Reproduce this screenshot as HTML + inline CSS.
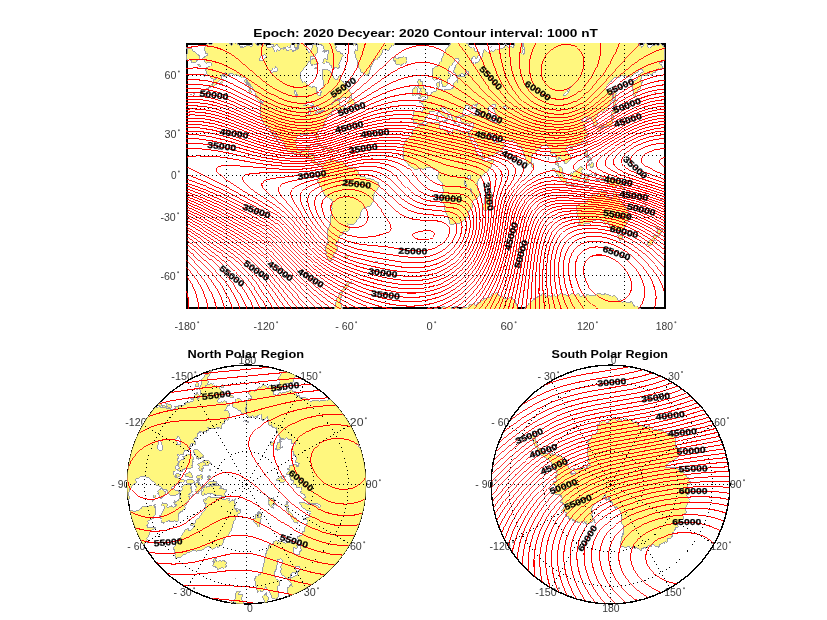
<!DOCTYPE html><html><head><meta charset="utf-8"><style>
html,body{margin:0;padding:0;background:#fff;width:827px;height:620px;overflow:hidden}
svg{display:block;will-change:transform}
path,line,circle,rect{shape-rendering:crispEdges}
text{font-family:"Liberation Sans",sans-serif}
.tk text{font-size:10px;fill:#3a3a3a}
.tk circle{fill:#6a6a6a;stroke:none;shape-rendering:auto}
.cl text{font-size:8.7px;font-weight:bold;fill:#000;stroke:#000;stroke-width:0.25px}
.ti{font-size:10.5px;font-weight:bold;fill:#000}
</style></head><body>
<svg width="827" height="620" viewBox="0 0 827 620">
<defs><clipPath id="mclip"><rect x="186" y="43" width="480" height="266"/></clipPath><clipPath id="nclip"><circle cx="246.5" cy="484.5" r="119"/></clipPath><clipPath id="sclip"><circle cx="610.5" cy="484.5" r="119"/></clipPath>
<clipPath id="nclip2"><circle cx="246.5" cy="484.5" r="119.5"/></clipPath><clipPath id="sclip2"><circle cx="610.5" cy="484.5" r="119.5"/></clipPath></defs>
<path d="M186,43h480v2h-480zM186,307h480v2h-480zM186,43h2v266h-2zM664,43h2v266h-2z" fill="#000"/>
<g clip-path="url(#mclip)">
<path d="M202.3,59l.5-1.3 1.4,.1 .2-.8 1-.3 .5-1 .6-.3 .6,.3 1-1.7-.9-.6-1.4,.7-1.1-4-.4,.2-.3-.5 .8-2.2 1.6-1.9 .6-1.9 .8-.5 1.5,1.5 .8-1 1,.7 .1,.8 1.9-4.2 .8,.4 .6-.9 .8,.9 .5-1.2 1.2-.5 .4-2.3 .6-.6 1,.6 .3-.5 1.5,3.1 .6-.7 .4,.4 .6-1.2 1.6,2 1.9-.5 .5,1.1 2.2,1.1 .6,1.5 .9-.3 .7,.6 .6,1.5 1.7-2.9 .8-.1 .4,.5 .3-.3 .5,.7 1.3-1 1.9,2.5 1.1-.4 1.4,3.6 1.4-2 .6,1.3 1.5-.2 .6-1 .7,.6 1.6-2.3 .6,1.2 1.4-.2 .3-.4 .5,1 1.6,.5 .6-.5 1-3.5 .3-.5 .8,.5 .2-.8 1-.8 .7,3.4 1.2,1.1 1.2-.2 1-1.3 .7,.1 .2,1.1 .7,.5 1-1.2 .3,.7 2-1.6 .8,.2 .3-.4 2.5,4.3 .3-.6 2,0 1.2-1.2 .7,.3 .9,2.7 1,1.1 .2-.3 1.1,2.6 2.2-3.2 1,1.6 .7,.1 .2-.9 1.1-.4 .3-.8 1.1,.3 .7-.6 1,.8 1-1.3 .7,.2 .6,1.5 1.3,1.2 2.7-2.4 1.5,.7 1.1,2.4 .8,.1 .5-1.3 .4,.4 .7-.4 .3,.5 .8-2.1 .8,.7 .7-.6 .3,.2 .3-.6 1.1-6.2 .6-1.5 .4,0 .3-4.2 2.8,3.5 .2,2.3 .7,1.2 .8,3.2 1.3,.3 1,2.9 1.7,2.9 .8-.3 .1-2.1 .5-.6 .3,.2 1.4-2.7 .3-3.2 .3-.1 .5,.9 .6-.2 .7-1.6 .8,.3 .9,1.3 1.2,4.3-.5,3.5-2.3,4.1-.8,.3-.7-.6-1,.7-.8-.3-.2-.8-.3,.2-1.6,5.9-1.2,.1-2,4.2-.8,.1-2.6,3.3-.7,1.6-.7-.2-.5,1-.2,1.8-.7,1.3 .3,2.4 .4,1.2 1.1,1.1 .9,2.5 1-1 1.2-.1 1.3,2.2 1.4,1.2 .8,.1 .5,1.2 1.4-.1 1.2,1.1 1-.6 1,.3 .7-1.1 .3,.3 .1,.5 1.6,1 .7,5.8 1.7,2.2 1-.4 1,.4 .6-4.5-.6-2.2 1.5-.9 1.2-1.8 .7-3.2-.1-1.2-1.3-2.4-.4-.1-.3-1.3 .8-1.7-.3-2.9 .4-2.2-.2-1.6-.7-.8 1,1.1 1.6-.7 .7,.8 .7-.9 1.2,1 2.8,.7 .7,.6 .4,1.4 1.6-.1 .6,5.3 1.5,.2 1.2,1.6 .2-.4 .9,.5 1.6-3.9 1.3-1.4 .3,.7 .1,3 .7,1.4 1.4,1.6 .7,.2 .7,2 1.3,1.1 .7,2.3 3.2,3 .3,1.9 1.6,1.1 .6,1.6-.7,1.2-1,.1-1.8,1.9-1.6,.7-.6-.1-.8-1.2-.6,.4-1.1-.4-2.1,1.4-.3,1.1-1.9,.4-1.8-1.3-1.2,1.4-.7-.2-1.4,.7-2.7,4.3 .8-1.6 2.1-1.6 3.1-1.4 1.7,0 1,.9-.8,2.6 .7,1.9 1.7,.6 .9-.7 .9,.5 .5,1.1 1.6-.2-.9,1.2-1.7,.4-.7,.8-.9-.1-.7,.7-1.7,.3-.7,.7-.5-1.5 1.6-1.5-.6,.6-2.6,.2-3.7,2.3-.6,.9-.2,1.1 1.1,1.5-4.2,.7-1.2,1.4-.5,2.5-1.4,1.1 0,1.1-1.1,1.4 .3,1.2 .8,.8-.2,.8-.8,.2-2.7,2.6-1.6,.3-2.3,2.8-.2,2.7 1.2,2.7 0,1.4 .6,.3-.2,2-.5,.6-.8-.3-.9-1.4-.2-1.2-.9-.7 .1-.8-1.6-2.7-1.6-.3-.7,.3-1.4-.9-1.1,.5-.5-.5-1.5-.2-.8,.5 .4,1.5-1.4,.2-3.7-1.1-1,.2-4.3,2.8 0,1.1-1.2,3.1 .7,2.2-.6,1.4 .5,.4 .2,1.8 1.9,3.1 2.1,.8 3.2-.9 .8,.4 .8-.7 .5-2.7 1.7-.6 1.3,.4 1.3-.5 .2,1.4-1.7,3.1-.1,3.2 3.7,.1 .9,.6 1.1,0 1,.8-.8,5.3 .3,.8 2.1,1.9 1.4,.3 1.3-1.2 1.4,0 2.8,1.4 1.6-1.8 .2-.9 2.6-.9 2.1-1.4 .8-.1-.6,1.5 .8,1.8-.8,.8-.4-.6 .6-1.6 1.5-.4 .9-1.4 2.9,2.6 1.4,.2 .5-.5 1.7,.8 1.2-.7 2.7-.2 .2,1.1 2,1.4 .5,1.2 1.5,.7 1.2,1.5 2.2,.6 3.2,0 1.3,1.2 1.8,.6 1.5,2-.2,2.6 1.5,2.1 1.3,.9 1.9-.7 2,.8 1.4,1.6 4,0 .6,.6 2.8,.5 3.1,2.5 1.6,.1 .6,3.7-.6,1.6-3.1,3.4-1.7,2.8 .4,1.2-1.1,2.6 .4,1.6-.4,2.1-1.4,1.3 .2,.6-1,1.3-.1,1-1.5,1.4-2.1-.5-2.3,1.6-1.8,.4-1.9,2.4-.6,2.3 .2,1.4-1.4,1.8-.3,1.4-2.3,2.1-.5,1.7-1.3,1.5-2.4,1.8-.9-.3-2,.4-1.7-1.5-.2,.9 1.6,1.5-.4,4.3-1.8,1-1,0-.7,.8-1.7-.5-.6,.4-.6,1.7 .3,.9-1,0-.7,.9-1-.6-1,.4 0,1.9 1.7,1.3-1.1,.2-.9,.9-.6,1.4 .2,1.6-1.9,.7-.5,.8-.4,1.3 1.9,1.6 .4,.9-1,.6-1.5,3.7-2,2.5 .1,1.1 1.1,1.5-.8,.3-1.3-.5-.5,.5-.9,1.2 .3,1.8-.8-.5-.8,.2-1.5-.9-1.2-1.7-1.3-2.8 .2-2.4-1.1-5.1 .1-1 .9-.2 .6-.8 1-3.9 .6-.8-.7-3.6 0-3.5 .5-.6-.3-2.1 1.6-4.2-.2-.7 .7-.5 .9-3.9-.5-2.8 .5-.6 .6-4.9 .7-1.2-.2-2.3 .4-1.1-.6-1.8 1-3-.4-2.7-.8-.7-.2-1.1-1.3-1-1.2-.1-.9-1-2.4-1.2-6.1-11.7-1.6-.9 .4-1-.5-1.3 .4-.8 .9-.4 .5-1.2-1.3-.5 0-1.2 1.2-1 0-1.8 3.6-3-.2-4.4-1.4-2.3-1.4-1-1.2,1 0,1.2-4.3-1.8-1.5-1.7-1.2-.7-.2-1.8-1-1-2.4-1.7-1.7,.3-1.9-.9-.6,.2-.3-.5-1.2-.2-.9-1.6-.8-.5-.9-.2-1.2,.7-1.4,0-1.1-.8-.7,.2-1.6-.8-1.7-.3-1-.9-3-1-2.4-2.1-.4-.9 .5-1.5-.6-.6 0-.9-1.4-1.2-.7-1.9-1.3-1.3-1.6-.5 0-1.2-1.4-1-2.2-3-.6-.2-.3-1.6-.9-1.2-1-.1-.7-.7 .1,1.4 1.6,2.9 1.4,1.3 1.4,4.4 2.2,2 .3,.9-.7,.5-1.8-2.5-1.1-.3-.3-.9 .3-.9-3-2.5 .5-1.2-1.6-1.1-1.2-1.9-1.7-4.4-2-1.5-2.1-.6 0-.8-2.3-2.8-.3-1.7-1.5-1.8-.2-1.6-.8-1 .4-2-.3-6.4 .6-1.8-1.1-4.7 1,.6 1-.2 .5,1.3 .7-1.3-.1-1.1-1.2-.8-.3-.8-1.1-.2-.9-1.2-.7-.1-2.2-2.6-.8-.3-.4-2.1-2.9-3.8-.3-2.3-.5-.9-.8,.1-.6-2-1.4-1-.7-1.7-1.1-.9-.2-1.2-1.2-2-1.9-.3-1,1.3-1.4-1.9-.8,.4-.4-.6-1.8-.6-.2-.6-1,.2-1.2-1-1.1,1.2-1.5-.8-.6-.9-.7,.4-1.9-1-1.3,.8-.6,1.3-.9-.2-.3,.8-1.4,1-.8-.7-1.1,1.2 0-3.9 2.1-1.2-.4,1.6-3.4,1.1-1,4.5-2.8,2.1-1.3,2.5-1.9,.6-1.4,1.7-1.3-.6-2.2,1.9-3.5,1.4 1.3-1.6 .7,.1 .9-.6 1.9-2.6 1.4-.5 1.8-4.7 2.2-.8-.8,.8-1-.4-.9,.8-.9-1.1-1,.5-1-.3-.9-1.5-.1-1.6-1.5,.7-1.3-1.1-2.3-5.9 .6,.2 .8-1 .3-1.8 1,.6 1.6-1.3 .8,.3 1.1-1.1 .5-1.8-1-.9-.7,.6-.4-.5-.8,.4-1-.9-1.6,1-1.2-1.5-.8,.2 0-1.9-.6-.7-.3,.3zM367.7,75.8l.3-1.3 1.1-1.1 1.9-6.9 1.7-1.9 1.3-4 .6-.1 .4-1.2 .9,1 .5,0 2-2.3 .8-.2 1.1-2.5 .8-.4 .1-1.4 1-1 .6-1.9 1.1-1.4 1.4,.9 .9-1.2 .5,1.2 1.9,.5 1.8-3.7 .3,.4 .3-.3 .5-1.2 .8-.1 .3,.4 .2-.5 .8,.2 1.5-3.8 .9,.3 .6-6.1-1-3.1 .4,.3 .6-.8 .8-1.8 .2-2.2 .7-.2 2.1-6.5 .5-6-.6,0 8.6,0-79.7,0 5.5,0 .1,.5 .3-.5 8.9,0 .8,2.6 .6-1 .7,.2 1.1-.7 .5,2.3 .8,.9 1.1,6.4 .3-.3 .7,2.1 .5,.2 1.2,3.8 .5,5.1 .3,.8 .3-.4 1.3,1.3 .4,1.1-.9,2.4 .5-.2 .7,.5 .8-.7 1.5,2.7 .3,4.1-1,1.7-1.1-1-.8,.4-.6,3.1 .9,1.7 .4,2.7 1.3,2.4 .3,3.3 1,2.1 .2,1.8 1.5,1.9 .8,2.7 .6,.3 1.1-.5 .4,1.3 1,.6 .9-.3 .5,1.5 .9-.2 .9,1.2zM343.4,55.7l-1.9,2.1-.7,3.2-.7,.7-.5-.2-.3,.8-.5,2.6 .9,2.6-.8-.4-1,1.6-.8-.2-.8-1.6-1.5,1.2-1-.3-.9,.8-.9-1.1-.2-1.7-.8-.2-1.5-2.1-2.9-2-.6,0-1.1,1.6-1.4,.7-.6-1-.7,0 .8-.9 1.1-2.8 .7-.6 1,.2 .7,.9 1.3-.3-.8-3.7 .7-1.4 .3,.2 .8-1.1-.6-3.1-1.2,.1-.4,1.3-.6,.5-.4-1.4-1.7-1.6-.6-2.9-1.5-.5-.4-1.9-.7,.7-.4-.5-.7,.4-1.2-.7-.5,.8-.9-1.7-.3,.2-.4-.9-.7-.2-1.1,1-1.2,0-.7-1.8-1.3-1.3-1.2,1-.8,1.5-.3-.8-.5,.3-.4-2.1-.4-.2-.4,.5-.6-1.3-.6-6 .8-3 1.6-1.2 1.6,.6 .6,1.2 1.3-2.2 1.1,1.8 .5-1.4 .4,.6 .3-.3 .6,.5 1.1-1.9 .3,.5 .3-.2 .9,1.6 1.2,3.8 .6,.2 .6-1.5 .6-.2 .9,1.1 .5,2.4 .6-1.9 .7,.1 .2,.5 .5-1.1 .9,.7 .4-.5 .9,1.3 .2,1.5 .3-.3 .6,.8 .9,2.6 .7,.2 .4,.7 .9-.8 .5,.2 .4,1.8 1.9,1.2 .3-.2 2,3.8 1.3,.8-.6,2.6 .7,.7 .5,1.7 .3-.3 2.1,.5 .3-.4 .7,.8 .3,1.6 1.4-.6zM325.3,15.9l-23.3,0zM319.3,23.8l-.4,0-.5-1.7-.8,0-.3-1.1-1,1.2-.9,2.5-.7-1.3-.7,.4-1.4-1.1-.3,.3-.6-1.3-.8-.3-.3,.3-.7-.7-1.2,2.8-1-2.3-.7,.8-.7-.9-.8,2.8-.4-.3-.4,.4-1.6-3-.4-4.3 .8-.7 1.1,2.3 1.4-2.7 10.6,0 1.2,3.6 1.1-1.3 .4,1zM291.7,44.6l-.7,.6-.3,1.7-.6,.7-.7,0-1.6-2.1-.5,1.4-2.1,.1-.8,1.4-.8-1.2-1.1,1-.6-.7-.8,1.5-.4-.1-1.6-1.4-2.2-3.5-2.5,2.7-.8-2.2-2.5-.2-.9-1.5-.7-.1-1.2-5.3 1.1,.2 1.8-4.7 .9,0 .6,1.3 .8,.3 1-2.3 .6,.1 .5,1 .8,0 .6-.8 .3,.3 .4-1.6 .8,1.3 .5-.9 .7,.1 .9,1.8 1.5-3.5 1.4,3 .6-.8 3,7.9 .3,.4 .7-.6 .6,1.6 2-.3zM259.1,35.7l.5,1.6 1,.7 .3-.3 .3,.8 1,.5 2.6-2.4 .5-2.2 .3-.5 .6,.1 .5-2.2 .9-1 .6,.5 .4-.2 .8-1.3 .1-1.7-.7-1-.3,.8-.8-.8-.4,.3-.5-2.2-.7,.4-.6-1.3-1-.8-.6,.9-.3-.2-1.5-2.9-.6,2-.6,.2-.7,1.3-.2,3.3-1.3,4.6zM285.2,20.7l-.5-.5-.5,.4-.7-1-1.3,2.4-.8,.3-2.1-2-.9,1.4-.3,1.6-.3,.3-.5-.8-.6,2.3-1.2,.8-.8-.4-.6-2.7-.8-.6-.5,.7-1.1-2.6-.6,.1-.4,1.4-.5,0-1-4.8 .3-.4 .2,.5 .6-1.2 3.8,0 1.3,1.7 .7-1.5 3.2-.2 .8,2.1 .7-.1 .6-2 2.3,0 1.1,4.7zM296,35.3l-.4,2.1-2.2,.9-1.2-3.1-.7-.8-.4,.5-1.2-.9-.4-1-.2-1.2 .6,.3 1.2-3.2 .3-.3 .4,.8 1.3-.3 .9-2.3 .7,.9 1.1-.1 .7,1.6zM305.3,33.1l-.4-.3-1.2,1.9-.9-.1-.8,1.1-.4-.2-.7,.8-1.2-2.4-.5-6.6 .6-1.5 .9-.1 .7-2 .5,.8 .5-.8 .7,2 .5-.1 1.5,1.9 .5,2zM296.7,19.2l-.6,2.5-.8,0-1.1,.9-.7-1.4-.8,0-.3-.4-1.2-3.8-.8,.2-.3,.9 .2-2.2 7.1,0zM310.6,15.9l-12.6,0zM318.6,63.1l-1.6,1.7-.3-.8-1-.5-2,1.8-1.3-.4-.4,.6-1.4-2.4-.6,.3 .8-1.7 .2-2.4 .7,.5 .6-.3 1-1.8 .6,1 .7-.2 1.3,.7 1.4,1.7 .5,1.7zM346.8,103.5l.8,.8 2.9-.8 .5,.9 2.5,.4 1,.6 .3-1.2 .7-.6-1.1-2.1-.1-1-2.1-.9-.7-2 0-2.4-.1,1-1.5,1.2-1.4,3.5zM261.7,102.1l-2.7-1.2-4-4 .7-.3 1.5,.4 .6-.5 2.5,2.4zM312.8,145.7l2.6-1.8 1.3,0 .6,.5 2.8-.4 2.9,2.1 2,.7 .2,.6 1.8,.6-1.9,.5-1.9-.4-.6,.4 .4-1-2.7-1.7-.7,.2-1.5-.9-1.1,.3-.6-.6-1.7,0zM326.7,150.5l1.4-1.8 1.6-.4 4.7,1.5 .3,.6-2.5,.3-1.5,.9-.8-.6-3.1-.1zM321.5,150.6l1.9,0 .9,.6-2.2,.4zM336.3,150.5l2.1,.1-.1,.6-1,.3-1-.3zM395.6,64.3l2,.3 1.3-.6 1.8,2.1 .7-1.2 1-.3 1-1.2 .5,.2 .5-.6 1.6,.1 1.3-2.5-.8-.5-.6-3.4-.8,.7-1.5-1.9-1.6,2.1-.4-.2-.6,.6-.4-.5-1.7-.1-.8,1.7-.3-.5-.8,.7-.9-1-.5-1.9-.4,1.1-1.2,.4-.4,1.1 .8,1.9 1.5,.5 .4-.5-.4,.2-1-1.3-1.3,1.4 1.1,.2 .9,1.4zM417.9,98.4l2.3,.3 1.6-.9 .6-1 .9-.3 .9,.7 1.4-1.4 .9-.1 .7,.6 .4-2.1 .2-1.3-1.9-.7-.5-2.3-1.5-1.3-1.7-4.4 0-.9 .9-1.6-1.5-.6-1.5,.4 .5-2.2 .8-.3-.7,.3-.6-.7-.6,.7-.6-.3-.6,.8-.4,1.2 .2,3.4-.8,2.1 1.3,.2 1,2.1 .6,0 1.1-.9-.6,2.5 .8,.9-1.1-.5-1,.7 .7,1.4-1.5,2.1 2,0 .5,.7-2.6,1.5zM417.5,94l.1-4.2 .5-1-1.4-1.6-1.4-.6-1.1,2.2-.5-.5-1.5,1.2 .8,3.6-1.3,1.5 .8,.9 1.6-.9 1.8,.6 1.1-1.2zM418.1,124.2l-1-1.3-.8,0-.8-.7-1.8,.4 .1-2.9-.9-.5-.2-1.1 .1-1.1 1.1-1.6-.7-3.3 1.7-1.2 2,.5 2-.2 .9,.7 2.1-1 .9,.5 .8-2 .3-2.8-1.3-2.6-3.1-1.1-.1-1.4 .5,.3 2.1-1.2 1.1,.2 .4,.7-.5-2.3 .9,.6 1.9-.2 .7-1 1-.4 .9-2.2 1.2-.7 .5,.4 1.8-3.5 1.5-.2 .6-.8 2.8-.3 .3-4.4-.8-2.3 .9-1.9 1.1,.3 .4-1.1 .7-.3-.3,1.4 .9,2.8-1.5,2.8 1.6,1.8 1.3-.9 2.2,1.2 3.1-1 .9,.5 1.9,0 1.6-1 .7,.3 .7-1.6 1.1-.3-.2-3.8 1.3-1.7 .5,.2 1.1-1 .5,.1 1,1.5-.2-3.6-.9-1.5 .7-.2 .6-1.7 1,1.1 .8-.4 3.3,.4 .7,.5 1.8-1.5-.7-1.1-1.1,.2-.5-1.2-.5,.2-.4-.6-1.6,.7-.4,.7-.4-.2-1,1.5-1,.3-.6-.3-.3,.5-1.2-.7-.7-2.2-1.4-1.2 .4-4.3 .8-.4 .6-2.8 3.1-2.9 .4-1.5-1.1-2-.4,.3-1.5-.8-.8,.5-1.2,3.4-1.3,1.2-.8,2.4-1.8,.7-1.5,2.4-.5,2 .1,2.2 .8,1.3 .7,0 .7,1.4-1.1,3.3-1-.2-.6,.8-.5,5-1.6,2.4-1.6,.2-.6-.7-1,.2-1.1-5.9-1-1-1-2.8-2.2,3.3-.8-.1-.3,.4-.6-.9-.7-.2-1.3,1.1-.3-.5-.5-3.6-.6-1.3 .4-6.4 .6-.6 .2,.4 1.2-.3 1.5-2.1 1.2,.9 .7-1.6 1.4-1.4 .5-1.8 1.2-1.4 .6-2 2-3.3 .5-2.6 1.4-1.6 2-4.2 2.9-2.6 .5-1.4 .9,0 .5-1.9 .9,.2 .5-1.1 .7,1.3 1.4,.6 .9-1.2 1.1,.2 1.2-2 .7,.9 1-1.1 .5,.7 .5-.6 1.7,1.8 .4,2 .4-.2 .4,.4 1.1-.8 1,1.5 .7-.2 .4,.5 .4-.4 .4,1.8 1,1.3 .3-.2 .4,1.3 .5,0 .8-1.1 .9,1.3 1.2-.5 1.3,4 .8,0 .6,.6 1.2-.2 .3-.7 1,.7 1,3.3-1,.9-.8-.3-.4,.4-.6,2.1-1.1,.4-1.9-2.9-.5,0-1.1,2.7-.8,0 0,4.2 1.9,.5 1,1.3 .8-.6 .6-1.6 1.3,.7 .2-.7 1.1,0 1.7-3.4 .8-.3 1.2-1.3 .3,.3 .6-6.5 .7-1.4 1.1,.4 .5,1.5 1.1-.9 1.6,1.8 1-.3 1.1,.3 1.3-2.2 1,1.7 .7,.3 1.1-1.3 .3,.5 .4-1.7 1.5-.9 2.2,1.3 2-1.5 .7,.5 .4-1.1 .9,.4 .7-.4 .3,.5 .6-2.2 1.4-1.6 .7,.2 1.2,2.2 .7,.3 1.8-.2 .3-.7 1-.4 .9,1.5 1.4-.2 .8-6.5-.4-1.7 .5-1.7 .3,0 1.1-3.2 .7-.8 .5,.1 .9-3 .2-.2 .5,.6 .6-1.3 1.1,2.5 .5-.3 .8,5.1-.8,4.6 .4,1.3 .3-.3 .3,.5 1,6.8-.6,2.3-.7,.5 0,.8 .9,.9 1.1,.1 1-4.5-.4-2.6-.4,0-.4-.8-.4-2.3 .3-2.7 2.6-8.1 .3,.3 .7-.6 1.3,1.6 .3,1.3 .4-.7 .7,.8 .6-1.7 .5-.3 .6,.7 .3-1.5 .6-.2 .1-3.8 .3-.7 .4,.2 .6-1.5 .4-.3 .3,.9 1.2-.2 1.6,1.9 .4,0 .5-1.8 .7,.2 .6,1.2 .3-.7 .4,.2 .6-1.5-.3-2.3-.5-1.1 .5-2.7 1.1-.9 .2,.8 .2-.5 .9,.2 .4,1.5 .5-.5 1.8-5.8 2.4,0 .3,1.3 .8-1.3 .4,.5 .2-.5 24.3,0 .4,.9 .9-.3 .4,.5 .5-.5-1,7-1.2,3-.3-.3-.5,.5-.5-.7-.8,0-.7-.7-1,1.9 .7,1.6 .8-1.1 .5,0 .9,.9 .2,2 .9,.3 1.4-2.4 1.1-.1 1.1-2.6 .8,1.5 .5-.1 .2,.7 .5,.2 .9,2.6 .2-.4 .8,1.2 1.1-.6 .2,.5 .5-1 .3,.8 .7-.3 .3,.6 1-1.3 .4,.7 .6-1.5 .3-.1 .4,.5 .3-.5 1,1.6 .2-.8 1,.4 .4,1.5 .3-.1 .2,.6 .6-.4 1.6-3.6 .6,2.5 .7-.7 .8,1.8 .2-.5 .7,.2 .8,4.3 1.9,4.1 .6,.1 .6-2.1 1.7-1.6 1.3,.1 1.3,3 .6-.8 .8,.2 .7-1.7 .5,.3 1-.7 .4,.7 .8-1.9 .7,1.8 .2-.5 .5,.5 .8-4 1.4,.4 .7-2.2 .4,.4 .9-1.1 .4,.6 .4-.6 1.2,2 .7-2 2.3,1.8 .4,1.2 1.6,0 .5,.9 .8-.1 .2,.6 .6-.4 .9,1.9 .7,.2 1.9,3.1 1-1.6 .2,.3 .3-.4 .5,.7 1-1.1 1,1.3 1-1 .5,1 .5-.2 .7,1.7 1.7-1.2 .3-.9 1.1,.7 1.6,3.2 .6,2.2 1.4,.4 .8,2.2 .7-.2 2-4.4 .6,.1 .2-.7 .9-.4 .5,.5 2.1,5.7 2.1-.2 .9-1.2 .3,.3 .8-3.2 .3,1.4 .5,.6 .6-.7 .5,.6 .4-1 .6,0 .5-.8 1.5,1.7 1.9-.9 .6-1.4 .2,.5 1.2-.2 1.2,2.1 1.1-.3 .8,1.8 0,12-2.3,3.4-.3,.2-2-1.4-.3,1.3 .3,1.2 1,.2 1.5,1.9 .2,1.9 .8,1-2.3-.9-.9,1.3-.7-.4-.3,.3-1.2-.2-1,1.6-.7,0-.7,1.4-1.1,.8-1.4-.1-1.5,2.8-.6-1.3-1.1,.1-1.4-1.2-.7,.3-.7,2.2-1.6,.4-1-.7-.2,.4-1.1-.9-1.6,1.2-1,4.4 1.2,.2 .4,.8-.9,4.4-1.1,1.1 .4,1.8-.5,.6-1.8-.1-.6,1.2 0,1.7-1.8,1.7-1.2,2.2-1.1,.4 .2-1.8-.5-.6-1.3-10.7 2.3-2.6 2.9-1.8 1.7-4.7 1-.1 1.5-1.5 .4,.1 1.3-1.1-.2-1.7-.6-.7-.6-.1-.6,.7-1.3-.8-1.1,1.2-.2,1.5-.6,.8-.3,.3-1-1.2-.6,1-3.3,2.5-1.9,2.3-1.5-.8-.8,.1-1.2,1.1-.7-.4-.8-1.8-2.1,.9-1.5-1.3-2.7,2.2-1.1-.1-.4,.8-1.7-1.1-.6,.4-1.1-.3-.8,1.5-1.8,1.3-.3,1-2,.7-1.2,2-1.3,.9-2,2.9-.2,.9 .6,.9 .6,.5 2.2,0 .6,.9 .8-.9 1.7,.1 1.7,2.1-.1,2-.9,2.1 0,4.3-.5,1.5-1.6,.9 0,1.4-1.2,2.5-3.5,3.8-1.8,.3-1.2,1.7-1.9-.7-2.5,2.6-.9,2.5-2.3,.9-.1,1 .7,.2 1.6,2.9 .4,2.3-.5,1.5-.7-.2-2.7,1.3-.3-1.1 .5-.5-.1-2.2-.7-1.6-1.2,0-.6-.7 .6-1.3-.1-.8-1.2-1-1.7,.6-1.1,1-1.3,.2 .7-.9-.3-.7 1.1-1-1.6-.7-3,2.7-.8,.6-.9,0 .3,.8 1,.3 .9,1.9 .7,0 1.5-1.2 2.3,.7 0,.8-1.9,.5-2.5,2.8 1.8,1.5 .2,1.8 1.6,1.8 0,1.2-.8,.3 .2,1 .8,.4-.5,2.4-.8,.2-3.2,5.3-1.1,.4-1.5,1.9-2.6,.5-.8,.6-.5-.5-1.7,1.2-2.3,.4-.5,1.6-.7,0-.4-1 .4-.6-.4,.3-1.4-.7-2-.2-1.8,3.9 1,1.5 .9,.7 0,.6 2.4,2.4 .6,3.2-.7,2.3-2.2,1.2-1.7,2-.9,.4-.5-.8 .3-.9-.4-.5-1.7-.5-1.7-2.6-1.9-.1 .2-1.1-1.1,0 0,2.1-1.2,3.6 .9,0 .8,2.4 3,2.1 .9,1.3 0,2.2 1.1,2.6-1.7-.2-2.1-1.8-2.9-7-.9-.5-.3,.8-.3-1.6 1.1-2.3-.1-.9-2.1-7.6-2.4,1.7-1.6-.4 .2-3.7-1.2-1.1 .3-.4-1.3-.8-1.7-3.6-1.2,0-.3,1.4-.7-.3-3.8,.8 .1,1.1-3,2-1.3,2-2.1,1.2 0,.5-.6,.5-1.9,.5 0,4-.8,2.4 .3,1.1-1.3,.6 .4,1-.7,0-1.6,1.6-1.2-1.2-.6-2.6-1.5-1.8 0-1.7-.8-1.6-1.3-1.3 .3-1.3-1.4-4.6 0-2.3-.8,.8-2-.1-1.5-1.1-.2-.6 .5-.6-1.8-1.7-1.1-.3-.7-1.8-.6-.4-.6,.5-1.3-.4-1.5,.5-4.4-.1-4.2-.9-.6-.9 0-1-.6-.2-2.4,.9-2.4-.8-1.1-1.4-.7,.1-1.4-3.1-2.1-.5-.4,.6-.8-.2 0,.8 1.1,2.7 .7,.3 .2,1 .8,.2 .6,2.5 .4,.3 .5-.9-.2-1 .7,.4 0,2.4 .5,.4 .7-.4 1.3,.4 3.5-3.2 .8,2.7 3.4,1.4 .7,1.4-1.7,2.7-1,.3-.1,1.8-1.4,.5-.4,.9-1.4,.5 0,.5-3.8,1.1-.3,1.1-3.4,1.3-1.2,.9-6.9,1.9-1.2-3.5 0-2.2-.4-1-1.2-1-.7-1.8-2.1-1.7-.5-3.6-1.9-1.6-2.8-5.2-1.1-.4 .5-1.9-1,2.3-2.1-3.1-.4-2 1.3,.1 1.7-.6 .4-2 1.5-2.9 .2-2-.5-.8 .6-.7-1-.5-1,.4-.3,.7-2.2,.8-2.2-1.6-2,1.2-1.3-1-1.5,0-1.7-2.5 .7-1.3-.9-1.7 2.7-1.2 1.1,.5 .3-1.4 1.2,.1 .7-.3 .6,.3 1.6-1 .8,.1 1.9-1 1.1,.3 1.6,1.7 .7-.4 .9,.6 1,.1 .7-.5 2,.3 1.6-.9 .4-.9-.2-1-1.9-.9-.5-1.4-1-.9-1.4-.3-1.9-1.3 1.6-1 .4-.9-.6-.8 1,.1 .8-1.5-3,1.2-.7-.3-1.3,.5-.5,.6 .1,1.2 2,.3-.3,.8-2.4,.5-.8,.8-.8-.4 .3-.8-.6-.6-.7,.1 1.4-1.2-2-.9-.5,.2 0-.8-1.3,.2-1.5,3-1.1,.2-.2,2.3-.8,.7-.4,1.3 .5,1.8 1.2,.5-3.4,2-.6-1.1-.8-.2-2.2,.3 .9,1.1-.7,.2-.8,0-.6-.9-.3,.3 1.1,1.9-.6,.4 1.4,1.3 0,.9-1.2-.4 .4,.9-.8,.2 .5,1.4-2-.6-2.3-5.4-.7-.5 0-2.9-3.9-2.9-.7,0-1-1.3 .2-.1-.6-.8 0-.7-.8-.2-.5,.7-.3-.5 .3-1-1.1-.2-1.1,.6 0,1.5 1,1.6 .6,.2 1.2,2.6 2,.4 .4,.5-.4,.3 3.5,2.3-.3,.7-.3-.6-1.6-.4-.6,1 1,.7-.2,.9-.6,.1-.6,1.4-.6,.1 .6-1.8-1-1.8-2.3-2-2.7-1.4-1.5-1.7-.4-1.8-1.7-.9-3.2,2.4-.5-.7-1.3,0-1.7,0-1,.7-.1,2.1-1.2,1.3-1.7,.3-1.4,2.1 .4,1.9-.8,.7-.2,1.2-1.6,.7-.3,.7-2.3,.6-.7-.6zM186.5,47.3l.7,1.4 .5-.4 .4,.5 .4-.6 .9,.3 .2-.5 1,0 .2-.4 .4,.7 .3-.3 1.6,3.6 .5,.3 1.9-.3 1,2.8 .7-.5 2,1.3 .8,2.2-2.3,2.9-1.2-.7-.7,2.9-.6,.5-1.8-.4-.3,.5-.9-.9-.3,.4-.8-2.3-1.3-.5-.6-.8-1.7,1-.5-.8-.5,.1-.1-3.2 .8-3.5 0-2.5zM417.7,124.5l-1.7,3.4-3.2,2.2-.4,4.3-1.9,2-2.9,1.4-1.2,1.5-.8,2.4-1.2,1.4 0,.8-1.3,1.4-.3,2 1.3,3.8-.9,3.7-1.1,1 1,.6 .2,2.5 4.7,4.7 .4,1.7 7.1,4.5 4.8-1.3 2,.7 1.3,0 3.1-1.5 4.5-.6 2.1,1.9 0,.8 3.5-.3 1.2,1.1 .5,.8 .2,2-1.5,4.4 4.7,5 .7,3.7 .4,.5-.4,.7 .2,.9 1,2.3-1.2,2.6-.7,.4-.1,2.6-.8,1.5 .7,1.8-.2,.9 .8,1.7 .9,.4 .9,1.2 .7,2.9-.3,1.9 .6,1 0,1.8 1.1,2.4 1.6,1.8 0,.7 1.9,3.4 .2,3.8 1.1,.9 1.2,.2 .8-.6 2.5-.6 2.1,.3 1.4-.8 .8,.3 3.1-1.8 3.9-4.9 1.5-1.2 .7-1.3-.2-2.8 .4,.2-.4-.8 2.9-1.4 .8-.9 .4-2.4-1.2-3.5 2.4-2.2 .1-.7 1.8-.7 .8,.2 .7-.5 .9-2.3 1.3-1.2-.5-.7 .3-1.5-.5-2.4-1.1-.5-.4-.9 .4-4.6-.9-.5 0-.8 1.1-2.1 .7-.5 .2-1.7 2.2-1.6 .5-1.7 1.6-.9 1.2-1.7 1.5-.3 .7-.5 2.5-3.3 1.6-1.4 .5-2.2 2-3 0-2.8-9.2,2-.8-1.2-1.1-.5 .5-1.4-2-1.1-.5-1.4-.4,.6-1.2-.6 .1-.6-1.8-2.6-.4-1.5-1.3-1.4 0-1.9-.7-2.5-1.9-1.5 .2-1.2-1.2-1.3-.4-1.4-1.8-2.7-1-3.4 0-2.3-2.2-.5-2.7,1.4-2.8-1.4-1.7,0-2.7-.9-.3-.6-2-.3-1.8,.9 0,1.9-1.3,1.1-2.2-1.3-1.6,.3-1.3-1.3 0-.9-.9-.6-2.7-.6-.6,.3-1.4-.6-.4-.8-.6,0-.3-.8 1.1-2.3-.4-1.2 .5-1.1-2-.3-.6,.6-2.7,.2-.9-.5-1.4,.6-.6-.3-1.6,.4-1.7-.6-6,3-3.2-.2-.8-.8zM491.2,192.2l1.4,3.7-2.7,7.4 .3,.8-1.1,1.9-1.1,3.7-2.2,1-1.9-.9-1.2-3.6 .4-1.7 .7-.2 .7-1.5 .1-1-.7-1.6 .6-2.9 2.5-.6 1.4-1.1 2.4-3.2 0-.8zM531.6,162.4l1.2,.7 .2,1.5 1.1,.9-.3,1.4-.7,.6-1,0-1-1.9 .7-2.1zM576.2,205.5l.9,6.2-.5,.3 .6,2.3 .9,1.4 .3,3 .9,1.7-.2,2-.9,.5 0,1 1.3,1.1 2.7,.3 2.6-1.9 .9,.3 .9-.5 3.1,.2 .8-1.4 1.9-.6 .5-.7 1.4,.2 1.8-1 1.5-.1 .8,.5 .6-.7 .8,0 3.9,1.7 1.3,3.1 .9,.6 .2-1.2 2.4-2.5-.4,3.4 .9-.5 .4,.8-.5,1.1 2,.9 .6,2.6 4.7,1.9 1.2-1.2 .6,0 .9,1.4 .9,.1 .9-.3 .5-1 1.2-.7 1.5,0 .5-.7 .4-2.8 1.2-1.5 .5-2.3 1.5-1.3 .7-1.7 0-2.8 .8-1.6-.7-1.9-.3-3-2.5-2.6-.2-.8-1.1-.9-.7,.1-.5-2.2-1.6-.8-2-1.8-.2-1.6-1.4-2.4 .1-1.7-.9-.9-.9,.4-.4-2.2-1.5-2.2 0-.8-.9,1.5-.4,5.6-1.7,2.5-1.8-.8-.9-1.1-2.5-1.2-1.2-1.1 .3-1.3 1.4-1.1-.3-.8 .7,.1-.4-.4-.5-.3-1.2,.4-4.8-1.2 .8,1.2-.8-.2-1.6,.6-1.1,1.5 .7,.9-1.2,.2 .3,.8-1.6-.1-1.7-1.5-2.2,.5-2,3.1-1.3,0-.9,1.1-.1,1.4-2,2.4-5.3,1.1-2.8,1.9zM617.6,234.8l2.9,1 1.9-.7-.3,1.1 .3,2.2-1.1,1.3-1.3,.6-.6-.3zM654.8,224.2l2.1,1.5 1.4,3.1 .6-.7 1,.6 .4,1.3 2.2-.4-.8,2.6-.8,.2-2.1,4-.7,.1-.1-.5-.7-.2 .8-1.4-.4-1-1.4-.7 .1-.7 .9-.5 .2-2.4zM654.9,234.4l1.4,.7 .5,1.1-.7,2.1-1.3,1.3 .5,.9-.5-.3-1.6,.9-1.2,3.2-1.7,1.3-.6-.3-.6,.3-1.5-1-.8,.2-.2-.5 1.8-3.2 3-1.6 1.7-2.1 .9-2.2zM613.9,118.8l-.7-3.8-.7,.6-.8-.2-.5,4.3-1.9,2.2-1.6,1-.7-.8 0,.9-.9,1.7-5.4,.5-1.3,1.1-.1,1.1 1.9,.1 .4-.5 2.5,0 .8-.5 .8,.6 .1,1.1 1.9-1.7 2.2-.2 .7-.8 1.2,.2 .7-1.2-.3-.8 .5-2.8zM597.3,128.6l2-1.2 .9,.5 .3,2.4-1.5,1.9-.6-.7 .2-1.4-.8-.4zM601.6,129l.5,.5 .4-.7 1.9-1-.2-.7-2.1,.3-.5,.5zM613.2,115l-1.8,0 .2-1.1-.5-1 .7-1.3 1.4-.2 .7-4.1 1.1,1.7 1.6,.9 .9,.5 .9-.8 .3,2-.9,.7-1,0-1.2,1.6-2.1-1.2-.7,1.6zM614,106.6l.8-.6 1.2,.4 0-1.4-.8-1.2 2.3-2.9-1.9-.9-.5-1.1 .2-2.8 .9-2.8-1.2-4.2-.7,.4 .3,1.6-1,.4 0,6.4 .6,1.1-.5,4.3zM587.2,141.1l.2,1.4-.9,2.5-.7,.6-.8-2.4 1.8-2.4zM569.7,149.2l2.4-1.4 .8,1-.5,1.1-1,.2-.5,.8-1.1-.4zM585.6,150.5l2.2,0 .3,1-.3,2.1-.7,.5-.4,1.7 .4,.5 2.2,.1 .7,.6 .3,1.8-.7-.2-.9-1.3-2.4,0-.7-1 .4-.4-1.2-.5-.1-2 .5,.6zM593.3,164.3l-.2,2.8-.6-1.3-.5,.6 .4,1.1-.4,.6-1.6-.8-.4-1 .4-.7-.8-.5-2,1.2-.2-.4 .5-1.1 1.6-.9 .4,.7 1-.4 1.1-1.8 1.1,.7zM587.5,161.6l.5-.6 3.5-.6 .6-1.2-1.6-.6-2.5,1.3-.6-.3 .3,.8-.2,.8 1.7,1.9zM582,170.1l-.8,1.1 1,1.2 .4,1.6 .9,.3-1.6,.1-.4,2.2-1.2,.9-.1,1.3-.7,.9 .2,1.1-1.5-.8-2.3-.4-1.6,.6-.5-.7-2-.1-.4-.9 .3-.9-1.2-.8-.3-1.2 .4-2.4 2.5-.2 .3-1.1 .6,.2 1.5-.7 2.2-2.4 1-.1 1.8-2.6 .5-.1 1,1.4 1.8,.7-1.1,.6zM552,168.2l1.4,.6 1.6-.2 .3,.8 2.6,1.8 1.2,1.5 2.1,.3 .7,1.3 1.4,1.1-.5,1 1.3,.6 .7,1.6 .9,.1 .7,.9-.4,3.7-1.5,0-.3-.8-2.5-1.4-3.1-3.5-.5-2-.8-.4-.4-1.6-4.1-4zM566,183.3l2.1,.1 1.7,1.2 1.3-.5 1.1,.6 .5-.5 1.5,0 1.6,1.7 1.7,0 .2,1.1-1.5-.4-1.9,.2-3.5-1-2.8,.2-1.1-.6-.3-.7-1.2,0 0-.8zM586,173.8l1.3,.5 3,0 1.3-.9-.1,1-1.8,.8-4.6,0-.3,1 1.2,1.2 .8-.6 2.4-.5 0,.7-1,.1-1.4,.9 1.2,1.2-.1,1 1.2,1.5-.3,1-.9-.2-.4-1-.7,.1-.6-.5 0-2.1-1,.4 .7,1.7-.5,1.7-.8,.3-.6-.4 .4-1.2-.2-1.3-.6,0-.3-1.6 1.1-1.6 .4-2.3zM599.4,177.4l1.9-1.4 1.1,0 1,.6 .6,2.6 1.4,.8 1.1-1.4 2-1 5.8,2.3 3.2,.8 1.4,.9 .4,1.2 1.3,0 .9,.8 .4,.7-1.3,.1 .3,1 1.2,.8 .2,.8 .6,.6 .8,0 0,.6 1,.2-.4,.3 .8,0 .6,.6-1,.5-.9-.7-1.9-.1-1.6-1.1-.9-1.6-1.8-.7-1.8,.8 .1,1.1-1.1,.4-2.1-.3-1.1-.9-1.4-.4-.3,.4-1.7,0 .5-1.1 1-.4-1.1-2.5-1.8-1.1-3-.5-.8-.9-.9,.7-.3-1-1-.7 2.4-.4-.2-.4-2,0-.5-.8zM591.4,187.4l3.1-.7-1.8,1.4-1.1-.1-2,1.4 .5-1.5zM584.7,186.7l1.9-.5 2.2,.4-2.2,.8zM580.7,186.8l2.7-.2 .2,.5-3,.4zM595.3,172.6l1.1,.8-.5,1 .4,.7-1,.3 .3,1.3-.9-.8zM595.6,179.2l2.5,0 1.1,1.5-1.2-.7-2,0zM622.4,182.9l1.3,0 1-.8 1,.7 1.6-.7-.6,1.1-1.8,.7-1.7-.3zM643.3,202.8l2.8,1.2 .6,1.6-.8,.1zM660.9,199l.9-.2 .7,.6-.3,.7-1.2-.2zM637.4,186.2l1.6,.5 .3,.8-1.2-.3zM493.9,37.4l1.1,.4 .9,2.5 .6-1.2 .4,.5 .7-.2 1.9-5 .4-4.4 1.4-2.9 .6-5.4 1.1-2.9 .7,.3 .8-.7 .2,.6 .9-.5 .8-2.6 1.4,0 .3,.6 .3-.4 .7,1.4 1-1.6 6.4,0-11.8,0-.2,.5-.8-.3-.5,1-.5-.9-.2,.6-.6,0-1,1.4-.8,3.7-1.2,1.4-.4-.4-.3,.4-.7,4.2-1.4,2.9-.7,3.9-.5,0zM440.1,15.9l21.3,0zM450.1,15.9l11.9,0zM487.9,15.9l23.2,0zM549,15.9l13.3,0zM606.1,23.8l.3,.4 .8-.9 .3-1.8 .9-.7 .6,2.4 2.1,2.2 .6,1.7 1.3,1.5 1.9-4 .4,0 .3,1.1 .4,.1 .7-1-1.2-.4-1.1-4.5-2-4-4,0-.3,.6-.4-.3zM618.7,20.2l.6,2.6 1,.7 .7-.5 .2,.7 .6-1.9 .8-.6 .3-1.8 .6,.7 .5-1.2 .3,1.8 .3-.3 .3,.5 1.1-.7-1.4-1.1-.5-2-.8-.1-.7-1.1-2.4,0zM662.5,37.4l.5-.5 1.2,1.7 .3-.3 0,.8-1,.8-.9-.8zM186.5,38.3l.4,.7 .5-.5 1,1.9 .2-.5 .5,.4 .7-1.6-1.3,2.3-1.3-1.7-.7-.2zM197.5,64.6l.5-.6 1.4,.9 .5-.3 1.5,1.5-1,.9-.7-.2-1.2-.7zM220.1,82l1.4-1.5 1.6,1.2 .3-.2-.5,0-1,1.7-1,.6-.7-.6zM204.4,91.3l1.4-1.3-.7,.6-2,.1 .6,.8zM436.7,119.2l1.5-.2 .4-1.1-.8-2.5-.8-.1-.6,.6 .5,2.4zM436.9,114.1l1.1,.9 .1-2.5-.4-.4zM442,121.2l.8-.5 .8,.6 2.6-.9-.7,2.6-2-1.7zM456.7,125.3l2.5-.5 1.2,.5-.5,.5zM468.4,125.8l.6-.6 1.7,0 .7-.5-.8,1.1-.7,0-.6,.7-.8-.2zM428.7,118.2l.9-.6 .5,.4-.5,.7zM344.2,256.2l.8,0 1.4-1.1 .8,0 .7,.8 .9-.1-1.6,2.1-.7,.2zM218.5,148.5l.6-.1 .9,.7-1.1,.8zM375,261l.8,.1 .5,1 1.4-.6 .3,1.3-1.8-.3zM516.9,249.9l1.1-.5 1.1,.9-.7,1.5-1.5-.4zM548.6,157.3l.4,1.5-.4,1.3-.3-2.1zM614,27.2l.6,1 .9-.6 .5,2.4-1.6-1.8-.3,1.2-.5,.3-.9-1.1 .6-1.3 .4,.4zM416.2,69l.7,.8-.5,.5-.5-.2zM353.1,45.4l.5,.6 .6-.1 1.6-2.4-.3-.5-1.7,.2-.7-.9zM489.9,46.9l.4,.6 .8-.1 .5-1.3-1,1.5zM503.2,42.7l1.2,2 1.3-1.2-.5,1.2-.7-.1-.2-1zM558.3,15.9l5.3,0zM316,69.3l-1.5-1.2 2.4-1.1 .4,1.4zM318.6,69.8l.8,.1 .5,1.1zM316.9,92.2l1.2-.4-.8,1.1zM322.6,51.6l.8-.4 1.3,1.4-.5-2.4-.9,.2zM319.3,29.5l.7-2.2 1.1-.9 1,3.1 1.8,1.8-.4,.6-.7-1.6-1.3-.3-1-2.5zM301.4,20.2l-.5-.3-.8,1.7-.5-.1-.7-2-.7,0-.2-.9 .8,0 .6-2.1 1.2,2.8 .6-1.8 .8,.1zM297.4,49.1l-.3-.7-.8-.2-.2-.9-.6,1-.8-.3-.5-1.1-.2-1.9 1.3-1.9 .7,0 .7,.8 .3-.3 1.4,2.9-.4,.1zM278.1,15.9l-2.6,0zM272.8,15.9l-2.1,0-1.1,4.7-1.4-1-.4,.6-1.6-3.7-.9-.6-2.5,0zM296.7,15.9l-9.3,0zM248.6,84.6l.6,.8 .6-.1 .6,1.9-.4,.8-.6,.2-1.3-1.4zM244.5,80l.9-.7 .8,.4 .6,1.8-.3,3.1-2.2-3.6zM246.5,79.7l.5,.8 .6,0 0,2.2-1.1-1.3zM247.6,82.9l1.6,.3 .2,1.2-1.6,0zM248.8,89.5l.9-.3 .9,.8 .6,2-.7,2-1.4-2.3zM206.4,88.6l2.3-.2-1.6,.9zM202.7,90.2l2.1-.2-.4,1.3zM201.1,91.5l.8-.6 .8,.2-.5,1.1zM193.1,93.5l2,.2-.9,.7zM190.2,94.6l1.3,0-.8,.6zM654.5,92.4l.9-.3 .9,.5-1.1,.9zM203.8,74.2l.2-.2 .8,.4 1-.4-.3,1.6-.7,.6-.8-.4zM222.1,79l.7,.5 .7,0-.8,.7zM229.3,74.5l1,.8-.3,.6-.3-.1zM186.5,335.1l53.1,0-23.9,0 10.7,0 .4-.9 .5,.5 .5-.9 .6,1.3 5.3,0 .6-1.7 .7,1.5 1,.2 .2-.9 .8,0 .7-.7 .2-1.3 .7-.7 .4,.2 1.6-3.1 .7,.2 1,1.7 1.5-4 1.5,1.4 .3-.8 .6,1.6 .7-.9 .7,.7 .2-1.1 .8-.7 .6,1.1 1-1.1 .7,.2 .9-2.5 .8,0 .3,.9 .4-.6 .3,.4 .6-2 .6,1.2 .4-.3 .3,.8 .4-.3 .3,.5 .3-.5 .7,.5 .4-.2 .6-1.4 1.3,1.4 .6-1.4 .4,.7 .4-.3 .6,.6 .9,2 .7-.1 .4,.5 1.3-1.9 1.4-.1 .5-2.1 .7-.8 .4,.5 1.1-.9 1,4.1 .4,.4 .4-.6 .8,.8 .3,2.8 1.5,2.6 .3-.8 .4,.5 .4-.4 1.3-2.5 1.5-1.3 .7,1.3 .3-.1 1.3-2.9 1.1-.7 1.1,4 .4,0 .3,.7 1.4-.1 .3,.8 .3-.5 .3,.5 .7-1.4 1.3,1.4 1.6-2.7 .6,.2 .8,2.1 1.9-6.6 .8-.3 .3-1.7 1.3-2.3 1.1,1.8 .3-.5 .5,.1 .6,2 .6,.4 .7-.3 1.1,.5 .5-.9 1,1.6 .3-.4 1.1,.1 .3,1.1 .7,.1 1.5-3.6 1.4-.1 1.2-2.9 1.7,1.6 .4-.4 1.2,2.1 .6,2.4 .8-.1 .9,1.2 1.7-3.5 .5,1.2 .6,.5 .2-.3 .5,1.1 .4-1.6 .3,.3 1-1.8 2.5,3.7 .7-1.2 .6-.1 1-2.2 1.1,.9 .4,1.7 1.6-3.4 1.4,.4 .8-2.5 .8-.8 .6,.3 .3-.3 1.1-3.4 1,.4 1-1.7 .8-.3 1.1-2.5 2.4-11.3 2.5-3.3 .5-2.2 1.2,.1 .6-2.7 1.5-1.4 .8-2.3 1.8-.6 1.6-3.2 .6-.3 1.9,1.1 1.4-.9 .5-1.3-2.2,1.6-1.6,3.8-1.1,1.1-.4-.4-.8,.3-1.1,2.7-2,1.9-2.6,8.7 0,1.7 1.1,1.3 .1,2.5 .9,1.4 .4,0 1.3,6.1 .3,4 .6,0 .2,.6 .2-.4 .7,1.1-.6,3.6-1.1,1.8-.5,4.1-.7,.1-.6,2.7-.8,.8-.6-1.6-.8,.4-.7-1.1-.5,.1-1.6,5-11.9,0 61.6,0 1.4-4.3 .4,.9 .2-.4 .5,.4 .7-1.2 .4,0 1.3,1.4 .8-1.7 .9,1.1 1-2.4 .9-.3 .3,.8 .7-3.6 .9-.3 .2-.7 .6,1.1 .7-.3 1-2.5 .9,2.3 .6-.6 .6,1 .4-.9 .4,.1 .8,1.4 .7-.5 .8,.3 1.2-2.7 .4,.8 1.3-7 1.3-2 .2-1.4 1.8,.5 1.2-2.5 .8-.6 .9,.5 .7,1.4 .5-1.4 1.4-1.2 .3,.8 1.1-.2 1.3,1.7 1.1-.4 .9,2 .7-1.4 .4,.5 .7-.6 .5-1.8 1.7-1.7 .7,.8 1.1-.1 1.4-3.4 .4,.5 .4-.4 .5,1.6 .4-.2 1.7,2.2 .4,0 .3-.7 .3,.7 1.1-.7 .5-1.8 .7,.5 .7-.6 .8,1 .8-.9 .3,2.2 1.6,1.7 1.1-1.3 .7-2.7 2.4-2 1.6,2.3 1-1 .7,.3 .6-.9 1.4,.2 .3-.3 1,.8 .4-.5 .5,1.2 2.3,.6 1.2-2.8 .8,1.9 1.6-.1 .5,1.9 .9-.5 .2-.9 1.3,2.6 .7-.3 .5-1.7 .4-.3 .3,.5 1.3-1.8 .4,.5 1.1-.5 .6,1.3 .6-1.1 1.1,0 2.8-3.8 1.5,1.4 2.6-1.8 .6,2 1.4,.5 1.8-3.4 .4,.5 .6-.5 .6,.3 1.9-1.9 .8,.4 .8-.8 .5-1.8 .9,.4 .2-.5 .5,.1 1.1,.8 .9-1.4 1.1,.2 .4-.8 .9,.3 .2,.7 1.4-2.4 .6-.1 .7-2.2 1.2-.4 1,1.2 .6-.5 .5,.5 .4-1.2 1.1-.7 1.4,1.9 .6,1.6 .5-.1 .6,.5 .5-.4 1,1.2 .6-.5 2.8,2.4 1.4-.3 .6-1.1 1.1,.6 1-.5 .6,.4 1.4-1.1 .3,.5 .4-.2 .9,1.6 1.1,.3 .4,1.8 1.5-.2 .3,3.5 .3,.7 .4,0 1.3,4.5 .3,4.1 1.1,4.3 .3,.4 .6-.9 .7,0 1.3,1.4 .4-3.5 .4-1.4 .6-.3 1-5 .9-1.8 1.1-.2 .1-.8 1.2-.8 .9-2 .3,.4 1.4-1.6 .4,.2 .3-.8 1.9-1.4 .7-1.4 .2,.6 .9,0 1.4-1.7 1-.4 .4-.9 1.4,0 .7-1 1,1 1.4-2.1 2.3,.5 .5,1.6 1.8,1 1.7-1.7 .6-.1 1.2,1.5 .9-1.2 1.2,.1 .4-1 .5-.1 1,.7 .6,1.5 1.1-.1 1-1.1 1.6,.2 1.6-2.6 1.1-.5 1.3,2.7 1.3-1.2 3.6,1.8 .6-1.1 .6-.2 .8,.7 2.1-2.5 .2,.6 .9-.1 1.1,2.1 .8,.1 .2,.5 1.2-.6 1.1-1.8 1.4,.1 1.3,2.5 1.9-.1 .9-1.2 2.8,1.7 1.4-2.4 .6-.1 1.7,1.6 2-.6 .5,.7 1.3-.9 .7,.4 .5-.3 .5,.6 .6-.5 .5,.5 1.5-2.3 .9-.4 .5,.7 1.2-.3 1.3,.5 .4,1 .6-.4 .5,.7 .5-.6 .8,.4 1.2-1.8 1.4,1.7 1.1-.7 1.9,2 1.3-.5 .7,.8 1-.4 1-1.3 .6,.1 1.4,2.2 1,.7 1,2.3 1.4,.7 .5-.9 .6,.3 .5-.7 1,2.9 1.1,.2 .7-1.5 .3,.3 .6-.2 1,.9 .8-.4 .9,1.3 1-1 1.7,1 .9-1.7 .9,.5 .2-.5 1,2.8 1.3,1.2 .4,1.3 .5-.7 .6,.6 .8-.2 .2-.6 .6,.2 1.1,1.5 .1,1.8 .8-.8 1.7,.1 1,2.8 .3-.4 .6,.3 .8-.5 .2,.3 .8-1 .2,.5 .8-.2 .5,.9 .9-1.5 2.7,2.7 .8,.3 .8-.6 .5,1.8-.5,4.9-1.1,1.2-.7,3.9-.5,0-.7,1.4-.4-.6-.7,1.6-.3-.6-.8,.7-.8,3.2-.7,.3-.7,1.5-.5,2.6-.4-.4-1.4,1.6 1.7,0-5.4,0 26.6,0z" fill="#fff77e"/>
<path d="M487.8,108.8l.2-.9 1.6-1.5 .7-.1 1.8-1.4 2-.5 1.8,.6 .2,1.2-1.1,1.2-1.4,.7 0,1.3 1.2,2.7 .7,.6-.2,1.6 1.8,2.1-1.2,2.3 1.2,3.5-2.4,1-1.7-1.2-1.1-.1-.7-.8-.5-.9 .3-3.1 1.3-.3-3.2-3.3zM503.2,106.6l2-.4 1.3,1.9-1.1,2.2-.9-1.1-1.2-.4zM303.2,105.2l2.8,.2 3.4-.9 .5,.8 1.4,.5 1.9-.2 0-1-.9-1.5-1.6-.8-2.7-.4-1.3,.8-2,2.4zM308.9,114.5l1.2-.2 .9-2.2-.2-2.7 1.8-2.5-.4-.3-1.6,.1-1.1,1.8-.7,3.6zM313.3,106.9l5.1,0 .9,1-.3,1.3-.7,.3-1.3,2.3-1,.2 .1-1.7-1.2-.4-.3-2zM314.9,114.3l2.4,.4 .7-.9 2.6-.9-.3-.6-3.7,.7zM319.5,111.6l3,.2 1.8-.6-.2-1.1-3.2,.6zM296.4,97.8l1.2-.9-.9-3.7-1.6-2.8-1.1,.9 .3,1.4 1.7,2.8zM258.9,60.9l1.9-.9 .8,.7 1-.1 2.1-3 1.3-.8 .8,.2-.7-.4-1.2-2.2-1.2,.1-1.1,1.4-.9-.1-.8,.6zM270.2,72.6l1,.1 1.9-1.2 1,.3 2.5-.6 1.5-2.5-2-1.7-3.1,1-1.1,1.8-1.1,.6zM563.3,95.2l1.7,.2 1.9-1.2 1.1-1.6 1-3.1 2.1-2.2 .2-1.5-1.3,.7-1.5,1.7-.9,2.5zM467.7,176l1.9-.9 1.2,.4-.8,3.3-2-.2zM464.3,180l.6,2.2 1.5,2.5 .3,2.1-.6,.2-1.4-3.5-.6-2zM470.6,188.2l1.1,2.6 .7,3.9-.8-.4-1-3.8zM465.3,75.3l.8-.6 1.8,0 .8-1 .4-1.9-1.3-.3-1.1-1.1-1.1,1.9z" fill="#fff"/>
<path d="M207.8,43.3l1.5,1.5 .8-1M214.5,40.6l.8,.9M216.4,40.4l.6-.6M217.4,37.5l.6-.6M234.3,43.1l.3-.3M251.6,46.7l.6-.5M256.2,44.5l1.2,1.1M265.3,43.9l.3-.4M270.4,47.2l1.2-1.2M273.2,49l1,1.1M282.1,49.1l.7-.6M286.1,49.7l1.3,1.2M288.8,50l1.3-1.5 .4,.3M290.9,48.5l.7,.7M296.2,48.8l.8,.7M310.6,49.9l.3,.2M314,57l-.7-.6M305.1,67.3l-2.3,2.5M300.7,78.9l1.1,1.1M310.3,86l1.2,1.1M338.6,75.9l1.3-1.4M341,79.6l1.4,1.6M345.8,86.8l3.2,3M349.8,95.7l-1.8,1.9M342.8,97l-1.6,1.4M338.3,99.7l-1.1-1.1M338.9,100.2l1,.9M342.8,108.5l-.7,.8M341.2,109.2l-.7,.7M338.8,110.2l-.7,.7M337.6,109.4l1.6-1.5-.6,.6M328.4,115.2l-1.2,1.4M324.5,123.9l.8,.8M324.3,125.7l-2.7,2.6M319.1,140.5l-.5,.6M309.5,133.6l-.5-.5M296.2,143.4l-.5,.6M308.6,146.8l.5-.5M314.5,161.6l2.1,1.9M331,162.2l-.8,.8M354,167.7l1.3,1.2M365.1,177.2l1.4,1.6M370.5,178.8l.6,.6M378.6,187.8l-3.1,3.4M373.1,201.5l-1.4,1.3M359.1,217.9l-2.3,2.1M349.7,225.1l-1.7-1.5M341.9,234.6l-.7,.9M339.8,238.7l-.9,.9M327.5,233.6l.5-.6M332.2,201.2l-.8-.7M318.6,178.8l-.5-.5M318.1,177.1l1.2-1M311.5,159.8l-1-1M292.1,152.7l-1-.9M285.8,146.3l-.6-.6M285.2,144.8l-1.4-1.2M283.1,141.7l-1.3-1.3M273.8,131.6l-.7-.7M274.8,135.2l1.4,1.3M277.6,140.9l2.2,2M258.8,98.1l-1.7-1.6M250.3,84.2l-1-1M236,74.3l-1.1,1.2M225.7,76.9l-.8-.7M224.2,74l-.8,.7M217.7,83.3l-.7,.8M207.2,88.6l-.5,.5M216.9,78.4l-.8,.8M208.8,76.3l-1.3-1.1M210.3,66.3l1.1-1.1M211.9,63.4l-1-.9-.7,.6M368,74.5l1.1-1.1M373.1,62.5l.5-.7M390.7,47.3l.3-.3M346.1,17.7l.7-.8M349.6,26.6l.3-.3M353.4,37.9l1.3,1.3M355.4,43l.8-.7M363.4,72.9l.6,.7M343.4,55.7l-1.9,2.1M340.8,61l-.7,.7M322.2,62.8l.8-.9M325.6,50.7l-1.7-1.6M315.6,41.9l-1.1,1M312.6,41.1l-1.3-1.3M312,28.1l.9,.9M314,29.1l.3-.3 .6,.5M326.3,35.7l.3-.3 .6,.8M329.2,39.7l.9-.8M331.4,40.8l1.5,1.3M335.9,49.1l.7,.7M337.1,51.5l.3-.3M339.5,51.7l.3-.4M312.6,22.7l-.3,.3M310.9,21.4l-.3,.3-.7-.7M307.7,21.5l-.7,.8M305.1,23.9l-.4,.4M282.5,48.2l-.6-.7M280.7,48.9l-1.6-1.4M275.7,45.6l-.4-.3M277,32.5l.3,.3M287.4,40.5l.7-.6M260.6,38l.3-.3M263.2,38.2l1.6-1.6M267.6,30.8l.6,.5M268.5,27.9l-.8-.8M285.2,20.7l-.5-.5M280.2,21.3l-.9-1M279.1,21l-.7,.7M280.1,18l.4-.4M291.1,34.9l-.8-.9M291.1,28.9l.3-.3M301.6,35.5l-.7,.8M318.6,63.1l-1.6,1.7M313.7,65.3l-.4-.4M346.8,103.5l.8,.8M348.5,100.9l-1.3,1.5M259,100.9l-4-4M257.2,97l.6-.5 2.5,2.4M312.8,145.7l1.2-1.2M316.7,143.9l.6,.5M317,145.4l-.6-.6M314.7,144.8l-.6,.6M404.4,63l.2,.3M405.9,56.7l-.8,.7M401.6,57.4l-.6,.6M420.2,98.7l.7-.7M424.2,97.2l1.4-1.4M420.7,79.3l-.6-.7-.6,.7M420.7,90.4l.8,.9M414.2,88.8l-.5-.5M411.7,94.6l.8,.9M416.3,122.9l-.8-.7M427.9,96.5l.5-.5M436.4,83.2l.8-.9M442.8,89.5l.8,.8M455.2,81.9l1.1-1M454.1,61.7l-1.3,1.2M450.7,65.5l-.5,.5M444.1,86.8l-.6-.7M441.4,80.4l-1-1M437.9,65.1l1.4-1.4M439.8,61.9l1.2-1.4M459.7,39.8l1-1.1M461.7,38.8l1.7,1.8M467.8,43.8l.4-.4M475.8,51.3l.6,.6M478.1,55.6l-.4,.4M472.1,62.3l.7,.8M481.1,58.4l1.2-1.3M486.6,50.5l1.6,1.8M490.8,50.8l.8-.7M496.6,48.7l.6,.7M518.2,30.5l.2-.2M521.8,53.4l.9,.9M526.4,33.7l.7-.6M538.2,27.8l.4,.4M549.7,15.9l.3,.3M575.3,16.5l.4,.5 .5-.5M573.7,26.2l-.5,.5M571.9,26l-.7-.7M575.6,28.5l.3,.3M593.7,31l.7-.7M600,38.2l1.7-1.6M610,37.1l.5,.5M611.6,33.4l.5,.6M617.9,31.2l1.8,1.7M622.2,35l.3-.3M627.5,39.5l.8-.8 .2,.3M641.3,85.9l-1.1,1.1M640.6,88.8l-.5,.6M637.7,92.2l-1.8,1.7M633.8,94.7l-.5-.6M641.8,72.8l1.3-1.1M641.7,69.2l-.6,.7M639.8,69.1l-1.1,1.2M628.5,76.8l-1.2,1.1M609,90.7l.8-.9M600.5,111.8l-2.5,2.6M593.2,125.7l.5-.5M591.7,121.4l-.6-.7M588.7,118.2l-1.1,1M586.7,117.8l1.1-1M586.3,123.2l-2.3,2.1M585.8,129.3l1.6,1.8M585,139.1l-1.3,1.3M567.7,152.5l2.4,2.4M562.2,173.6l-2.1-1.8M550.8,150.3l-1.2-1.1M530.3,162.8l.4,.4M530,163.2l-1.6,1.6-1.2-1.2M521.9,146.4l-.8,.8M517.4,145.4l.5-.6-1.8-1.7M513.7,140.6l-.6,.5M472.5,137l-.4-.4M461.4,121.4l-1-.9M461.1,119.2l-.8-.9M472.2,113.9l1.6,1.7M476.6,105.5l.8-.9M471.3,108.8l-.8,.8M470,108.4l-.6-.6M463.5,110.9l-.8,.7M461.6,116.2l-1,1M457,116.2l.9,1.1M456,119.2l1.4,1.3M445.9,109.8l-.6-.8M447,114.5l-.4,.3M448.7,115.9l1.4,1.2M429.5,114.1l-1.2,1.3M189,48.1l.4,.4M197.2,53.9l1.3,1.1M193.1,63.1l-.9-.9M414.1,128.9l-1.3,1.2M412.4,134.4l-1.9,2M404.4,143.9l-1.3,1.4M403.2,154.8l-1.1,1M406.1,161.9l1.9,1.7M436.8,169.5l1.2,1.1M437.2,177.8l4.7,5M442.6,186.5l.4,.5M471.7,209.4l.8-.9M471.7,202.6l2.4-2.2M478.4,196.4l1.3-1.2M476.5,151.3l-1.3-1.4M475.2,148l-.4-.5M472.8,142.8l-1.2-1.3M459,131.2l-.6-.4M447.1,132.3l-1.3-1.3M438.1,122.1l-.6,.6M419.4,125.3l-.8-.8M492,195.3l.6,.6M598.4,220.3l.6-.7M599.8,219.6l.7,.6M606.1,223.8l2.4-2.5M616.2,231.5l1.2-1.2M626.5,222.5l1.5-1.3M629.3,213.7l-.5-.5M628.5,210.2l-2.5-2.6M618.4,195.5l-.9-.9M606.5,196.3l-1.2-1.1M583.9,202.6l-.5,.5M658.3,228.8l.6-.7M656.1,238.3l-1.3,1.3M611.2,119.7l-1.7,1.5M600.7,125.2l-1.3,1.1M605.8,128.2l1.9-1.7M599,132.2l-.6-.7M601.6,129l.5,.5M602.1,127.4l-.5,.5M615.8,102.7l1.7-1.8M569.7,149.2l.9-.8M589.3,156.4l.7,.6M585.6,156.3l.4-.4M584.7,153.4l.5,.6M587.5,161.2l1.7,1.9M575.5,171.4l2.2-2.4M556.9,173.6l-4.1-4M572.2,184.7l.5-.5M565.4,183.9l.6-.6M584.8,176.2l1.2,1.2M586.8,178l1.2,1.2M620.6,182.8l.9,.8M622.3,187l.6,.6M625.1,188.7l.6,.6M591.6,188l-.9,1M590.9,187.9l.5-.5M503.7,19.1l.8-.7M606.4,24.2l.8-.9M609,23.2l2.1,2.2M611.7,27.1l1.3,1.5M624.3,20.7l.3-.3M662.5,37.4l.5-.5M663.5,39.9l-.9-.8M186.9,39l.5-.5M199.9,64.6l1.5,1.5-1,.9M220.1,82l1.4-1.5M204.4,91.3l1.4-1.3-.7,.6M437,115.3l-.6,.6M438.1,112.5l-.4-.4-.5,.6M460.4,125.3l-.5,.5M468.4,125.8l.6-.6M347.2,255.1l.7,.8M345.8,257.8l-1.6-1.6M616,30l-1.6-1.8M613.3,27.3l.4,.4M416.9,69.8l-.5,.5M504.4,44.7l1.3-1.2M505.2,44.7l-.4-.3M323.4,51.2l1.3,1.4M296.7,43.9l.3-.3M297.7,45.8l.7,.7M249.4,88.2l-1.3-1.4M246.5,84.6l-1-1.1M249.7,89.2l.9,.8M207.1,89.3l-.7-.7M226.8,334.2l.5,.5M237,334.2l.7-.7M237.9,332.2l.7-.7M240.9,328.4l.4,.4M243.8,326.5l1.5,1.4M246.9,327.8l.7,.7M247.8,327.4l.8-.7M249.2,327.8l1-1.1M253.3,324.7l.3,.4M255.5,324.8l.4-.3M258.2,323.4l1.3,1.4M260.9,323.8l.6,.6M266.7,322.7l.7-.8M273.6,330.8l.4,.5 .4-.4M275.7,328.4l1.5-1.3M280.6,324.7l.4,.4M282.8,329.1l.3,.4M285.4,328.7l1.3,1.4M306.9,317.8l1.7,1.6M314.7,322.3l.6,.5M324.7,321.3l.3,.3M329.2,317.3l.3-.3M348,286.6l-1.1,1.1-.4-.4M344.6,290.3l-2,1.9M390.6,330.5l1.3,1.4M400.8,325.4l.6-.6M409.5,313.9l.3-.2M422.2,313.1l.4,.5M423.8,311.2l1.7-1.7M429.1,307.3l.4-.4M436.9,308.9l.8-.9M438,310.2l1.6,1.7M449.1,306.8l.3-.3M469.9,303.5l1.5,1.4 .8-.8M479.4,302.5l1-1M482.1,301l.8-.8M491.3,296.1l.3-.4M494.5,294.3l.6-.5 .5,.5M499.6,295.8l.6,.5M501.7,297.1l.6-.5M529,303l.3,.4 1.4-1.6M532.1,301l1.2-1.2M562.8,295.3l1.3-1.2M573.2,294.5l.8,.9M577.3,293.6l.3,.2M587.6,294.1l1.7,1.6M594.3,295l.5,.6 .6-.5 .5,.5M609.7,296.1l.5-.5M622.8,302.5l.6-.6M624.4,301.1l1,.9M627.1,302.9l1-1M638.4,309.1l.8-.8M651.3,318.7l-1.1,1.2M646.9,325.6l-.8,.7M488,107.9l1.6-1.5M496.1,106.2l-1.1,1.2M491.9,121.9l-.7-.8M492.3,116.8l-3.2-3.3M318.4,106.9l.9,1M260.8,60l.8,.7M569,89.5l2.1-2.2M566.1,92.3l-2.8,2.9M467.8,71.5l-1.1-1.1" fill="none" stroke="#989aa4" stroke-width="0.77"/><path d="M204.8,47.6l1.6-1.9M220.8,40.1l.6-.7 .4,.4M222.4,38.6l1.6,2M230.1,43.5l.7,.6M233.5,43l.4-.4 .4,.5M235.1,43.5l1.3-1 1.9,2.5M253.2,42.7l.3-.5M261.2,45.8l1-1.2M262.5,45.3l2-1.6M274.2,50.1l.2-.3M282.8,48.5l1,.8M290.5,48.8l.4-.3M294,50.4l.4,.4M297,49.5l.7-.6M300.7,36.6l.7,.9 .3-.2M310.1,50.5l.5-.6M308.5,61.9l-.3,.3M306.2,83.6l1.4,1.2M316.9,93.3l1.7,2.2M322.5,86.7l.8-.6M322.6,69.5l-.7-.8 1,1.1M325.2,69.9l.7-.9 1.2,1M329.9,70.7l.7,.6M334.7,78.1l1.2,1.6M344.2,83.4l.9,1.1M337.2,98.6l-1.2,1.4M333.2,102.7l.9-1.1M341.5,106.2l.9-.7M345.4,106.9l-.9,1.2M326.7,119.1l-1.4,1.1M325.3,121.3l-1.1,1.4M320,128.6l-2.3,2.8M316.7,138.2l-.9-.7M298.3,135.7l-1.6,1.3M304.3,150.4l.8-.7M314,154.7l1,.8M318,163.8l1.3-1.2M323.5,164l1.6-1.8M332.8,159l2.9,2.6M337.1,161.8l.5-.5M347.4,165.6l1.2,1.5M357.1,169.5l1.5,2M373.9,179.9l3.1,2.5M371.9,203.4l-1,1.3M363.1,208.6l-1.9,2.4M360.8,214.7l-1.4,1.8M356.3,221.7l-1.3,1.5M346.2,231.3l-.7,.8M335.7,245.4l1.9,1.6M332.6,257.1l-.5,.5M326,246.2l.6-.8M327.6,241.5l.6-.8M328.7,198.3l-.9-1M319.3,174.3l3.6-3M319.9,163.6l-1.2,1M314.4,164l-1.5-1.7M275.7,132.9l-.9-1.2M279.4,144.3l-1.8-2.5M276.5,139.7l-3-2.5M265.4,125.7l-2.3-2.8M261.1,117.8l-.8-1M255.4,93.1l-.8-.7M248.2,81.5l-1.1-.9M243.8,77.1l-1,1.3M237.2,75.3l-1.2-1M226.3,76.1l-.6,.8M225,73.8l-.4,.4M215.1,84.7l-1.4,1.7M212.4,85.8l-2.2,1.9M206.7,89.1l1.3-1.6M208.7,87.6l.6-.7M209.6,87l1.9-2.6M215.1,78.8l-.9,.8-.9-1.1M205.8,69.5l.8-1M209,63l-1-.9M206.4,63.1l-1.2-1.5M203.8,59.2l-.3,.3M375,59.3l.9,1M376.4,60.3l2-2.3M382.8,50.6l1.1-1.4M387.6,50.1l.6,.7M390.4,46.9l.3,.4M393.4,46l.2-.2M396,33.4l.6-.8M347.7,19.3l.8,.9M353.1,38.3l.3-.4M354.7,42.5l.7,.5M357,50.8l-1.1-1M358.6,67.3l1.5,1.9M366,74.9l.3-.3 .9,1.2M336.3,66.9l-1.5,1.2M333.8,67.8l-.6,.9M332.9,68.6l-.9-1.1M324.1,59.1l.7-.6M325.8,58.7l.7,.9M327.7,54.2l.3,.2M317,42.8l-.3,.2M311.3,39.8l-.8,1M307.7,39.5l-.4,.5M308.5,28.5l.4,.5M316.3,27.9l.3-.2M320.5,31.6l.9,1.1M323.9,32.7l.9,.7 .4-.5M339.8,51.3l.7,.8M307,22.3l-.7-.9M302.7,17l.8-.7M291.7,44.6l-.7,.6M290.7,46.9l-.6,.7M289.4,47.6l-1.6-2.1M283.6,47.2l-1.1,1M276.9,44l-1.2,1.6M275.1,46.1l-.7,.6M273.2,44.6l-.3-.4M273.5,34.5l.7-.9M287.1,40.1l.3,.4M266.7,31.8l.9-1M267.7,27.1l-.4,.3M265.5,24.3l-1-.8M263.9,24.4l-.3-.2M278.1,23.3l-.3,.3M276.7,25.1l-1.2,.8M274.1,15.9l1.3,1.7M292.2,35.2l-.7-.8-.4,.5M294,26.8l.7,.9M295.3,21.7l-1.1,.9M292.7,21.2l-.3-.4M315.7,63.5l-.8,1M311,59.3l.7,.5M314.6,58.5l1,.9M261.7,102.1l-.9-.7M326.7,150.5l1.4-1.8M330.7,151.6l-.8-.6M328.3,151l-.4-.3M398.9,64l1.8,2.1M402.4,64.6l1-1.2M403.9,63.6l.5-.6M405.1,57.4l-1.5-1.9-1.6,2.1M397.8,58.6l-.8,.7-.9-1M395.9,61.4l.4-.5M393.6,61.2l.3-.2M423.3,96.5l.9,.7M426.5,95.7l.7,.6M420.2,88.8l1.1-.9M420.6,95l.5,.7M413.7,88.3l-1.5,1.2M423,110.2l.6-.8M433.4,92l.6-.8M438.5,88.2l1.6,1.8 .6-.8M453.4,83.4l1.3-1.7M463.8,77.1l.7-.8M455.6,64.7l2.2-1.6M458,58.3l-.4,.3M451.2,65.8l-.5-.3M434.8,79.1l-1.3,1.1M432.5,68.4l.6-.6M436,65.8l.7,.9M444.1,52.6l1.4-1.6M455.8,41.9l.9-1.2 .3,.3 .3-.3M457.5,41.2l.3-.3M459,38.9l.7,.9M461.2,39.4l.5-.6M464.2,42.4l.4,.4 1.1-.8M467.4,43.3l.4,.5M471.6,46.5l.9,1.3M477.9,51l1,.7M479.9,55l-1,.9M473.6,63l1,1.3M478.3,61.8l.3,.3M482.3,57.1l.3,.3M485.5,51.4l1.1-.9M493.3,52.1l1.1-1.3M498.8,50l2-1.5M503.5,47.9l.3,.5M510.8,46.6l.7-.6M516.1,34.2l.7-.8M522.5,52.1l-.7,.5M526.1,33.4l.3,.3M529.1,35.3l.7,.8M535.7,27.7l1.6,1.9M540.5,21.1l1.1-.9M543.3,22.2l.5-.5M549.1,15.9l.4,.5M572.2,27.7l.9,.9M573.3,30.6l.3,.3M573.9,30.5l.3,.4M584.1,31.3l.4-.4M584.8,31.5l1-1.3M596.9,36.1l.5,.5M613.4,31.8l.4,.4 .9-1.1M615.1,31.7l.4-.6M617.4,31.1l.3,.4 .2-.3M623.2,35.5l.6-.4M631.6,39.1l.2,.2M645.9,42l.5,.5M650.6,48l.9-1.2 .3,.3M653.4,45.9l.6-.7 .5,.6M656,44l1.5,1.7M661.2,43.5l.2,.2M662.6,68l.8,1M649.9,74.4l-1.4-1.2M644.3,75.8l-1.1-.9-1.6,1.2M635.3,95.7l-.6,.4M634.1,96.1l-.5,.4M638.9,74.3l.3-.3M642.9,70l-.6-.7M637.6,72.9l-1-1.2M634.2,73.9l-1.2,1.4M632.7,75.2l-1.9,2.3M623.7,76.6l-1.5-1.3M620.4,76.4l-.9,1.1M606.9,85.5l-1.7,2M605.6,89.3l.6,.5M610.1,104.2l-.7,.8M607.8,107.5l-2.4,3M591.6,118.6l-1.2-1M586.3,119.4l.7-.9M583.8,126l1.8,1.5M577.1,145.3l-.5-.5M570.5,159.9l-.5,.5M567.8,161.6l-1.7,2M565,162.3l-.4-.5M559.1,169.1l-.6-.6M556.3,158l-.5-.7M526.6,161l-1.5-1.8M495.7,138.2l-1.1-1.4M494,142.4l.5,.4M496.5,142.8l2.2-1.6 1.3-1.6M491.4,155.8l-1.2,.9M489.1,156.7l-.7,.6M481.7,151.9l-1.2-1M479.8,149.1l-2.1-1.7M477.2,143.8l-1.9-1.6M473,123.7l.6-.7M478.5,110.6l-1-.9M476.2,106.2l-.6-.8M472.4,105.4l-.5,.6M468.7,107.9l.7-.9M456.4,117.5l-.6-.9-.3,.3M456.7,121.5l-.5-.5M453.5,120.4l-.8-.6M451.3,114.1l-3.9-2.9M446.7,111.2l-1-1.3M446.6,114l.4,.5M445.9,117.4l-2.3-2M440.9,114l-1.5-1.7M434.1,112l-.5-.7M425.6,119.7l-.8,.7M420.4,123.6l-.7-.6M187.2,48.7l.5-.4 .4,.5M191.2,48.3l.3-.3M200,57.4l-2.3,2.9M196.9,60.2l-.4-.6M195.8,62.5l-.6,.5M192.2,62.2l-.3,.4M187,59.2l-.2,.4-.3-.3M407.6,137.8l-1.2,1.5M405.6,141.7l-1.2,1.4M403.3,158.9l1.8,1.4M432,167.5l1.3,1.5M437.8,176.2l-.6,.8M444.4,206.3l.4,.6M446.2,214l1.6,1.8M449.9,223.7l1.1,.9M452.2,224.8l.8-.6M462.9,221.6l3.9-4.9 1.5-1.2M476.8,199.2l.7-.5M486,172.8l.7-.5M489.2,169l1.6-1.4M474.5,145.5l-1.9-1.5M452.2,132.2l-1.3,1.1M423.9,124.7l-.5,.7M490.4,202.7l-.5,.6M487,196.7l1.4-1.1 2.4-3.2M532.3,162.5l.5,.6M533,164.6l1.1,.9M533.8,166.9l-.7,.6M532.1,166.9l-1-1.3M578.4,218.7l.5,.4M578.2,223.9l1.3,1.1M592.4,221.4l.5-.7M594.3,220.9l.5-.6M623.9,229.8l.5-.7M624.8,226.3l1.2-1.5M625.8,206.8l-1.1-.9M621.9,203l-1.4-1.6M609.9,198.6l-.9-1.1M605.6,193.9l1.4-1.1M607.4,192.1l-.4-.4M600.5,190.6l.6,.5M597.8,193.7l.7,.9M596,195.5l-1.7-1.5M588.8,197.6l-.9,1.1M587.8,200.1l-2,2.4M622.4,238.4l-1.1,1.3M657.5,234.9l.6-.5M656.9,227.6l-1.7-2.1M652,244.3l-1.7,1.3M651.4,239.5l1.7-2.1M613.2,115l-.7,.6M607.7,122.9l-.7-.8M604.9,126.5l.8,.6M609.9,126.3l.7-.8M600.5,130.3l-1.5,1.9M617.5,110.4l.9-.8M618.7,111.6l-.9,.7M615,113.9l-1.5-1.2M614.8,106l.6,.5M586.5,145l-.7,.6M571.4,148.4l.7-.6 .8,1M587.8,153.6l-.7,.5M592.5,165.8l-.5,.6M588.6,165.5l-1,.8M587.5,161.6l.5-.6M589.2,163.1l-1.7-1.5M581.2,171.2l1,1.2M581.5,176.6l-1.2,.9M580.2,178.8l-.7,.9M574.3,180.2l-.5-.7M582.6,169.6l-.6,.5M557.9,171.2l1.2,1.5M561.9,174.3l1.4,1.1M559.9,178.7l-1.3-1.1M586.8,181.6l-.6-.5M584.6,183.1l-.6-.4M584.8,174.7l1.2-.9M605.4,180l.8-.6M607.4,178.5l1.1-.9M624.7,189.8l-.9-.7M612.7,187.6l-1.1-.9M603.8,181.1l-.8-.9M594.5,186.7l-1.8,1.4M585.4,187.2l-.7-.5M595.3,172.6l1.1,.8M595.6,176.7l-.9-.8M623.7,182.9l1-.8M623.2,183.6l-.8-.7M661.8,198.8l.7,.6M499.9,30l.9-1.3M508.1,16.5l.3-.4M501.9,16.8l-1,1.4M607.5,21.5l.9-.7M622.9,19.4l.6,.7M624.9,20.9l.5-.7M626,20.2l-1.4-1.1M664.2,38.6l.3-.3M188.6,39.9l.5,.4M188.5,41l-1.3-1.7M197.5,64.6l.5-.6M221.5,80.5l1.6,1.2M220.9,83.8l-.7-.6M436.9,114.1l1.1,.9M445.5,123l-2-1.7M470.7,125.2l.7-.5M469.9,125.8l-.6,.7M430.1,118l-.5,.7M345,256.2l1.4-1.1M219.1,148.4l.9,.7-1.1,.8M376.2,262.5l-1.2-1.5M518,249.4l1.1,.9M549,158.8l-.5,.6M614.6,28.2l.6-.7M416.2,69l.7,.8M353.1,45.4l.5,.6M504.3,43.6l-1.1-.9M316,67.7l.9-.7M319,69.6l.4,.3M319.9,71l-1.3-1.2M320,27.3l1.1-.9M322.1,29.5l.9,1M301.4,20.2l-.5-.3M294,45l.8-.5M296,43.1l.7,.8M268.2,19.6l-.4,.6M244.5,80l.9-.7M245,81.6l-.7-.6M247.6,82.7l-1.1-1.3M249.4,84.4l-.3,.3M201.1,91.5l.8-.6M194.2,94.4l-1.1-.9M191.5,94.6l-.8,.6-.5-.6M656.3,92.6l-1.1,.9M203.8,74.2l.2-.2M205.5,75.6l-.7,.6M222.1,79l.7,.5M229.3,74.5l1,.8M246.2,328.7l.7-.9M256.5,324.5l.7,.5M267.8,322.4l1.1-.9M269.9,325.6l.4,.4M282.4,329.4l.4-.3M300.4,323.5l.3-.4M308.6,319.4l.4-.4M315.3,322.8l.2-.3M316.4,322l.3,.3M317.7,320.5l.7,.9M322.5,320.7l1.1,.9M325,321.6l.3-.3M327,320.3l.4-.3M336.9,298.2l2.5-3.3M341.7,290.1l1-1.3M351.8,281.2l-2.2,1.6M340,302.6l1.1,1.3M389,331.3l.5,.4M404.3,325.9l.4,.4M415.4,311.8l1.4-1.2M418.2,311.2l1.3,1.7M425.5,309.5l.7,.8M428.7,306.8l.4,.5M435.4,308.5l.7-.6 .8,1M439.6,311.9l1.1-1.3M449.4,306.5l1,.8M456.4,307.8l.3-.4M473,304l1-.9M485,298.4l1.1,.8M491,295.8l.3,.3M492.9,293.6l.6-.5 1,1.2M497.1,292.4l1.4,1.9M500.7,295.9l1,1.2M502.3,296.6l2.8,2.4M509.8,298.1l1.4-1.1M525.7,306.8l.3-.4M535.1,299l1.4-1.7M542.4,293.9l.6,.4 .5-.4M549.3,295.2l1.2,1.5 .9-1.2M556.2,296.6l1-1.1M568.9,294.6l.8,.7 2.1-2.5M601.7,294.8l.6-.4 .5,.7 .5-.6M605.3,293.1l1.4,1.7M611,295.6l.7,.8M612.7,296l1-1.3M620.2,300.1l.5-.7M623.5,301l.3,.3M629.8,302.9l.5-.5M643.6,310.6l.2,.3 .8-1M646.1,311.1l.8-.7M647,309.6l1.4,1.1M643.4,333.9l-.4-.4M490.3,106.3l1.8-1.4M494.8,112.1l.7,.6M495.3,114.3l1.8,2.1M496.7,117.7l-.8,1M505.4,110.3l-.9-1.1M306.7,102.7l-2,2.4M310.8,109.4l1.8-2.5-.4-.3M317.3,114.7l.7-.9M316.6,113l-1.7,1.3M295.1,90.4l-1.1,.9M263.7,54.5l-1.1,1.4M272.7,72.1l.4-.6M278.1,68.7l-2-1.7M570,86.5l-1.5,1.7M465.3,75.3l.8-.6M467.9,74.7l.8-1M469.1,71.8l-.7-.5" fill="none" stroke="#989aa4" stroke-width="0.82"/><path d="M207.1,55.7l1-1.7-.9-.6M204.3,50.3l-.3-.5M207,43.8l.8-.5M210.1,43.8l1,.7M213.9,41.5l.6-.9M234.6,42.8l.5,.7M240.8,48.2l1.4-2M245.6,46.9l1.6-2.3M248.9,45.4l.3,.2 .3-.4M253.5,42.2l.8,.5M254.5,41.9l1-.8M258.6,45.4l1-1.3M260.5,45.3l.7,.5M274.8,51.5l.7,.9 2.2-3.2M283.8,49.3l1-1.3M295.5,49.8l.7-1M297.7,48.9l.3,.2M315.5,43.5l.9,1.3M317.1,52.6l-1.7,2.4M313.3,56.4l-1,.7M311.3,56l-.3,.2M304.9,81.4l1.3,2.2M313.5,86.8l.7-1.1 .3,.3M321.2,91l-.5-.9M320.6,88.8l1.5-.9M327.6,69.9l1,.6M335.9,79.7l.2-.4M349.3,91.7l1.6,1.1M345.8,98.2l-.8-1.2M333.9,100.5l-2.7,4.3M335.2,101.5l2-1.3M336,108.7l-3.7,2.3-.6,.9M331.5,113l1.1,1.5M318.7,138.2l.6,.3M317.8,140.8l-.9-1.4M312,134l-1.4-.9M300,134.5l-.6,1M295.6,144.8l.5,.4M312,154.1l.9,.6M327.9,160.4l2.1-1.4M330.2,163l-.4-.6M331.9,160.4l.9-1.4M343.4,162.3l2,1.4M350,167.2l.8,.5M358.4,174.1l1.5,2.1M370.1,206l-.8,1.1M367.2,206.6l-2.3,1.6M355,223.2l-2.4,1.8M347.8,224.5l.7,1M339.2,237.2l1.7,1.3M336.6,243.3l-.5,.8M333.6,255.8l1.1,1.5M332.1,257.6l-.9,1.2M331.5,260.6l-.8-.5M329.9,260.3l-1.5-.9-1.2-1.7M330.2,218.8l.5-.6M322.7,166.9l-.5-.4M321.3,164.6l-1.4-1M310.5,158.8l-2.4-1.7M297.2,154.4l-1.1-.8M288.1,150.8l-.7-1M286.2,149.4l-.5-.7M280.2,138.7l-1.4-1M278.6,137l-.9-.6-1.1-1.7M280.1,143.8l-.7,.5M274,136l-1.6-1.1-1.2-1.9M269.5,128.6l-2-1.5M259.9,101.9l1,.6M263,101.2l-1.2-.8M260.4,99.4l-.9-1.2M254,91.1l-.9-.6M252.2,87l-.5-.9M246.9,79.4l-1.2-2M242.8,78.4l-1.4-1.9-.4,.5M221.1,79.5l-2.8,2.1M209.7,87.6l-1.4,1.1M215.4,79.2l-.3-.4M206.9,66.7l1,.6 .5-.7M210.2,63.1l-.4-.5M371.9,65.1l.8-.5M383.9,49.2l1.4,.9M388.6,50.6l1-1.5M392.8,45.6l.6,.4M395.6,33.1l.4,.3M338.9,67.1l-1,1.6M331,65.6l-1.5-2.1-2.9-2M326,61.5l-1.1,1.6M328,54.4l.8-1.1M328.2,50.2l-.4-.2M326.6,51.6l-.6,.5M320.7,44.5l-.4-.5M318.4,43.7l-.5,.8M308.1,39.7l-.4-.2M325.2,32.9l.9,1.3M335.2,45.7l1.3,.8M317,21.8l-.7,.4M305.5,24.2l-.4-.3M284.4,48.4l-.8-1.2M279.1,47.5l-2.2-3.5M271.1,44.3l-.9-1.5M269,37.8l.4-.2M276.4,33.3l.6-.8M280.6,33.5l.8-1.3M283.5,33l.6-.8M259.6,37.3l1,.7M262.2,39l.7-1M269.5,28.1l-.7-1M264.5,23.5l-.6,.9M284.7,20.2l-.5,.4-.7-1-1.2,1.5M281.4,22.3l-.8-1.1M277.8,23.6l-.5-.8M274.1,22.8l-.8-.6M269.2,17l.3-.4M280.5,17.6l.3,.3M305.3,33.1l-.4-.3M302.8,34.6l-.8,1.1M301.9,24.5l.5-.8M303.6,25.6l1.2,2M312.4,64.9l-.4,.6M353.5,104.8l1,.6M354.8,104.2l.7-.6M259.8,101.5l-.8-.6M320.1,144l2.9,2.1M323.2,148.1l-.6,.4M323,147.5l-2.7-1.7M322.1,151.6l-.6-1M401,58l-.4-.5M395.9,61.1l-1-1.3-.3,.5M394.7,61.4l.9,1.4M421.8,97.8l.6-1M425.4,89.9l-.6-.8M418.9,79l-.6,.8M420.4,90.8l-1,.7M420.1,92.9l-1.5,2.1M418.1,88.8l-.8-.5M416.7,87.2l-.9-.7M418.1,124.2l-1-1.3M412.8,117l1.1-1.6M413.2,112.1l1.7-1.2M418.9,111.2l.9,.7M419.4,101.5l.5,.3M423,99.2l.9,.6M425.8,99.6l.7-1M428.4,96l1.2-.7 .5,.4M430.5,94.5l.7-.5M437.6,82.1l.7,.5M449.5,89.8l1.6-1M458.2,75.4l.8,1.2M463.1,76.6l.7,.5M465.6,75.6l-.7-1.1M462.8,73.7l-.4-.6M460.8,73.8l-.4,.7M460,74.3l-1,1.5M455.2,73.4l-.5-.8M457.8,63.1l.9-1.3M456.1,57.8l-.4,.5M452,65.3l-.8,.5M448.4,78.4l-.6,.8M447.3,84.2l-1.6,2.4M439.4,76.6l-2.2,3.3M436.4,79.8l-.3,.4-.6-.9M434.5,67.9l1.5-2.1M446.4,49.2l.5-.8M448.8,45.9l1.3-1.7M460.7,38.7l.5,.7M465.7,42l1,1.5M468.6,45.2l1,1.3 .3-.2M470.8,47.6l.8-1.1M476,58.5l-1.9-2.9M494.4,50.8l.3,.5M496.2,49.2l.4-.5M497.9,49.3l.9,.7M500.8,48.5l.7,.5M505,45.9l.8-1.3M511.5,46l.9,1.5M518.4,30.3l.5,.6M520.6,32.1l.5-.3M521.5,42.8l.3-.3M528.7,36l.4-.7M530.9,34.1l.6,.7M533.8,27.3l.4-.3M548.3,17.2l.8-1.3M574,26.5l-.3-.3M573.2,26.7l-.5-.7M570.9,28.8l.8-1.1M573.6,30.9l.3-.4M574.2,30.9l1.4-2.4M580.7,30.7l.2-.4 .8,1.2M587.1,29.3l.4,.5 .3-.5M598.2,39.5l.6,.7M606.9,37.7l1-.7M614.7,31.1l.4,.6M628.5,39l.3-.4 .5,.7M630.8,39.3l.2-.3M631.3,39.5l.3-.4M634,41l1.7-1.2M636,38.9l.3,.5M664.5,59.3l-2.3,3.4M660.2,62l-.3-.5M661.1,68.1l-.9,1.3M659.5,69l-.3,.3M658,69.1l-1,1.6M645.5,76.1l-1-.7M635.3,80.5l.6-1M638.5,71.8l-.6,.8-.3,.3M636,72.7l-1.8,1.2M627.3,77.9l-.7-.4M622.2,75.3l-1.8,1.1M618,78.2l-1.7-1.1-.6,.4M613.8,78.7l-1.8,1.3M609.7,81.7l-1.2,2-1.3,.9M608.4,89.8l.6,.9M611.5,89.9l1,1.7M611.7,101.9l-1.6,.9M608.9,106.7l-1.1,.8M603.6,110.8l-1.2,1.7M583.2,118.8l-.8,.6M584.4,122.4l.6-.9M582,142.3l-1.5,1.9M577.9,144.7l-.8,.6M576.6,144.8l-1.7,1.2M571,147l.4-.6-.4,.3M569.9,146.4l-.3-.4M566.8,151.2l.9,.7M565.2,164l-.5-.8M562.9,161.3l-1.7-2.6M558.9,165.6l3,2.1 .9,1.3M560.1,171.8l-.9-1.5M556.7,160.3l-.5-.9M554.6,152.7l-2.4,1.7M549.6,149.2l.3-.4M541,147.4l-3,2-1.3,2M534.6,153.1l-.6,.5M501.7,140.2l-.6-.9M490.4,133.3l-.4,.6M492.6,141.2l.4,.3 .5-.9M493.3,139.6l.7,.4M494.5,142.8l.7-.4M500,139.6l.4,.3M504.9,145.1l-1.7,2.7M474.1,139.3l-1.6-2.3M470.9,137l-2.1-3.1M469.1,124.4l-2.2-1.6M464.9,124l-1.3-1M464,116.8l-.3-.2M466.8,115.5l1.6-1M474.5,115.2l.9,.6M476.4,115.9l.7-.5M476.1,109.4l-1.9-1.3M475.2,104.6l-.8,.6M456.6,118.8l-.6,.4M455.4,123.5l-1.1-.6M445.7,109.9l.2-.1M447.9,116.8l-.6,1 1,.7M442.6,115.2l-1.7-1.2M437.3,109.6l-3.2,2.4M430.6,111.3l-.4,.6M426.6,115.7l-1.4,2.1M419.7,123l-1.6,1.2M188.1,48.8l.4-.6M193.1,51.6l.5,.3M193.4,62.6l-.3,.5M189.8,59.8l-.6-.8M402.1,155.8l1,.6M405.1,160.3l1,1.6M408.4,165.3l7.1,4.5M438,170.6l.5,.8M442.6,193.5l-.7,.4M443.2,202.8l.9,1.2M445.1,211.6l1,1.6M478.1,181.2l.7-.5M479,179l2.2-1.6M483.3,174.8l1.2-1.7M486.7,172.3l1.6-2.1M491.3,165.4l2-3M484.1,161.6l-.8-1.2M480.2,156l-.4,.6M478.7,155.4l-1.8-2.6M471.2,140.1l-1.8-2.7M445.8,130.1l-.9-.6M577.2,214.3l.9,1.4M582.2,225.3l2.6-1.9M597.6,219.8l.8,.5M602,220.3l1.7,1M605,224.4l.9,.6M618,230.3l.9,1.4M616.2,192.8l-1.5-2.2M614.7,189.8l-.9,1.5M613.4,196.9l-1.7,2.5M598.9,192.2l-1.1,1.5M592.1,194.5l-2,3.1M580.5,203.6l-2.8,1.9M619.3,235.1l1.2,.7M654.8,224.2l2.1,1.5M658.9,228.1l1,.6M649.1,245.6l-1.5-1M601.2,127.5l.4-.5M604.1,127l.8-.5M613.9,107.3l1.1,1.7M616.8,112.3l-1.2,1.6M614,106.6l.8-.6M616,105l-.8-1.2M615,89.1l-.7,.4M585,143.2l1.8-2.4 .4,.3M571.4,150.1l-.5,.8M586.7,155.8l.4,.5M589.6,158.6l-.9-1.3M586.3,157.3l-.7-1M592.4,167.5l-.4,.6M590.4,165.6l-.8-.5-.4,.5M587.6,166.3l-.2-.4M592,162.4l1.1,.7M582,170.1l-.8,1.1M571.7,177.6l-1.2-.8M570.6,173.2l.6-.4M578.7,168.9l1.8-2.6M581,166.2l1,1.4M555.3,169.4l2.6,1.8M565.7,178.7l.7,.9M561.7,181.1l-1.8-2.4M568.1,183.4l1.7,1.2M571.5,186.2l-.7-.4M590.3,174.3l1.3-.9M586,177.4l.8-.6M588.2,177.1l-1.4,.9M587.9,180.2l1.2,1.5M583.3,178.6l1.1-1.6M599.4,177.4l1.9-1.4M617.5,180.7l1.4,.9M620.9,185.4l1.2,.8M624.7,188.4l-.4,.3M621.9,189l-1.6-1.1M610.2,186.3l-.3,.4M608.6,182.7l-1.8-1.1M601.8,179.9l-1-.7M601,178.4l-.5-.8M588.8,186.6l-.2,.4M598.1,179.2l.7,.4M624.7,182.1l1,.7M627.3,182.1l-.6,1.1M644.5,204.5l-1.2-1.7M638.1,187.2l-.6-.4M496.5,39.1l.4,.5M504.7,19l.9-.5M509.1,17.5l1-1.6M498.9,23.3l-.4-.4-.3,.4M606.1,23.8l.3,.4M616,25.8l.7-1M614.4,19.9l-1.4-2.2M608.1,16.5l-.4-.3M619.3,22.8l1,.7 .7-.5M621.8,21.8l.8-.6M623.3,17l-.7-1.1M663,36.9l1.2,1.7M198.5,66.1l-1-1.5M223.1,81.7l.3-.2M203.1,90.7l.6,.8M442,121.2l.8-.5 .8,.6M471.4,124.7l-.8,1.1M429.6,117.6l.5,.4M348.8,255.8l-1.6,2.1M378,262.8l-.6-.3M613.7,27.7l.3-.5M354.2,45.9l1.6-2.4-.3-.5M353.8,43.2l-.7-.9M489.9,46.9l.4,.6 .3-.3M491.6,46.1l-1,1.5M504.8,44.4l-.3,.2M316,69.3l-.4-.5M314.5,68.1l.9-.6M317.3,68.4l-1.3,.9M318.1,91.8l-.8,1.1M323.3,50.4l-.7,1.2M321.1,26.4l.4,.3M323.9,31.3l-.4,.6M321.3,28.7l-.8-1.2M268.7,20.3l-.5-.7M266.2,16.5l-.9-.6M248.6,84.6l.6,.8M250.5,94l-1.4-2.3M204.4,91.3l-1.7-1.1M202.2,92.2l-1.1-.7M195.1,93.7l-.9,.7M655.4,92.1l.9,.5M204,74l.8,.4M248.6,326.7l.6,1.1M252.9,325.3l.4-.6M254.8,324.3l.4-.3M256.2,325l.3-.5M257.2,325l.4-.2M260.5,324.1l.4-.3M263.1,326.3l.4,.5 1.3-1.9M267.4,321.9l.4,.5M270.3,326l.4-.6M272.9,331.4l.4,.2M280.2,325.3l.4-.6M284.1,330.1l.3-.5 .3,.5M291.6,323.1l.3-.4M295.1,320.6l.3-.5M296.5,322.2l.6,.4M311.6,323.4l.9,1.2M320.2,324.2l.7-1.2M326.3,319.8l.7,.5M349.9,283.4l1.4-.9M341.2,306.4l.9,1.4M345.1,318.1l.7,1.1M340.1,331.1l-.7-1.1M392.3,330.5l.4-.3M392.9,330.8l.7,.5M404,326.4l.3-.5M408,317.3l1.3-2M412.5,311.9l.8-.6 .9,.5M422.6,313.6l.7-.6M431.4,310l.7,.5M433.1,310.5l1.1-.7M434.7,308l.7,.5M444.1,306.7l.4-.3 .3,.5M447.1,307.5l.6-.9M453.6,308.6l.4-.3M456.7,307.4l.5,.2M461.3,308.7l.4-.3 .3,.5 1.3-1.8M467.1,307.3l2.8-3.8M477.8,302.2l.4,.5 .6-.5M480.4,301.5l.2,.2M486.1,299.2l.9-1.4M491.8,294.3l.5-.8M496,293.1l1.1-.7M500.2,296.3l.5-.4M511.2,297l.3,.5 .4-.2M519.8,318.3l.6-.9M523.2,313.9l.6-.3M526.9,305.8l1.2-.8M538.5,296.3l.2-.3M539.3,296l.7-1M540.3,294.9l.7,1.1 1.4-2.1M547,297l1.3-.9M553.5,294.5l1,.7M557.7,295.7l.6-.4 .5,.4 1.6-2.6M576.2,295.4l1.1-1.8M581.9,296.1l.9-1.2M591.3,295.1l.5,.7 1.3-.9M596,295l1.1-.7M598.3,292.9l.5,.7M606.7,294.8l1.1-.7 .7,1.1M614.3,294.8l1.4,2.2 1,.7M626.2,301.6l.9,1.3M632.8,304l.7,1M634.5,306.5l.5-.7M637.2,305.8l1.1,1.5M642.8,311.1l.8-.5M645.3,310.6l.3-.4M648.6,311.5l1.1,.8M650.5,312.6l.8-.6M648.3,325.2l-.4-.6M643,333.5l-1.1,1.6M494.7,123.2l-1.7-1.2M505.2,106.2l1.3,1.9M309.4,104.5l.5,.8M310.6,106.7l-1.1,1.8M314.6,107.9l-1.3-1M320.9,110.7l-1.4,.9M296.4,97.8l1.2-.9M294.3,92.7l1.7,2.8M262.6,60.6l.7-1.1M266.8,57l-.7-.4M261.7,55.8l-.8,.6M275.2,67l-1.7,1.1M566.9,94.2l1.1-1.6M567.6,90.7l-1.1,.8" fill="none" stroke="#989aa4" stroke-width="0.87"/><path d="M206.2,55.8l.3-.4 .6,.3M204.7,50.1l-.4,.2M218,36.9l1,.6 .3-.5 1.5,3.1M221.8,39.8l.6-1.2M233.1,42.7l.4,.3M242.2,46.2l.6,1.3M244.3,47.3l.6-1 .3,.6M247.2,44.6l.6,1.2M265.6,43.5l2.5,4.3 .3-.6M277.7,49.2l1,1.6M294.4,50.8l.7-.4 .3,.5M303.7,42.4l.7,1.2M305.7,46.7l.8,.4M307.5,50l1.7,2.9M310.9,50.1l1.4-2.7M312.9,44.1l.5,.9M310,60.9l-.6,1.2M301.4,71.2l-.5,1M300.7,74l-.7,1.3M303.2,82.4l.5-.9M308.4,84.9l.5,1.2M311.5,87.1l1-.6M314.6,86.5l1.6,1M323.9,81.7l-1.3-2.4M336.1,79.3l.9,.5 .9-1.4M339.9,74.5l.3,.7M351.5,94.4l-.7,1.2M345,97l-.6,.4M335.3,99.8l-1.4,.7M331.5,114.5l-.9,.5M315.9,136.7l-1.6-2.7M307.5,132.9l-.8,.5M303.5,134.3l-.5,.3-1-.6M296.3,147l1.9,3.1M310.1,147.7l-1.7,3.1M314.6,160l-.4,.8M320.7,162.6l2.8,1.4M339.3,162.1l1.2-.7M345.9,164.9l1.5,.7M361,176.6l.2,.5M375.5,191.2l-1.7,2.8M348.5,225.5l.9,.5M349,230.3l-1.8,1M341.2,235.5l-1-.6M338,247.9l-1,.6M335.5,252.2l-.7,1.2-.9,.4M334.7,257.3l-.8,.3M328,229.2l1.3-2.5M329.1,226l.7-.5M331.3,213.3l.7-1.2M331.8,205.4l.8-1.5M330.2,199l-.3-.6M327.8,197.3l-2.4-1.2-3.1-5.4M321.4,188.1l-2.1-3.7-1.6-.9M317.6,181.2l.4-.8M322.2,166.5l-.9-1.9M312.9,162.3l-1.2-.7M303.9,156.7l-.3-.5M302.4,156l-.9-1.6-.8-.5M299.8,153.7l-1.2,.7M295.4,153.8l-1.6-.8M289.2,151.5l-1.1-.7M273.2,132.3l1.6,2.9M276.4,137.9l1.1,1.8M262.8,121.2l-.9-1.5-.6-.3M240.6,76.9l-.4-.6M234.9,75.5l-1.5-.8-.6-.9-.7,.4-1.9-1-1.3,.8M224.9,76.2l-.6,1M223.8,73.5l2.1-1.2M224.6,74.2l-.4-.2M223.4,74.7l-.4-.2M213.9,80.6l.8-1.4M213.3,78.5l-1,.5M211.3,78.7l-.9-1.5M209.8,62.6l-.8,.4M208,62.1l-1.6,1M371,66.5l.9-1.4M380.3,55.3l.8-.4M381.2,53.5l.5-.9M388.2,50.8l.4-.2M334.8,16.4l.3-.5M356.2,42.3l1.5,2.7M358,49.1l-1,1.7M354.5,53.3l.9,1.7M355.8,57.7l1.3,2.4M357.4,63.4l1,2.1M360.3,70.9l.6,1 .6,.3 1.1-.5M339.7,67.5l-.8-.4M337.1,68.5l-.8-1.6M324.9,63.1l-1.4,.7-.6-1M327,55.6l.7-1.4M327.8,50l-.2,.5M320.3,44l-.7,.4-1.2-.7M317.9,44.5l-.9-1.7M310.1,40.8l-.8,1.5M309,41.5l-.5,.3M307.3,40l-.6-1.3M310.1,29.1l.6,1.2 1.3-2.2M313.6,28.5l.4,.6M314.9,29.3l1.1-1.9 .3,.5M316.6,27.7l.9,1.6M318.1,31.9l.6,1.2 .6,.2M328.8,39l.4,.7M332.9,42.1l.3-.2 2,3.8M336.5,46.5l-.5,1M315.4,24.7l-.7-1.3-.7,.4-.3-.6M304.7,24.3l-1.6-3M304.6,18.6l1.4-2.7M318.1,18.7l.8-.5M285.2,47l-.8,1.4M281.9,47.5l-.8,1.5M268.3,37.4l.7,.4M277.7,31.2l.8,1.3 .5-.9M284.7,34.5l1.6,2.7M261.2,38.5l1,.5M265.3,34.4l.3-.5M268.6,31.1l.8-1.3M266.8,25.2l-.7,.4M263.6,24.2l-1.5-2.9M260.9,23.5l-.7,1.3M275.5,25.9l-.8-.4M269.5,16.6l.2,.5 .6-1.2M275.4,17.6l.7-1.5M304.9,32.8l-1.2,1.9M302,35.7l-.4-.2M300.9,36.3l-1.2-2.4M301.4,23.7l.5,.8M304.8,27.6l.3-.1M294.2,22.6l-.7-1.4M316.7,64l-1-.5M314,64.6l-.3,.7M312,65.5l-1.4-2.4M312.3,59.5l1-1.8 .6,1M315.6,59.4l.3-.2 .8,1.4M317.8,62.6l.8,.5M350.5,103.5l.5,.9M355.5,103.6l-1.1-2.1M351.4,96.2l-.4,.6-1.1,.6M325.2,147.4l1.2,.6M319.6,146l-1.5-.9M332.2,150.7l-1.5,.9M323.4,150.6l.9,.6M397.6,64.6l1.3-.6M400.7,66.1l.7-1.2M407.3,60.6l-.8-.5M402,57.6l-.4-.2M398.9,57.4l-.8,1.7-.3-.5M396.3,60.9l-.4,.2M394.2,60.1l-.6,1.1M393.9,61l.8,.4M424.8,89.1l-.9-.5M423.4,86.5l-1.2-2.3M422.2,83.3l.9-1.6M420.6,79.3l.8-.3M418.6,86.7l1,2.1M419.4,91.5l.7,1.4M421.1,95.7l-2.6,1.5M417.6,89.8l.5-1M417.3,88.3l-.6-1.1M413,93.1l-.5,1.1-.8,.4M412.5,95.5l1.6-.9M413.8,119.7l-.9-.5M413.7,113l-.5-.9M421.9,110.9l.9,.5M423.9,106.6l-1.3-2.6M419.9,101.8l2.1-1.2M423.1,100.8l.4,.7M437.2,82.3l.4-.2M440,85.4l-1.5,2.8M446.7,89.3l.9,.5M454.7,81.7l.5,.2M457.6,78.9l-.9-1.5M459,76.6l.8-.4 .6,.3M460.4,74.5l-.4-.2M458,76.1l-.6-.3M457.1,76.3l-1.2-.7M454,72.6l-.2-.4M454.2,67.9l.8-.4M459.1,60.3l-1.1-2M457.6,58.6l-1.5-.8M450.2,66l-1.5,2.4M448.3,72.6l.8,1.3M433.1,67.8l.2,.4M441.6,58.5l2-3.3M447.8,46.9l.6-1M453.7,40l.7,1.3M457.3,40.7l.2,.5M457.8,40.9l1.2-2M463.8,42.6l.4-.2M474.6,64.3l.4-.6M476,62.1l1.3,.7M483.2,50.9l.7-1.4M491.6,50.1l1,1.7M502.8,48.3l.7-.4M506.5,44.8l1.2,2.2M510.5,46.4l.3,.2M521.8,42.5l.3,.5M527.1,33.1l.8,1.4M530.4,34.4l.5-.3M532.8,28.6l.4,.2M538.6,28.2l.3-.2 .6,1.2M540.5,24.9l-.5-1.1M574,15.9l.4,.9M571.2,25.3l-1,1.9M577.8,25.8l.8,1.5M581.7,31.5l1.1-.6M583,31.4l.5-1M584.5,30.9l.3,.6M587.8,29.3l1,1.6M590.4,32l.3-.1M590.9,32.5l.6-.4M601.7,36.6l.5,.3M604.3,39.7l.6-.8M606.4,37.4l.5,.3M607.9,37l.4,.7M611.3,33.6l.3-.2M615.5,31.1l1.2,2M621.7,34.1l.5,.9M625.4,37.2l1.9,3.1M629.9,39.1l.4-.9M631,39l.3,.5M631.8,39.3l.5-.8M637.1,39.6l1.6,3.2M648.5,48.2l.5-.3 .4,.3 .2-.4M655.5,44.8l.5-.8M661,43.9l.2-.4M661.4,43.7l1.2,2.1M661.9,62.9l-.3-.5M660.9,64.2l.8,1.5 .7,.4M660.2,69.4l-.7-.4M659.2,69.3l-.7-.4M654.5,72.9l-.6-.3M653.1,72.8l-1.5,2.8M644.5,75.4l-.2,.4M638.3,89.3l-.6,1.2M632,83.4l.6-1.1M633.6,82l.7-1.2M640.8,73.7l.6-1M641.1,69.9l-.3-.5M636.6,71.7l-.6,1M630.8,77.5l-1.5-.8M618.4,77.4l-.4,.8M614.6,77.2l-.8,1.5M605,88.4l.6,.9M612.5,91.6l.7,.4M595.4,119l1.6,2.9M596.2,125.5l-2.7,1.3M591.1,120.7l.6-1.3M586.2,116.1l-1.1,.6M584.9,117.4l-1.2,.7-.5,.7M586.8,133.6l.8,.4M586.3,136.6l-1.3,2.5M579.9,144.1l-1.2,.7M565.8,149.7l1,1.5M570,160.4l-2.2,1.2M564.6,161.8l-1.1-.6M558.4,159.6l-.8,1.5M562.8,171.2l1,1.7M558.7,167.5l-1.5-2.7-.9-.5M549.9,148.8l-1.3-.8M536.7,151.4l-2.1,1.2M525.1,157.5l-.8-1.6M523.7,155.7l-.7-1.1M519.1,147.1l-.3-.6M514.3,141l-.6-.4M504.2,143.7l.7,1.4M486,157.7l-1.3,.8M483.3,158.6l-.4-.8M482.1,155.1l.2-.2M471.8,129.4l1.5-2.9M473.2,125.2l.3-.7-.5-.8M473.6,123l-1-.5M466.9,122.8l-2,1.2M460.4,120.5l.7-1.3M465.5,115.5l.7-.3 .6,.3M469.2,114.6l1.9-1M473.8,115.6l.7-.4M479.1,115.7l1.6-.9M480.9,112.9l-1.9-.9M474.2,108.1l1.6-1M464.8,108.4l-.7,.4M456.1,118.5l.5,.3M452,117.5l-.7-.5M444.5,108.1l-.5,.7-.3-.5M442.9,107.1l-1.1,.6M441.8,109.2l1,1.6M446.6,114.8l2.1,1.1M447.5,119.5l-.6,1.4M446.9,119.2l-1-1.8M439,110.5l-1.7-.9M425.1,118.7l.5,1M424.6,121.6l-1.6,.7M186.5,47.3l.7,1.4M190.8,47.6l.4,.7M196.5,54.4l.7-.5M191.9,62.6l-.8-1.5M189.2,59l-1.7,1-.5-.8M186.4,56.1l.5-1M417.7,124.5l-1.7,3.4-1.9,1M410.5,136.4l-2.9,1.4M423.6,169.2l3.1-1.5M431.2,167.1l.8,.4M443,187l-.4,.7M441.8,196.5l-.8,1.5M444.8,206.9l-.3,.6M444.5,208.8l.6,1M447.8,216.5l1.9,3.4M457.6,223.9l1.4-.8M459.8,223.4l3.1-1.8M468.3,215.5l.7-1.3M469.2,211.6l-.4-.8 2.9-1.4M479.7,195.2l-.5-.7M479,190.6l-1.1-.5-.4-.9M477,183.3l1.1-2.1M481.7,175.7l1.6-.9M483.3,160.4l-1.1-.5M482.7,158.5l-2-1.1M466.2,131.2l-2.7,1.4M454,129.4l-1.8,.9M450.9,133.3l-2.2-1.3M440.2,128.6l-.4-.8M434.8,122.9l-.9-.5-1.4,.6-.6-.3M428.6,122.5l-3.2,1.9M490.2,204.1l-1.1,1.9M483.5,207.8l-.8-1.6M490.8,191.6l.4,.6M532.8,163.1l.4,.7M577.1,211.7l-.5,.3M579.1,222.4l-.9,.5M585.7,223.7l.9-.5M589.7,223.4l.8-1.4M608.1,224.7l.9-.5 .4,.8M621.2,230.5l1.2-.7M624,206l-.4-.7M619.7,199.6l-1.4-2.4M607,191.7l-.5-.3M577.7,205.5l-.6-.3M620,240.3l-.6-.3-.8-1.7M618.7,237.5l-1.1-1.9M660.9,232.4l-2.1,4M656.4,232l.9-.5M654.9,234.4l1.4,.7 .5,1.1M654.8,239.6l.5,.9-.5-.3-1.6,.9M650.3,245.6l-.6-.3-.6,.3M646.6,244.3l1.8-3.2 3-1.6M654.6,235.1l.3-.7M609.3,121.9l-1.6,1M607,123l-.9,1.7M610.6,125.5l.5,.3M611.8,125.7l.7-1.2M612.7,120.9l1.2-2.1M597.3,128.6l2-1.2M598.6,130.1l-.8-.4M602.1,129.5l.4-.7 1.9-1M611.1,112.9l.7-1.3M615,109l1.6,.9M612.8,114.3l.4,.7M613.6,97.9l.6,1.1M585.8,145.6l-.9-1.8M592,168.1l-1.6-.8M590,166.3l.4-.7M587.4,165.9l.5-1.1 1.6-.9 .4,.7M590.9,164.2l1.1-1.8M591.5,160.4l.6-1.2M590.5,158.6l-2.5,1.3M582,173.1l.6,.9M579.7,180.8l-1.5-.8M576.6,180l-.7-.4M583.8,168.3l-1.1,.6M561.2,173l.7,1.3M563.3,175.4l-.5,1M564.2,182.5l-2.5-1.4M558.1,175.6l-.8-.4M552.8,169.6l-.8-1.4M571.1,184.1l1.1,.6M574.2,184.2l.8,.5M575.3,185.6l.5,.3M568,186l-1.1-.6M591.5,174.4l-1.8,.8M602.4,176l1,.6M604,179.2l1.4,.8M612.7,179l1.6,.9M621.5,183.6l.4,.7M625.7,189.3l-1,.5M620.3,187.9l-.9-1.6M608.2,186.7l.5-1.1M603,180.2l-.4,.6M600.8,179.2l.6-.4M583.4,186.6l.2,.5M596.4,173.4l-.5,1 .4,.7M599.2,180.7l-1.2-.7M596,180l-.4-.8M645.9,205.7l-.5-.9M495.9,40.3l.6-1.2M507.8,15.9l.3,.6M508.4,16.1l.7,1.4M503.7,16.1l-.5,1-.5-.9M500.1,21.9l-.6,.3-.6,1.1M497.5,27.5l-1.4,2.9M608.4,15.9l-.3,.6M624.6,20.4l.3,.5M186.5,38.3l.4,.7M187.4,38.5l1,1.9M189.8,38.7l-1.3,2.3M198,64l1.4,.9 .5-.3M199.7,66.8l-1.2-.7M222.9,81.5l-1,1.7-1,.6M438.5,116.6l-.7-1.2M428.7,118.2l.9-.6M429.6,118.7l-.9-.5M375.8,261.1l.5,1M518.4,251.8l-.7-.5M614,27.2l.6,1M614.1,29.4l-.5,.3M613.4,29l-.7-.4M503.2,42.7l1.2,2M314.8,68.7l-.3-.6M318.6,69.8l.4-.2M319.4,69.9l.5,1.1M317.3,92.9l-.4-.7M320.5,27.5l-1.2,2M300.3,19.1l.3,.2M267.2,18.7l-.5-.3M246.5,79.7l.5,.8M208.7,88.4l-1.6,.9M655.2,93.5l-.7-1.1M222.7,80.2l-.6-1.2M230.3,75.3l-.3,.6M227.3,334.7l.5-.9 .6,1.3M238.6,331.5l.4,.2 1.6-3.1 .3-.2M241.3,328.8l1,1.7M254.2,323.1l.6,1.2M255.9,324.5l.3,.5M260.1,323.4l.4,.7M271.8,329l.4,.3M274.4,330.9l1.3-2.5M277.2,327.1l.7,1.3M292.7,321.1l1.3-2.3 1.1,1.8M298.9,322.8l.5-.9 1,1.6M309,319l1.2,2.1M312.5,324.6l1.7-3.5M316.7,322.3l1-1.8M318.8,322.7l.9,.5M328.6,317l.6,.3M331.6,314l1-1.7M344,286.4l.9-.6M345.8,285.8l1.6-3.2M348,282.3l1.9,1.1M344.9,318.5l.2-.4M345.2,322.8l-1.1,1.8M342,331.4l-.5,.9M388.4,330.8l.4,.9 .2-.4M389.5,331.7l.7-1.2M397.6,324.8l.6,1.1M401.4,324.8l.6,1M402.8,325l.8,1.4M406.3,323.5l.4,.8M414.2,311.8l.7,1.4M430,308.5l.4-.2 1,1.7M441.4,307.9l.7-.4M442.4,306.7l1.4-.8M445.8,308.3l.6-1.1M450.4,307.3l.4-.5M457.7,309.5l.9-.5M463.3,307.1l.4,.5M464.8,307.1l.6,1.3 .6-1.1M476,305.6l1.8-3.4M478.8,302.2l.6,.3M480.6,301.7l.7-1.1 .8,.4M484.3,298.8l.2-.5M488.1,298l.4-.8M489.6,298.2l1.4-2.4M506.5,298.7l.6-1.1 1.1,.6 1-.5 .6,.4M511.9,297.3l.9,1.6M519.5,317.9l.3,.4M524.8,308.6l.9-1.8M533.3,299.8l.7-1.4M537.9,296l.6,.3M545.2,296l1.8,1M548.3,296.1l.4-.8M564.1,294.1l3.6,1.8 .6-1.1M574.8,295.5l.2,.5 1.2-.6M578.7,293.7l1.3,2.5M582.8,294.9l2.8,1.7 1.4-2.4M593.1,294.9l.7,.4 .5-.3M603.3,294.5l.8,.4M617.7,300l1.4,.7 .5-.9M623.8,301.3l.6-.2M625.4,302l.8-.4M628.1,301.9l1.7,1M630.7,301.2l.3,.5M641.9,311.2l.3-.4 .6,.3M645.6,310.2l.5,.9M649,323.8l-.7,1.4M647.2,326.2l-.3-.6M496.2,122.3l-1.5,.9M491.2,121.1l-.5-.9M313.2,104.6l-.9-1.5-1.6-.8M308,101.9l-1.3,.8M316.6,107.1l.7-.4M318.3,109.5l-1.3,2.3M320.6,112.9l-.3-.6M296.7,93.2l-1.6-2.8M263.9,59.3l.8-1.7 1.3-.8M266.1,56.6l-1.2-2.2M276.6,71.2l1.5-2.5M273,68l-1.1,1.8-1.1,.6M565,95.4l1.9-1.2M571.3,85.8l-1.3,.7M467.7,176l1.9-.9M464.9,182.2l1.5,2.5M472.4,194.7l-.8-.4M466.6,74.9l.9-.5 .4,.3M466.7,70.4l-1.1,1.9" fill="none" stroke="#989aa4" stroke-width="0.92"/><path d="M202.3,59l.5-1.3M205.4,56.7l.5-1 .3,.1M207.2,53.4l-1.4,.7M204,49.8l.8-2.2M211.2,45.3l1.9-4.2 .8,.4M215.3,41.5l.5-1.2M225.9,40.1l.5,1.1 1,.3 .2,.6M228.6,42.3l.6,1.5M230.8,44.1l.6,1.5M231.8,45.5l1.3-2.8M239.4,44.6l1.4,3.6M247.8,45.8l1.1-.4M249.5,45.2l.5,1 1.6,.5M262.2,44.6l.3,.7M271.6,46l.7,.3 .9,2.7M279.6,50l1.1-.4 .3-.8M285.5,48.2l.6,1.5M287.4,50.9l.3-.6M291.6,49.2l1.1,2.4M293.5,51.7l.5-1.3M298,49.1l.3-.6M299.4,42.3l.6-1.5M301.7,37.3l.3,1.1 .3-.1 .6,1.5 .6,.3M306.5,47.1l1,2.9M312.6,44.2l.3-.1M313.4,45l.6-.2 .7-1.6 .8,.3M315.4,55l-.6,1.7-.8,.3M312.3,57.1l-.8-.3M308.2,62.2l-2,4.2M305.4,66.5l-.3,.8M302.8,69.8l-.7,1.6M300.3,77.7l.4,1.2M301.8,80l.9,2.5M318.6,95.5l1-.4 1,.4M322.1,87.9l.4-1.2M321.9,77.9l.8-1.7M322.9,69.8l1.6-.7M324.6,69.7l.6,.2M331,72.7l.8-.3M340.3,78.2l.7,1.4M343.1,81.4l.7,2M350.9,92.8l.6,1.6M348,97.6l-1.6,.7M344.4,97.4l-1.1-.4M331.2,104.8l.8-1.6 1.2-.5M339.1,103.7l.7,1.9 1.7,.6M342.4,105.5l.9,.5 .5,1.1M338.1,110.9l-.5-1.5M337.9,108.3l-1.4,.5M330.6,115l-.7-.3-1.5,.5M317.5,134.1l1.2,2.7M318.6,141.1l-.8-.3M312.7,133.7l-.7,.3M310.6,133.1l-1.1,.5M305.7,135.1l-2.2-.8M296.7,138.1l-1.2,3.1M298.2,150.1l2.1,.8M303.5,150l.8,.4M305.6,147l1.7-.6M314.2,160.8l.3,.8M325.3,161.3l2.6-.9M330.8,158.9l-.6,1.5 .8,1.8M329.8,162.4l.6-1.6M337.6,161.3l1.7,.8M342.2,161.6l1-.4M345.4,163.7l.5,1.2M355.3,168.9l1.8,.6M358.6,171.5l-.4,.8M359.9,176.2l1.1,.4M361.2,177.1l1.9-.7 2,.8M372.1,179.3l1.8,.6M379.2,186.2l-.6,1.6M374.2,195.2l-1.1,2.6M370.8,205.7l-.7,.3M343.8,231.6l-.6,.4-.6,1.7 .3,.9M340.2,234.9l-1,.4M338.9,239.6l-.6,1.4M338.5,242.6l-1.9,.7M337.6,247l.4,.9M337,248.5l-1.5,3.7M333.9,253.8l-.4,.9M333.9,257.6l-1.3-.5M330.7,260.1l-.8,.2M327.2,257.7l-1.3-2.8M326.1,252.5l-.7-2.2M331.8,209.8l.4-1.1M331.2,199.4l-1-.4M322.3,190.7l-.9-2.6M317.7,183.5l.4-1-.5-1.3M318,180.4l.9-.4 .5-1.2M318.7,165.8l-4.3-1.8M306.4,157.4l-1.9-.9M296.1,153.6l-.7,.2M287.4,149.8l-1.2-.4M285.7,148.7l-.4-.9 .5-1.5M283.8,143.6l-.7-1.9M276.6,134.7l-.6-.2M279.8,142.9l.3,.9M276.5,141.5l-.3-.9 .3-.9M273.5,137.2l.5-1.2M271.2,133l-1.7-4.4M261.9,102.3l.5,1.3 .7-1.3M261.8,100.4l-.3-.8M257.1,96.5l-.5-1M254.6,92.4l-.6-1.3M253.1,90.5l-.6-1.2M248.9,83.2l-.7-1.7M228.9,74l-.6,1.3M227.4,75.1l-.3,.8M224.3,77.2l-.5,.2M223,74.5l-.9,.5M218.3,81.6l-.6,1.7M213.7,86.4l-1.3-.6M211.5,84.4l1.4-.5M214.7,79.2l2.2-.8M212.3,79l-1-.3M210.3,75.6l-1.5,.7M207.5,75.2l-2.3-5.9 .6,.2M209.3,66.5l.2-.5 .8,.3M205.2,61.6l-.8,.2M204,59.9l-.2-.7M203.5,59.5l-1.2-.5M374.6,60.5l.4-1.2M378.4,58l.8-.2 1.1-2.5M385.7,50.1l.5-1.2 .5,1.2M389.6,49.1l.8-2.2M391,47l.5-1.2M392.3,45.7l.3,.4 .2-.5M393.6,45.8l1.5-3.8 .9,.3M396.6,32.6l.8-1.8M350.6,28.4l.5,.2M352.8,37.5l.3,.8M354.7,39.2l.4,1.1-.9,2.4 .5-.2M355.9,49.8l-.8,.4M362.6,71.7l.4,1.3M364,73.6l.9-.3 .5,1.5M340.1,61.7l-.5-.2-.3,.8M338.8,64.9l.9,2.6M333.2,68.7l-.3-.1M323,61.9l1.1-2.8M327.6,50.5l-.6-.2M323.3,46.2l-1.5-.5M321.4,43.8l-.3,.7M316.7,43l-.4-.9M313.3,42.9l-.7-1.8M309.3,42.3l-.3-.8M307.7,29.4l.4-.9M313.1,29.9l.5-1.4M319.3,33.3l.6-1.5 .6-.2M321.9,35.1l.6-1.9M323.2,33.3l.2,.5 .5-1.1M330.1,38.9l.5,.2M340.8,53.7l1.4-.6 1.2,2.6M317.3,21l-.3,.8M316.3,22.2l-.9,2.5M313.7,23.2l-1.1-.5M312.3,23l-.6-1.3-.8-.3M309.9,21l-1.2,2.8-1-2.3M303.5,16.3l1.1,2.3M317.8,19.5l.3-.8M318.9,18.2l.4,1M287.8,45.5l-.5,1.4M286.5,46.7l-.1,.6M274.4,46.7l-.8-2.2M272.9,44.2l-1.1,.4-.7-.3M269.4,37.6l1.8-4.7M272.1,32.9l.6,1.3 .8,.3M275.1,32.3l.5,1M279.7,31.7l.9,1.8M282.1,30l1.4,3M290.7,41.2l.7,1.5M262.9,38l.3,.2M268.2,31.3l.4-.2M268.8,27.1l-.3,.8M266.1,25.6l-.6-1.3M282.2,22l-.8,.3M272.8,22.9l-1.1-2.6M279.3,15.9l.8,2.1M284.8,20.6l.4,.1M295.6,37.4l-2.2,.9-1.2-3.1M289.3,31.8l.6,.3 1.2-3.2M291.4,28.6l.4,.8M293.1,29.1l.9-2.3M295.8,27.6l.7,1.6M299.2,27.3l.6-1.5M300.7,25.7l.7-2M302.4,23.7l.7,2M290.4,17.2l-.3,.9M317,64.8l-.3-.8M310.6,63.1l-.6,.3 .8-1.7M311.7,59.8l.6-.3M316.7,60.6l.6,.3M354.3,100.5l-2.1-.9M349.9,97.4l-1.4,3.5M347.2,102.4l-.4,1.1M255,96.9l.7-.3M260.3,98.9l1.4,3.2M314,144.5l1.4-.6M317.3,144.4l1.3-.4M323,146.1l2,.7 .2,.6M322.6,148.5l.4-1M334.4,149.8l.3,.6-.9,.3M406,63.1l.9-2.4M395.6,56.4l-.4,1.1-1.2,.4-.4,1.1 .8,1.9M394.6,60.3l-.4-.2M427.8,92.9l-1.9-.7M423.1,81.7l-1.5-.6M421.4,79l-.7,.3M419.5,79.3l-.6-.3M418.3,79.8l-.4,1.2M418.1,84.4l-.8,2.1M421.5,91.3l-1.1-.5M418.5,97.2l-.6,1.2M415.3,86.6l-1.1,2.2M415.9,95.2l.7-.3 .4-.9M419.8,111.9l2.1-1M422.6,104l-3.1-1.1M426.5,98.6l1-.4M431.2,94l.7-1.8M437.1,86.5l-.8-2.3M438.3,82.6l.4-1.1 .7-.3M451.1,88.8l.7,.3 .7-1.6M456.8,81l.4,.1 .6,1.4M458,75.5l.2-.1M465.3,76.2l.3-.6M463.8,74.7l-.5-1.2M462.4,73.1l-1.6,.7M457.4,75.8l-.3,.5M455.3,58.3l-1.2,3.4M452.8,62.9l-.8,2.4M449.8,73.9l.7,1.4M440.4,79.4l-1-2.8M433.5,80.2l-.3-.5M432.7,76.1l-.6-1.3 .4-.8M437.2,66.7l.7-1.6M446.9,48.4l.6-1.6 .3,.1M453.2,41.1l.5-1.1M454.4,41.3l1.4,.6M472.5,47.8l1.2-.5M477.6,51.7l.3-.7M478.9,55.9l-.8-.3M477.1,58.1l-1.1,.4M473.6,55.6l-1.1,2.7M471.7,62.5l.4-.2M478.6,62.1l1.7-3.4M483.9,49.5l1.1,.4 .5,1.5M489.2,52l1.1,.3 .5-1.5M492.6,51.8l.7,.3M495.1,49.6l1.1-.4M501.5,49l.4-1.1 .9,.4M504.4,46.2l.6-.3M507.7,47l.7,.3M510.2,47.1l.3-.7M515,37.4l1.1-3.2M518.9,30.9l.6-1.3 1.1,2.5M521.4,35.5l.5,1.4M521.1,41.5l.4,1.3M524,47.3l-.4-.8M525,35.7l1.1-2.3M527.9,34.5l.5,.2M529.8,36.1l.6-1.7M531.8,33.3l.6-.2M532.5,29.3l.3-.7M533.2,28.8l.6-1.5M534.2,27l.3,.9M539.5,29.2l.3-.7 .4,.2 .6-1.5M541.8,21l.2-.5 .9,.2M549.5,16.4l.2-.5M575.2,23.5l-1.2,3M570.2,27.2l.7,1.6M575.9,28.8l.8-.4 1.1-2.6M578.6,27.3l.5-.1M579.3,27.9l.5,.2 .9,2.6M582.8,30.9l.2,.5M583.5,30.4l.3,.8 .3,.1M585.8,30.2l.4,.7 .6-1.5 .3-.1M589,30.1l1,.4M590.7,31.9l.2,.6M591.5,32.1l1.6-3.6M594.4,30.3l.8,1.8 .2-.5M603,36.7l1.3,3M605.7,39.1l.7-1.7M608.3,37.7l.8-1.9 .7,1.8 .2-.5M616.7,33.1l.7-2M619.7,32.9l.4,1.2M623.8,35.1l.9,1.9M630.3,38.2l.5,1.1M632.3,38.5l.5,1M633.3,39.3l.7,1.7M640.7,45.4l.8,2.2 .7-.2 2-4.4M645,42.4l.9-.4M646.4,42.5l2.1,5.7M653.2,45.3l.2,.6M654.5,45.8l.4-1M657.5,45.7l1.9-.9 .6-1.4 .2,.5M663.7,45.5l.8,1.8M662.2,62.7l-.3,.2M663.4,69l-2.3-.9M658.5,68.9l-.5,.2M656.3,70.7l-.7,1.4-.9,.3-.2,.5M651.6,75.6l-.6-1.3M648.5,73.2l-.7,.3M641.8,80.7l.4,.8M635.9,93.9l-.6,1.8M632.9,89.3l-.7-1.6M635.9,79.5l1.3-.5 1.7-4.7M639.9,74.2l.2-.4M633,75.3l-.3-.1M626.6,77.5l-.8-1.8-2.1,.9M611.7,81l-2,.7M613.2,92l-.3,.9M613.1,94l-.9,2.1M612.5,97.4l-.4,1.2M612.2,100.4l-.5,1.5M602.4,112.5l-1.9-.7M598,114.4l-.9,2.5-2.3,.9M597,123.1l.4,1.1-.5,1.5M593.6,123l-.7-1.6M587,118.5l-.3-.7M587.8,116.8l-1.6-.7M585.1,116.7l-.2,.7M582.8,120.5l.9,1.9M585,121.5l.9-.3M587.4,132.3l-.8,.3M583.7,140.4l-.6,1.5M572.6,146.4l-.5,1.6M571.4,148l-.4-1M567.6,145.8l-1.8,3.9M570.7,158.1l-.4,1.2 .2,.6M566.1,163.6l-.9,.4M564.7,163.2l.3-.9M557.6,161.1l.2,.5-.6,1.6M558.1,163.2l.8,2.4M556.3,164.3l-.3,.8M555.7,163.5l1.1-2.3M555.8,156.4l-1.2-3.7M548.6,148l-1.7-3.6M545.4,145.8l-.7-.3M532.1,158.1l-.8,2.4M531.6,161.6l-1.3,.6M524.3,155.9l-.6-.2M518.8,146.5l-1.2-.5M515,142.8l-.7-1.8M511.8,140.7l-1.5,.5M506.5,140.8l-.6,.3M500.5,138.1l-2.4,.9M493.9,136.9l-1.4-3.1M489.2,134.5l1.1,2.7 .7,.3M500.8,142.3l3.4,1.4M500.7,150.4l-.4,.9M494.8,154.5l-2.9,1.3M483,157l-.9-1.9M482.1,152.9l-.4-1M480.5,150.9l-.7-1.8M475.3,142.2l-1.2-2.9M471.9,134.7l-1,2.3M469.7,132l1.7-.6M472.6,122.5l-1,.4-.3,.7-2.2,.8M462.1,123l-.7-1.6M460.2,117.5l2.7-1.2 1.1,.5M463.7,116.6l.6-1.2M480.7,114.8l.4-.9M479,112l-.5-1.4M475.8,107.1l.4-.9M474.4,105.2l-.7-.3-1.3,.5M474,107.5l-.3,.8M470.5,109.6l-.8-.4 .3-.8M470.1,106.7l-2-.9-.5,.2M466.3,105.4l-1.5,3M464.1,108.8l-.4-.2M462.8,114.7l1.2,.5-2.4,1M460.6,117.2l-.6-1.1M459.2,115.9l-1.4,.5M457.9,117.3l-.7,.2M455.5,116.9l.6,1.6M456.2,121l.4,.9M455.8,122.1l.5,1.4M442.8,110.8l.6,.2 1.2,2.6M450.1,117.1l-.3,.7-.3-.6M423,122.3l-.3,.7M189.4,48.5l.2-.5M190.6,48l.2-.4M191.5,48l1.6,3.6M195.5,51.6l1,2.8M199.2,55.2l.8,2.2M402.8,147.3l1.3,3.8M415.5,169.8l2.3-.9M420.3,168.5l2,.7M438.7,173.4l-1,2.2M442.8,188.6l1,2.3-1.2,2.6M441,198l.7,1.8M441.5,200.7l.8,1.7 .9,.4M459,223.1l.8,.3M468.8,211.4l.4,.2M472.9,206.1l-1.2-3.5M474.2,199.7l1.8-.7M477.5,198.7l.9-2.3M477.9,184.6l-.9-.5M488.3,170.2l.5-.3 .4-.9M482.2,159.9l.5-1.4M480.7,157.4l-.5-1.4M479.8,156.6l-1.2-.6M463.5,132.6l-2.8-1.4M456.3,130.3l-.3-.6M452.2,130.3l-.3,.6M442.2,128.9l-.6,.3-1.4-.6M439.2,127.8l-.3-.8 1.1-2.3-.4-1.2 .5-1.1M430.3,123.1l-1.7-.6M420,125.1l-.6,.2M491.2,192.2l.8,1.7M492.6,195.9l-1.2,2.6M489.9,203.3l.3,.8M488,209.7l-2.2,1-1.9-.9M483.8,204.3l.7-1.5M484.6,201.8l-.7-1.6M531.1,165.6l.7-2.1M584.8,223.4l.9,.3M603.7,221.3l1.3,3.1M608.7,222.1l-.7,1.6M609.4,225l-.5,1.1 2,.9M611.5,229.6l4.7,1.9M620.7,231.5l.5-1M628,221.2l.7-1.7M628.7,216.7l.8-1.6M623.5,203.8l-1.6-.8M620.5,201.4l-.6-.2-.4-1M617.5,194.6l-.9,.4M611.7,199.4l-1.8-.8M609,197.5l-2.5-1.2M606.5,191.4l-1.2,.4M600.5,191.6l-1.6,.6M593.4,193.9l-1.3,.6M590.1,197.6l-.6,.2-.7-.2M620.5,235.8l1.9-.7M621.3,239.7l-1.3,.6M656.9,225.7l1.4,3.1M661.7,232.2l-.8,.2M658.1,234.4l-.4-1-1.4-.7M657.5,229.1l-.6-1.5M656.8,236.2l-.7,2.1M653.2,241.1l-1.2,3.2M647.6,244.6l-.8,.2-.2-.5M653.1,237.4l.9-2.2M611.7,115.4l-.4,1M609.5,121.2l-.2,.7M599.3,127.4l.9,.5 .4,1M597.8,129.7l-.5-1.1M611.6,113.9l-.5-1M616.6,109.9l.9,.5M613.5,112.7l-.7,1.6M615.2,103.8l.6-1.1M617.5,100.9l-1.9-.9-.5-1.1M616.2,93.3l-.6-1.1M615.6,90.5l-.6-1.4M614.6,91.1l-1,.4M587.4,142.5l-.9,2.5M572.9,148.8l-.5,1.1M570.9,150.9l-1.1-.4M587.8,150.5l.3,1M586,155.9l-1.2-.5M593.1,167.1l-.6-1.3M592,166.4l.4,1.1M590.4,167.3l-.4-1M589.9,164.6l1-.4M592.1,159.2l-1.6-.6M588,159.9l-.6-.3 .3,.8M582.6,174l.9,.3M575.9,179.6l-1.6,.6M571.8,179.4l-.4-.9M571.2,172.8l.9,.4M574,172.1l1.5-.7M582,167.6l1.8,.7M552,168.2l1.4,.6M555,168.6l.3,.8M562.8,176.4l1.3,.6 .7,1.6M564.5,183.3l-.3-.8M569.8,184.6l1.3-.5M566.9,185.4l-.3-.7M586,173.8l1.3,.5M589.7,175.2l-.6-.2M587.4,175.4l-1.1-.4M587.9,182.5l-.4-1M586.2,179l-1,.4 .7,1.7M585.4,182.8l-.8,.3M584,182.7l.4-1.2M603.4,177.6l.6,1.6M606.2,179.4l.3-.8M608.5,177.6l3.4,1.5M618.9,181.6l.4,1.2M619.4,186.3l-1.8-.7-1.8,.8M615.9,187.5l-1.1,.4M608.7,185.6l1-.4-1.1-2.5M603.2,178.8l-.2-.4M590.7,189l-1.1,.4 .5-1.5M598.8,179.6l.4,1.1M625.7,182.8l1.6-.7M626.7,183.2l-1.8,.7M643.3,202.8l2.8,1.2 .6,1.6M645.4,204.8l-.9-.3M662.5,199.4l-.3,.7M637.4,186.2l1.6,.5 .3,.8M493.9,37.4l1.1,.4 .9,2.5M497.6,39.4l1.9-5M501.9,21.7l1.1-2.9 .7,.3M504.7,15.9l-.2,.5M502.7,16.2l-.2,.6M494.9,34.3l-1,3.1M611.1,25.4l.6,1.7M613,28.6l1.9-4M613,17.7l-.6-1.8M623.5,20.1l.5-1.2M620.2,15.9l-1.5,4.3M663.8,39.3l-.3,.6M188.4,40.4l.2-.5M189.1,40.3l.7-1.6M438.2,119l.4-1.1M443.6,121.3l2.6-.9M459.2,124.8l1.2,.5M458,125.8l-1.3-.5M346.5,258.1l-.7-.3M376.3,262.1l1.4-.6M516.9,249.9l1.1-.5M519.1,250.3l-.7,1.5M548.3,158l.3-.7M615.2,27.5l.3,.1M612.7,28.6l.6-1.3M416.4,70.3l-.5-.2M490.6,47.2l.5,.2 .5-1.3M490.6,47.6l-.3-.7M505.7,43.5l-.5,1.2M315.4,67.5l.6,.2M316.9,92.2l1.2-.4M322.6,51.6l.8-.4M319.3,29.5l.7-2.2M323.7,30.7l.2,.6M323.5,31.9l-.7-1.6M300.9,19.9l-.8,1.7M299.6,21.5l-.7-2M299.4,16.5l.9,2.6M297.4,49.1l-.3-.7M295.5,48.3l-.8-.3-.5-1.1M294.8,44.5l.5-1.4M297,43.6l.7,2.2M267.8,20.2l-.6-1.5M250.4,87.2l-.4,.8M245.4,79.3l.8,.4M248.8,89.5l.9-.3M251.2,92l-.7,2M206.4,88.6l.6,.2M202.7,91.1l-.5,1.1M654.5,92.4l.9-.3M204.8,74.4l1-.4M204.8,76.2l-.8-.4M223.1,79.5l-.4,.7M226.4,335.1l.4-.9M233.7,335.1l.6-1.7 .7,1.5M242.3,330.5l1.5-4M245.3,327.9l.3-.8 .6,1.6M250.9,326.9l.9-2.5M252.6,324.4l.3,.9M255.2,324l.3,.8M257.6,324.8l.6-1.4M259.5,324.8l.6-1.4M261.5,324.4l.9,2M270.7,325.4l.4,.8M273.3,331.6l.3-.8M277.9,328.4l.3-.1 1.3-2.9M282.1,328.7l.3,.7M283.1,329.5l.7-.2 .3,.8M284.7,330.1l.7-1.4M286.7,330.1l1.2-2.6M288.9,327.6l.8,2.1M297.1,322.6l.7-.3 1.1,.5M302.8,324.4l1.5-3.6M305.7,320.7l1.2-2.9M314.2,321.1l.5,1.2M315.5,322.5l.5,1.1M319.7,323.2l.5,1M321.5,322.9l1-2.2M324,323.3l.7-2M328.2,317.8l.4-.8M330.6,313.6l1,.4M332.6,312.3l.8-.3 1.1-2.5M335.8,303l.7-1.8M347.4,282.6l.6-.3M351.3,282.5l.5-1.3M349.6,282.8l-1.6,3.8M345.7,287.6l-1.1,2.7M344.7,317.9l.2,.6M341.5,332.3l-.6-1.6M340.3,330.6l-.2,.5M393.6,331.3l1-2.4M395.5,328.6l.3,.8M396.5,325.8l.9-.3 .2-.7M398.2,325.9l.7-.3 1-2.5 .9,2.3M402,325.8l.4-.9M404.7,326.3l.4-.1 1.2-2.7M409.8,313.7l1.5,.7 1.2-2.5M414.9,313.2l.5-1.4M416.8,310.6l.3,.8M419.5,312.9l.4,.2 .3-.8 .4,.2 .9,2 .7-1.4M427.3,310.2l1.4-3.4M432.5,310.5l.3-.7 .3,.7M443.8,305.9l.3,.8M444.8,306.9l.6,1.3M446.4,307.2l.7,.3M450.8,306.8l.5,1.2M454.8,305.8l.8,1.9M458.8,308.1l1.3,2.6M463.7,307.6l1.1-.5M474.6,305.1l1.4,.5M483.4,298.4l.9,.4M498.5,294.3l.6,1.6M516.1,304.3l.3,.7M521.1,317.4l.4,.1M521.7,318.4l.7,.4M528.1,305l.9-2M530.7,301.8l.4,.2 .3-.8M534,298.4l.2,.6M536.5,297.3l1-.4 .4-.9M543.5,293.9l1.2,.5 .5,1.6M552.6,295.6l.4-1M554.5,295.2l.6,1.5M560.4,293.1l1.1-.5 1.3,2.7M597.1,294.3l.3-1 .9-.4M600,293.3l1.3,.5 .4,1M604.1,294.9l.9-1.8M608.5,295.2l1,.3M611.7,296.4l1-.4M616.7,297.7l1,2.3M619.6,299.8l.6,.3M620.7,299.4l1,2.9M631.6,301.7l.2-.5 1,2.8M635.3,305.8l.3,.6M636.4,306.2l.2-.6 .6,.2M640.3,308.1l.6,.3 1,2.8M644.6,309.9l.2,.5 .5,.2M649.7,312.3l.8,.3M647.9,324.6l-.7,1.6M644.6,329.8l-.7,1.5M494.1,104.4l1.8,.6M495,107.4l-1.4,.7M493.6,109.4l1.2,2.7M495.9,118.7l1.2,3.5M506.5,108.1l-1.1,2.2M306,105.4l2-.8M309.9,105.3l1.4,.5M310.1,114.3l.9-2.2M315.3,106.6l1.3,.5M319,109.2l-.7,.3M318,113.8l2.6-.9M322.5,111.8l1.8-.6M258.9,60.9l1.9-.9M263.3,59.5l.6-.2M260.9,56.4l-2,4.5M271.2,72.7l1.5-.6M568,92.6l1-3.1M568.5,88.2l-.9,2.5M566.5,91.5l-.4,.8M469.6,175.1l1.2,.4M466.1,187l-1.4-3.5M470.6,188.2l1.1,2.6M471.8,193.2l.6,1.5M466.1,74.7l.5,.2" fill="none" stroke="#989aa4" stroke-width="0.97"/><path d="M202.8,57.7l1.4,.1 .2-.8 1-.3M205.8,54.1l-1.1-4M206.4,45.7l.6-1.9M211.1,44.5l.1,.8M215.8,40.3l.6,.1M217,39.8l.4-2.3M224,40.6l1.9-.5M227.6,42.1l1,.2M229.2,43.8l.9-.3M231.4,45.6l.4-.1M238.3,45l1.1-.4M242.8,47.5l1.5-.2M245.2,46.9l.4,0M252.2,46.2l1-3.5M254.3,42.7l.2-.8M255.5,41.1l.7,3.4M257.4,45.6l1.2-.2M259.6,44.1l.7,.1 .2,1.1M264.5,43.7l.8,.2M268.4,47.2l2,0M274.4,49.8l.4,1.7M278.7,50.8l.7,.1 .2-.9M281,48.8l1.1,.3M284.8,48l.7,.2M287.7,50.3l1.1-.3M292.7,51.6l.8,.1M295.4,50.9l.1-1.1M298.3,48.5l1.1-6.2M300,40.8l.4,0 .3-4.2M303.5,40.1l.2,2.3M304.4,43.6l.8,3.2 .5-.1M309.2,52.9l.8-.3 .1-2.1M312.3,47.4l.3-3.2M316.4,44.8l1.2,4.3-.5,3.5M311.5,56.8l-.2-.8M311,56.2l-1,4.7M309.4,62.1l-.9-.2M306.2,66.4l-.8,.1M302.1,71.4l-.7-.2M300.9,72.2l-.2,1.8M300,75.3l.3,2.4M302.7,82.5l.5-.1M303.7,81.5l1.2-.1M307.6,84.8l.8,.1M308.9,86.1l1.4-.1M312.5,86.5l1,.3M314.5,86l.1,.5M316.2,87.5l.7,5.8M320.6,95.5l.6-4.5M320.7,90.1l-.1-1.3M323.3,86.1l.7-3.2-.1-1.2M322.6,79.3l-.4-.1-.3-1.3M322.7,76.2l-.3-2.9 .4-2.2-.2-1.6M324.5,69.1l.1,.6M327.1,70l.5-.1M328.6,70.5l1.3,.2M330.6,71.3l.4,1.4M331.8,72.4l.8,.2 .6,5.3 1.5,.2M337.9,78.4l.7-2.5M340.2,75.2l.1,3M342.4,81.2l.7,.2M343.8,83.4l.4,0M345.1,84.5l.7,2.3M349,89.8l.3,1.9M350.8,95.6l-1,.1M346.4,98.3l-.6-.1M343.3,97l-.5,0M341.2,98.4l-.3,1.1-1.9,.4-.7-.2M336,100l-.7-.2M334.1,101.6l1.1-.1M337.2,100.2l1.7,0M339.9,101.1l-.8,2.6M343.8,107.1l1.6-.2M344.5,108.1l-1.7,.4M342.1,109.3l-.9-.1M340.5,109.9l-1.7,.3M338.6,108.5l-.7-.2M336.5,108.8l-.5-.1M331.7,111.9l-.2,1.1M332.6,114.5l-1.1,0M327.2,116.6l-.5,2.5M325.3,120.2l0,1.1M324.2,122.7l.3,1.2M325.3,124.7l-.2,.8-.8,.2M321.6,128.3l-1.6,.3M317.7,131.4l-.2,2.7M318.7,136.8l0,1.4M319.3,138.5l-.2,2M316.9,139.4l-.2-1.2M315.8,137.5l.1-.8M314.3,134l-1.6-.3M309,133.1l-1.5-.2M306.7,133.4l.4,1.5-1.4,.2M302,134l-1,.2-1,.3M299.4,135.5l-1.1,.2M296.7,137l0,1.1M295.5,141.2l.7,2.2M295.7,144l-.1,.8M296.1,145.2l.2,1.8M300.3,150.9l3.2-.9M305.1,149.7l.5-2.7M307.3,146.4l1.3,.4M309.1,146.3l.8,0 .2,1.4M308.4,150.8l-.1,3.2 3.7,.1M312.9,154.7l1.1,0M315,155.5l-.5,2.8 .1,1.7M316.6,163.5l1.4,.3M319.3,162.6l1.4,0M325.1,162.2l.2-.9M330,159l.8-.1M330.4,160.8l1.5-.4M335.7,161.6l1.4,.2M340.5,161.4l1.7,.2M343.2,161.2l.2,1.1M348.6,167.1l1.4,.1M350.8,167.7l3.2,0M358.2,172.3l.2,1.8M366.5,178.8l4,0M371.1,179.4l1-.1M377,182.4l1.6,.1 .6,3.7M373.8,194l.4,1.2M373.1,197.8l.4,1.6-.4,2.1M371.7,202.8l.2,.6M370.9,204.7l-.1,1M369.3,207.1l-2.1-.5M364.9,208.2l-1.8,.4M361.2,211l-.6,2.3 .2,1.4M359.4,216.5l-.3,1.4M356.8,220l-.5,1.7M352.6,225l-.9-.3-2,.4M348,223.6l-.2,.9M349.4,226l-.4,4.3M347.2,231.3l-1,0M345.5,232.1l-1.7-.5M342.9,234.6l-1,0M339.2,235.3l0,1.9M340.9,238.5l-1.1,.2M338.3,241l.2,1.6M336.1,244.1l-.4,1.3M333.5,254.7l.1,1.1M331.2,258.8l.3,1.8M325.9,254.9l.2-2.4M325.4,250.3l-.4-2.9 .1-1 .9-.2M326.6,245.4l1-3.9M328.2,240.7l-.7-3.6 0-3.5M328,233l-.3-2.1 .3-1.7M329.3,226.7l-.2-.7M329.8,225.5l.9-3.9-.5-2.8M330.7,218.2l.6-4.9M332,212.1l-.2-2.3M332.2,208.7l-.6-1.8 .2-1.5M332.6,203.9l-.6-1.8 .2-.9M331.4,200.5l-.2-1.1M329.9,198.4l-1.2-.1M319.4,178.8l-.8,0M318.1,178.3l0-1.2M319.3,176.1l0-1.8M322.9,171.3l-.3-1.6 .1-2.8M318.7,164.6l0,1.2M311.7,161.6l-.2-1.8M308.1,157.1l-1.7,.3M304.5,156.5l-.6,.2M303.6,156.2l-1.2-.2M300.7,153.9l-.9-.2M298.6,154.4l-1.4,0M293.8,153l-1.7-.3M291.1,151.8l-1.9-.3M285.2,145.7l0-.9M281.8,140.4l-1.6-.5 0-1.2M278.8,137.7l-.2-.7M276,134.5l-.3-1.6M274.8,131.7l-1-.1M273.1,130.9l.1,1.4M276.2,136.5l.2,1.4M277.5,139.7l.1,1.2M277.6,141.8l-1.1-.3M267.5,127.1l-2.1-.6 0-.8M263.1,122.9l-.3-1.7M261.3,119.4l-.2-1.6M260.3,116.8l.4-2-.3-6.4 .6-1.8-1.1-4.7M260.9,102.5l1-.2M263.1,102.3l-.1-1.1M261.5,99.6l-1.1-.2M259.5,98.2l-.7-.1M256.6,95.5l-.8-.3-.4-2.1M252.5,89.3l-.3-2.3M251.7,86.1l-.8,.1-.6-2M249.3,83.2l-.4,0M247.1,80.6l-.2-1.2M245.7,77.4l-1.9-.3M241,77l-.4-.1M240.2,76.3l-1.8-.6-.2-.6-1,.2M228.3,75.3l-.9-.2M227.1,75.9l-.8,.2M223.8,77.4l0-3.9M225.9,72.3l-.4,1.6-.5-.1M222.1,75l-1,4.5M217,84.1l-1.9,.6M210.2,87.7l-.5-.1M208.3,88.7l-1.1-.1M208,87.5l.7,.1M209.3,86.9l.3,.1M212.9,83.9l1-3.3M216.1,79.2l-.7,0M210.4,77.2l-.1-1.6M206.6,68.5l.3-1.8M208.4,66.6l.9-.1M211.4,65.2l.5-1.8M204.4,61.8l0-1.9-.4,0M367.7,75.8l.3-1.3M369.1,73.4l1.9-6.9M372.7,64.6l.4-2.1M373.6,61.8l.4-1.2 .6-.1M375.9,60.3l.5,0M381.1,54.9l.1-1.4M381.7,52.6l.5-.1 .6-1.9M385.3,50.1l.4,0M386.7,50.1l.9,0M391.5,45.8l.8-.1M396,42.3l.5-3.4 .1-2.7-1-3.1M397.4,30.8l.2-2.2 .7-.2 2.1-6.5 .6-3.3-.1-2.7-.6,0 8.6,0-79.7,0 5.5,0 .1,.5M335.1,15.9l8.9,0 .8,2.6 .4,0 .2-1 .7,.2M346.8,16.9l.4,.1 .5,2.3M348.5,20.2l1.1,6.4M349.9,26.3l.7,2.1M351.1,28.6l1.2,3.8 .5,5.1M357.7,45l.3,4.1M355.1,50.2l-.6,3.1M355.4,55l.4,2.7M357.1,60.1l.3,3.3M358.4,65.5l.2,1.8M360.1,69.2l.2,1.7M363,73l.4-.1M365.4,74.8l.6,.1M367.2,75.8l.5,0M341.5,57.8l-.7,3.2M339.3,62.3l-.5,2.6M337.9,68.7l-.8-.2M334.8,68.1l-1-.3M332,67.5l-.2-1.7-.8-.2M326.6,61.5l-.6,0M322.9,62.8l-.7,0M324.8,58.5l1,.2M326.5,59.6l1.3-.3-.8-3.7M328.8,53.3l-.6-3.1M327,50.3l-.4,1.3M326,52.1l-.4-1.4M323.9,49.1l-.6-2.9M321.8,45.7l-.4-1.9M321.1,44.5l-.4,0M316.3,42.1l-.7-.2M314.5,42.9l-1.2,0M310.5,40.8l-.4,0M308.5,41.8l-.4-2.1M306.7,38.7l-.6-6 .8-3 .8-.3M308.1,28.5l.4,0M308.9,29l1.2,.1M312.9,29l.2,.9M317.5,29.3l.6,2.6M321.4,32.7l.5,2.4M322.5,33.2l.7,.1M326.1,34.2l.2,1.5M327.2,36.2l.9,2.6 .7,.2M330.6,39.1l.4,1.8 .4-.1M336,47.5l-.1,1.6M336.6,49.8l.5,1.7M337.4,51.2l2.1,.5M340.5,52.1l.3,1.6M325.3,15.9l-23.3,0 23.3,0M319.3,23.8l-.4,0-.5-1.7-.8,0-.3-1.1M306.3,21.4l-.8,2.8M303.1,21.3l-.4-4.3M306,15.9l10.6,0 1.2,3.6M319.3,19.2l0,4.6M291,45.2l-.3,1.7M290.1,47.6l-.7,0M287.3,46.9l-.8-.2M286.4,47.3l-1.2-.3M281.1,49l-.4-.1M275.3,45.3l-.2,.8M273.6,44.5l-.4,.1M270.2,42.8l-.7-.1-1.2-5.3M271.2,32.9l.9,0M274.2,33.6l.3-1.4 .6,.1M275.6,33.3l.8,0M277.3,32.8l.4-1.6M279,31.6l.7,.1M281.4,32.2l.7-2.2M284.1,32.2l.6,2.3M286.3,37.2l.8,2.9M288.1,39.9l.6,1.6 2-.3M291.4,42.7l.3,1.9M259.1,35.7l.5,1.6M260.9,37.7l.3,.8M264.8,36.6l.5-2.2M265.6,33.9l.6,.1 .5-2.2M269.4,29.8l.1-1.7M267.3,27.4l-.5-2.2M262.1,21.3l-.6,2-.6,.2M260.2,24.8l-.2,3.3-1.3,4.6 .4,3M282.3,21.1l-.1,.9M280.6,21.2l-.4,.1M279.3,20.3l-.2,.7M278.4,21.7l-.3,1.6M277.3,22.8l-.6,2.3M274.7,25.5l-.6-2.7M273.3,22.2l-.2,.8-.3-.1M271.7,20.3l-.6,.1-.4,1.4-.5,0-1-4.8M270.3,15.9l3.8,0M276.1,16.1l3.2-.2M280.8,17.9l.6-2 2.3,0 1.1,4.7M296,35.3l-.4,2.1M290.3,34l-.4,0-.4-1-.2-1.2M291.8,29.4l1.3-.3M294.7,27.7l1.1-.1M296.5,29.2l-.5,6.1M303.7,34.7l-.9-.1M299.7,33.9l-.5-6.6M299.8,25.8l.9-.1M303.1,25.7l.5-.1M305.1,27.5l.5,2-.3,3.6M296.7,19.2l-.6,2.5-.8,0M293.5,21.2l-.8,0M292.4,20.8l-1.2-3.8-.8,.2M290.1,18.1l.2-2.2 7.1,0-.7,3.3M310.6,15.9l-12.6,0 12.6,0M314.9,64.5l-.9,.1M313.3,64.9l-.9,0M310.8,61.7l.2-2.4M313.9,58.7l.7-.2M317.3,60.9l.5,1.7M347.6,104.3l2.9-.8M351,104.4l2.5,.4M354.5,105.4l.3-1.2M354.4,101.5l-.1-1M352.2,99.6l-.7-2 0-2.4-.1,1M260.8,101.4l-1,.1M255.7,96.6l1.5,.4M315.4,143.9l1.3,0M318.6,144l1.5,0M326.4,148l.6,0-1.9,.5-1.9-.4M320.3,145.8l-.7,.2M318.1,145.1l-1.1,.3M316.4,144.8l-1.7,0M314.1,145.4l-1.3,.3M328.1,148.7l1.6-.4 4.7,1.5M333.8,150.7l-1.6,0M329.9,151l-1.6,0M327.9,150.7l-1.1,.2-.1-.4M321.5,150.6l1.9,0M324.3,151.2l-2.2,.4M336.3,150.5l1.1-.2 1,.3-.1,.6-1,.3-1-.3 0-.7M395.6,64.3l2,.3M401.4,64.9l1-.3M403.4,63.4l.5,.2M404.6,63.3l1.4-.2M406.9,60.7l.4-.1M406.5,60.1l-.6-3.4M400.6,57.5l-1.7-.1M396.1,58.3l-.5-1.9M394.4,60.9l1.5,.5M395.6,62.8l0,1.5M417.9,98.4l2.3,.3M420.9,98l.9-.2M422.4,96.8l.9-.3M425.6,95.8l.9-.1M427.2,96.3l.4-2.1 .2-1.3M425.9,92.2l-.5-2.3M423.9,88.6l-.5-2.1M422.2,84.2l0-.9M421.6,81.1l-1.5,.4 .5-2.2M417.9,81l.2,3.4M417.3,86.5l1.3,.2M419.6,88.8l.6,0M421.3,87.9l-.6,2.5M418.6,95l2,0M417.5,94l.1-4.2M415.8,86.5l-.5,.1M412.2,89.5l.8,3.6M414.1,94.6l1.8,.6M417,94l.5,0M417.1,122.9l-.8,0M415.5,122.2l-1.8,.4 .1-2.9M412.9,119.2l-.2-1.1 .1-1.1M413.9,115.4l-.2-2.4M414.9,110.9l2,.5 2-.2M422.8,111.4l.2-1.2M423.6,109.4l.3-2.8M419.5,102.9l-.1-1.4M422,100.6l1.1,.2M423.5,101.5l-.5-2.3M423.9,99.8l1.9-.2M427.5,98.2l.4-1.7M430.1,95.7l.4-1.2M431.9,92.2l1.5-.2M434,91.2l2.8-.3-.1-3.4 .4-1M436.3,84.2l.1-1M439.4,81.2l-.3,1.4 .9,2.8M440.7,89.2l.7-.1 1.4,.4M443.6,90.3l3.1-1M447.6,89.8l1.9,0M452.5,87.5l1.1-.3-.2-3.8M456.3,80.9l.5,.1M457.8,82.5l-.2-3.6M456.7,77.4l.7-.2 .6-1.7M460.4,76.5l2.7,.1M464.5,76.3l.8-.1M464.9,74.5l-1.1,.2M463.3,73.5l-.5,.2M459,75.8l-1,.3M455.9,75.6l-.7-2.2M454.7,72.6l-.7,0M453.8,72.2l.4-4.3M455,67.5l.6-2.8M458.7,61.8l.4-1.5M455.7,58.3l-.4,0M448.7,68.4l-.5,2 .1,2.2M449.1,73.9l.7,0M450.5,75.3l-1.1,3.3-1-.2M447.8,79.2l-.5,5M445.7,86.6l-1.6,.2M443.5,86.1l-1,.2-1.1-5.9M437.2,79.9l-.8-.1M435.5,79.3l-.7-.2M433.2,79.7l-.6-2.6 .1-1M432.5,74l-.4-2.8 .4-2.8M433.3,68.2l1.2-.3M436.7,66.7l.5,0M439.3,63.7l.5-1.8M441,60.5l.6-2M443.6,55.2l.5-2.6M445.5,51l.6-1.9 .3,.1M448.4,45.9l.4,0M450.1,44.2l.3,0 .5-1.4 .9,0 .5-1.9 .9,.2M463.4,40.6l.4,2M466.7,43.5l.7-.2M468.2,43.4l.4,1.8M469.9,46.3l.4,1.3 .5,0M473.7,47.3l1.3,4 .8,0M476.4,51.9l1.2-.2M478.9,51.7l1,3.3M477.7,56l-.6,2.1M474.1,55.6l-.5,0M472.5,58.3l-.8,0 0,4.2M472.8,63.1l.8-.1M475,63.7l.4,0 .6-1.6M477.3,62.8l.2-.7 .8-.3M480.3,58.7l.8-.3M482.6,57.4l.6-6.5M488.2,52.3l1-.3M494.7,51.3l.4-1.7M497.2,49.4l.7-.1M503.8,48.4l.6-2.2M505.8,44.6l.7,.2M508.4,47.3l1.8-.2M512.4,47.5l1.4-.2 .8-6.5-.4-1.7 .5-1.7 .3,0M516.8,33.4l.5,.1 .9-3M521.1,31.8l.3,3.7M521.9,36.9l-.8,4.6M522.1,43l1,6.8-.6,2.3M521.8,52.6l0,.8M522.7,54.3l1.1,.1 1-4.5-.4-2.6-.4,0M523.6,46.5l-.4-2.3 .3-2.7 1.5-5.8M528.4,34.7l.3,1.3M531.5,34.8l.3-1.5M532.4,33.1l.1-3.8M534.5,27.9l1.2-.2M537.3,29.6l.4,0 .5-1.8M540.8,27.2l-.3-2.3M540,23.8l.5-2.7M541.6,20.2l.2,.8M542.9,20.7l.4,1.5M543.8,21.7l1.8-5.8 2.4,0 .3,1.3M550,16.2l24-.3M574.4,16.8l.9-.3M576.2,16.5l-1,7M572.7,26l-.8,0M571.7,27.7l.5,0M573.1,28.6l.2,2M579.1,27.2l.2,.7M588.8,30.9l.2-.8M590,30.5l.4,1.5M593.1,28.5l.6,2.5M595.4,31.6l.7,.2 .8,4.3M597.4,36.6l.8,2.9M598.8,40.2l.6,.1 .6-2.1M602.2,36.9l.8-.2M604.9,38.9l.8,.2M610.5,37.6l.8-4M612.1,34l.6,0 .7-2.2M620.1,34.1l1.6,0M622.5,34.7l.5,.2 .2,.6M624.7,37l.7,.2M627.3,40.3l.2-.8M629.3,39.3l.6-.2M632.8,39.5l.5-.2M635.7,39.8l.3-.9M636.3,39.4l.8,.2M638.7,42.8l.6,2.2 1.4,.4M644.2,43l.6,.1 .2-.7M649.6,47.8l1,.2M651.8,47.1l.8-3.2 .3,1.4 .3,0M654.9,44.8l.6,0M660.2,43.9l.8,0M662.6,45.8l1.1-.3M664.5,47.3l.2,1.6-.5,4.6 .3,5.8M661.6,62.4l-1.4-.4M659.9,61.5l-.3,1.3 .3,1.2 1,.2M662.4,66.1l.2,1.9M657,70.7l-.7,0M653.9,72.6l-.8,.2M651,74.3l-1.1,.1M647.8,73.5l-.7,2.2-1.6,.4M641.6,76.1l-1,4.4 1.2,.2M642.2,81.5l-.9,4.4M640.2,87l.4,1.8M640.1,89.4l-1.8-.1M637.7,90.5l0,1.7M634.7,96.1l-.6,0M633.6,96.5l.2-1.8M633.3,94.1l-.4-4.8M632.2,87.7l-.2-4.3M632.6,82.3l1-.3M634.3,80.8l1-.3M639.2,74l.7,.2M640.1,73.8l.7-.1M641.4,72.7l.4,.1M643.1,71.7l-.2-1.7M642.3,69.3l-.6-.1M640.8,69.4l-1-.3M638.7,70.3l-.2,1.5M629.3,76.7l-.8,.1M619.5,77.5l-1.1-.1M615.7,77.5l-1.1-.3M612,80l-.3,1M607.2,84.6l-.3,.9M605.2,87.5l-.2,.9M606.2,89.8l2.2,0M609.8,89.8l1.7,.1M612.9,92.9l.2,1.1M612.2,96.1l.3,1.3M612.1,98.6l.1,1.8M610.1,102.8l0,1.4M609.4,105l-.5,1.7M605.4,110.5l-1.8,.3M594.8,117.8l-.1,1 .7,.2M597,121.9l0,1.2M596.9,125.7l-.7-.2M593.5,126.8l-.3-1.1M593.7,125.2l-.1-2.2M592.9,121.4l-1.2,0M591.7,119.4l-.1-.8M590.4,117.6l-1.7,.6M587.6,119.2l-1.3,.2M582.4,119.4l-.9,0 .3,.8 1,.3M583.7,122.4l.7,0M585.9,121.2l2.3,.7 0,.8-1.9,.5M584,125.3l-.2,.7M585.6,127.5l.2,1.8M587.4,131.1l0,1.2M586.6,132.6l.2,1M587.6,134l-.5,2.4-.8,.2M583.1,141.9l-1.1,.4M580.5,144.2l-.6-.1M578.7,144.8l-.8-.1M574.9,146l-2.3,.4M572.1,148l-.7,0M571,146.7l-1.1-.3M569.6,146l-2-.2M567.7,151.9l0,.6M570.1,154.9l.6,3.2M563.5,161.2l-.6,.1M561.2,158.7l-1.9-.1 .2-1.1-1.1,0 0,2.1M557.2,163.2l.9,0M562.8,169l0,2.2M563.8,172.9l.1,.9-1.7-.2M559.2,170.3l-.1-1.2M558.5,168.5l.2-1M556,165.1l-.3-1.6M556.8,161.2l-.1-.9M556.2,159.4l.1-1.4M555.8,157.3l0-.9M552.2,154.4l-1.6-.4 .4-1.8-.2-1.9M546.9,144.4l-1.2,0-.3,1.4M544.7,145.5l-3.8,.8 .1,1.1M534.6,152.6l0,.5M534,153.6l-1.9,.5-.2,1.1 .2,2.9M531.3,160.5l.3,1.1M530.3,162.2l0,.6M530.7,163.2l-.7,0M527.2,163.6l-.6-2.6M525.1,159.2l0-1.7M523,154.6l.3-1.3-1.4-4.6 .3-.9-.3-1.4M521.1,147.2l-2-.1M517.6,146l-.2-.6M516.1,143.1l-1.1-.3M513.1,141.1l-1.3-.4M510.3,141.2l-3.8-.4M505.9,141.1l-4.2-.9M501.1,139.3l0-1-.6-.2M498.1,139l-2.4-.8M494.6,136.8l-.7,.1M492.5,133.8l-2.1-.5M490,133.9l-.8-.2 0,.8M491,137.5l.2,1 .8,.2 .6,2.5M493.5,140.6l-.2-1M494,140l0,2.4M495.2,142.4l1.3,.4M500.4,139.9l.4,2.4M503.2,147.8l-1,.3-.1,1.8-1.4,.5M500.3,151.3l-1.4,.5 0,.5-3.8,1.1-.3,1.1M491.9,155.8l-.5,0M490.2,156.7l-1.1,0M488.4,157.3l-2.4,.4M484.7,158.5l-1.4,.1M482.9,157.8l.1-.8M482.3,154.9l-.2-2M477.7,147.4l-.5-3.6M472.1,136.6l-.7,0 .5-1.9M468.8,133.9l-.4-2 1.3,.1M471.4,131.4l.4-2M473.3,126.5l-.1-1.3M463.6,123l-1.5,0M460.3,118.3l-.1-.8M464.3,115.4l1.2,.1M468.4,114.5l.8,.1M471.1,113.6l1.1,.3M475.4,115.8l1,.1M477.1,115.4l2,.3M481.1,113.9l-.2-1M477.5,109.7l-1.4-.3M475.6,105.4l1,.1M477.4,104.6l0-.6-2.2,.6M471.9,106l.1,1.2 2,.3M473.7,108.3l-2.4,.5M469.4,107.8l-.7,.1M469.4,107l.7-.3M467.6,106l0-.8-1.3,.2M463.7,108.6l-.2,2.3M462.7,111.6l-.4,1.3 .5,1.8M460,116.1l-.8-.2M457.8,116.4l-.8-.2M457.2,117.5l-.8,0M457.4,120.5l0,.9-.7,.1M456.6,121.9l-.8,.2M456.3,123.5l-.9,0M454.3,122.9l-.8-2.5M452.7,119.8l-.7-2.3M451.3,117l0-2.9M447.4,111.2l-.7,0M445.3,109l0-.7-.8-.2M443.7,108.3l.3-1-1.1-.2M441.8,107.7l0,1.5M444.6,113.6l2,.4M449.5,117.2l-1.6-.4M448.3,118.5l-.2,.9-.6,.1M446.9,120.9l-.6,.1 .6-1.8M443.6,115.4l-1-.2M439.4,112.3l-.4-1.8M433.6,111.3l-1.3,0-1.7,0M430.2,111.9l-.6,.1-.1,2.1M428.3,115.4l-1.7,.3M425.2,117.8l-.1,.9M424.8,120.4l-.2,1.2M422.7,123l-2.3,.6M188.5,48.2l.5-.1M189.6,48l1,0M193.6,51.9l1.9-.3M198.5,55l.7,.2M197.7,60.3l-.8-.1M196.5,59.6l-.7,2.9M195.2,63l-1.8-.4M191.1,61.1l0-.8-1.3-.5M186.5,59.3l-.1-3.2M186.9,55.1l.3-2.5 0-2.5-.7-2.8M412.8,130.1l-.4,4.3M406.4,139.3l-.8,2.4M404.4,143.1l0,.8M403.1,145.3l-.3,2M404.1,151.1l-.9,3.7M403.1,156.4l.2,2.5M408,163.6l.4,1.7M417.8,168.9l2.5-.4M422.3,169.2l1.3,0M426.7,167.7l4.5-.6M433.3,169l0,.8 3.5-.3M438.5,171.4l.2,2M437.7,175.6l.1,.6M437.2,177l0,.8M441.9,182.8l.7,3.7M442.6,187.7l.2,.9M441.9,193.9l-.1,2.6M441.7,199.8l-.2,.9M444.1,204l.3,2.3M444.5,207.5l0,1.3M445.1,209.8l0,1.8M446.1,213.2l.1,.8M447.8,215.8l0,.7M449.7,219.9l.2,3.8M451,224.6l1.2,.2M453,224.2l2.5-.6 2.1,.3M469,214.2l-.2-2.8M472.5,208.5l.4-2.4M474.1,200.4l.1-.7M476,199l.8,.2M479.2,194.5l.3-1.5-.5-2.4M477.5,189.2l.4-4.6M477,184.1l0-.8M478.8,180.7l.2-1.7M481.2,177.4l.5-1.7M484.5,173.1l1.5-.3M490.8,167.6l.5-2.2M493.3,162.4l0-2.8-9.2,2M478.6,156l.1-.6M476.9,152.8l-.4-1.5M475.2,149.9l0-1.9M474.8,147.5l-.3-2M472.6,144l.2-1.2M471.6,141.5l-.4-1.4M469.4,137.4l-1-3.4 0-2.3-2.2-.5M460.7,131.2l-1.7,0M458.4,130.8l-2.1-.5M456,129.7l-2-.3M451.9,130.9l.3,1.3M448.7,132l-1.6,.3M445.8,131l0-.9M444.9,129.5l-2.7-.6M439.8,127.8l-.6,0M440.1,122.4l-2-.3M437.5,122.7l-2.7,.2M431.9,122.7l-1.6,.4M425.4,124.4l-1.5,.3M423.4,125.4l-.8,.1-2.6-.4M418.6,124.5l-.9,0M492,193.9l0,1.4M491.4,198.5l-1,4.2M489.1,206l-1.1,3.7M483.9,209.8l-.4-2M482.7,206.2l.4-1.7 .7-.2M484.5,202.8l.1-1M483.9,200.2l.6-2.9 2.5-.6M490.8,192.4l0-.8M531.6,162.4l.7,.1M533.2,163.8l-.2,.8M534.1,165.5l-.3,1.4M533.1,167.5l-1,0 0-.6M531.8,163.5l-.2-1.1M576.2,205.5l.9,6.2M576.6,212l.6,2.3M578.1,215.7l.3,3M578.9,219.1l.4,1.3-.2,2M578.2,222.9l0,1M579.5,225l.7-.2 2,.5M586.6,223.2l3.1,.2M590.5,222l1.9-.6M592.9,220.7l1.4,.2M594.8,220.3l1.3-.4 1.5-.1M599,219.6l.8,0M600.5,220.2l1.5,.1M605.9,225l.2-1.2M608.5,221.3l.2,.8M608,223.7l.1,1M610.9,227l.6,2.6M617.4,230.3l.6,0M618.9,231.7l.9,.1 .9-.3M622.4,229.8l1.5,0M624.4,229.1l.4-2.8M626,224.8l.5-2.3M628.7,219.5l0-2.8M629.5,215.1l-.2-1.4M628.8,213.2l-.3-3M626,207.6l-.2-.8M624.7,205.9l-.7,.1M623.6,205.3l-.1-1.5M619.5,200.2l.2-.6M618.3,197.2l.1-1.7M616.6,195l-.4-2.2M614.7,190.6l0-.8M613.8,191.3l0,1.7-.5,1.7 .1,2.2M605.3,195.2l.3-1.3M607,192.8l-.3-.8 .7,.1M605.3,191.8l-4.8-1.2M601.1,191.1l.2,.7-.8-.2M598.5,194.6l-1.2,.2 .3,.8-1.6-.1M594.3,194l-.9-.1M587.9,198.7l-.1,1.4M585.8,202.5l-1.9,.1M583.4,203.1l-2.9,.5M577.1,205.2l-.9,.3M617.6,234.8l1.7,.3M622.4,235.1l-.3,1.1 .3,2.2M618.6,238.3l.1-.8M617.6,235.6l0-.8M659.9,228.7l.4,1.3 2.2-.4-.8,2.6M658.8,236.4l-.7,.1-.1-.5-.7-.2 .2-.9M656.3,232.7l.1-.7M657.3,231.5l.2-2.4M655.2,225.5l-.4-1.3M654,235.2l.6-.1M613.9,118.8l-.8-3.1 .1-.7M612.5,115.6l-.8-.2M611.3,116.4l.3,1-.4,2.3M607,122.1l0,.9M606.1,124.7l-5.4,.5M599.4,126.3l-.1,1.1 1.9,.1M601.6,127l2.5,0M605.7,127.1l.1,1.1M607.7,126.5l.7,.2 1.5-.4M611.1,125.8l.7-.1M612.5,124.5l-.3-.8 .5-2.8M600.6,128.9l-.1,1.4M598.4,131.5l.2-1.4M604.4,127.8l-.2-.7-2.1,.3M601.6,127.9l0,1.1M613.2,115l-1.8,0 .2-1.1M611.8,111.6l1.4-.2 .7-4.1M618.4,109.6l.3,2M617.8,112.3l-1,0M615.6,113.9l-.6,0M615.4,106.5l.6-.1 0-1.4M615.1,98.9l.2-2.8 .9-2.8M615.6,92.2l0-1.7M614.3,89.5l.3,1.6M613.6,91.5l0,6.4M614.2,99l-.5,4.3 .3,3.3M587.2,141.1l.2,1.4M584.9,143.8l.1-.6M570.6,148.4l.8,0M572.4,149.9l-1,.2M569.8,150.5l-.1-1.3M585.6,150.5l2.2,0M588.1,151.5l-.3,2.1M587.1,154.1l-.4,1.7M587.1,156.3l2.2,.1M590,157l.3,1.8-.7-.2M588.7,157.3l-1.2-.3-1.2,.3M584.8,155.4l-.1-2M585.2,154l.4-3.5M593.3,164.3l-.2,2.8M589.2,165.6l-.6-.1M593.1,163.1l.2,1.2M588,161l3.5-.6M587.7,160.4l-.2,.8M582.2,172.4l-.2,.7M583.5,174.3l-1.6,.1-.4,2.2M580.3,177.5l-.1,1.3M579.5,179.7l.2,1.1M578.2,180l-1.6,0M573.8,179.5l-2-.1M571.4,178.5l.3-.9M570.5,176.8l-.3-1.2 .4-2.4M572.1,173.2l1-.2 .3-1.1 .6,.2M577.7,169l1-.1M580.5,166.3l.5-.1M582.7,168.9l-.1,.7M553.4,168.8l1.6-.2M559.1,172.7l2.1,.3M564.8,178.6l.9,.1M566.4,179.6l-.4,3.7-1.5,0M558.6,177.6l-.5-2M557.3,175.2l-.4-1.6M566,183.3l2.1,.1M572.7,184.2l1.5,0M575,184.7l.3,.9M575.8,185.9l1.7,0 .2,1.1-1.5-.4-1.9,.2-2.8-.6M570.8,185.8l-2.8,.2M566.6,184.7l-1.2,0 0-.8M587.3,174.3l3,0M591.6,173.4l-.1,1M589.1,175l-1.7,.4M586.3,175l-1.2,.2-.3,1M586.8,176.8l2.4-.5 0,.7-1,.1M588,179.2l-.1,1M589.1,181.7l-.3,1-.9-.2M587.5,181.5l-.7,.1M586.2,181.1l0-2.1M585.9,181.1l-.5,1.7M584.4,181.5l-.2-1.3-.6,0-.3-1.6M584.4,177l.4-2.3M601.3,176l1.1,0M603.4,176.6l0,1M606.5,178.6l.9-.1M611.9,179.1l.8-.1M614.3,179.9l3.2,.8M619.3,182.8l1.3,0M621.9,184.3l-1.3,.1 .3,1M622.1,186.2l.2,.8M622.9,187.6l.8,0 0,.6 1,.2M624.3,188.7l.8,0M623.8,189.1l-1.9-.1M615.8,186.4l.1,1.1M614.8,187.9l-2.1-.3M611.6,186.7l-1.4-.4M609.9,186.7l-1.7,0M606.8,181.6l-1.3,0-1.7-.5M602.6,180.8l-.5,.1-.3-1M601.4,178.8l1.8,0M603,178.4l-2,0M600.5,177.6l-1.1-.2M591.4,187.4l3.1-.7M592.7,188.1l-1.1-.1M590.1,187.9l.8,0M584.7,186.7l1.9-.5 2.2,.4M588.6,187l-2,.4-1.2-.2M580.7,186.8l2.7-.2M583.6,187.1l-1.5,.5-1.5-.1 .1-.7M596.3,175.1l-1,.3 .3,1.3M594.7,175.9l.6-3.3M595.6,179.2l2.5,0M598,180l-2,0M622.4,182.9l1.3,0M624.9,183.9l-1.7-.3M646.7,205.6l-.8,.1M660.9,199l.9-.2M662.2,200.1l-1.2-.2-.1-.9M639.3,187.5l-1.2-.3M637.5,186.8l-.1-.6M496.9,39.6l.7-.2M499.5,34.4l.4-4.4M500.8,28.7l.5-1.6 .5-1.9 .1-3.5M504.5,18.4l.2,.6M505.6,18.5l.8-2.6 1.4,0M510.1,15.9l6.4,0-11.8,0M504.5,16.4l-.8-.3M502.5,16.8l-.6,0M500.9,18.2l-.8,3.7M498.2,23.3l-.7,4.2M496.1,30.4l-.7,3.9-.5,0M440.1,15.9l21.3,0-21.3,0M450.1,15.9l11.9,0-11.9,0M487.9,15.9l23.2,0-23.2,0M549,15.9l13.3,0-13.3,0M607.2,23.3l.3-1.8M608.4,20.8l.6,2.4M614.9,24.6l.4,0 .3,1.1 .4,.1M616.7,24.8l-1.2-.4-1.1-4.5M612.4,15.9l-4,0M607.7,16.2l-1.6,7.6M618.7,20.2l.6,2.6M621,23l.2,.7 .6-1.9M622.6,21.2l.3-1.8M624,18.9l.3,1.8M625.4,20.2l.6,0M624.6,19.1l-.5-2-.8-.1M622.6,15.9l-2.4,0M664.5,38.3l0,.8-.7,.2M662.6,39.1l-.1-1.7M187.2,39.3l-.7-.2 0-.8M200.4,67l-.7-.2M223.4,81.5l-.5,0M220.2,83.2l-.1-1.2M205.1,90.6l-2,.1M203.7,91.5l.7-.2M436.7,119.2l1.5-.2M438.6,117.9l-.1-1.3M437.8,115.4l-.8-.1M436.4,115.9l.5,2.4-.2,.9M438,115l-.2-1.3 .3-1.2M437.2,112.7l-.3,1.4M446.2,120.4l-.7,2.6M443.5,121.3l-1.5-.1M456.7,125.3l2.5-.5M459.9,125.8l-1.9,0M469,125.2l1.7,0M470.6,125.8l-.7,0M469.3,126.5l-.8-.2-.1-.5M344.2,256.2l.8,0M346.4,255.1l.8,0M347.9,255.9l.9-.1M347.2,257.9l-.7,.2M218.5,148.5l.6-.1M218.9,149.9l-.4-1.4M375,261l.8,.1M377.7,261.5l.3,1.3M377.4,262.5l-1.2,0M517.7,251.3l-.8,.1 0-1.5M548.6,157.3l.4,1.5M548.5,159.4l.1,.7-.3-2.1M615.5,27.6l.5,2.4M614.4,28.2l-.3,1.2M613.6,29.7l-.2-.7M415.9,70.1l.3-1.1M353.6,46l.6-.1M355.5,43l-1.7,.2M353.1,42.3l0,3.1M490.3,46.9l-.4,0M504.5,44.6l-.2-1M558.3,15.9l5.3,0-5.3,0M315.6,68.8l-.8-.1M316.9,67l.4,1.4M324.7,52.6l-.5-2.4-.9,.2M321.5,26.7l.6,2.8M323,30.5l.7,.2M322.8,30.3l-1.3-.3-.2-1.3M300.1,21.6l-.5-.1M298.9,19.5l-.7,0-.2-.9 .8,0 .6-2.1M300.6,19.3l.6-1.8 .8,.1-.6,2.6M297.1,48.4l-.8-.2-.2-.9-.3,.8-.3,.2M294.2,46.9l-.2-1.9M295.3,43.1l.7,0M298.4,46.5l-.4,.1-.6,2.5M278.1,15.9l-2.6,0 2.6,0M272.8,15.9l-2.1,0-1.1,4.7-.9-.3M266.7,18.4l-.5-1.9M265.3,15.9l-2.5,0 10,0M296.7,15.9l-9.3,0 9.3,0M249.2,85.4l.6-.1 .6,1.9M250,88l-.6,.2M248.1,86.8l.5-2.2M246.2,79.7l.6,1.8-.3,3.1M245.5,83.5l-.5-1.9M244.3,81l.2-1M247,80.5l.6,0 0,2.2M246.5,81.4l0-1.7M247.6,82.9l1.6,.3 .2,1.2M249.1,84.7l-1.3-.3-.2-1.5M250.6,90l.6,2M249.1,91.7l-.3-2.2M207,88.8l1.7-.4M202.7,90.2l2.1-.2-.4,1.3M201.9,90.9l.8,.2M193.1,93.5l2,.2M190.2,94.6l1.3,0M205.8,74l-.3,1.6M204,75.8l-.2-1.6M222.8,79.5l.7,0-.4,0M230,75.9l-.3-.1-.4-1.3M186.5,335.1l53.1,0-23.9,0 10.7,0M228.4,335.1l5.3,0M235,334.9l1,.2 .2-.9 .8,0M237.7,333.5l.2-1.3M247.6,328.5l.2-1.1M250.2,326.7l.7,.2M251.8,324.4l.8,0M253.6,325.1l.6-2M262.4,326.4l.7-.1M264.8,324.9l1.4-.1 .5-2.1M268.9,321.5l1,4.1M271.1,326.2l.4,0 .3,2.8M272.2,329.3l.7,2.1M279.5,325.4l.7-.1M281,325.1l.7,3.6 .4,0M287.9,327.5l.4-.1 .6,.2M289.7,329.7l1.9-6.6M291.9,322.7l.5,.1 .3-1.7M295.4,320.1l.5,.1 .6,2M300.7,323.1l1.1,.1 .3,1.1 .7,.1M304.3,320.8l1.4-.1M310.2,321.1l.6,2.4 .8-.1M316,323.6l.4-1.6M318.4,321.4l.4,1.3M320.9,323l.6-.1M323.6,321.6l.4,1.7M325.3,321.3l.3-1.4 .7-.1M327.4,320l.4-2.2 .4,0M329.5,317l1.1-3.4M334.5,309.5l1.3-6.5M336.5,301.2l.4-3M339.4,294.9l.5-2.2 1.2,.1 .6-2.7M342.7,288.8l.5-.1 .8-2.3M344.9,285.8l.9,0M346.5,287.3l-.8,.3M342.6,292.2l-2.6,8.7 0,1.7M341.1,303.9l.1,2.5M342.1,307.8l.4,0 1.3,6.1-.1,1.7 .4,2.3 .6,0M345.8,319.2l-.6,3.6M344.1,324.6l-.5,4.1-.7,.1-.6,2.7-.3-.1M340.9,330.7l-.6-.1M339.4,330l-.5,.1-1.6,5-11.9,0 61.6,0 1.4-4.3M390.2,330.5l.4,0M391.9,331.9l.4-1.4M392.7,330.2l.2,.6M394.6,328.9l.9-.3M395.8,329.4l.7-3.6M402.4,324.9l.4,.1M403.6,326.4l.4,0M406.7,324.3l1.3-7M409.3,315.3l.2-1.4M417.1,311.4l1.1-.2M423.3,313l.5-1.8M426.2,310.3l1.1-.1M429.5,306.9l.5,1.6M432.1,310.5l.4,0M434.2,309.8l.5-1.8M437.7,308l.3,2.2M440.7,310.6l.7-2.7M442.1,307.5l.3-.8M445.4,308.2l.4,.1M447.7,306.6l1.4,.2M451.3,308l2.3,.6M454,308.3l.8-2.5M455.6,307.7l.8,.1M457.2,307.6l.5,1.9M458.6,309l.2-.9M460.1,310.7l.7-.3 .5-1.7M466,307.3l1.1,0M472.2,304.1l.8-.1M474,303.1l.6,2M482.9,300.2l.5-1.8M484.5,298.3l.5,.1M487,297.8l1.1,.2M488.5,297.2l.9,.3 .2,.7M491.6,295.7l.2-1.4M492.3,293.5l.6,.1M495.6,294.3l.4-1.2M499.1,295.9l.5-.1M505.1,299l1.4-.3M512.8,298.9l1.1,.3 .4,1.8 1.5-.2 .3,3.5M516.4,305l.4,0 1.3,4.5 .3,4.1 1.1,4.3M520.4,317.4l.7,0M521.5,317.5l.2,.9M522.4,318.8l.4-3.5 .4-1.4M523.8,313.6l1-5M526,306.4l.8,.2 .1-.8M531.4,301.2l.7-.2M534.2,299l.9,0M538.7,296l.6,0M540,295l.3-.1M548.7,295.3l.6-.1M551.4,295.5l1.2,.1M553,294.6l.5-.1M555.1,296.7l1.1-.1M557.2,295.5l.5,.2M568.3,294.8l.6-.2M571.8,292.8l.2,.6 .9-.1 .3,1.2M574,295.4l.8,.1M577.6,293.8l1.1-.1M580,296.2l1.9-.1M587,294.2l.6-.1M589.3,295.7l2-.6M595.9,295.6l.1-.6M598.8,293.6l1.2-.3M605,293.1l.3,0M609.5,295.5l.2,.6M610.2,295.6l.8,0M613.7,294.7l.6,.1M621.7,302.3l1.1,.2M623.4,301.9l.1-.9M630.3,302.4l.4-1.2M631,301.7l.6,0M633.5,305l.6,.2 .4,1.3M635,305.8l.3,0M635.6,306.4l.8-.2M638.3,307.3l.1,1.8M639.2,308.3l1.1-.2M646.9,310.4l.1-.8M648.4,310.7l.2,.8M651.3,312l.5,1.8-.5,4.9M650.2,319.9l-.7,3.9-.5,0M646.1,326.3l-.8,3.2-.7,.3M643.9,331.3l-.5,2.6M641.9,335.1l-.3,0 1.7,0-5.4,0 26.6,0-478,0M487.8,108.8l.2-.9M489.6,106.4l.7-.1M492.1,104.9l2-.5M495.9,105l.2,1.2M493.6,108.1l0,1.3M495.5,112.7l-.2,1.6M497.1,116.4l-.4,1.3M497.1,122.2l-.9,.1M493,122l-1.1-.1M490.7,120.2l.4-1.5-.1-1.6 1.3-.3M489.1,113.5l-1.3-4.7M503.2,106.6l2-.4M504.5,109.2l-1.2-.4-.1-2.2M303.2,105.2l2.8,.2M308,104.6l1.4-.1M311.3,105.8l1.9-.2 0-1M310.7,102.3l-2.7-.4M304.7,105.1l-1.5,.1M308.9,114.5l1.2-.2M311,112.1l-.2-2.7M312.2,106.6l-1.6,.1M309.5,108.5l-.7,3.6 .1,2.4M313.3,106.9l2-.3M317.3,106.7l1.1,.2M319.3,107.9l-.3,1.3M317,111.8l-1,.2 .1-1.7-1.2-.4-.3-2M314.9,114.3l2.4,.4M320.3,112.3l-3.7,.7M319.5,111.6l1.2-.2 1.8,.4M324.3,111.2l-.2-1.1-3.2,.6M297.6,96.9l-.9-3.7M294,91.3l.3,1.4M296,95.5l.4,2.3M261.6,60.7l1-.1M266,56.8l.8,.2M264.9,54.4l-1.2,.1M262.6,55.9l-.9-.1M270.2,72.6l1,.1M273.1,71.5l1,.3 2.5-.6M276.1,67l-.9,0M273.5,68.1l-.5-.1M270.8,70.4l-.6,2.2M563.3,95.2l1.7,.2M571.1,87.3l.2-1.5M470.8,175.5l-.8,3.3-2-.2-.3-2.6M464.3,180l.6,2.2M466.4,184.7l.3,2.1-.6,.2M464.7,183.5l-.6-2 .2-1.5M471.7,190.8l.1,2.4M471.6,194.3l-1-3.8 0-2.3M468.7,73.7l.4-1.9M468.4,71.3l-.6,.2M465.6,72.3l-.3,3" fill="none" stroke="#989aa4" stroke-width="1.02"/>
<path d="M339.9,223.4l-4.7-4.2M361.1,202.3l2.9,3.2M366,222.8l-2.6,2.4M333,226.8l-5.8-6.5M370,197l5.7,5.6M332.6,233.1l-5.2-4.7M380.2,195.6l15.4,14.9M327.9,234.9l-5.6-5.6M309.2,194.3l3.2-3.4M383.7,189.8l15.9,14.5M451.9,218.8l2.5,2.4M324.6,237.1l-6-6.1M301.7,191.6l3.6-3.3M387.3,184.8l15.6,14.6M456.7,214.9l3,3.2M453.5,247.4l-4.1,4M321.9,239.5l-6.6-6.8M291.9,189.5l3-2.7M391.9,180.8l15,14.8M460,210.8l3.4,3.5M457.9,248.3l-5.2,5.7M320.6,242.9l-7.3-7.4M278.9,186.8l1.2-1.3M397.5,177.5l9,10 4.4,4.2M457.5,254.5l-4.8,4.6M319.9,246.5l-7-6.7M294,217l-6.6-7.1M412,184.1l3.8,4.1M459.4,257.7l-5.9,5.6M319.6,250.3l-7.4-6.8-5.9-6.4M292.1,220.2l-8-7.9M247.1,185.5l-2.5-2.7M242.7,176.8l1.4-1.3M408.5,168.9l3.1,2.8M462.9,258.8l-5.5,5.8M311.8,247.4l-6.5-6.8M290.1,223.1l-8.7-8.1M219.5,174.8l-2.5-2.6M420.9,169.5l10.4,11.3M659.6,160.1l1.2-1.3M473,181.5l2.3,2.1M467.3,263.6l-5.3,6M312.9,252.4l-8-8-18.2-20-6.6-6M643,156l2.3-2M478.4,174.8l2.2,2M466.7,269.4l-6,6.1M313.3,256.7l-8.7-8.4-20.5-22M634.6,166.9l-2.2-2.1M483.9,170.6l3.9,3.6M467.3,273.5l-6.6,6.5M313.3,260.5l-10-9.3-20.6-21.9M469.3,276.2l-6.6,6.7M313.3,264.4l-10.8-9.9-21.7-22.8M498.4,167.5l1.9,2M471.3,278.9l-6.6,7M312.6,267.7l-11.2-10.4-22.1-22.9M608.5,168.9l-2.5-2.7M608.3,156.7l2.6-2.7M504.5,165.4l3.1,3.5M472,283.3l-6.7,6.8M312,271.1l-11.3-10.4-23-23.6M304.7,268.6l-8.7-8.4-15.2-16-7.3-6.9M599.2,169.5l-2-2M598.1,160.1l5.4-5.4M471.3,289.2l-6,5.9M310.6,278.1l-8.6-7.8-28.5-29M588.5,170.2l-1.9-2M587.7,162.2l6.1-5.5M519.8,162.8l2.2,2M471.3,294.5l-5.3,5.2M315.3,286.3l-15.3-13.7-27.2-27.9M575.9,170.8l-2.1-1.9M530.4,173.5l-10.6,10-4.9,5.3M475.3,295.6l-8.6,8.9M311.3,287.5l-13.3-12.4-25.8-26.8-6.7-5.9M521.1,187l-5.3,5.8M474,303l-8.9,8.5M309.3,290.6l-13.3-12.9-24-25.3-7.2-6.6M479.3,302.9l-7.6,8.6M317.3,302.9l-11.3-10.3-10.6-10.8-23.9-25.5-7.4-7M526.4,190.6l-4.6,4.4M320.3,311.5l-9.7-8.9-9.9-10-31.2-33.8-6.7-6.4M527.7,193.4l-4.4,4.3M313.4,311.5l-15.4-16-28.7-32.2-7.8-7.7M529.1,196.2l-4.3,4.3M270.3,269.3l-9.1-9.4-8.3-7.4M531,198.4l-4.1,4.2M268.9,273.1l-9.1-9.8-8.5-7.8M532.4,201.2l-3.9,4.3M267.4,277l-9.2-10.2-8.5-8M534.7,203.3l-4,4.3M256.6,270.5l-8.5-8.3M537,205.5l-4,4.3M253.7,273.1l-8.5-8.6M250.6,275.7l-8.5-8.9M459.4,78.7l20.1,17.8M247.2,278.4l-8.4-9.1-9.1-8.3M359,88.8l9.4-8.3 21.2-20.2M451.4,56.9l10,9.4M480.1,87.7l8.4,8.8 10.3,9.1M243.7,281.2l-8.3-9.4-9-8.5M349.1,90l8.1-8.3M454.5,39.5l4.9,5.4M494.6,94.4l7.2,7.3M231.8,274.4l-8.8-8.7M337.2,93.3l8.8-9.1M505,97.6l4.1,4.1M228,277l-7.3-7.7-10.2-9.4M329.2,92.3l3.6-3.5M509.4,94.4l4.4,4.8 4.6,4.2M222.8,278.4l-7.1-7.9-8.7-8.3M323,87.7l3.2-3.5M518.5,96.5l4.2,4.2M594.8,98.6l25.9-24.1M211.7,273.1l-7.2-7.4-8.5-8M556.3,227.2l-2.7,2.9M273.4,75.3l4.3,3.9M310.6,50.9l-3.7-3.6M524,94.4l4.3,4.2M589.3,97.6l11.4-11.1 24-26.7 18.9-20.3M201.7,269.3l-7-7.1-8.2-7.5M559.1,230.1l-2.4,2.6M531.3,93.3l3.7,3.5M582.8,96.4l8.2-7.6M198.5,273.1l-12-12.8M562.6,232.7l-2.6,2.6M536,87.7l3,3.4M579.5,91.2l3.8-3.5M664.5,267l-11.5-11.5M565.6,235.9l-2.7,2.8M573.1,85.3l3.5-3.6M579.5,49.9l-2.6-2.3M551.6,49.6l-3.3,3M544.9,82.9l2.8,3.1M655.4,264.5l-11.5-11.1M569.6,238.7l-2.7,2.6M651.4,268.1l-9.8-10.4M573,242.6l-2.8,2.8M642.7,266.8l-5.3-5.8-5.4-4.9M576.9,246.9l-3.2,3.4M630.8,263.3l-4.9-4.5M587.4,300.1l4.1,4.2M626.1,298.4l3.1-3.4M623.1,266.8l-5.1-4.6M589.1,257.7l-2.3,2.2M590.8,289.4l6,6" fill="none" stroke="#ff0000" stroke-width="0.77"/><path d="M357.8,199.8l3.3,2.5M412.8,234.4l1.4-1.2M432.8,231.8l1.1,.9M434.1,235.3l-1.3,1.7-1.3,1M323.2,199.8l2.1-2.6 2.6-2.2M375.7,202.6l6.2,7.9M390.8,230.1l-.7,.9M327.4,228.4l-4.2-4.8M316.1,197l2.5-3.1M373.7,190.3l6.5,5.3M395.6,210.5l4.7,3.5M445.4,223.4l2.2,1.8M446.6,238.9l-2.3,2.7-3.2,2.8M333.9,239.5l-6-4.6M322.3,229.3l-5.1-6.5M377.7,185l6,4.8M452.1,241.6l-3.4,4-3.9,3.5M331.2,242.4l-6.6-5.3M318.6,231l-5.7-7.4M381.7,180.4l5.6,4.4M449.4,251.4l-4.6,3.5M329.2,245.4l-7.3-5.9M315.3,232.7l-5.9-7.5M386.3,176.3l5.6,4.5M452.7,254l-4.6,3.8M328.9,249.3l-8.3-6.4M313.3,235.5l-5.8-7.1-13.5-17.6-11.7-13.8M391.6,172.6l5.9,4.9M410.9,191.7l4.6,3.6M462.7,206.5l2.2,1.8 1.8,2.1M462.3,248.3l-4.8,6.2M327.9,252.7l-8-6.2M312.9,239.8l-6.2-7.1-12.7-15.7M287.4,209.9l-22-19-2.2-2.7M262.2,182.8l1.2-1.3M398.2,169.5l6.1,5.3 7.7,9.3M415.8,188.2l4.2,3.4M465.3,202.1l2.4,1.9 1.8,2.2M464.7,250.9l-5.3,6.8M306.3,237.1l-14.2-16.9M284.1,212.3l-9.3-7.2M254.6,191.6l-7.5-6.1M411.6,171.7l10.7,13.1 3.9,3M467.3,196.7l2.7,2.1 2,2.3M457.4,264.6l-6.7,5.3M319.9,254.5l-8.1-7.1M305.3,240.6l-15.2-17.5M223.7,178.2l-4.2-3.4M216.3,168.2l1.7-1.3M416.8,166.2l4.1,3.3M469.3,189.7l2.7,2.2 2,2.3M466.7,259.2l-6,7-6.7,5.7M664.5,167l-3.8-2.8-1-1.4M462,269.6l-6,5.2M321.9,259.8l-9-7.4M646.5,166.9l-3.9-3.4M480.6,176.8l1.5,2M472,262.4l-5.3,7M460.7,275.5l-6.7,5.2M323.3,264.5l-10-7.8M284.1,226.3l-6.6-5.7M633.7,154l3.4-2.8M472.6,266.8l-5.3,6.7M460.7,280l-6.7,5.1M325.3,269.6l-12-9.1M282.7,229.3l-7.2-6.2M626.7,168.4l-2.7-2.2M622.6,157.4l3.2-4.1 5.2-4.2M492.8,170.2l1.6,2M474.7,269.3l-5.4,6.9M462.7,282.9l-6.7,5.3M280.8,231.7l-6.7-5.7M616.2,167.5l-2.1-2.7M614.6,158.1l3.8-4.8 6.1-4.9M476.6,271.9l-5.3,7M464.7,285.9l-7.3,5.9M279.3,234.4l-7-6M610.9,154l7.9-6.3M477.8,275.7l-5.8,7.6M465.3,290.1l-7.3,6M325.9,281.5l-13.9-10.4M277.7,237.1l-6.9-6M324.6,284.7l-10-7.4-9.9-8.7M273.5,237.3l-7.3-5.9M511.1,163.5l2.4,2M476.6,282.8l-5.3,6.4M465.3,295.1l-6.6,5.4M319.3,285.1l-8.7-7M273.5,241.3l-7.1-6M521.1,175.5l-11.2,14.7M476,289.2l-4.7,5.3M466,299.7l-5.3,4.4M325.3,294l-10-7.7M272.8,244.7l-6.8-5.8M574.3,164.2l4.3-3.4M529.8,162.2l2.5,2M533,170.2l-2.6,3.3M466.7,304.5l-9,7M327.9,300.7l-16.6-13.2M265.5,242.4l-7.3-5.7M527.7,181.5l-6.6,5.5M481.3,293.9l-7.3,9.1M321.9,301.4l-12.6-10.8M264.8,245.8l-7.3-5.8M526.4,186.7l-5.5,4.9-4.4,5.4M327.7,311.5l-10.4-8.6M264.1,249.3l-7.2-5.9M521.8,195l-3.7,4.8M483.9,303.2l-6.3,8.3M262.8,252.4l-7.2-6M261.5,255.6l-7.3-6.2M306.7,311.5l-36.4-42.2M300.2,311.5l-31.3-38.4M251.3,255.5l-12-9.1M277.8,290.1l-10.4-13.1M249.7,258.8l-11.9-9.5M274.9,293.3l-9.1-12.1-9.2-10.7M248.1,262.2l-10.5-8.8M262.8,284l-9.1-10.9M245.2,264.5l-10.6-9M538.7,208.3l-3.8,4.5M258.5,285.5l-7.9-9.8M242.1,266.8l-10.6-9.1-12.3-9.4M541,210.9l-4.1,4.9M450.1,71.6l9.3,7.1M479.5,96.5l9.8,8.1M255,288.5l-7.8-10.1M229.7,261l-12.2-9.6M543.3,213.5l-4.3,5.3M343.8,100.7l15.2-11.9M389.6,60.3l6-4.9M461.4,66.3l18.7,21.4M226.4,263.3l-10.7-8.8-14.6-11M545.7,216.2l-4.1,5M338.9,98.6l10.2-8.6M357.2,81.7l7.5-9.1M382.3,46.6l5.4-7.1M459.4,44.9l5.3,6.9M488.1,86.5l6.5,7.9M501.8,101.7l9.7,7.7M238.8,282.6l-7-8.2M223,265.7l-10.5-9.1-13.1-10.2M548.3,218.8l-4.6,5.8M327.9,100.4l9.3-7.1M497,87.7l8,9.9M509.1,101.7l5.4,4.4M592.8,109.4l27.2-21.2M234.7,285.5l-6.7-8.5M210.5,259.9l-11.6-9.6-12.4-9.3M553.2,219.6l-2.7,2.4-4.4,5.6M324.6,95.9l4.6-3.6M332.8,88.8l6.6-8.3M506,90l3.4,4.4M593.5,104.6l26.5-22.3M207,262.2l-10.1-8.8-10.4-8.2M555.6,222.6l-2.6,2.3-4.6,6.1M237,58.4l25.6,22.1M319,91.1l4-3.4M514.8,92.2l3.7,4.3M522.7,100.7l5,3.8M588.8,103.4l6-4.8M620.7,74.5l13.9-11.2M218.4,281.2l-6.7-8.1M196,257.7l-9.5-8M558.9,225l-2.6,2.2M269.8,71.2l3.6,4.1M310.1,84.2l2.8-2.5 2-2.5M313.3,54.4l-2.7-3.5M306.9,47.3l-4.2-3.2M520.5,90l3.5,4.4M528.3,98.6l3.9,3.1M208.5,277l-6.8-7.7M664.5,254.7l-12.7-10.3M562.3,227.6l-3.2,2.5M528.4,89.9l2.9,3.4M591,88.8l10-12.2M203.7,279.8l-5.2-6.7M664.5,260.3l-12.5-11M565.6,230.4l-3,2.3M539,91.1l3.3,2.8M583.3,87.7l6.7-8.5M195.7,278.4l-9.2-11.4M653,255.5l-11.2-9.1M568.8,233.5l-3.2,2.4M548.3,52.6l-2.7,3.4M664.5,275.6l-9.1-11.1M643.9,253.4l-10.6-8M566.9,241.3l-2.4,3.1M656.2,274.4l-4.8-6.3M641.6,257.7l-6.1-5.3M632,256.1l-6.3-4.7M582.2,306.6l4.1,4.9M634.8,311.5l4.5-3.9M635.9,269.3l-5.1-6M583.5,250.5l-3.3,2.9M583.4,295l4,5.1M591.5,304.3l4.6,3.8M626.9,271.8l-3.8-5" fill="none" stroke="#ff0000" stroke-width="0.82"/><path d="M335.2,219.2l-3.2-4.9M331.1,204.7l2.4-3.5 3.7-2.5M364,205.5l2.2,3.6M413.8,237.1l-1.2-1.8M340,231.8l-7-5M364.4,193.1l5.6,3.9M381.9,210.5l5.2,8.3M390.1,231l-1.8,1.2M338.4,237.1l-5.8-4M323.2,223.6l-4.1-6.3M318.6,193.9l4-2.9M312.4,190.9l4.3-2.7M399.6,204.3l5.3,3.8M444.8,249.1l-3.4,2.3M336.5,245.8l-5.3-3.4M312.9,223.6l-6-9.3M402.9,199.4l5.3,3.8M457,242.6l-3.5,4.8M335.2,249.3l-6-3.9M309.4,225.2l-8-11.7-6.6-10.2M406.9,195.6l4.8,3.5M461.7,242.6l-3.8,5.7M448.1,257.8l-5.3,3.4M335.2,253.3l-6.3-4M282.3,197l-2.5-3.4M280.1,185.5l2.1-1.4M452.7,259.1l-5.7,4.2M333.9,256.4l-6-3.7M453.5,263.3l-6.1,4.3M327.9,256.5l-8.3-6.2M274.8,205.1l-20.2-13.5M244.6,182.8l-1.8-2.6M404.9,166.3l3.6,2.6M468.2,251.4l-5.3,7.4M328.6,260.6l-8.7-6.1M281.4,215l-10.6-7.6M243.3,190.9l-19.6-12.7M412.5,163.5l4.3,2.7M431.3,180.8l2.8,2M472,250.9l-5.3,8.3M454,271.9l-7.3,4.7M475.3,183.6l1.9,2.6M472,256.9l-4.7,6.7M456,274.8l-6.6,4.5M331.9,266.3l-10-6.5M280.1,218.4l-6.6-4.9M641.7,158.1l1.3-2.1M334.5,271.5l-11.2-7M277.5,220.6l-7.3-5.3M637.6,168.9l-3-2M632.4,164.8l-1.3-2M631.2,157.4l2.5-3.4M477,259.9l-4.4,6.9M275.5,223.1l-7.3-5.2M624,166.2l-1.9-2.7M488.2,166.9l4.6,3.3M325.9,273.8l-12.6-9.4M274.1,226l-7.9-5.6M619.4,169.8l-3.2-2.3M493.3,164.2l5.1,3.3M457.4,291.8l-8,5M325.9,277.6l-13.3-9.9M272.3,228.4l-7.5-5.3M611.5,170.8l-3-1.9M606.3,159.4l2-2.7M618.8,147.7l9.2-5.8M481.7,269.3l-3.9,6.4M458,296.1l-7.3,4.6M270.8,231.1l-7.3-5.2M338.5,293.6l-13.9-8.9M266.2,231.4l-8.7-5.8M602.3,171.5l-3.1-2M603.5,154.7l11.3-8.4M513.5,165.5l1.6,2.4M481.5,275.7l-4.9,7.1M458.7,300.5l-6.6,4.3M329.9,292.7l-10.6-7.6M266.4,235.3l-7.5-5.4M586.4,164.2l1.3-2M593.8,156.7l17.5-11.9M522,164.8l1.3,2.1M480.6,282.9l-4.6,6.3M460.7,304.1l-6,4.1M334.5,300.3l-9.2-6.3M266,238.9l-7.1-5.4M573.4,165.5l.9-1.3M532.3,164.2l1.3,2M514.9,188.8l-4.4,6.5M482.8,285.5l-7.5,10.1M344.3,311.5l-16.4-10.8M258.2,236.7l-14.4-9.1M535.7,176.4l-8,5.1M515.8,192.8l-4,6.3M487.9,283.3l-6.6,10.6M335.6,311.5l-13.7-10.1M257.5,240l-13.8-9M532.4,182.8l-6,3.9M485.9,293.4l-6.6,9.5M256.9,243.4l-13.3-9M532.4,186.5l-6,4.1M489.9,293.6l-6,9.6M255.6,246.4l-13.4-9.3M533.4,189.5l-5.7,3.9M523.3,197.7l-3.6,4.9M488.6,303.3l-5.5,8.2M254.2,249.4l-13.4-9.6M534.4,192.4l-5.3,3.8M524.8,200.5l-3.4,5M252.9,252.5l-12.1-9-18.5-11.7M535.9,195l-4.9,3.4M526.9,202.6l-3.4,5M239.3,246.4l-17-11.1M537.7,197.3l-5.3,3.9M528.5,205.5l-3.2,5M293.9,311.5l-16.1-21.4M237.8,249.3l-15.5-10.4-19.4-12.1M539.7,199.7l-5,3.6M595.5,127.4l26.5-16.4M287.6,311.5l-12.7-18.2M237.6,253.4l-15.4-10.8-19.2-12.5M541.7,202.1l-4.7,3.4M595.5,124.6l25.8-16.6M281.3,311.5l-9.6-14.9-8.9-12.6M234.6,255.5l-13.9-10.1-19.1-12.7M543.7,204.7l-5,3.6M458.7,89.5l31.3,21.7M595.2,121.7l25.5-16.8M266.1,296.6l-7.6-11.1M219.2,248.3l-17.6-12.1-15.1-9.4M545.7,207.4l-4.7,3.5M337.2,109.4l17.2-10.8 32.6-22.8M489.3,104.6l9.3,6.6M594.8,118.8l25.9-17.6M262.3,300.1l-7.3-11.6M217.5,251.4l-16.1-11.6-14.9-9.8M548.3,209.8l-5,3.7M334.6,106.6l9.2-5.9M395.6,55.4l5.3-3.6M445.4,52.6l6,4.3M498.8,105.6l9.3,6.5M594.4,115.7l26.3-18.6M250.2,290.1l-6.5-8.9M201.1,243.5l-14.6-10M551,212.3l-5.3,3.9M329.8,104.6l9.1-6M364.7,72.6l6.2-8.6 11.4-17.4M464.7,51.8l17.3,26.1 6.1,8.6M593.1,113l26.9-19.8 13.3-8.3M245.1,291.7l-6.3-9.1M199.4,246.4l-12.9-9.3M664.5,237.1l-13.9-8.7M553.5,215l-5.2,3.8M346,84.2l6.4-8.9M490.1,76.6l6.9,11.1M514.5,106.1l4.7,3.3M586.2,113.6l6.6-4.2M620,88.2l12.6-8.4M239.7,293.3l-5-7.8M664.5,241l-13.9-9.2M556.3,217.7l-3.1,1.9M235,70.6l29,19.4M502.2,84.2l3.8,5.8M518.4,103.4l4.7,3.4M587.5,108.9l6-4.3M620,82.3l12.6-9M229.2,287l-6.4-8.6M664.5,245.2l-13.9-9.8M558.9,220.5l-3.3,2.1M229.7,53.4l7.3,5M262.6,80.5l6.6,4.8 5.4,3.5M315.5,93.3l3.5-2.2M326.2,84.2l2.5-3.7M511.7,87.7l3.1,4.5M583.5,107l5.3-3.6M634.6,63.3l7.3-4.9M223.5,288.5l-5.1-7.3M664.5,249.7l-13.3-9.9M553.6,230.1l-2.3,3.4M267.9,39.5l-2.8,2-2.3,3.1M266.8,67l3,4.2M277.7,79.2l3.4,2.5M517.6,85.3l2.9,4.7M581.5,103.3l7.8-5.7M213.7,284l-5.2-7M651.8,244.4l-12.4-8.2M556.7,232.7l-2.4,3.5M525.4,85.3l3,4.6M535,96.8l4.7,3.2M575.5,101.2l7.3-4.8M601,76.6l9.3-14.1M207.5,285.5l-3.8-5.7M652,249.3l-11.9-8.6M560,235.3l-2.6,3.6M538.6,39.5l-2.9,4.3M533.7,84.2l2.3,3.5M575.3,94.4l4.2-3.2M199.3,284l-3.6-5.6M641.8,246.4l-11.2-7.2M562.9,238.7l-2.1,2.9M569.8,87.7l3.3-2.4M576.6,81.7l2.7-3.8M581.5,52.6l-2-2.7M555.6,47.1l-4,2.5M547.7,86l3.3,2.4M191.8,284l-5.3-8.4M572.9,236.4l-3.3,2.3M659.6,279.8l-3.4-5.4M635.5,252.4l-5.6-4.1M576.2,240.3l-3.2,2.3M570.2,245.4l-2.6,3.9M647.3,273.1l-4.6-6.3M580.4,244.4l-3.5,2.5M578.2,300.8l4,5.8M639.3,307.6l2.6-3.7M639.3,274.4l-3.4-5.1M625.9,258.8l-5.9-4.3M580.2,253.4l-2.3,3.2M618,262.2l-5.3-3.5M586.8,259.9l-1.4,2.3M588.1,285.5l2.7,3.9M596.8,295.4l4,2.7" fill="none" stroke="#ff0000" stroke-width="0.87"/><path d="M345.2,226.2l-5.3-2.8M367.6,219.6l-1.6,3.2M417,238.9l-3.2-1.8M431.5,238l-2,.9M327.2,220.3l-2.3-3.8M387.1,218.8l3.3,6.4M367.7,186.7l6,3.6M400.3,214l4.6,2.6M447.6,225.2l1.5,2.4M448.2,236.2l-1.6,2.7M441.1,244.4l-6.3,3.7M338.5,242.3l-4.6-2.8M317.2,222.8l-4.3-7M371.3,181.5l6.4,3.5M404.9,208.1l4.7,2.5M448.7,217.2l3.2,1.6M454.4,221.2l1.7,3.2M454.7,237.1l-2.6,4.5M441.4,251.4l-4.6,2.3M342.5,248.8l-6-3M306.9,214.3l-4.3-8.1M305.3,188.3l5.3-2.8M375,176.8l6.7,3.6M408.2,203.2l5.4,2.8M453.4,213.1l3.3,1.8M459.9,237.1l-2.9,5.5M444.8,254.9l-4.9,2.8M341.2,252.4l-6-3.1M294.8,203.3l-3-5.6M291.2,190.9l.7-1.4M294.9,186.8l5.8-2.8M382.8,174.2l3.5,2.1M411.7,199.1l5.2,2.8M456.7,209l3.3,1.8M341.8,256.6l-6.6-3.3M387.7,170.3l3.9,2.3M415.5,195.3l5.4,2.9M459.3,204.7l3.4,1.8M466.7,210.4l2.3,4.6M466.1,241.6l-3.8,6.7M447,263.3l-6.2,3.4M340.6,259.9l-6.7-3.5M263.2,188.2l-1.1-2M263.4,181.5l2.3-1.3M393.6,166.9l4.6,2.6M420,191.6l4.8,2.6M462,200.4l3.3,1.7M469.5,206.2l1.7,2.9M468.9,243.5l-4.2,7.4M447.4,267.6l-6.6,3.5M341.8,264.2l-7.3-3.7-6.6-4M399.6,163.6l5.3,2.7M426.2,187.8l3.9,2.1M464,195l3.3,1.7M472,201.1l2.9,5.8M472.6,242.6l-4.4,8.8M450.7,269.9l-7.3,4.2M342.5,268.2l-7.3-3.6-6.6-4M270.8,207.4l-27.5-16.5M217,172.2l-1-2M434.1,182.8l2.8,1.3M466,188.1l3.3,1.6M474,194.2l2,3.4M420.1,160.8l7.8,4 12.2,7.6M469.5,179.5l3.5,2M476,249.4l-4,7.5M449.4,279.3l-6.6,3.5M344.5,272.8l-12.6-6.5M273.5,213.5l-11.3-6.9-32.5-18-43.2-21.6M652.8,170.2l-6.3-3.3M642.6,163.5l-.8-1.3M645.3,154l2.6-1.6M474.6,172.6l3.8,2.2M482.1,178.8l1.3,2.7M476.1,255.5l-4.1,6.9M454,280.7l-6.6,4M349.2,278.7l-14.7-7.2M270.2,215.3l-15.3-8.8-30.6-15.9M637.1,151.2l4.7-2.8M477.9,167.5l6,3.1M487.8,174.2l1.9,4M480.7,252.4l-3.7,7.5M454,285.1l-7.9,4.6M346.5,281.3l-8.6-4.2-12.6-7.5M268.2,217.9l-16-9.1-29.2-14.9M630.8,170.8l-4.1-2.4M631,149.1l6-3.6M494.4,172.2l1,2M482.6,254.9l-3.5,7.3-4.4,7.1M456,288.2l-7.9,4.8M349.2,286.5l-9.3-4.5-14-8.2M266.2,220.4l-15.3-8.8-28.5-14.4M623.7,172.2l-4.3-2.4M624.5,148.4l7.5-4.7M500.3,169.5l1.1,2M484.4,257.7l-3.8,7.6-4,6.6M349.8,290.9l-9.3-4.6-14.6-8.7M264.8,223.1l-15.9-9.1-27.2-13.8M616.9,173.5l-5.4-2.7M628,141.9l9-4.4M499.2,162.2l5.3,3.2M485.2,262.4l-3.5,6.9M351.8,296.1l-10-5-15.9-9.6M263.5,225.9l-15.3-9-27.2-13.9M352.5,300.9l-14-7.3M257.5,225.6l-16.1-9.1-23-11.7M596.6,162.8l1.5-2.7M614.8,146.3l11.9-7.2 9.4-4.6M506.5,160.8l4.6,2.7M513.6,177.5l-7.9,13.4M485.7,268.1l-4.2,7.6M452.1,304.8l-7.3,3.7M353.8,306.3l-12.6-6.7-11.3-6.9M258.9,229.9l-14.9-8.7-25-13.1M591.7,172.2l-3.2-2M611.3,144.8l14.7-8.7M515.8,160.4l4,2.4M523.6,170.8l-2.5,4.7M509.9,190.2l-2.7,4.8M487.9,270.1l-3.3,6.3-4,6.5M454.7,308.2l-5.9,3.3M354.1,311.5l-9.6-5.1-10-6.1M258.9,233.5l-14.6-8.9-25-13.3M579.4,172.8l-3.5-2M578.6,160.8l17.5-10.1 21.7-13.2 10.8-5.9M524.8,159.4l5,2.8M489.2,274l-6.4,11.5M243.8,227.6l-24.5-13.3-16.2-7.9M542.3,173.1l-6.6,3.3M584.2,153.1l12.6-6.3 27.9-16.2M243.7,231l-23.3-13.1-17.3-8.7M516.5,197l-3.3,5.6M491.9,282.6l-6,10.8M588.2,147.9l7.3-3.5 26.6-15.4 13.2-6.5M243.6,234.4l-22.8-13.2-17.6-9.2M518.1,199.8l-3.1,5.7M495.2,282.9l-5.3,10.7M595.5,141.4l27.2-15.6 12.6-6.2M242.2,237.1l-21.4-12.7-17.3-9.4M538.4,187.1l-5,2.4M519.7,202.6l-2.9,5.7M493.9,293.6l-5.3,9.7M589.5,141.5l6.6-3.3 26.6-15.4 12.6-6.2M240.8,239.8l-19.9-12.2-17.8-9.9-16.6-8.1M539,190.1l-4.6,2.3M493.2,303l-4.9,8.5M596.1,135.4l26.6-15.5 12.6-6.3M222.3,231.8l-19.2-11.1-16.6-8.4M540.4,192.7l-4.5,2.3M497.2,303.8l-3.9,7.7M596.1,132.7l26.6-15.8 12.6-6.4M222.3,235.3l-19.5-11.7-16.3-8.6M589.5,133.3l6.6-3.4 25.9-15.8 13.3-6.8M202.9,226.8l-16.4-9M530.7,207.6l-3.1,5.2M622,111l12.6-6.7M203,230.1l-16.5-9.5M664.5,220.6l-14.6-7.1M533,209.8l-3.3,5.5M341,114.8l32.7-16.9M447.4,92.9l12,6.1 30.8,17.6M583.5,130.5l12-5.9M621.3,108l12.7-6.8M201.6,232.7l-15.1-9.1M664.5,223.6l-13.9-7.1M534.9,212.8l-3.2,5.7M332.1,115.7l12.2-6.3 36.1-21 9.2-4.7M442.8,80.4l5.9,3 10,6.1M490,111.2l9.3,5.4M588.8,125.2l6.4-3.5M620.7,104.9l13.3-7.4M274.9,311.5l-8.8-14.9M664.5,226.8l-14.6-7.9M536.9,215.8l-3.2,6M232.3,93.6l30.5,14.8M329.2,113.4l8-4M387,75.8l8-5 5.9-3.1M444.1,68l6,3.6M498.6,111.2l9.9,5.8M588.8,122.2l6-3.4M620.7,101.2l13.3-7.6M268.5,311.5l-6.2-11.4M664.5,230l-13.9-7.8M539,218.8l-3.2,6.4M231,88.4l33.8,17.2M325.9,111.1l8.7-4.5M400.9,51.8l6.7-3.4M439.4,49.2l6,3.4M508.1,112.1l11.7,6.3M582.8,122.1l5.8-2.9 5.8-3.5M620.7,97.1l12.6-7.4M261.9,311.5l-5.7-11.4-6-10M664.5,233.5l-14-8.3M541.6,221.2l-3.2,6.4M231.6,83.5l33.8,18.2M511.5,109.4l10.9,6.3M586.8,116.8l6.3-3.8M250.8,301.9l-5.7-10.2M650.6,228.4l-12.7-6.4M233.6,78.2l31.3,18.3 8.1,4.2M318.6,105.1l9.3-4.7M352.4,75.3l5.3-9.8M484.4,65.5l5.7,11.1M519.2,109.4l5.9,3.4M580.3,116.6l5.9-3M632.6,79.8l8-4.2M244.2,301.9l-4.5-8.6M650.6,231.8l-12.3-6.6M227,66.3l8,4.3M264,90l7.5,4.4 6.5,3.2M320.1,98.6l4.5-2.7M339.4,80.5l4.7-9.3M496.5,72.6l5.7,11.6M523.1,106.8l5.3,3.3M581.5,112.3l6-3.4M632.6,73.3l7.3-4.3M234,295l-4.8-8M650.6,235.4l-12.2-7M222.4,49.6l7.3,3.8M274.6,88.8l7.5,3.9M328.7,80.5l2-3.9M508.3,81.7l3.4,6M527.7,104.5l4.9,3M576.9,110.4l6.6-3.4M641.9,58.4l8-4.5M227.9,296.6l-4.4-8.1M651.2,239.8l-12.6-7.8M562.3,223l-3.4,2M263,59.3l3.8,7.7M281.1,81.7l4.2,2.5M306.7,86l3.4-1.8M314.9,79.2l1.9-3.9M316,59.1l-2.7-4.7M302.7,44.1l-4.7-2.7M532.2,101.7l4.8,2.9M574.2,107.1l7.3-3.8M220.7,296.6l-3.3-6.5-3.7-6.1M639.4,236.2l-11.7-6.1M565.1,226l-2.8,1.6M539.7,100l4.6,2.4M610.3,62.5l6.1-11.6M210.9,291.7l-3.4-6.2M640.1,240.7l-11-6.3M568.9,228.6l-3.3,1.8M557.4,238.9l-1.9,3.7M535.7,43.8l-2.7,5.3M542.3,93.9l4,2.4M571.4,96.5l3.9-2.1M590,79.2l3.2-5.2 2.8-5.6M202.6,290.1l-3.3-6.1M572.2,231.7l-3.4,1.8M560.8,241.6l-2,3.8M579.3,77.9l2.1-3.9M576.9,47.6l-3.4-1.9M545.6,56l-2.6,4.9M542.8,79.2l2.1,3.7M633.3,245.4l-11.3-6.3M564.5,244.4l-2.1,3.9M662.5,285.5l-2.9-5.7M629.9,248.3l-5.9-3.6-5.3-2.6M570.2,299.9l2.8,5.7 3.6,5.9M650.6,278.4l-3.3-5.3M625.7,251.4l-5.7-3.4M573.7,250.3l-2.1,3.7M575,295l3.2,5.8M642,279.8l-2.7-5.4M620,254.5l-5.5-3.1M587.5,248.4l-4,2.1M580.6,290.1l2.8,4.9M596.1,308.1l5.5,3.4M622,300.7l4.1-2.3M629.2,295l1.6-3.3M629.7,277l-2.8-5.2M591.5,256.3l-2.4,1.4M586.2,281.7l1.9,3.8M600.8,298.1l3.3,1.7" fill="none" stroke="#ff0000" stroke-width="0.92"/><path d="M337.2,198.7l4-1.4M353.8,197.9l4,1.9M366.2,209.1l1.4,3.7M363.4,225.2l-3.6,1.7M414.2,233.2l4.7-1.6M430.8,231l2,.8M433.9,232.7l.4,.8M348.1,235.3l-8.1-3.5M324.9,216.5l-1.7-3.7M322.1,202.6l1.1-2.8M327.9,195l6.6-3.2M358.4,190.6l6,2.5M388.3,232.2l-3,1.3M347.2,241l-8.8-3.9M319.1,217.3l-2.8-6M314.7,201.2l1.4-4.2M322.6,191l4.6-2.2 6.7-2.2M361.1,184.5l6.6,2.2M404.9,216.6l4.7,1.7M442.1,222l3.3,1.4M449.4,232.7l-1.2,3.5M355.8,248.7l-12-3.9-5.3-2.5M312.9,215.8l-3.5-7.5M307.7,198.4l1.5-4.1M316.7,188.2l6.3-2.7M409.6,210.6l5.3,1.9M456.3,232.7l-1.6,4.4M436.8,253.7l-4.9,1.8M349,251.4l-6.5-2.6M302.6,206.2l-2.3-6.4M300.2,195l1.5-3.4M310.6,185.5l7.4-2.7M413.6,206l5.3,2M459.7,218.1l1.8,3.9M439.9,257.7l-5.2,2.2M355.1,257.6l-7.3-2.4-6.6-2.8M379,172.5l3.8,1.7M416.9,201.9l5.3,2M463.4,214.3l2.2,4.5M464.5,236.2l-2.8,6.4M442.8,261.2l-6,2.7M357.8,262.6l-8-2.7-8-3.3M279.8,193.6l-1.3-2.7M278.3,188.8l.6-2M282.2,184.1l7.6-2.6M383.7,168.6l4,1.7M420.9,198.2l4.6,1.7M468.8,234.4l-2.7,7.2M440.8,266.7l-6.7,2.6M356.5,266.1l-8-2.8-7.9-3.4M389,165.1l4.6,1.8M424.8,194.2l4.7,1.7M471.2,209.1l1.2,2.9M471.9,235.3l-3,8.2M440.8,271.1l-7.3,2.7M357.8,270.5l-16-6.3M244.1,175.5l2.1-.9M393.8,161.5l5.8,2.1M430.1,189.9l4.7,1.6M443.4,274.1l-7.9,3.2M359.8,275l-9.3-3.4-8-3.4M399.6,158.4l7.2,2.4 5.7,2.7M476,197.6l1.5,3.6M476.1,241.6l-4.1,9.3M446.7,276.6l-8.6,3.9M660.8,158.8l3.7-1.6M409.6,156.7l10.5,4.1M440.1,172.4l4.7,2.1M477.2,186.2l2.8,6.7M479,241.6l-3,7.8M442.8,282.8l-7.3,2.7M359.1,278.7l-14.6-5.9M664.5,174.8l-11.7-4.6M647.9,152.4l7.3-2.7M419.3,155.4l27.4,9.8M470,170.8l4.6,1.8M482.6,239.1l-2.7,8.3-3.8,8.1M447.4,284.7l-7.3,3.4M365.1,284.6l-15.9-5.9M224.3,190.6l-16.6-7.5-21.2-8.3M664.5,179.4l-18.3-6.6-8.6-3.9M641.8,148.4l5-2.1M483.9,243.9l-3.2,8.5M446.1,289.7l-8,3.3M365.8,288.9l-10-3.6-9.3-4M223,193.9l-17.2-7.5-19.3-7M664.5,183l-22.4-7.5-11.3-4.7M637,145.5l6.6-2.8M481.3,163.7l6.9,3.2M485.5,247.4l-2.9,7.5M448.1,293l-8.7,3.8M368.4,294l-10-3.6-9.2-3.9M222.4,197.2l-16.6-7.2-19.3-7M635.7,176.8l-12-4.6M613.7,160.1l.9-2M632,143.7l7.9-3.7 8-2.7M485.2,160.9l8.1,3.3M487.2,250.3l-2.8,7.4M449.4,296.8l-8.6,4M369.7,298.8l-9.9-3.6-10-4.3M221.7,200.2l-15.9-7-19.3-7M627.8,177.5l-10.9-4M605.4,161.5l.9-2.1M637,137.5l8.9-3.2M490.6,158.8l8.6,3.4M507.6,168.9l.9,1.9M507.6,178.2l-6,13.4M490.6,248.3l-2.4,7.2-3,6.9M450.7,300.7l-8.6,4.1-8.6,2.9M371.7,304l-9.9-3.6-10-4.3M221,203l-15.9-7-18.6-6.9M366.4,306.8l-13.9-5.9M218.4,204.8l-15.3-6.7-16.6-6.3M620,178.2l-11.7-4-6-2.7M597.2,167.5l-.9-2.7M636.1,134.5l9.8-3.6M227,133.8l28.5,9.8M501.2,158.6l5.3,2.2M515.6,172.8l-2,4.7M505.7,190.9l-3.7,8.9M490.6,256.6l-4.9,11.5M444.8,308.5l-8,3M365.7,311.5l-11.9-5.2M219,208.1l-15.9-7.2-16.6-6.5M596.4,174.2l-4.7-2M626,136.1l10-4.8 9.2-3.4M227.7,130.9l28.5,10.1M510.7,158.1l5.1,2.3M507.2,195l-2.1,4.8M492.6,258.8l-4.7,11.3M219.3,211.3l-16.2-7.7-16.6-6.6M664.5,197l-13.3-4.6M584.8,175l-5.4-2.2M573.8,168.9l-.7-2M628.6,131.6l9.3-4.2 8.7-3M227.7,127.8l29.8,10.9M333.2,142.3l25.2-8.4M518.2,156.7l6.6,2.7M533.8,168.2l-.8,2M510.5,195.3l-3.3,7.2M494.5,261.3l-5.3,12.7M203.1,206.4l-16.6-6.9M664.5,199.5l-15.9-5.6M547.7,171.3l-5.4,1.8M511.8,199.1l-2.7,6.4M497.5,261l-3.6,9.8-6,12.5M228.3,124.9l29.4,11.1M333.2,139.9l25.9-8.9M574.9,156.9l9.3-3.8M624.7,130.6l13.2-6.2 6.7-2.4M203.1,209.2l-16.6-7.2M664.5,202l-19.3-6.8M539,179.6l-6.6,3.2M513.2,202.6l-2.2,5.7M499.9,262.2l-3.3,9.6-4.7,10.8M229,122.2l29.9,11.5 13.6,4.5M333.2,137.5l25.9-9.2M581.5,150.7l6.7-2.8M635.3,122.5l7.3-2.8M203.2,212l-16.7-7.5M664.5,204.5l-20.6-7.5M539,183.4l-6.6,3.1M515,205.5l-1.9,5M499.6,271.8l-4.4,11.1M229.7,119.4l29.2,11.6 13.9,4.8M333.9,134.8l26.5-9.7M582.2,147.3l13.3-5.9M635.3,119.6l7.3-2.9M203.5,215l-17-7.9M664.5,207.1l-15.3-6M543.7,185.3l-5.3,1.8M516.8,208.3l-1.8,5.2M502.5,272.1l-4,11-4.6,10.5M229.7,116.4l29.8,12.1 14,4.9M334.3,132.2l26.8-10.2M582.8,144.2l6.7-2.7M635.3,116.6l7.3-2.9M664.5,209.6l-14.6-5.9M544.3,188.3l-5.3,1.8M521.4,205.5l-2.7,5.8M505.2,273.2l-3.4,10.1-3.9,10-4.7,9.7M230.3,113.6l29.6,12.2 14.2,5.2M324.6,132.9l9.9-3.4 27.9-11.1M458.7,122.3l31.8,10.6M583.5,141.2l12.6-5.8M635.3,113.6l7.3-2.9M664.5,212.3l-14.6-6.3-14.4-4.8M545,191.2l-4.6,1.5M523.5,207.6l-2.7,5.9M504.5,285.4l-3.3,9.1-4,9.3M215.7,105.7l14.6,4.9 30.5,12.8 14,5.1M325.3,130.1l9.9-3.5 29.2-12.2 10-3.4M441.4,111.8l18,6.1 32.4,11.9M583.5,138.5l12.6-5.8M635.3,110.5l7.3-2.9M664.5,215l-14.6-6.5-13.3-4.7M542.3,195.1l-4.6,2.2M525.3,210.5l-2.5,6M504.8,295l-6.6,16.5M215.7,102.5l14.6,4.9 31.2,13.4 14,5.2M326.6,127l9.9-3.8 29.9-13.2 10-3.7M444.1,106.8l15.3,5.8 31.9,13.2 22.5,7.5M583.5,135.9l6-2.6M635.3,107.3l7.3-2.9M664.5,217.8l-13.9-6.6-13.7-5M543.7,197.8l-4,1.9M527.6,212.8l-2.5,6M508.5,295.2l-5.6,16.3M216.4,99.3l14.6,5 30.5,13.5 14.7,5.6M327.9,123.7l10.9-4.5 31.6-14.9 10-4 9.2-3.1M432.8,96.2l12.6,4.2 13.3,5.7 32.6,15.6 10.1,4.1 11.3,4M576.9,135.4l6.6-2.2 12-5.8M634.6,104.3l7.3-3M649.9,213.5l-13.3-5.1M545.7,200.3l-4,1.8M529.7,215.3l-2.6,6.7M216.4,95.7l14.6,5.1 30.9,14 15.6,6.1M323.3,122.4l6.4-2.4 11.3-5.2M373.7,97.9l11.3-5 8.6-3.2M435.5,88.3l11.9,4.6M490.2,116.6l10.6,5.1 10.2,4.1 12.8,4.3M577.5,132.6l6-2.1M634,101.2l7.3-3.1M650.6,216.5l-13.3-5.4M547.7,202.8l-4,1.9M531.7,218.5l-2.6,7.3M216.4,91.9l14.6,5.2 32.2,15 14.3,5.7M325.3,118.6l6.8-2.9M389.6,83.7l8-3.5 8-2.6M437.4,78.3l5.4,2.1M499.3,116.6l10.6,5.1 12.5,4.8M576.9,130.1l5.9-2.1 6-2.8M634,97.5l7.9-3.4 7.3-2.4M649.9,218.9l-12.8-5.4M549.6,205.5l-3.9,1.9M533.7,221.8l-2.5,7.5M217,87.9l7.3,2.4 8,3.3M262.8,108.4l15.6,6.4M321.9,116.4l7.3-3M400.9,67.7l6.7-2.7M438.8,65.5l5.3,2.5M508.5,117l12.2,5.6M576.9,127.3l6.1-2.3 5.8-2.8M634,93.6l7.3-3.2 7.9-2.8M650.6,222.2l-12.7-5.8-13.2-4.5M552.3,208l-4,1.8M223,85.2l8,3.2M264.8,105.6l14.6,6.1M318,114l7.9-2.9M407.6,48.4l6-2M432.8,46.7l6.6,2.5M519.8,118.4l13,5M576.9,124.4l5.9-2.3M633.3,89.7l8-3.7 7.3-2.7M650.5,225.2l-13.2-6.3-13.2-4.6M555,210.5l-4,1.8M216.4,77.6l7.3,2.5 7.9,3.4M265.4,101.7l14.7,6.4M320.6,109.1l9.2-4.5M522.4,115.7l12,4.8M572.2,122.7l8-2.7 6.6-3.2M633.3,84.9l8-3.9 7.3-2.7M255.2,311.5l-4.4-9.6M637.9,222l-12.6-4.8M557.6,213.2l-4.1,1.8M543.7,224.6l-3.4,7.2M218.4,71.6l7.9,3 7.3,3.6M273,100.7l6.4,2.7 8.7,2.9M314,106.7l4.6-1.6M357.7,65.5l4.4-11.1M472.5,39.5l11.9,26M525.1,112.8l11.3,4.8M572.9,119.3l7.4-2.7M640.6,75.6l8-3.3M248.2,311.5l-4-9.6M638.3,225.2l-12.3-5M560.8,215.8l-4.5,1.9M546.1,227.6l-3.5,7.7M219.7,63.2l7.3,3.1M278,97.6l7.9,3.1M315.7,100.7l4.4-2.1M491.1,57.7l5.4,14.9M528.4,110.1l6,2.9 5.3,1.9M574.2,115.4l7.3-3.1M639.9,69l8.7-4.1 7.9-2.7M240.9,311.5l-2.8-7.8-4.1-8.7M638.4,228.4l-12.4-5.3M562.9,218.7l-4,1.8M548.4,231l-3.5,7.9M282.1,92.7l7.3,2.7M311.3,95.2l4.2-1.9M330.7,76.6l1.5-4M332.1,49.1l-3.6-9.6M503.6,69.8l2.4,6.8 2.3,5.1M532.6,107.5l5.8,2.7 5.4,1.9M569.6,112.9l7.3-2.5M649.9,53.9l8-3.5 6.6-2.3M230.9,303.7l-3-7.1M638.6,232l-11.9-5.6M566.9,221.2l-4.6,1.8M551.3,233.5l-3.6,8.1M262.8,44.6l-1,2.7M285.3,84.2l4.8,1.9M317.2,62.5l-1.2-3.4M298,41.4l-4.4-1.9M512.5,72.6l2.2,6.6 2.9,6.1M537,104.6l5.3,2.5M223.4,303.7l-2.7-7.1M627.7,230.1l-11.7-4.2M569.6,224.2l-4.5,1.8M554.3,236.2l-3.8,8.2M521.3,75.3l1.8,5.2 2.3,4.8M544.3,102.4l4.7,1.6M567.6,104.2l7.9-3M616.4,50.9l2.3-5.5M213.8,298.4l-2.9-6.7M629.1,234.4l-11.7-4.8M573.5,226.9l-4.6,1.7M555.5,242.6l-1.9,4.8M533,49.1l-1.9,5.3M531.4,79.2l2.3,5M546.3,96.3l4,1.6M567.6,98l3.8-1.5M596,68.4l2.3-5.9M206.3,300.1l-3.7-10M630.6,239.2l-11.2-5.3-6.2-2.1M576.9,230l-4.7,1.7M558.8,245.4l-1.6,3.9M566.2,89.4l3.6-1.7M581.4,74l1.8-5.6M583,56l-1.5-3.4M560.3,45.2l-4.7,1.9M551,88.4l3.8,1.6M195.9,293.3l-4.1-9.3M622,239.1l-6-2.5M576.9,234.6l-4,1.8M562.4,248.3l-1.5,4.1M564,300.1l4.7,11.4M664.5,290.9l-2-5.4M618.7,242.1l-5.8-2.3M580.2,238.4l-4,1.9M567.6,249.3l-1.9,4.1M567.6,293.3l2.6,6.6M653,311.5l1.6-4M653.2,284l-2.6-5.6M620,248l-6-2.9-6.6-2.2M584.8,242.6l-4.4,1.8M571.6,254l-1.8,4.8M572.3,288.5l2.7,6.5M641.9,303.9l1.7-3.8M643.9,285.5l-1.9-5.7M614.5,251.4l-5.8-2.4M577.9,256.6l-1.8,4.4M577.9,284l2.7,6.1M612.7,258.7l-5.3-2.4M585.4,262.2l-1.3,3.5M584.5,277l1.7,4.7M604.1,299.8l4,1.4" fill="none" stroke="#ff0000" stroke-width="0.97"/><path d="M351.1,227.7l-5.9-1.5M332,214.3l-1.4-5.2 .5-4.4M341.2,197.3l4-.6 4.6,.2 4,1M367.6,212.8l.5,3.7-.5,3.1M359.8,226.9l-4,.8-4.7,0M420.9,239.8l-3.9-.9M412.6,235.3l.2-.9M418.9,231.6l7.3-1 4.6,.4M434.3,233.5l-.2,1.8M429.5,238.9l-3.1,.9-5.5,0M357.1,237.1l-9-1.8M323.2,212.8l-1.1-3.7-.3-3.6 .3-2.9M334.5,191.8l8.7-2.1 7.9-.3 7.3,1.2M390.4,225.2l.8,3.2-.4,1.7M385.3,233.5l-10.3,2.7-9.2,1.1-8.7-.2M408.9,250.4l-21.2-3.5-21.9-2-8.7-1.2-9.9-2.7M316.3,211.3l-1.5-5.8-.1-4.3M333.9,186.6l7.7-1.8 7.6-.9 6.6-.1 5.3,.7M409.6,218.3l4.6,1.1 6.7,.7 16.5,.9 4.7,1M449.1,227.6l.5,2.5-.2,2.6M434.8,248.1l-7.5,2.2-8.4,.8-10-.7M402.9,256.6l-35.8-5.6-11.3-2.3M309.4,208.3l-1.6-5.7-.1-4.2M323,185.5l8.7-2.7 9.5-2.2 9.3-1.4 7.3-.4 6.6,.6 6.9,2.1M414.9,212.5l6,1.3 23.9,2.3 3.9,1.1M456.1,224.4l.7,4-.5,4.3M431.9,255.5l-5.1,1.3-10.6,.9-13.3-1.1M402.3,262.2l-27.4-4.5-19.1-4.2-6.8-2.1M300.3,199.8l-.3-2.8 .2-2M318,182.8l11.2-3.1 12.6-2.9 10.7-1.9 7.9-.6 7.3,.5 7.3,2M418.9,208l5.9,1.3 23.9,2.4 4.7,1.4M461.5,222l.6,4.8-.6,5-1.6,5.3M434.7,259.9l-5.9,1.7-6,1-5.9,.4-6.7-.1-7.9-.7M399.6,266.8l-24.6-4.3-19.9-4.9M291.8,197.7l-.9-2.7-.1-2.1 .4-2M300.7,184l8.6-2.8 14.7-3.7 19.8-4.6 10.7-1.9 8.6-.8 8,.3 7.9,2M422.2,203.9l6,1.3 23.9,2.4 4.6,1.4M465.6,218.8l.9,5.6-.4,5.7-1.6,6.1M436.8,263.9l-6.7,2.1-6.6,1.2-7.3,.6-8-.1-8.6-.9M403.6,271.8l-10-1.2-11.9-2.2-12.6-2.8-11.3-3M278.5,190.9l-.2-2.1M289.8,181.5l32.8-6.9 25.3-5.7 14.5-2.5 6-.2 5.3,.2 5.3,.9 4.7,1.3M425.5,199.9l6,1.3 23.2,2.2 4.6,1.3M469,215l1.3,6.2-.2,6.4-1.3,6.8M434.1,269.3l-6.6,1.7-7.3,1-8,.3-8.6-.5M398.9,275.7l-9.9-1.5-11.3-2.3-21.2-5.8M262.1,186.2l-.3-2.1 .4-1.3M265.7,180.2l6.4-1.8 27.9-3 13.3-2 47.1-10.1 8.7-.8 8.6,.2 6,.9 5.3,1.5M429.5,195.9l6,1.2 21.9,1.9 4.6,1.4M472.4,212l1.3,6.8-.1,8-1.7,8.5M433.5,273.8l-8,1.8-8,.8-8.6,.1-10-.8M398.3,279.8l-9.3-1.4-10.6-2.2-20.6-5.7M242.8,180.2l-.4-2 .3-1.4M246.2,174.6l7.4-1.3 9.9-.5 27.9-.2 17.3-1.4 17.2-3 26.6-6.4 8.6-1.8 10-1 9.9,.1 6.7,.9 6.1,1.5M434.8,191.5l4.6,.8 20.6,1.6 4,1.1M474.9,206.9l1.9,8.1 .1,9.4-1.4,9.1-2.9,9.1M435.5,277.3l-8.7,2.2-8.6,1-9.3,.2-10.6-.9M398.9,284.1l-8.6-1.3-9.9-2-20.6-5.8M216,170.2l.3-2M218,166.9l3-1 8.7-.7 49.1,3.8 12.6,.4 11.3-.4 10.6-1.2 10.6-1.8 29.9-7.4 9.3-1.9 11.3-1.1 10.6,.2 7.3,1 7.3,1.6M436.9,184.1l3.9,1.3 4,.6 17.2,1.1 4,1M477.5,201.2l2.1,9.3 .5,10.7-1.3,10.6-2.7,9.8M438.1,280.5l-8.6,2.5-9.3,1.5-10,.4-11.3-.8M659.7,162.8l-.4-1.3 .3-1.4M186.5,157.2l4.6-.9 6.7-.4 18.6,.7 11.9,1.5 23.9,4.3 14,2.1 16.6,1.6 13.9,.4 12-.7 12.6-1.8 11.9-2.7 23.3-6.1 11.9-2.2 8-.6 7.9,0 8,.6 7.3,1.2 10,2.5M444.8,174.5l5.9,1.6 14.6,2 4.2,1.4M480,192.9l2.3,11.1 .8,12.5-.5,8.7-1.4,8.3-2.2,8.1M435.5,285.5l-8,2-8,1.1-8.6,.4-9.3-.5-10-1.3-15.9-3.5-16.6-5M641.8,162.2l-.5-2.1 .4-2M655.2,149.7l9.3-1.3M186.5,148.4l11.3,.2 15.9,1.7 13,2.3 24.2,5.6 12.6,2.5 16.6,2.2 14.6,1 12.6-.5 13.3-1.7 12-2.7 25.2-6.9 13.3-2.3 8.6-.6 8.6,.1 8.7,.8 8.6,1.5 13.7,3.8M446.7,165.2l23.3,5.6M483.4,181.5l1,3.3 .9,8.8 .6,18.4-.3,10-1.2,9-1.8,8.1M440.1,288.1l-7.3,2.3-8,1.7-8.6,.9-9.3,0-9.3-.7-15.9-3-16.6-4.7M631.1,162.8l-.6-2.7 .7-2.7M646.8,146.3l5.8-1.7 5.9-1.1 6-.5M186.5,143l11.3,.3 13.9,1.8 14,2.8 26.5,7.1 12.6,2.8 16.6,2.6 14.6,1 12.7-.5 12.6-1.7 11.9-2.8 23.9-6.7 12.6-2.5 7.3-.7 8-.3 15.3,1 7.4,1.2 8.5,2 26.6,7.8 25.9,6.3 9.2,3M489.7,178.2l.6,5.3-2,36.9-.9,8-1.2,6.9-2.3,8.6M438.1,293l-9.3,2.6-9.3,1.4-9.9,.4-8-.5-8.6-1.1-8.7-1.6-9.3-2.4-9.2-2.9M622.1,163.5l-.5-2.7 1-3.4M643.6,142.7l7-2.2 6.6-1.3 7.3-.7M186.5,138.5l12,.4 13.2,1.9 14.6,3.3 25.9,7.6 13.3,3.2 15.9,2.8 14.6,1.3 12.7-.4 12.6-1.8 11.3-2.6 24.5-7.2 13.3-2.6 8-.8 8.6-.3 8,.2 7.9,.8 15.3,3 23.9,6.3 27.2,6.5 12,3.6M495.4,174.2l.7,4.6-.4,4-2.9,15.6-2.4,26.8-2.4,13.7-2.5,8.5M439.4,296.8l-8.6,2.6-9.3,1.7-9.3,.6-7.9-.2-8.7-.9-8.6-1.5-9.3-2.3-9.3-2.8M664.5,186.2l-28.8-9.4M614.1,164.8l-.7-2.6 .3-2.1M647.9,137.3l8-1.8 8.6-.9M186.5,134.6l12,.3 13.2,2 14.6,3.5 27.3,8.5 13.2,3.5 16,3 13.9,1.2 12.6-.3 12.6-1.9 11.3-2.8 23.9-7.1 14-2.9 7.9-.8 8.7-.4 8.6,.2 8,.7 15.9,3.1 48.5,11.7 16.5,4.8M501.4,171.5l.8,4-.7,4.7-3.9,12-1.8,7.6-3.4,28.6-2.8,14.2-2.4,7.7M440.8,300.8l-8.7,2.7-9.3,1.8-9.2,.8-8-.1-8.6-.8-8.7-1.4-9.3-2.2-9.3-2.8M664.5,189.1l-36.7-11.6M606,166.2l-.8-2.7 .2-2M645.9,134.3l9.3-2.3 9.3-1M186.5,131l12.6,.3 13.3,2.1 13.9,3.5 27.9,9.2 13.3,3.8 15.9,3.1 14,1.3 11.9-.3 12.6-1.9 11.3-2.8 24.6-7.5 14.6-3 8.6-1 8.6-.3 8.7,.2 7.9,.8 12.7,2.3 43.8,10.4 16.3,4.2 11.6,3.4M508.5,170.8l.2,2-1.1,5.4M501.6,191.6l-2.8,8.9-1.6,8.6-3.1,24.4-3.5,14.8M433.5,307.7l-9.3,2-9.3,1-8,0-8.6-.7-8.7-1.3-9.2-2.1-8.7-2.6M380.9,311.5l-14.5-4.7M664.5,191.8l-15.9-5.2-28.6-8.4M596.3,164.8l.3-2M645.9,130.9l9.3-2.2 9.3-1.1M186.5,127.6l12.6,.2 14,2.3 13.9,3.7M255.5,143.6l12.7,3.8 15.2,3.2 14,1.5 11.9-.3 12.6-1.9 11.2-2.9 24.7-7.8 14.6-3.1 8-1 8.6-.5 8,0 7.9,.6 8,1.2 8.6,1.7 40.5,9.6 21.6,5.6 17.6,5.3M515.1,167.9l.7,2.3-.2,2.6M502,199.8l-2.1,9.3-3.1,22.7-2.3,11.7-3.9,13.1M664.5,194.4l-19.9-6.5-37.6-10.4-10.6-3.3M586.6,168.2l-.6-2 .4-2M645.2,127.9l9.3-2.3 10-1.2M186.5,124.4l12.6,.1 14,2.3 14.6,4.1M256.2,141l13.3,4.1 15.3,3.4 13.2,1.3 12-.3 12.6-2 10.6-2.9 24.6-8 15.3-3.4 8.6-1.1 8.6-.5 8.6,.1 8,.6 8,1.2 9.9,2.1 37.2,8.9 33.2,8.6 15.5,5M523.3,166.9l.5,2-.2,1.9M505.1,199.8l-2.8,10.7-3.5,23.9-2.5,12-3.7,12.4M651.2,192.4l-13.3-4-44.3-10.9-8.8-2.5M573.1,166.9l.3-1.4M646.6,124.4l8.6-2 9.3-1.2M186.5,121.2l6.6-.1 6.7,.3 13.9,2.3 14,4.1M257.5,138.7l13.3,4.2 14.6,3.3 13.3,1.4 11.9-.4 12-2 10.6-2.9M358.4,133.9l16-3.7 8.6-1.1 8.6-.6 8.7,.1 7.9,.6 8.7,1.4 9.9,2.2 33.2,8 42.8,11.1 15.4,4.8M533.6,166.2l.2,2M507.2,202.5l-2.7,10.3-3.6,23.4-2.5,12.1-3.9,13M648.6,193.9l-16-4.6-20.5-4.9-31.3-6.2-24.5-7.1-4.7-.3-3.9,.5M509.1,205.5l-1.9,6.9-4.3,26.5-2.4,11.4-3,10.7M186.5,118.2l6.6-.2 6.8,.3 7.2,1 7.3,1.5 13.9,4.1M257.7,136l13.8,4.5 14.6,3.4 13.3,1.5 11.2-.4 12-2.1 10.6-3M359.1,131l15.9-3.7 9.3-1.3 8.7-.7 8.6,.1 8,.7 13.9,2.5 32.5,8 56.3,14.6 32,9.8 4.7,1 4,.3 5.3-.6 7.3-1.8 9.3-3M644.6,122l6.6-1.8 6.7-1.3 6.6-.7M645.2,195.2l-21.2-5.7-15.3-3.3-26.5-4.3-22.6-4.5-7.3-.5-6.6,.7-6.7,2M511,208.3l-1.8,6.7-4,24.8-2.4,11.6-2.9,10.8M186.5,115.1l6.6-.2 7.3,.4 6.7,.9 7.3,1.5 14.6,4.5M272.5,138.2l14.2,3.5 13.3,1.4 11.3-.5 12-2.2 9.9-2.9M359.1,128.3l8-2.2 8.6-1.9 8.6-1.4 8.7-.7 8.6-.1 8,.5 9.3,1.5 11.2,2.5 28.6,7.4 29.1,8 45.9,11.6 10.6,2 9.3,.7 6.7-.4 6.6-1 7.3-1.8 7.3-2.3M642.6,119.7l7.3-2.2 7.3-1.5 7.3-.9M643.9,197l-21.9-5.8-16.6-3.2-23.9-3.3-19.9-3.4-8-.5-7.3,.6-7.3,2M513.1,210.5l-1.7,6.8-4,24.3-2.2,10.9-2.5,9.7-3.1,9.6M186.5,112.1l6.6-.2 7.3,.4 7.3,1 7.3,1.6 14.7,4.5M272.8,135.8l14.6,3.6 12.6,1.4 11.3-.5 12-2.2 10.6-3.3M360.4,125.1l8.7-2.5 8.6-2 8.6-1.3 8.7-.8 7.9-.1 8,.5 9.3,1.5 11.3,2.6 26.5,7.1 31.2,9.1 37.9,9.3 15.2,3 12,.8 6.6-.3 7.3-1 7.3-1.6 6.7-2.1M642.6,116.7l7.3-2.2 7.3-1.5 7.3-.9M649.2,201.1l-14.6-4.6-17.2-4.1-16.6-2.8-37.9-5-8.6-.6-5.3,.3-5.3,1M515,213.5l-1.5,6.1-4,23.9-2.2,11-4.8,17.6M186.5,109.1l6.6-.2 7.3,.3 7.3,1 7.3,1.6 14.7,4.6M273.5,133.4l14.6,3.7 12.6,1.3 11.3-.5 11.9-2.4 10.4-3.3M361.1,122l8.6-2.7 9.3-2.2 8.7-1.6 8.6-.8 8-.2 7.9,.5 10,1.6 11.9,2.9 23.9,6.8 31.9,9.8 31.9,8.2 18.6,3.7 7.3,.8 7.3,.2 7.3-.3 6.6-.8 6.6-1.5 7.3-2.2M642.6,113.7l7.3-2.2 7.3-1.5 7.3-.9M649.9,203.7l-14.6-4.8-16.6-4-16.6-2.8-38.5-4.6-8.6-.5-5.4,.3-5.3,1M518.7,211.3l-3,10.7-6,33.5-4.5,17.7M186.5,106l7.3-.2 7.3,.4 7.3,1 7.3,1.7 14.6,4.7M274.1,131l14.6,3.7 6.7,1 6,.4 11.2-.7 12-2.5M362.4,118.4l9.3-3 8.7-2.2 8.6-1.7 8.6-1 8-.2 8,.4 11.2,1.9 13.3,3.4 20.6,6.3M490.5,132.9l26.6,7.3 21.3,4.5 8.6,1.1 8,.3 7.3-.3 7.3-.9 7.3-1.6 6.6-2.1M642.6,110.7l7.3-2.2 7.3-1.6 7.3-.9M635.5,201.2l-16.1-4-16-2.8-38.5-4.1-9.3-.5-5.3,.3-5.3,1.1M520.8,213.5l-2.6,9.3-5.6,31.7-4.8,20-3.3,10.9M186.5,102.9l7.3-.3 7.3,.5 7.3,1 7.3,1.6M274.8,128.5l14.6,3.8 6.6,1 6,.3 11.3-.7 12-2.8M374.4,111l8.6-2.4 8.6-1.8 8.7-1 7.9-.3 8,.5 11.3,2 13.9,3.8M491.8,129.8l23.3,6.9 12.6,3.2 10,1.9 9.3,1.2 8.6,.4 7.3-.3 7.3-1 6.7-1.5 6.6-2.1M642.6,107.6l7.3-2.2 7.3-1.6 7.3-.9M636.6,203.8l-15.3-4-15.9-2.9-37.8-3.9-10-.5-5.3,.3-5.3,.9-4.7,1.4M522.8,216.5l-2.5,9.5-5.5,30.6-4.3,19.4-5.7,19M186.5,99.6l7.3-.2 7.3,.4 7.3,1 7.3,1.7M275.5,126l7.6,2.2 7,1.6 6.6,.9 6.6,.4 11.3-1 12-3.1M376.4,106.3l9.3-2.8 8.6-2 8-1.1 7.9-.4 8,.5 11.9,2.1 14,4.2M513.8,133.3l12.6,3.4 10.6,2.2 10,1.4 9.3,.4 7.3-.3 6.6-.9 6.7-1.5 6.6-2.1M642.6,104.4l7.3-2.3 7.3-1.5 7.3-1M636.9,206.2l-14.9-4.1-15.3-2.9-15.9-1.7-23.2-2-8.7-.3-5.3,.2-5.3,.9-4.6,1.5M525.1,218.8l-2.7,10.5-5.5,30.6-3.9,18.5-4.5,16.8M186.5,96.3l7.3-.3 7.3,.4 7.3,1 8,1.9M276.2,123.4l7.9,2.3 6.6,1.5 6.7,.9 6.6,.3 6-.3 6-.9 11.9-3.5M389.6,97.2l8.7-2.1 7.9-1.2 8-.3 7.3,.4 11.3,2.2M512.7,129.8l12.4,3.7 11.3,2.6 9.9,1.4 10,.6 7.3-.3 6.6-.9 6.7-1.5M641.9,101.3l7.3-2.3 8-1.8 7.3-.9M636.6,208.4l-13.9-3.9-15.3-3-17.9-1.9-20.6-1.6-8.6-.2-5.3,.3-4.7,.8-4.6,1.4M527.1,222l-2.8,11.5-5.7,32.2-3.5,17.3-3.7,15.4-3.9,13.1M186.5,92.7l7.3-.3 7.3,.4 7.3,1.1 8,1.8M277.5,120.9l7.9,2.3 6.7,1.4 6.6,.9 6.6,.1 6-.5 6-1.1 6-1.6M393.6,89.7l8.7-2.4 7.3-1.3 7.3-.4 7.3,.3 5.9,1 5.4,1.4M523.8,130.1l11.9,3 10.6,1.7 10.7,.7 7.3-.4 6.6-.9 6.6-1.6M641.3,98.1l7.9-2.7 7.3-1.6 8-1.1M637.3,211.1l-14-4.2-15.2-3.1-18.6-2-27.2-1.4-6,.4-4.7,.8-3.9,1.2M529.1,225.8l-3.2,14-8.6,48.7-5.2,23M186.5,88.9l7.3-.3 7.3,.4 8,1.1 7.3,1.8M277.5,117.8l7.9,2.4 7.3,1.6 7.3,.8 6.7,0 5.9-.6 6-1.3 6.7-2.1M405.6,77.6l7.3-1.6 7.3-.6 6.6,.4 5.3,.9 5.3,1.6M522.4,126.5l12,3.5 11.9,2.1 10.7,.7 6.6-.2 6.6-.9 6.7-1.6M649.2,91.7l8-1.8 7.3-1M637.1,213.5l-13.8-4.3-14.6-3.1-18.6-2-25.2-1.1-6,.3-4.6,.8-4.7,1.4M531.2,229.3l-3.5,16.1-7.3,45.4-3.8,20.7M186.5,84.7l7.3-.3 8,.4 7.3,1.1 7.9,2M278.4,114.8l8.3,2.6 7.3,1.5 7.4,.7 6.6-.2 7-1.1 6.9-1.9M407.6,65l6.6-1.9 6.7-.8 6.6,.3 5.3,1 6,1.9M520.7,122.6l13,4.2 12,2.5 11.9,.8 6.7-.3 6.6-1 6-1.5M649.2,87.6l7.3-1.7 8-1.2M624.7,211.9l-14.6-3.3-18.6-2.2-23.3-.8-5.9,.3-5.3,.8-4.7,1.3M535.8,225.2l-2.7,8.3-2.2,10-2.2,13.1-7.6,54.9M186.5,80.1l7.3-.4 7.3,.4 7.3,1 8,1.9 6.6,2.2M279.4,111.7l8,2.4 8.2,1.6 7.1,.5 7.5-.5 7.8-1.7M413.6,46.4l6.6-1.1 6.6,.2 6,1.2M532.8,123.4l12.9,3 11.9,.9 6.7-.3 6.6-1 6-1.6M648.6,83.3l7.9-2 8-1.2M624.1,214.3l-13.4-3.2-17.9-2.2-21.2-.7-6.7,.3-5.3,.8-4.6,1.2M538.4,227.6l-3.1,9.5-2.6,12.2-2.2,15.2-4.8,47M186.5,74.8l7.3-.4 7.3,.2 8,1.2 7.3,1.8M280.1,108.1l8.6,2.6 8,1.4 7.3,.4 7.3-.8 9.3-2.6M534.4,120.5l11.7,2.9 8.9,.9 8.6-.2 8.6-1.4M648.6,78.3l7.9-2.2 8-1.3M625.3,217.2l-13.9-3.5-8.6-1.4-8.7-.9-19.2-.6-6.7,.3-5.9,.9-4.7,1.2M540.3,231.8l-2.9,9.8-2.5,12.9-2,16-1.4,18-1.1,23M186.5,68.5l8-.6 7.9,.3 8,1.2 8,2.2M288.1,106.3l7.3,1.5 7.3,.5 6.6-.6 4.7-1M362.1,54.4l4.4-14.9M536.4,117.6l5.9,1.7 6,1.2 8.7,.8 7.9-.4 8-1.6M648.6,72.3l7.9-2.3 8-1.5M626,220.2l-13.3-3.7-7.9-1.5-8.7-1-17.9-.6-6.6,.3-6,.8-4.8,1.3M542.6,235.3l-2.9,10.1-2.4,13.4-1.5,15.6-.7,17.3 0,19.8M186.5,60.3l8.6-.9 8.7,.2 7.3,1.1 8.6,2.5M285.9,100.7l7.5,1.9 6.6,.7 6.7-.3 4.6-.9 4.4-1.4M344.1,71.2l2.8-8.7 1.5-11.6-.1-11.4M486.3,39.5l4.8,18.2M539.7,114.9l6,1.6 5.9,1.1 8,.3 7.3-.7 7.3-1.8M656.5,62.2l8-1.9M626,223.1l-12.6-3.8-15.3-2.5-16.6-.7-7.3,.4-6,.8-5.3,1.4M544.9,238.9l-2.8,10.4-2,12.9-1,14.8-.1,16.3 .9,18.2M186.5,48.1l9.3-2 9.3-.4 8.6,1.1 8.7,2.8M289.4,95.4l6.6,1.4 6.7,.2 4-.5 4.6-1.3M332.2,72.6l1.1-4.2 .5-4.4 0-4.7-.5-4.9-1.2-5.3M498.5,39.5l1.8,16.5 3.3,13.8M543.8,112.1l5.8,1.4 6,.7 7.3-.1 6.7-1.2M233.3,311.5l-2.4-7.8M626.7,226.4l-12-3.9-14.6-2.8-15.3-.8-7.3,.3-5.9,.8-4.7,1.2M547.7,241.6l-2.7,10.1-1.8,12.8-.6,15.3 .6,15.2 1.8,16.5M261.8,47.3l-.5,3.6 .3,3.5 1.4,4.9M290.1,86.1l4.6,1.2 4,.3 4-.4 4-1.2M316.8,75.3l1-4.1 .2-4.4-.8-4.3M510.5,39.5l-.7,7.8-.1,7.1 1.4,12.6 1.4,5.6M542.3,107.1l5.4,1.7 5.3,1 5.9,.4 8-.9 7.3-2.2M225.4,311.5l-2-7.8M616,225.9l-6.6-1.7-7.3-1.3-7.3-.8-7.3-.3-6.7,.3-5.9,.8-5.3,1.3M550.5,244.4l-2.7,11.1-1.3,12.6 0,14.5 1.3,14 2.5,14.9M523.1,39.5l-1.8,5.9-1.3,7.2-.5,5.1 0,6.3 .6,5.8 1.2,5.5M549,104l4.6,1 5.3,.4 4.7-.4 4-.8M618.7,45.4l1.8-5.9M217,311.5l-1-5.9-2.2-7.2M617.4,229.6l-6.7-1.9-6.6-1.4-13.3-1.3-6.6,.2-6,.6-4.7,1.1M553.6,247.4l-2.4,10.3-1,12.8 .5,13.5 2,14.4 3.2,13.1M531.1,54.4l-1.2,4.9-.5,4.7 0,5.8 .9,5.5 1.1,3.9M550.3,97.9l4,1 4.6,.4 4.7-.3 4-1M598.3,62.5l1.4-4.8 .9-5.1 .2-5.3-.5-3.8-1-4M208.1,311.5l-.6-5.9-1.2-5.5M613.2,231.8l-6.5-1.6-12.6-1.7-5.9,0-6,.5-5.3,1M557.2,249.3l-1.4,5.2-.9,5.4-.7,11.9 1.1,13.7 2.5,12.9 4.2,13.1M554.8,90l3.5,.6 4-.2 3.9-1M583.2,68.4l.7-4.4-.1-4.7-.8-3.3M573.5,45.7l-3.9-1.1-4.7-.2-4.6,.8M543,60.9l-1.4,4.6-.5,4.3 .5,5.5 1.2,3.9M198.4,311.5l.1-4-.5-5.6-2.1-8.6M616,236.6l-5.9-1.9-6-1.4-6-.8-6-.3-5.3,.2-5.3,.8-4.6,1.4M560.9,252.4l-2,9.8-.4,5.9 .1,6.3 1.7,12.6 3.7,13.1M187.7,311.5l.6-4 .2-5.6-.6-5.3-1.4-5.7M612.9,239.8l-6.2-1.8-5.9-1.2-6-.5-5.3,.2-5.3,.8-4,1.1M565.7,253.4l-1.3,4.3-.9,5.6-.3,6 .3,5.1 .9,6.8 1.3,5.8 1.9,6.3M654.6,307.5l1.3-5.6 .2-5.3-1-6.5-1.9-6.1M607.4,242.9l-6-1.3-6.6-.5-5.3,.4-4.7,1.1M569.8,258.8l-.9,4.5-.3,6 .5,6.4 1.3,6.9 1.9,5.9M643.6,300.1l1.1-5.1 0-4.9-.8-4.6M608.7,249l-5.9-1.5-6-.6-4.7,.4-4.6,1.1M576.1,261l-.9,4.7-.1,6.1 1,6.6 1.8,5.6M611.9,301.9l5.5,0 4.6-1.2M630.8,291.7l.9-4.7-.3-4.4-1.7-5.6M607.4,256.3l-6-1.3-5.3,0-4.6,1.3M584.1,265.7l-.5,3.6 .1,3.8 .8,3.9M608.1,301.2l3.8,.7" fill="none" stroke="#ff0000" stroke-width="1.02"/>
<g stroke="#000" stroke-width="1" stroke-dasharray="1 3"><line x1="226.5" y1="45" x2="226.5" y2="307"/><line x1="266.5" y1="45" x2="266.5" y2="307"/><line x1="306.5" y1="45" x2="306.5" y2="307"/><line x1="345.5" y1="45" x2="345.5" y2="307"/><line x1="385.5" y1="45" x2="385.5" y2="307"/><line x1="425.5" y1="45" x2="425.5" y2="307"/><line x1="465.5" y1="45" x2="465.5" y2="307"/><line x1="505.5" y1="45" x2="505.5" y2="307"/><line x1="545.5" y1="45" x2="545.5" y2="307"/><line x1="584.5" y1="45" x2="584.5" y2="307"/><line x1="624.5" y1="45" x2="624.5" y2="307"/><line x1="188" y1="275.5" x2="664" y2="275.5"/><line x1="188" y1="242.5" x2="664" y2="242.5"/><line x1="188" y1="217.5" x2="664" y2="217.5"/><line x1="188" y1="195.5" x2="664" y2="195.5"/><line x1="188" y1="175.5" x2="664" y2="175.5"/><line x1="188" y1="155.5" x2="664" y2="155.5"/><line x1="188" y1="133.5" x2="664" y2="133.5"/><line x1="188" y1="108.5" x2="664" y2="108.5"/><line x1="188" y1="75.5" x2="664" y2="75.5"/></g>
</g>
<g class="tk"><text x="238.5" y="364.2" textLength="17.7" lengthAdjust="spacingAndGlyphs">180</text><text x="171.3" y="380" textLength="21.6" lengthAdjust="spacingAndGlyphs">-150</text><circle cx="195.3" cy="372.2" r="1"/><text x="300.3" y="380" textLength="17.5" lengthAdjust="spacingAndGlyphs">150</text><circle cx="320.2" cy="372.2" r="1"/><text x="125.3" y="426" textLength="21.3" lengthAdjust="spacingAndGlyphs">-120</text><circle cx="149" cy="418.2" r="1"/><text x="343" y="426" textLength="20.5" lengthAdjust="spacingAndGlyphs">120</text><circle cx="365.9" cy="418.2" r="1"/><text x="111.3" y="487.8" textLength="17.9" lengthAdjust="spacingAndGlyphs">- 90</text><circle cx="131.6" cy="480" r="1"/><text x="365.8" y="488" textLength="11.7" lengthAdjust="spacingAndGlyphs">90</text><circle cx="379.9" cy="480.2" r="1"/><text x="127.3" y="550" textLength="17.9" lengthAdjust="spacingAndGlyphs">- 60</text><circle cx="147.6" cy="542.2" r="1"/><text x="349.9" y="550" textLength="11.9" lengthAdjust="spacingAndGlyphs">60</text><circle cx="364.2" cy="542.2" r="1"/><text x="173.5" y="596" textLength="18.2" lengthAdjust="spacingAndGlyphs">- 30</text><circle cx="194.1" cy="588.2" r="1"/><text x="303.7" y="596" textLength="11.9" lengthAdjust="spacingAndGlyphs">30</text><circle cx="318" cy="588.2" r="1"/><text x="246.9" y="611.8" textLength="5.8" lengthAdjust="spacingAndGlyphs">0</text><text x="611.1" y="363.6" textLength="5.2" lengthAdjust="spacingAndGlyphs">0</text><text x="537.5" y="380" textLength="18.2" lengthAdjust="spacingAndGlyphs">- 30</text><circle cx="558.1" cy="372.2" r="1"/><text x="668.2" y="379.8" textLength="11.4" lengthAdjust="spacingAndGlyphs">30</text><circle cx="682" cy="372" r="1"/><text x="491.3" y="425.9" textLength="17.9" lengthAdjust="spacingAndGlyphs">- 60</text><circle cx="511.6" cy="418.1" r="1"/><text x="714.2" y="425.9" textLength="11.4" lengthAdjust="spacingAndGlyphs">60</text><circle cx="728" cy="418.1" r="1"/><text x="475.3" y="488" textLength="17.9" lengthAdjust="spacingAndGlyphs">- 90</text><circle cx="495.6" cy="480.2" r="1"/><text x="730" y="488" textLength="11.6" lengthAdjust="spacingAndGlyphs">90</text><circle cx="744" cy="480.2" r="1"/><text x="489.6" y="550" textLength="21.1" lengthAdjust="spacingAndGlyphs">-120</text><circle cx="513.1" cy="542.2" r="1"/><text x="710.6" y="550" textLength="17" lengthAdjust="spacingAndGlyphs">120</text><circle cx="730" cy="542.2" r="1"/><text x="535.3" y="596" textLength="21.3" lengthAdjust="spacingAndGlyphs">-150</text><circle cx="559" cy="588.2" r="1"/><text x="664.2" y="596" textLength="17.4" lengthAdjust="spacingAndGlyphs">150</text><circle cx="684" cy="588.2" r="1"/><text x="602.2" y="612" textLength="17.4" lengthAdjust="spacingAndGlyphs">180</text></g>
<circle cx="246.5" cy="484.5" r="119.4" fill="none" stroke="#000" stroke-width="1.4"/>
<g clip-path="url(#nclip2)">
<path d="M229.6,404.1l-.3,1.5-1.5,.2 0,.9-1,.5 .1,.8-.8,.9-.6-.2-.6,1.2 0,.7 1,.4 1.3-1.1 2,3.6 .7,.1-.3,2.2-1,2 .1,1.4-.7,1.1-1.6-.9-.5,1-.6-.1-.7-.8-.3,4-.8-.1-.2,.9-.9-.4 0,1-.8,.8 .2,2.5-1,0 0,.4-2.2-1.8-.2,.8-.4-.2 0,1.1-2-.9-1.2,1.2-.9-.6-2.1,.2-1.1-.8-.5,.6-.9-.1-1.1-.8 .2,2.9-1.1,.7-.8-.2-.3,1.3-2.7-.6-.6,.9-3.1-1.6 .3,2.1-1.2-.5-.9,1.1 .2,1-.8,.1 .4,2.5-1.1-.3-.7,1.4-.9-.2-1.4,.8 0,.7 1.8,2.7 .1,.4-.7,.3 .5,.6-.1,1.1-2.6-1.3-1.5,.2-.5,1 .3,1.7-1.9,0 .4,1.3-.7-.1-.1,.4 .4,.9-.4,2-4.5,0 .4,.6-.9,1.6 .5,1.4-.5,.5-2.6-.3-1.4,.4 .2,.4-2.8-.1 2.1,3.2-1.7,.3-.4,.6 .8,.5 0,1.1 .6,.5-.6,.9 .3,.8-1,.7 .9,1.2-.4,.6-1.4,.2-1.5,.9 1.7,3.1-.9,1.2-2.5,.7-.3,.6 1.2,.8-.4,.2 .3,.8-.5,.2 1.8,1.1-.7,.6 .5,.7-.3,.4 .5,.2 5.5,1.6 1.3,1 3.4,.4-2.9,2.2-6,1.3-.3,1.3-3.3,1.3-2.1,1.4 0,.4 .2,.4 2.1,0 .7,.4-.2,.3 2.6,1.1 2.9,.1-.7,.8 .3,.5 1.5,.4-.6,1.2-4.4,2.1-1.8,.3-2.8-.6-1.5-1-1.7-.4-.5-.8 .6-.8-.8-1 .2-.8 .8-.3-.3-.3-5-.8-1.4-.6 .2-1-.4-.3-3.8-1.5-1.1-.8-.1-1-.9-.3-1.9-2.1-3.1-1.7 .3-1-1.2-.7-2.4-.4-1.6-1-4.3,.2-2.3,1.8-3.6,1.1 0,.7 1.4,.8 0,1.8-3.2,1.9-1.8,2.1-.1,1.2-1.8,.9-.3,.8 .8,.6-.3,.8-.8,.5-.7,1.4 1,1.5-.4,1.5 1.8,.9-1.1,.8 0,.9-1,.9-.2,.9-2,.3-1.6,1-3.9,.4-1.8,.7-3.2,3.5 .9,1.6-.3,1.8 3.9,.2 3.8-.6 1.2-1.2 2-.5 2.8,2.4 1.1-.1 2,1.1 2.4,.1 3.4-.8 3-2.6-.1-.6 1.7-.8 2.5,.5 3.8-1.2 2.8-.1 1.9-.7 .8-1-.2,.7-.9,.8 .4,.2-.1,.4 .9,.4 .2,.7-.7,.3-.1,.8 1.3,.5-.8,1.8 .3,.6-.4,1.4 .3,1.6-.5,1.1-1.5,1.1 0,.5 .7,.3 .1,1-6.4,3.3-.2,.6 .8,.8-.1,.6-1.5,2.4 .7,.1-.2,1.4 2.3,.4 3.5-.6 2.5,.8-.7,.9-3.7,1.8-1.3,1.7-1.1,2.9 .2,1-2.1,2.4 .4,.4-1.8,3.4-1.5,1.3-1.6,6.8-2.2,2.1-.2,3.2-1.6,2.4-1.1-.3-1.3,.5-1.1-1.4-4.6-.9-2.5-1.9-.4-.9 1.1-2.4-1.1-.6 .1-1.2-.9-1.7-3.6-1.3-2,.4-.4-1.1-1.8-1.9-.2-1.2 .9-1.3 .2-1.3-3.3-1-.1-1.5-2.7-2.4-1.2-3.5 2.8,7.4 1.7,2.1 .2,1.3 1.2,1.6 0,2-.7-1.4 5.5,10.6-5.4-10.4-4.5-10.8-3.6-11-2.6-11.1-1.7-11.6-.8-11 .1-11.9 1.2-12.1-1.1,9.9-.3,10.4 .5,10.3 .9,8.7 1.8,9.9 2.3,9.5 3.1,9.4 3.5,8.7 4.1,8.5 5,8.8 5.1,7.7 6.2,8.1 6.5,7.4 6.9,6.8 7.1,6.1 7.8,5.8-9-6.8-8.2-7.3-7.8-8.1-7.3-8.9-7.5-11.2-6.9-12.6-5.5-12.9-4.2-13.5 3,9.9-3.2-10.9-2.2-10.8 1.5,7.9-2.6-15.7-.9-14.9 .4-10.6 1.3-11.9 2.2-11.4 3.1-10.7 6.1-15.7-4.9,12.2 2.4-6.3 4.2-9.4 5-9.1 5.5-8.7-3.3,5 1.6-1.8 1.6,.3 1.5-1.5 2.7,0 .9-.9 4-.8 2.1,.4 1.1-.9 1.8,.5 1.6,1.2 1.8-.3 2.3,.5 1.6-.5 3.8,1.3 1.4,1.3 1.6,.2 .7-.9 1.1,.1 1.8,1.2 2-.1 .5-.5 1.5,.3 1,.8 2.1-.3 1.4,1 3.1,.8 1.4-.9 .1-.5 .6-.1-.1-2.3 3.1,.7 0-.9 .5-.3 1,.3 1.9-.9 1.1,.4 1-1 2,0-.2-.9 .5-1.2 2.2-.4 1.3,.6 .4-.9 2.9-.4 .9-1.8-.3-1.8 1.2-.5-.2-1.1 .7-.7 .3-1.4 1.3,.4 .1-1.7 .5-.5 2.4,4.6-.3,.8-.4-.2-.9,2-.5-2 .6-.2 .2-.8 .6,0 .5-1.3 .6,0 .8-1.1-.5-3.4-1-2.8 1-2.3 .6-.1 .7-2-.2-2.7 .5-1.5 2.3-1.8 .2-1.6 .8-1.6 2.2,.2 .9-.8-.1-.9 1.5-1.6 0-.7 .8-.1 1.7-2.3 1,.2 1.3-1.4-1.3,3-1.1,.1-.5,1.3-.6,.1-1.6,4.6-1.1,.4-.6,1 .4,5-.4,2.3-1.7,1-.8,1.2 .7-1.5 .9-.4 .6,.4 .8-1.4 1.6,.9 .2-.7 .9-.4 .6,.3 1-.4 1.8,1.7 .8,2 1.6-1.5 2,1 4.9,6.5-.8-.1-.7,1.4 .3,2.3-1.4-.5-.3,1-.9,.4-.1,.7-1.1,0-.8,1.5 .2,2.3 1.4,.6 .6-1 .6,.5 .7-.7 1.3,.6 1.5-1.6 1.7,1.4 .8-.5 .5,2 .8,.7 .3-.4zM175.9,558.9l1.5-1.1 2-.1 7.5-4.8 2-.6 1,.1 1.9-1.6 2.1-.9 .6,.4 1.2-.8 0,1.5 .5,.3 3.2-.8 .8,.3 2.5-1.5 .9,.1 .9-1.1 1.3-.2 1.5-1.4 1.6-.5 .8,1.5 1.2-.7-.1,1.3 1.4,1.3 3.1-2.3 .1,.4 .4-.1 .8-.8 .8,.2 0,.5 .4-.4 .6,.5 2.6-2.5 .5,.5 2.4-4.6 .2-2.5 .8-.1 1.9-2.5 .4,.1 1.4-1.5 2.6-4.1 3-10 .7-.4 1.6-3.8 2-3 .1,1.2 1.1-.9-.1,.8 .9-2.6-.3-3.1-1.1,2.3 0-1.3-.5,.1 0-1-1.9,3.4 .5-4.5-1.5,2.1-.6-.4 .1-1.8-.9,.8 1.7-4.9-1.6,.5 .8-2.1-.9,.7 0-.6 1.3-3.1-3.3,2.1 .3-1-3.2,2.2 .7-2-1.8,.7 .6-.8-1,.1 1.2-1.9-2.3,.9 .4-.6-4.2,1.2-.4-.7 1.1-1.2-.6-.5-1.9,.6 .9-1-3,.9-.5-.2 .3-.5-5.1,.7 .3-.5-1.1,.1 0-.4-3.3,.4 .7-.5-.4-.9-2.2,1.1-.4,1.1-1.5,1.2 .3,.2-.7,.5 1,.1 .5-.4-.8-.4 .1-.3-1.4-.3-1.5,1.3 0,.7 .7,.2-1.2,.9 1.7,.4-.4,1 1.8-.2 .1,.5-.9,1.6 .2,.5 1,.2-2,2.2 .7,0 .8,.8-1.3,1.8-3.2,2.9-.6,1.7-1.8,2.3-3.1,2.7-.7,2.9-2.1,.6 .4,.2 0,.8 .9,.1-1.1,2.6-2.7,2.6-1.9,.3 .1-1.5-.7-.4-2.9,1.4-.8,1.8-2,2-1.2,2.7-2.7,2.5-1,2.5-1.6,1.6-.6,2.8-1.4,1.5-.5,1.5 .2,.8 1.4,.6-.9,1.6 .5,.3-.1,1.2 1.1,.5-.9,1.9 .4,.7 .5,0-.2,1.9zM177.1,521.7l-2.8-.8-3.5,.9-1.1-.4 0-.6-.9,.1-3,.7-2.3,2.3 0-1-2.3-.4-.1-.9 1.3-1.7-1.9-1.2-.2-1.2-1.2-.3 0-.4 .9-1.5 1.7-1-.1-.9 1.8-2.4 1.2-4.1-.9-.9-1.2-.2-1.2-1.3 1-.9-.2-.9 1.1,.7 3.3,.5 .8,.6 .1,1.1-.7,1 .7,1.2 3.5-1.9 1.6,.3-.1,.4 1.2,.5 2.3-1.1 .6-.8-.5-.1 0-.7-1.4,0-.5-.4 1.2-.7 1-2 2.5-1.1 .2-1.4 1.6-.8-.8-.5 .4-.4-.4-.5 .4-1.2-.8-.4 1.9-1.6 0-.8-.9-.7 0-1 2.4-1.9-2.2-1.6 .6-.3-.2-.4 1.7-.4 .3-.4-.5-.3 1.1-.6 4.8-.4 2.2,.5 .9,1.2-.4,1.2-.8,.5 1.6,.8-1.2,.9 1,.3-.5,1 1.6,.6-1.2,1.3-2.7,1.3-.2,.5 1.5,.7-.7,.8-1.7,.7 1.5,.2-.3,.8 1,.2-.4,.8 .4,.2-3.9,3.4-.4,1.1 .9,.5-.1,.5-1.3,.8-.2,2.1-2.4,2.9-.3,1.4-2.5,.3-.3,.9-1.4,1.1 .5,.1 .4,2.1 .4,.2-1.6,1.8 1.1,1.1zM203,495.8l-1.2-.4 .1-1-.5-.1 .9-.5-.7-.2 .3-.7-.6-.1 1-1-.5-.1 .3-.3 1.8-1.3-.6-.3 0-.9-1.9-.5 3.1-1.4-3-.9 1-.7-.6-.5 3.9,1.1 .7,.6-.5,.5 .7,.2 3.1-1.2-.9-.3 .8-.4 1.9-.2-.1-.5 2-.4-.3-.2 .5-.1-1.4-.7 2.7,.6-.6,.3 .9,.3-.7-.6 3-.9-1.5,.5 .7,.4-2,.4-.6,.6 6.5,.7-.6,.6 2.1,.5-2.3,2 4,.1-.6,.4 .2,.5 3.8,.1-1.4,1 1,.1-1.7,1.1-.9,1.5 .4,.3-.1,.9 .3,0-.3,.4 .5,0-.3,.3 .8-.2-1.1,1-1.7,.6-2.3,.3 1-.9-.5-.1 .7-.9-7.1,.5-.3-.7 1.3-.6-2.9-.3 .4-.5-.8-.4-.7,0-.3,.3 .5,.2-1.5,.8 .4-.3-.2-.7-.8-.3-1.5,.1-1.8,1.2-.4-.4-1.9,0 1-1.2-1,.6zM195.6,493.5l1.6-1.6-2.7-.9 .9-.6-.3-.5 .6-1-.2-.2 .8-.4 .4-1.3-1.9-.7 1.5-.7-.5-.4 .5-.5-1.8-.6-.1-.5 2.1-1 2.7-.2 .4,.6-1.4,.6 1.9,.9-.3,.3 .6,.2-.2,.7 1.7,.9-.7,.8 1.2,.4-1,.5-.1,.8-.6,.3 1.2,.6-3.7,2 .9,.6-.5,.4zM179.7,471.8l-.4-.7-2-1.3 .1-.6 2.3-1-1.2-.8 .4-1.9-1.1-1 1.4-.4-.6-1.2 .8-.4-1.1-1.2 .2-.3 1.8-.9 3.6-.8-1.3-3 2.1,.1 1.1-1.9 1.5-.1 .4-.5 4.4,1.2-.6,.7 2.7,3-.3,.5-1.2,.1-.4,.4 1.3,1.5-1.1,.4-.3,.6 .5,.6-.3,.1 1,.7-1.2,.3 .5,.6-.2,.5-1.5,.1 2.1,2-2.5,.3 .5,.6-6.7,.6-.5,.2 .4,.7-1.4,.1-.2,1.8zM197.1,449.5l-1.3-.4-.9,.3 .1,.4-.7-.2-.8,.5 .6,2.8 2.4,3.2 .4,1-.6,.5 .6,1 1,.6 .9-.1-.4-.4 .8-.2-.1-.4 1.5,.4 0-.5 1.8-.2 0-.8 2.1,.2-.9-1.1-.3-1.3-4.1-4.1zM198.7,471.1l1-.9-1.3-1.8 1.7-.9-1.6-1.4 .5-.4-1.3-1-.2-.9 .6-.5 1.8,.4 .5-.3-.3-.5 1.9,.1-.4-1.4 3,.9 1.1,1.6 .1,.8-3.2,.9 1.6,1.6-.6,.3 .8,.7-2.7,0-.5,.5 1.6,1.2-.4,.1 .6,.5-.7,.5zM186.8,476.6l-1.6-.5-.4-1.9 2.6-.5 .7-.5-.3-.3 .9-.9 .8,0 .9,0-.3,.4 2.2,1.3-.5,.4 .1,1 1.4,1-.6,.4-.1,.7-1.8,.5zM188,484l.3-.4-1.5-.9 .1-.7-.8-.7-.4-.9 .3-.2 2.2-.8 3.8,.1 1.5,.7 .1,.6 1.3,.6-.5,.3 .5,.3-1.4,.5-1.7,1.5zM198.2,478.6l-1.6-.6-.4-1.3 1-.4 0-.5 2.9-.4-.6-.9 3.1,1.5 0,.4-.9,0 .1,.6-.5,.2 1.5,.5 .2,.7-2.5,.9zM211.3,486.7l1-.7-1.7-.5-.4-.6-2.3-.4 .6-.4-.2-.5-1.3-.3 1.9-.5-.6-.6 5.8-1.1 2.7,.7-.6,.1 1.1,.6-.8,.3 .6,.1-2,.4 2.2,.9-2.3,.4 .3,.3-1.8,.5-.2,.6zM161,498.8l-2.3-1.5 .9-.5 .4-1.2-1.2-.8-.3-1-.8-.3 .4-.5-.1-1.1-.7-.4 2.6-1.8-.3-.6 1.9,.7 2.7,.2-.5,.7 .3,.6 2.1,.9-1,.8 .2,.7-.8,1.2 .3,.3-1.4,1-.2,.8-1.8,.8zM212.8,565.9l2,1.2 1.7-.2 1.1,3 1.2-1 1.3,0 1.4-1 .5,.4 .8-.5 .2,.4 1.5,.2 1.7-2.4 .4,0-.7-.7 .4-3.3-.1-.4-1.2,.2-.8-2.1-2.2,1.6-.4-.3-.8,.4-.2-.6-1.6-.7-1.5,1.4-.1-.6-1.1,.4-.5-1.4 .3-2.1-.8,1-1.3-.1-.9,.9-.1,2.3 1.4,1 .5-.3-.4,.1-.5-1.8-.5,.4-.3-.3-1.1,.8 1,.7 .4,1.8zM232.8,621.8l4.1,.8 1.2-1.2 1.7-.3 1.3-1.7 1.6-.5 1.4,1.3 1.2-1.6 2.9-1.1 1.3,1.2 .5-1.9 .3-4.1-3.1-1.1-.9-3.7-.9-1.4-1.4-.8-.8-3.3-1.7-3.6 0-1.3 1.5-2.3-2.1-1-1.5,.6-.8-.2 1-3 1.1-.4-.9,.3-.8-.9-.9,.8-.5,.1-.4-.6-.9,1.2-.7,1.5-.3,5.1-1.5,3.1 .6,.4 .7-.5 .6,.5 1.4,3.5 1,.1 1.7-1.3-1.1,4 1.2,1.5-1.7-1-.8,1-1,.1 .9,2.3-2.8,3.5 3.5,.2 .8,1.3-1,.7-1.1-.1-2.7,1.6zM232.9,613.9l.8-6.8 .9-1.5-1.1-1-.7-1.8-1.1-.6-.2-.6-.8,0-2.2,3.2-.6-.9-1,.2-.8,1.1-.9,.2 .3,6-1.2,1.6-1.5,.6 1.1,1.7 2.9-1.1 3.1,1.4 1.2-.4 .9-1.4zM232.6,625.9l-9.8-1.3 9.5,1.3 11.2,.6-8.4-.4 7.7,.4-.8-.4-.1-2.2 1.7,1.1 3.4-.3 1.3-2 1.8-.7 .6-3 .9-.9 2-1.4 1,.6 .4-2.1 1.3-1 .8-3 2.5-.6 .9-1.4 2.9-.3 1.6-.8 0-1.8-.9-3.5 .2-1.7-1.7-3.4 .1-1.4 1.4-1.8 1.1,.4 .4-1.6 1-.6-.1,2 .8,1.9 1,.9 .2,1.2-1.5,4.6 3.1,2.4 .6-1.4 1.1-.4 2.3,.2 1.6,.9 2.3-1 .5-1.2 .9,0 .8-.7 1.6,.4 2.9-.9 1.9-2.4 1.2,.1 .2-2.8 1.3-.4 .3-.6-.9-1-1.6-4.2 .7-1.3 .2-1.8 .7,0 1-2 .6-.2 .7,0 .7,1.1 .8,.3-2.2-4.5-2.1-1.4 .9-.7-.3-2.3 .3-.3 1.6,1 .7-1 .8,.1 3.4-1.7 1.2,.2 .3-1.5 .9-.6-.1-.9-1.5-.7-.3,.6-.9,.3-1.3-1-.5,.4-.8-.4-.6,1.2-.8,.5-.1,1.1-.5,0-.4,2.4-1.1,.9-1,0 0,.8-1.8-.3-.9-1.4-2.1-1.6-.8,.3-1.5-3-.5-2.5 .7-.8-.5-3.3 1.5-2.7 .4-1.8-.4-1.8-1.5-1.1-2.6,.1-.5,.7 .2,4-.9,1.8 .1,2.9-.3,.7-1.1,0-.4,.8-.7,3.3 .1,2.5 1,2.7 1.4,1.3 .8-.3 1.5,1.5 .3,2.5-.3,2.2-1.4,.2-.4,1.3 1.3,7.2-1.8,4.5-.6-.3-1.2,.8-1.2-.7-1.4,.6-3.5-8.3-1.1-1.1-.6,0-.3-1.1-1.7-2.3-2.3,5-1.1,0-.4,.6-1-1.1-1-.1-1.7,1.7-1.7-4.3 .1-1.2-1-1.8 .4-1-.8-3.6 .2-3.5 .6-.8 .4,.5 1.3-.6 1.5-2.7 .9,.9 .7-.1 .4-1.9 1.3-1.9 .3-2.2 1-1.7 .2-2.3 1.2-3.9-.1-2.6 .9-1.8 .8-4.4 1.8-3 0-1.4 .7-.2-.1-1.7 .8-.1 0-1.1 1,.8 1.2,.1 .4-1.3 .9-.2 .2-1.9 .9,.4 .3-1.2 .6,.4 .2-.7 1,.1 2.1,1.9 .6-.1 .5-1.2 1.4,.7 1.1-.7 1.2,1.1 1.4,.5 .1-.3 1,.8 .4-.3 0-1.2 1.4,.5 .6-1 3.3,2.3 .5-.5 1,.1 .7-.9-.2-.7 2.4,.4 1.8,1.4-.3,1.4-.8,.3 0,.5 .6,.9 .1,2-.5,.3-3.4-1.2-.5,.3 .8,3-.7,.5 2.6,3.7 .2-.4 1.2,.3 .7-.6 1.8,.4-.1-.8 .5-.2-.7-1.8 1.7-.4-.4-.8 .5-.7 .5,0-1-4.1 .5-.8 0-1.9 .3,0-2.3-2.6-1.7-2.6-.4-1.5 1-.3 1.3,.6 .2-1.3 2.3,0 .5-1 1-.5-.9-2.4 1.9,.4 .7-.4-.3-1.6 .5,0-1-1.3 .1-1.6 2.2-1.1-.1-2.3 .8-.3-.6-.9 .7-.5 .1-.7 .5-.1-1.5-1.5-.6-1.8 .5-.5 2.2,0 .6-.4 .5-1.5-.4-.6 .1-1 1.5-.2 .4-1.2-7.6-4.1-1.9-2-.2-1-1.9-1.5 .5-.4-.8-.7 2.1-.2-.1-.4 4.6,.8 2.8,1.6 1.1,0 .4-.5 5.6,.8 1.7,.7 1.1,1 .1,.5 .8,.2 1.4-1 0-.6-3-1.9-3.4-.6-.1,.4-.8,.2-2.1-.3-3.3-1.4-4.3-2.9-.4-1.1 2.4-.8-.4-.4 .7-.5-1.2-.6-.1-.5 .6-.3-1.1-.5-.1-.4-2.8-.6-1.3-1.2-.2-.3 .7-.1-.1-.9 1.6-1-1.3-.8 1.1-.8-.4-.5-1-.5-2.4,.4-2.1-.7 .2-1.3 .9-.2-4.4-1.6 .3-.3-.3-1 1.2-.4-1.1-.4 .6-.3-.4-1.3-1.5-.4-.3-.6-1.4-.2 1.6-1.6-1.5-.3-.7-.9 1.3-1.2-.6-.2 .1-.4-3.9-.4 .9-1 .1-.7 1.5-.8 1.5-1.6-.4-.7-2-.1 .2-.7 2.3-1.8-.6-1 6.4-1.3 .6,.5-.4,1.7 1.4,.2 .9-.9-.9-.2 0-.8 1.7-1.3-.3-.6-1.9-.2-.3-.6-2.1,0 .9-2 1.2-1.1 .4-1.2-.8-.5 .3-.4-.8,0 .4-.4-.5-.4 .3-.4-1.3-.2 .4-.5-1.2,.2 0-.6-.5,0 .6-1.2-.5,.1-.2-.7 .8-1.4-3.3,.4 1.2-1.5-.7-.1 .7-1.3-.4,.2-.2-.6 2.2-2.6 1.4-2.6-.1-1.2-1.6,.8-1.9-.1-.6-.9 .9-2.5-.8,.2-.3-.6-1.4,.6-.1-.4-1-.2 .1-.7-1.5,.8 .6-1.5-.4,.3-.1-.6-2.5,2-.7-1-1.4,1-.1-.4-1,.3 0-.6-.5,.2 .2-1.8-1.3,.9-.7-2.1 .2-1-1-.6-.4-1.6-.6,.1-.4-5.1-1.3,.8-.5-.2-.1-.7-1.2,.5-.2-1.3-1.1,.4 0-.9-.5-.1 0-1.5-1.7,.4-.5,.6-.7-.9-.1-5-1.1-.8-.2-2.2-1.3,.8-2.1,2.6-.5-.2-1.2,.6-1-5.9-1.9-.2-1.1,.9-.3-.3-1.1,2.8-.5-1.9-.5,.5-.5-.6-1.5,1.5-1.1-1.7-1.9,.6-.5,1.3-.4-.5-.7,.4-1.2-2.1-1,.2-.7-1.6 0-12.1 2.6-3.7 .4-.2 2.2,1.6 .3-1.4-.1-1.4-1.3-.3-.8-1.8-.8-.4-.2-2.4-1-1.2 2.8,1.1 1.2-1.5 .9,.6 .3-.4 .9,.6 .6-.2 1.5-1.9 .8,.2 1.1-1.7 1.2-.3 .3-.6 .7,.5 1.2-.2 2.4-3.2 .5,1.8 1.5,.1 1.5,2 1-.2 1.5-2.6 2.2-.1 1.1,1.2 .4-.4 1.1,1.6 2.5-.9 3.2-5.4-.9-.9-.7,0-.4-.5 .2-.8 3.3-5.8 1.2-1.1 .9,0 .3-3 1.1-.6 2.6,1.1 1.7-1.5 .9-2.6 3.7-1.6 2.3-2.5 3.3-.2-.5,1.6-1.1,1.2 .4,1.3-2.6,7.5-.1,2.8-2,4.3-.3,1.8-1.6,1.2-1.4-.2-1.7,1.2-1.5-.1-1.3,.8-1.9,.2-2.5,2.4-1.9,2.8-.5,.2-.8-.6-.4,.5-1-.2-1,1-.6-.3-2,.9-.2,2.8 1.1,.7 .9-.5 .2,.7 1,.6 1.9-.9 .7-1.7 1.1-.7 .6-.2 .7,1.9 1.1-1 2.7-.5 2.3-1.1 .3,.3 3.7-1.8 0,.6 1.3,.8 0,.5 1.1,.3 2.1-.5 .5,1-.2,2.6 3.1,.4 .2,1.6 .6,1 1.3-.3 1.6,.3 1.8-.6 1.2,.9 1.1-.5 1,2.6 1,0 .9,.6 .1,.7 2.2-1 2.2-.1 .8,.3 1.3-.8 2.8,1 3.3-.9 2.4,.3 1.3-.7 1,.2 2.9-.6 1.3-.8 .2-3-2.6-2.4 .2-1.7-1.8,.2-2-1.8 .4-3.3-.5-1.3 1.4-.9 .8-1.5 1.9-.6 1.7-1.3 1.1-2.1 2-1.2 1.8-2.7 .7-.1 8.4,7.5 7.8,8.2 10.8,13.9 8.5,14.3-6.2-10.7 5.8,9.9 5,10.4 3.3,8.5 2.9,9.1-2-6.4 3.4,11.6 3,17.1 .9,17.6-1.2,16.4-3.2,17.2-4.7,15-6.1,13.8-7.8,13.5-8.8,12.2-4.7,5.5 9.3-11.6 7.9-12-5.4,8.6-6.7,8.9-6.1,7.2-7.9,7.9-10.2,8.6-10.6,7.4 4.5-3-8.5,5.4-9.4,5.1 8.9-4.7 7.9-5 7.3-5.3 8.3-6.8-13.4,10.6-10.6,6.7-11.1,5.8-14.8,5.9-14.7,4 14.8-4.1-9,2.7-12.2,2.6-12.5,1.6-12.6,.5zM246.5,414.1l-.7-1.3-.4,.3-.4-.5-.4,.6-.8-.2-1.3,.9-.4-.7-.5,.1-1.6-3.1-.5-.2-1.8,.4-1.3-2.6-.7,.6-2.2-1-1.2-2.1 1.9-3.5 .9,0 .6,.6 .3-3.2 .7-.7 1.9,.2 .3-.6 1.2,.9 .3-.4 1,1.6 0,.9 1.5,.4 .7,.9 1.8-1.1 .5,.8 .6-.1 .1,3.4-.8,3.5 0,2.5zM334,372.5l-5.2-3.8 1.5,1.1 .6,1.8-.5,2.3-3.3,3.8-4.1,3-.3,2-1.8,2.3-.5,2.4 1.3,.1 1.3-2.3 1.6,.4 3.9-5.6 1.6-1 1.4-2 .4-2.2 1.8-2.3 .8,.5zM294.9,523l.9-.5 2,.7-.4-1 .5,0 .2-.7-2.4-3.5-2.7-2.1-1.1-2.1-4.1-3.6 .6-1.8-1.7-1.5 .1-.5 2.2-.4-2.2-2.3 .4,0 0-1 1.7-.2-1.8-2 .4,.6-.4,.2 .2,.3-.9-.2-.3,1 1.3,1.8-1.2-.2-.8,.7-.9,0 2,2.3-.6,.1 1,1.2-.3,.4 .3,.5-.6,0 0,.6 .4,1.1 1.7,1.7 .1,1.6 2.1,2 1.1,2.1 2,2.3-.2,.3zM253.8,522.1l.5,.5 .2-.4 1.1,1.3 .4-.6 .4,.6 .2-.3 .3,.3 1.7,3.3 .5,0 .1-2.1 .6-.9-.3-1.5 .8,.8 .3-.4-.5-2.1 .4-.5 .4,.2 0-1 .4-.2-.5-1.8 .1-1.3 .3-.1-.2-1.7 .6,.2-3-3.4 .7,2.5-1-.4 .2,3.1-2.6-2.5-.1,4.5-1.2-.2-.5,.8-.5-.8zM257.6,517.6l.4-.4 .6,.9 .3-1.5 1.7,1.7 .1-.7 .7-.3 .4-1.4-.3-2.5-.9-.9-.6,.4 .3,.9-1.2-1.2 .1,1.3-.7-.8-.7-.2 .3,1.8-.3-.1-.1,.7-.5-.7-.2,.4zM270.6,506.9l2.9,1.5-.3-.7 .5,0-1.9-3.2 2.1,.9 0-.5 .6,0 2,.8-2.4-2.8-.2-1 .6-.1-.5-.4 .8,0-1.8-1.7 1.4-.2-.5-.6 .5-.4-1.5-1.4 1,1-.4,.6 .7,.4-2.4-.8-.3,.4-2.1-.8-1.5,0 .5,1.3 1.2,1.1-.9-.1-.5,.4 .3,.4-.4-.1 .7,1.1-.7,.7 1.5,2-.9-.4-.2,.4zM283,482.6l2.9-2-1.4-.6 .2-.4-.5-.1 .1-.3-3.5-.7 1.3-1.6-1.6-.3-4.9,3.2 1.2,.2-.6,.9 3.5,0 .3,.6-.3,.7zM282.4,447.3l.1-.3-.8,0-1,.7-.8,0 .8-1.4 .3-4.8-2.8,1.4-.1-1.1-.8,.3 .5,.7-1.2,2.8-.9,4.4 1.6-.6-.2,1.1 1.2-.4zM274.5,443.8l.6-1.6-.3-.8-.6,0 .2-.5-2.5,1.9-.1-.6-.6,.5 .1-1.4-.9,0 .4,3.6 .4-.1 .5,1.1zM248.1,422.6l-.4,.4-1-1.3-.2,.2 0-.6 .8-.7 .7,.7zM246.5,421.9l-.4-.6-.4,.4-.8-1.5-.2,.4-.4-.3-.5,1.4 1-2.1 1.7,1.7zM233.7,397l-.4,.7-1.8-.7-.5,.4-2-1.4 .9-1.2 .9,0 1.6,.6zM199,384l-.9,2.9-2.8-.6-.3,.5 .7-.4 .1-2.8 .9-1.4 1.4,.3zM217.2,362.3l-1.6,2.7 .7-1.3 3.2-.8-1.2-1.1zM279.8,441.9l.1-.8-.7-.1 .7-1.6 .1,1.8 1.2-.5 0,1-.9,.4-.1-.3zM235.1,577.5l.7,1.1-.6,.5-.6-.3zM190.6,524.4l-.2,.7 .4,.3 2.5-.1 .2-.5-1.1-1.1 .4-.9zM299,530.9l.7,.1 .3-.6-.5-1.1 .4,1.6zM303,519.2l2.1-.1-.3-1.5 .7,1-.4,.4-.9-.3zM285.2,477.7l-1.3-.1-.4-.9-1.3-.4 1.8-.9-.4,.5 .5,.4 1.9,.2-1.3,.8zM153.3,496.8l.5-.5-.1-1 .7-.5 .9,1-.1,.8 1,.9-1.7,.7zM153.1,500.1l.3,.5-.3,.5-1.1,.9zM120.7,502.6l1,1.9-1.3-.3-.7-.7zM173.7,500.6l.6,.8-1.1,1.5 2.2-1.1-.4-.7zM191.6,494.2l1.7,.2 .7,.7-2,1.1-1.1,1.6-.4-.2 1-.8 .1-.9 1.6-1.1zM197.2,481.5l.3-.3-1-.9 1.3-.4 .1-.4 1.8,.9-1.9,.7 1.2,.4-.1,.5zM174.8,476.3l1-.9 .8,0-.8-.8 .4-.6 1.1-.3 1.7,.1 1.5,1.4-.7,1.4-2.7,1-1.3-1.1zM209.2,470.2l.4-.3-.5-.5 .7-.4 .9,.3 .6,1zM205.4,465.4l-.8-.9 .9-.4-3-2.4 .9-.5-.1-.5 4.7,.2-.1-.7 .4,0 2.8,3.4-1.7-.1-.1,.5-1.3,.4 .9,1.1-.3,.2zM206.9,479.6l1-.1-.4-.2 1.3-.8-2.3-1.4 3.4-.3-1.4-1.4 .5-.2 2.3,1.4-1.1,.3 1,.7-.6,.1-.6,.6-2.2,0 1.3,.9-.3,.5 .7,.3zM162.6,405.7l-1.4-.2-.6,.8-2.7-1.3-.6-1.3 .5-.8 3,0 1,2.2zM171.7,406.2l-.2,1.5-.5,.5-2.4-.6-3.8-4.2 1.4-.1 3.4,1.7 1.4-.1zM169.9,408.5l-1.2-.3-.6,.6-2.3-2.2 .7-.3 1.7,.5zM165.5,406.3l-1.9,1.5-1.6-1 .1-.7 1.6-1zM156.9,400.6l-.7,1.6-1.9,.2-3-1.6-1.3-1.4-.5-1.6 4.4,.7zM215.1,367.4l-1-.2-2.3,1.5 2-2.1zM220.3,363.5l-3.3,1.1 .2-2.3zM222.5,360.8l-1.1,1.3-1.4-.1 .5-2zM235.2,355.6l-3.4,0 1.5-1.3zM263.1,358.1l-1.5,.3-1.3-1 2-1.3zM223.9,386.7l-.2,.4-1.1-.4-1.1,.9-.2-2.1 .7-1 1.1,.2zM198.3,389.2l-1.2-.3-.9,.6 .5-.4 0-1.1zM192.8,399.2l-.3,.3-1.5-.4 0-.8 .4-.3z" fill="#fff77e"/>
<path d="M177.9,435.6l-.4,2.3-1.1,.3-.6,1 .5,1.9 1.1,1.7 .1,1.6-.7,.7 .8-.5 2.5,.1 .6-1-.5-1.8 .5-.7 0-1.1zM158.9,439.9l-.6,.4 0,.7 .2,.8-.4,1.3 .5,.8-.9,1.1-.1,1.8-.5,.6 .4,1.6 1.9,2.1 2.8-1.6 .4-1-.4-2.4 .4-.5-1.5-2.2 0-1.5zM375,452.9l-.5-2.9-1.5-1.9-1.3-.7-1.8-.2-1.3-.7-5.4-.1-3.8-1.9-2.9,.4 1.6,1 .1,.6 3.2,1.3 4.2,.3 1.2,.5 .6,.9 1.6,.1zM297.4,572.7l.5-1.3 .6-.1 .7-1.1 .7,0 .2-1.6-.9-2.4-1-.1-.6,.6-1.9-.4 .1,2.8z" fill="#fff"/>
<path d="M229.2,413.5l.3-.3 .4,.4M225.3,420.3l-.7-.8M222.4,424.9l-.8,.8M216,427.6l-1.2,1.2M175.7,468.9l.8,.8M174.4,474.5l.8,.8M161.2,487.3l-.4-.3M154.9,483.4l-1.9-2.1M129.8,490.4l-.4,.4M118.8,502.9l-3.2,3.5M123.9,509.4l1.2-1.2M143.4,506.4l.4,.4M147.6,522l.8,.8M142.4,550.5l-2.2,2.1M120.6,545.4l-1.8-1.9M116.3,537.2l-2.7-2.4M136.9,574.9l6.5,7.4 6.9,6.8M156.2,594.2l-8.2-7.3-7.8-8.1M126.4,408.6l1.6-1.8M129.6,407.1l1.5-1.5M133.8,405.6l.9-.9M154.8,406.1l1.4,1.3M179.6,406l.4-.5M182.6,405.5l1-1M193.3,397.7l.5-.5M194.3,396.1l.7-.7M196.7,392.7l.5-.5M197.8,393.6l1,1.1M201.4,380.7l.5-.5M208.2,372.7l1.5-1.6M213.2,368.2l1.3-1.4M212.5,383.6l1.8,1.7M215.1,387.3l1.6-1.5M220.9,390l2.1,2M220.6,402.4l.7-.7M222.6,402.3l1.5-1.6M181.8,556.4l1.2-1.2M210.8,548.3l1.4,1.3M213.7,548.8l1.6-1.5M215.8,547.6l.8-.8M218.4,547.6l2.6-2.5M224.9,538.4l1.1-1M227.2,536l1.4-1.5M222.6,499l1.1-1.2-.6-.5M221.2,497.9l.9-1M212.7,497.3l.3-.3M206.5,500.2l.5-.4M206.4,505.9l-2,2.2M205.1,508.1l.8,.8M204.6,510.7l-3.2,2.9M193.3,527.5l-2.7,2.6M184.4,531.7l-2,2M182,534.6l.2,.2M181.2,536.4l-2.7,2.5M177.5,541.4l-1.6,1.6M175.3,545.8l-1.4,1.5M174.9,551l-.8,.8M175.4,558.3l.5,.6M165.8,521.6l-2.3,2.3M161.6,513.4l1.1-1.1M162.8,511.5l.6-.5M162.5,505.8l-1.2-1.3 1-.9M179.8,497.5l.4-.4M181.8,490.1l1-1.1-.9-1M192.8,491.6l-1.2,1.3M190,499.1l-.8,.9M186.2,503.1l-.5,.5M184.8,507.3l.2,.2M203,495.8l-.5-.5M201.8,491.7l.3-.3M206.5,486.6l-.5,.5M211.6,485.2l-.3-.3M214.8,484.3l-.6,.6M220.7,485.6l-.6,.6M225.6,495.2l-1.1,1M220.5,497.1l1-.9M211.6,493.2l-.3,.3M206.4,494.5l-.4-.4M196.3,485.6l-.5-.4M201.9,486.6l-.7,.8M178.9,465.5l-1.1-1M179.4,462.5l-1.1-1.2M191.5,455.8l2.7,3M192.7,459.4l-.4,.4M191,465.2l2.1,2M194.1,452.9l1.3,1.3M195.3,454.9l1.2,1.2M199.7,470.2l-1.3-1.3M200.1,467.5l-1.6-1.4M202.1,462.6l-.7-.6M204.4,462.7l1.3,1.4M203.6,467.7l.8,.7M202.4,470.2l.6,.5M188.1,473.2l-.3-.3 .9-.9M186.2,481l-.5-.6 .3-.2M208.9,482.8l-.6-.6M213.7,485.7l-.4,.3M217.6,569.9l1.2-1M226.6,566l-.7-.7M225.2,562.1l-.2-.3M222,561.3l-.4-.3M219,560.1l-1.5,1.4M216.1,557.8l-.8,1-.3-.3M214,558.7l-.9,.9M213.5,561.3l-.3-.3M236.9,622.6l1.2-1.2M239,590.6l-.9,.8M239.9,610l-.8-.8M250.7,619l.9-.9M267.3,596.6l1,.9M288.8,577.5l.3-.3M293.9,572l-.5,.4M275.6,578.4l1.4,1.3M277.8,579.4l1.5,1.5M277.5,598.4l-.5,.4M269.1,590.9l-1.1-1.1M259.6,590.8l-1.7,1.7M258.9,573.5l.9,.9M282.1,541.2l1.2,1.1M297,555l.7-.6M301.3,543.3l-2.3-2.6M307.8,521.3l-1.5-1.5M305.7,518l.5-.5M309.5,515.6l-.4-.6M300,503.6l-.8-.7M305.8,497.4l-.4-.4M301.4,493.6l-1.3-1.2M289.8,479.2l1.6-1.6M290,474.6l-.3-.3M286.1,474.2l.9-1M296,464.5l.6,.5M297.6,466.9l.9-.9M295.5,461.3l-.3-.2M295.6,460.3l1.2-1.1M277.3,431.2l-.5-.4M266.9,417l-.7,.7M259.5,414.6l-1.1,.9M256.5,416.1l-.5,.5M264.5,385.9l.4-.5M271.9,384.8l1.1,1.2 .4-.4M280.2,380.9l-.9-.9M287.8,369.3l1.7-1.5M294.1,363.6l2.3-2.5M299.2,362.5l-1.1,1.2M294.4,378.9l-.6,.7M284.1,384.5l-2.5,2.4M277,389.6l-1,1M274,391.2l-.2-.3M287.5,391.3l.3,.3M327.7,391.8l-2-1.8M337,375l8.4,7.5 7.8,8.2M351.1,580.7l-7.9,7.9M245.4,413.1l-.4-.5M244.2,413.4l-.4-.4M235.1,401.8l.6,.6M241.4,401.1l.4,.4M288.4,508.4l-1.7-1.5M289,506l-2.2-2.3M288.9,502.5l-1.8-2M286.2,504l-.8,.7M286.9,508.3l-.3,.4M286.7,510.9l1.7,1.7M288.5,514.2l2.1,2M291.7,518.3l2,2.3M253.8,522.1l.5,.5M256.6,523.2l.3,.3M259.5,522.3l.8,.8M260.1,520.6l.4-.5M258.5,516.2l-2.6-2.5M258.9,516.6l1.7,1.7M261.5,513.4l-.9-.9M276.5,505.7l-2-1.9M274.8,503.6l-.7-.7M274.5,501.8l-.5-.4M274.8,501.4l-1.8-1.7M273.9,498.9l.5-.4-1.5-1.4 1,1M271.8,498.3l.2,.2M268.4,499.2l1.2,1.1M268.8,502l-.7,.7M268.5,504.7l2.1,2.2M285.3,481.1l.6-.5M280.3,476.9l.2-.3M248.1,422.6l-.4,.4M247.3,420.6l.7,.7M246.1,421.3l-.4,.4M232.1,397.5l-.6-.5M217.2,362.3l-1,1.1M219.5,362.9l-1.2-1.1M193.5,524.8l-1.1-1.1M153.3,496.8l.5-.5M154.4,494.8l.9,1M155.2,496.6l1,.9M120.4,504.2l-.7-.7M176.6,475.4l-.8-.8M205.4,465.4l-.8-.9M208,464.4l.9,1.1M209.9,476.8l-1.4-1.4M168.7,408.2l-.6,.6-2.3-2.2M168.2,406.8l1.7,1.7M214.1,367.2l-.7,.7M212.5,368l-.7,.7 2-2.1M192.8,399.2l-.3,.3M176.6,440.9l-.3,.2M177.5,444.4l-.7,.7M157.6,446.8l-.5,.6M161.1,441.9l-2.2-2M298.2,566.1l-.6,.6" fill="none" stroke="#989aa4" stroke-width="0.77"/><path d="M226.9,408l-.8,.9M225.9,411l1.3-1.1M220.8,428.6l-2.2-1.8M210.7,427.6l-.5,.6M208.2,427.3l-.3,.3M198.9,432.3l-.9,1.1M197.6,434.2l-.2,.3M196.7,436.7l-.8,1M184.2,454.2l-.5,.5M177.9,460.8l.6,.5M177.2,463.7l.9,1.2M174.8,466.6l.6,.5M175.2,475.3l-.7,.6M175,476.6l-.3,.4M173.8,488.9l-.2,.3M166.9,492.9l.6-.8-.8-1M162.4,488.9l-.4-.4M140.7,476.7l-2.3,1.8M134.8,479.6l.3,.4M133,484.8l-1.8,2.1M129,489.8l.8,.6M129.3,498.7l-1,.9M127.1,507.7l2.8,2.4M155,504.6l-.9,.8M155.1,506.8l.4,.3M151.2,530.6l-1.3,1.7M149,536.2l-2.1,2.4 .4,.4M145.5,542.4l-1.5,1.3M115.2,538.7l1.7,2.1M117.1,542.1l1.2,1.6M130.7,566.8l6.2,8.1M150.3,589.1l7.1,6.1M165.2,601l-9-6.8M140.2,578.8l-7.3-8.9M140.8,404.3l1.1-.9M143.7,403.9l1.6,1.2M165.4,407.7l1,.8M168.5,408.2l1.4,1M200,395.1l.8-1.1M201.9,379.2l2.3-1.8M207.4,374.4l.9-.8M223.6,393.3l-.5-.4M218.6,399.1l-.8,.9M220,401.9l.6,.5M227.9,404.3l.3-.4M185.3,554.3l1.6-1.4M189.9,552.4l1.9-1.6M203.6,549.4l.9-1.1M205.8,548.1l1.5-1.4M217.4,547.5l.4-.4M221,545.1l.5,.5M238.6,514.4l1.1-.9M235.2,507.5l-.9,.8M235.3,503.4l-.5,.7M235.2,501.8l-.9,.7M228.3,500.8l.6-.8M227.9,500.1l1.3-1.6M209.7,497.4l.7-.5M207.4,498.2l-1.5,1.2M206.2,499.6l-.7,.5M204.9,498.8l-1.5,1.3M201.7,513.7l-1,1.2M200.8,515.3l-1.8,2.3-3.1,2.7M161.1,521.6l1.3-1.7M164.6,506.9l-.9-.9M166.5,503.9l.8,.6M174.6,504.4l-.5-.4M180.2,497.1l-.4-.5M179.4,495l1.9-1.6M181.3,492.6l-.9-.7M191.9,488.8l-1.2,.9M190.2,495.4l-.7,.8M189.4,497.6l-.4,.3M185,507.5l-2.4,2.9M179.5,513l-1.4,1.1M179,517.3l-1.2,1 1.1,1.1-1.8,2.3M201.8,495.4l.2-.3M201.3,492.8l1-1M203,489.1l.3-.2M201.5,486.1l1-.7-.6-.5M205.8,486l.7,.6M215.3,484.5l-.7-.6M224.9,494.7l-.3,.4M225.1,495.1l-.3,.3M221.9,495.4l-.2-.2M220.4,495.6l-.4-.5M212.7,494.1l.4-.5M210.3,494.5l.4-.3M204.1,494.1l1-1.2M195.6,493.5l1-.8M195.7,488.9l-.2-.2M195.8,485.2l.5-.5M199.2,482.4l.4,.6M200.1,484.5l-.3,.3M177.8,470.5l-.5-.7M187.3,454.4l.4-.5M192.3,459.8l1.3,1.5M192.2,464l.5,.6M190.6,467.5l.5,.6M198.8,459.1l-.4-.4M204.5,457.2l-.9-1.1M203.3,454.8l-2.3-1.9-1.8-2.2M199,465.7l-1.3-1M197.5,463.8l.6-.5M201.7,468.4l-.5,.5M188,484l.3-.4M186.9,482l-.8-.7M207.9,484.5l.6-.4M157.7,493.5l.4-.5M164.8,495.2l-1.4,1M213,561.9l1.4,1M213.2,561l-1.1,.8M212.5,561.7l.6,.8M242.7,618.9l1.4,1.3M248.2,617.5l1.3,1.2M239.8,591.5l-.8-.9M237.2,590.9l-.9,1.2M235.3,598.7l-.5,.5M235.1,601.7l.6,.5M238.1,605.8l1.7-1.3M238.7,608.5l1.2,1.5M238.2,609l-.8,1M237.3,612.4l-2.8,3.5M234.6,605.6l-1.1-1M255,615.2l1.3-1M262.7,596.3l1.4-1.8M267,603.3l3.1,2.4M279.4,602.8l.8-.7M284.7,601.6l1.9-2.4M289.6,595.5l-.9-1M292.5,586.4l-.6-.8M288.2,580.5l.9-.7M295.2,573l-1.3-1M285.4,577.2l-2.1-1.6M280.5,570.4l.7-.8M282.2,560l-1.5-1.1M280.3,558.6l-.7,.6M279.3,585.6l-.4,.3M278.4,585.5l-.5,.3M269.7,544.1l1,.8M277.3,541.2l1.2,1.3M281,541.9l.5-.4M284.8,542.5l1,.8M291.5,543.6l.5-.5M293,543.2l.7-.9M293.7,550.9l-.7,.5M298.8,539.9l-1.5-1.8M305.1,530.1l-1-1.3M308.4,517.5l.6-.4M309.1,515l.3-.2M304.6,509.4l-1.1-.9M303.6,508.2l-2-1.7M301.4,505.5l-1.9-1.5 .5-.4M317.4,505.7l1.1,1M292.7,484.1l.3-.3M289.9,477.3l-.7-.9 1.3-1.2M289.5,467.3l.7-.5-.4-.5M294.7,462.3l.8-1M295.9,457.1l.4-.4-.5-.4M290.9,452l1.2-1.5M291.5,448.7l2.2-2.6M294.2,444.6l.9-1.1M291.5,443l-.6-.9M286.9,437.5l-2.5,2M270.1,425.2l-.5,.6-.7-.9M266.2,417.7l-2.1,2.6M260.5,414.6l-.2,.3M258.4,415.5l-.3-.3M257,416.6l-.5-.5M250.5,417.7l-.4-.5M248.8,392l-1-1.2 .4,.5M250.6,391.9l1.2-1.5M252.7,391l.3-.4M262.9,384.5l.8-.7M264.2,385.6l.3,.3M265.7,385.7l1.5,2M277,386.3l.7-.6M279.5,381.5l.7-.6M278.6,380l-.4-.5M279.2,376.8l.9-.8M281.7,372.9l1.2-1.1M278.4,389.3l-.4,.5M276.4,395.5l1-.8M281.4,393.9l1.1-1M304.9,397.5l1.2,.9M331.9,395.7l-.9-.7M353.2,390.7l5.9,7.2M356.8,574.1l-4.7,5.5 9.3-11.6M357.2,573.5l-6.1,7.2M343.2,588.6l-10.2,8.6M333.1,597.1l8.3-6.8-6.5,5.4M245.8,412.8l-.4,.3M241.9,413.6l-.3-.3M236.4,407.8l-.7,.6M234.2,401.8l.3,.3M238.9,398.1l1.2,.9M242.9,401.5l.7,.9M245.9,402.1l.3-.4 .3,.3M330.4,373.9l-3.3,3.8M322.7,382.7l-1.8,2.3M331.9,374.8l1.8-2.3M334.5,373l-.5-.5M295.7,518l-2.7-2.1M291.9,513.8l-3-2.3-1.1-1.3M287.1,501.3l.2,.3M286.5,501.9l-.4,.5M285.2,505.9l1.3,1.1M285.9,507.1l1,1.2M293.7,520.6l-.2,.3M254.5,522.2l1.1,1.3M260.3,523.1l.3-.4M261.6,514.4l-3-3.4M257.6,517.6l.4-.4M259.2,513.9l-.7-.8M257.7,515.3l-.5-.7M274.4,499.5l-.5-.6M273.5,498.7l.7,.4M268.2,500.6l.3,.4M279.9,477l.2,.3M271.5,441.6l-.2-.3M271.7,445.9l2.8-2.1M246.7,421.7l-.2,.2M246.5,421.3l.8-.7M244.8,419.6l1.1,1.5M231.5,397l-.5,.4M232.4,395.4l1.3,1.6M198.9,385.1l-.9,1.1M195.8,383.6l.8-.7M235.8,578.6l-.6,.5M190.4,525.1l.4,.3M304.8,517.6l.7,1M284.7,477.3l.5,.4M153.1,500.1l.3,.5M153.1,501.1l-1.1,.9M119.7,503.5l1-.9M193.3,494.4l.7,.7M190.5,497.6l1-.8M197.2,481.5l.3-.3M209.6,469.9l-.5-.5M205.5,464.1l-3-2.4M208.3,460.2l2.8,3.4M210.6,477.7l-.6,.6M161.8,405.1l.8,.6M171.5,407.7l-.5,.5M168.6,407.6l-3-3.8M165.5,406.3l-.7,.9M151.3,400.8l-1.3-1.4M222.5,360.8l-1.1,1.3M231.8,355.6l1.5-1.3M261.6,358.4l-1.3-1M222.6,386.7l-1.1,.9M196.2,389.5l.5-.4M191.4,398l1.4,1.2M180.2,441.9l.5-.7M158.6,443.9l-.9,1.1M157.5,449l1.5,1.2M374.5,450l-1.5-1.9" fill="none" stroke="#989aa4" stroke-width="0.82"/><path d="M228.7,419.2l-.7,1.1M214.8,428.8l-.9-.6M211.8,428.4l-1.1-.8M209.3,428.1l-1.1-.8M203.5,431.4l-.6,.9M193.7,439.4l1.8,2.7M194.9,442.8l.5,.6M184.2,450.6l.4,.6M177.1,455.1l2.1,3.2M178.5,461.3l-.6,.9M178.2,463l-1,.7M178.1,464.9l-.4,.6M176.3,465.7l-1.5,.9M176.5,469.7l-.4,.2M176.3,470.3l-.7,.6M172.8,472.2l1.2,.8M174.5,475.9l.5,.7M185.4,480.2l-2.9,2.2M172.9,486.3l-2.1,1.4M170.8,488.1l.2,.4M173.1,488.5l.7,.4M179.2,490.7l-.8,.5M170.6,495.1l-1.5-1M167.7,490l-.3-.3M157,485.5l-1.1-.8M146.6,477.5l-1.6-1M135.1,480l-.3,.3M129.5,491.2l-.8,.5M128,493.1l1,1.5M130.4,497l-1.1,.8M139,509.8l2.8-2M154.4,504.9l.7-.5M154.1,505.4l.4,.2M155.2,510.5l.3,.6M154.9,515.2l-1.5,1.1M155.6,527.9l-.7,.9M140,555.8l-1.6,2.4M136,558.4l-1.1-1.4M130.3,556.1l-.6-.8M118.6,542.3l.9-1.3M125.6,559.1l5.1,7.7M157.4,595.2l7.8,5.8M132.9,569.9l-7.5-11.2M124.2,412.3l5.5-8.7-3.3,5M157.8,407.6l.7-.9M159.6,406.8l1.8,1.2M180.6,405.8l.9-.7M210.5,370.3l1.7-2.3M206,385.6l-.8,1.2M206.8,384.9l.6,.4M216.7,385.8l1.4,.9M218.7,386.8l2.2,3.2M223.1,392.9l-.3,.3M222.4,396.9l-.8-.5M225.3,401.3l.5,.8 .8-.5M227.5,403.6l.4,.7M175.9,558.9l1.5-1.1M192.7,550.7l1.2-.8 .6,.4 1.2-.8M195.7,551l.5,.3M217.8,547.1l.6,.5M224.1,538.5l.2,.3M228.6,534.5l2.6-4.1M236.5,516.2l.3-.4M237.2,507.6l-1.5,2.1-.6-.4M235.6,498.8l-3.3,2.1M232.6,499.9l-3.2,2.2M204.1,501l-1.2,.9M203.8,501.8l-.2,.3M205.9,508.9l-1.3,1.8M195.7,522.4l-.5,.8M174.1,551.8l.5,.3M167.4,505.6l-.7,1M175.9,506l.6-.8M180.6,498l-.8-.5M182.7,486.3l.3-.4-.5-.3M190.6,485.1l.9,1.2M188,501.3l-1.9,1.2M186.5,504.6l-1.3,.8M202,495.1l-.4-.2 .3-.5M202.1,491.4l1.8-1.3M211.3,484.9l.2-.2M213.5,484.3l-.3-.2M222.2,486.7l-2.2,1.6M223.9,488.8l-.6,.4M227.3,489.8l-1.4,1M226.9,490.9l-1.7,1.1M224.3,493.5l.4,.3M221,496.1l.9-.7M194.5,491l.9-.6-.3-.5 .6-1M198.2,492l.9,.6M179.7,468.2l-1.2-.8 .4-.6-.5-.3M178.3,461.3l.2-.3M192.1,455.1l-.6,.7M192.2,462.3l.5,.6M192.4,463l1,.7M196.3,457.6l.6,1M201.4,462l.2-.4M203.1,466.8l1.1,.6M201.2,468.9l1.6,1.2M203,470.7l-.7,.5M190.4,472l-.3,.4 2.2,1.3 .1,.3M191.9,475.1l1.4,1M190.8,477.7l-.7-.5M188.3,483.6l-1.5-.9M194.4,481.7l.5,.3M193.6,482.8l-1.8,1.2M200.1,475.4l-.6-.9M215,484.6l.3,.3M213.5,485.4l.2,.3M160,495.6l-1.2-.8-.5-.7 .2-.3M157.3,491.5l2.6-1.8M164.2,490l-.5,.7M166.1,492.2l-1,.8M165.3,493.7l-.8,1.2 .3,.3M220.1,568.9l1.4-1 .5,.4 .8-.5M224.5,568.4l1.7-2.4M224.2,559.7l-2.2,1.6M220.2,560.9l-1.2-.8M215,558.5l-.4,.3M214,560.9l-.5,.4M239.8,621.1l1.3-1.7M244.1,620.2l1.2-1.6M246.3,607.9l-.9-1.4M241.5,597.5l1.5-2.3M237.6,591.5l-.4-.6M234.4,602.2l.7-.5M236.4,604.6l.7,1.1M238,616.1l.8,1.3-1,.7M230.7,601.6l-2.2,3.2-.6-.9M226.9,604.1l-.8,1.1M225.5,611.4l-1.2,1.6M222.8,613.6l1.1,1.7M226.8,614.2l2,1.2M231.1,615.2l.9-1.4M241.9,623.9l1.7,1.1M247,624.7l1.3-2M251.6,618.1l2-1.4M265.6,593.3l1-.6M291.4,583.7l-1.1-1.8-2.1-1.4M290.7,578.2l.7-1M289.7,577.3l-.6,.8M288.6,577.8l-.5,.3M286.6,578.4l-.3,.2M278.9,585.9l-.5-.4M276.4,598.5l-1.2,.8M267.1,588.7l-1.7-2.3M264.8,588.3l-.5,.3M255.1,577.1l.6-.8 .4,.5 .9-.8M260.9,572.4l1.3-1.9M285.8,543.3l.4-.3M287.6,542.3l.6-1 3.3,2.3M295.9,542l1.8,1.4M296.6,545.6l.6,.9M297.3,548.5l-.5,.3M293.4,547.6l-.5,.3M293,551.4l2.6,3.7 .2-.4M300.5,550.8l.5-.7M300.9,546.8l-.4-.8M305.1,527.1l.3-.6M307.1,523.5l-.6-.9 .7-.5M319.4,507.4l1.4-1M320.8,505.8l-3-1.9M308.1,502.2l-4.3-2.9M300.5,491.1l1.6-1-1.3-.8M289.2,470.7l.9-.6M297.6,465l1.7-1.3M296.7,458.6l.5-.6-.8-.5 .3-.4M294.8,455.7l.4-.5M295.3,442.8l-.3-.5M284.4,439.5l-.7-1-1.4,1M280.9,437.2l-1.3,.9M276.7,427.8l-1.3,.8M268.8,419.9l-1.1-.8M263.6,420.1l-.3,.5M262.4,420.7l-.3-.5M254.5,416.8l-.5,.7-1.1-1.7M246.5,402l2.6-3.7M249.8,394.8l-.8-.4M251.8,390.4l.9,.6M253,390.6l.9,.6M256.8,389.3l1.1-1.7M259.4,386.7l.7,.5M273.4,385.6l1.1,1.6M293.5,381.4l-1.6,1.2M290.5,382.4l-.4,.6M287.3,383.5l-1.3,.8M281.6,386.9l-1.9,2.8M279.2,389.9l-.8-.6M276,390.6l-.6-.3-1.4,.9M273.8,390.9l-.4,.3M273.2,394l1.1,.7M275.4,394.9l1,.6M279,392.9l1.1-.7M280.7,392l.6,1M291.5,390.4l1.3,.8M299.6,397.1l.6,1M315.4,401l1.3-.8M325.6,385.4l1.4-.9M329.7,382.4l1.7-1.3M332.5,379l2-1.2 1.8-2.7M359.1,397.9l4.9,6.7M365.6,561.9l-8.8,12.2M361.4,568l7.9-12-5.4,8.6-6.7,8.9M333,597.2l-10.6,7.4 4.5-3-8.5,5.4M317.9,607.4l7.9-5 7.3-5.3M334.9,595.7l-6.9,5.2-10.6,6.7M242.5,413.9l-.4-.7-.2,.4M235.7,408.4l-1.4-.9M240.1,399l.3-.4M243.6,402.4l1.8-1.1 .5,.8M334,372.5l-5.2-3.8 1.5,1.1M327.1,377.7l-4.1,3M324.6,385.6l3.9-5.6 1.6-1 1.4-2M294.9,523l.9-.5M298.1,521.5l-2.4-3.5M287.1,500.5l.4,.6M286.1,502.4l1.3,1.8M286.6,508.7l.3,.5M293.5,520.9l1.4,2.1M256,522.9l.4,.6M260.5,520.1l.4,.2M255.1,518.4l-.5-.4-.5,.8M259.9,513.7l-.8-1.1M271.7,507.2l1.8,1.2M274.1,502.9l.3-.3-.5-.7M268.7,500.2l-.5,.4M268.1,500.9l.7,1.1M268.1,502.7l1.5,2M280.8,478.5l.9-.7M276.8,480l-.5,.3M281.7,447l-1,.7M277.3,442.1l.5,.7M277.1,450.5l1.1-.7M278.3,450.1l4.1-2.8M274.4,440.9l-2.5,1.9M271.8,442.2l-.6,.5M270.5,443.7l.4,.2M247.7,423l-1-1.3M244.7,420.6l-.4-.3M231,397.4l-2-1.4 .9-1.2M192.8,522.8l-2.2,1.6M283.9,477.6l-.5-.3M282.2,476.3l1.4-1.1M284,475.4l-.4,.5 .5,.4M286,476.5l-1.3,.8M153.7,495.3l.7-.5M153.8,497.1l-.5-.3M173.7,500.6l.6,.8-1.1,1.5M192,496.2l-1.1,1.6M191.6,495.9l1.6-1.1M180.4,475.8l-.7,.5 .1,.3M177.9,477l-.8,.6M209.2,470.2l.4-.3M210.7,469.3l.6,1M208.8,478.5l-2.3-1.4M209,475.2l2.3,1.4M207.8,478.3l1.3,.9M166.3,406.6l.2-.3M164,407.3l-.4,.5M162.1,406.1l1.6-1 1.8,1.2M153.9,398.5l3,2.1M233.3,354.3l1.9,1.3M260.3,357.4l2-1.3M221.3,385.5l.7-1M197.1,388.9l-.9,.6M196.7,388l1.6,1.2M176.3,441.1l1.1,1.7M158.9,439.9l-.6,.4M160.8,450.6l1.4-1.1M162.2,446.1l.4-.5-1.5-2.2M361.1,445.6l-1.7-1.1M356.5,444.9l1.6,1M366.8,448.6l.6,.9M369,449.6l2.2,1.4M372.8,451.4l2.2,1.5" fill="none" stroke="#989aa4" stroke-width="0.87"/><path d="M227.8,406.7l-1,.5M227.2,409.9l2,3.6M228,420.3l-1.6-.9M202.9,432.3l-3.1-1.6M195.1,437.9l-1.4,.8M195.3,444.5l-2.6-1.3M191.2,443.4l-.5,1M184.6,451.2l-.9,1.6M179.7,454.8l.2,.4M177.5,458.6l-.4,.6 .8,.5M176.1,469.9l.2,.4M174,473l-.4,.2M174.7,477l.5,.2M180.7,478.8l1.3,.6M180.5,482.5l-1.1,.6M179.1,490.4l.1,.3M178.4,491.2l.3,.5M180.2,492.1l-.6,1.2M167.4,493.7l-.5-.8M160.8,487l-2.7-1.4M153,481.3l-3.1-1.7M150.2,478.6l-1.2-.7M136.4,478.9l-1.6,.7M134.8,480.3l1.4,.8M136.2,482.9l-3.2,1.9M131.1,488.1l-1.8,.9M128.7,491.7l-.7,1.4M128.6,496.1l1.8,.9M126.1,500.8l-1.6,1M115.6,506.4l.9,1.6M131,510l2,1.1M155.3,506.4l-.2,.4M155.5,507.1l-.7,.3M151.6,519.1l-3.8,2.3M148.3,523.4l-1.5,2.4M154.9,528.8l-3.7,1.8M147.3,539l-1.8,3.4M129.7,555.3l-1.9-1.1M128.5,550.9l-1.1-.6M127.5,549.1l-.9-1.7M117.6,544.3l5.5,10.6-5.4-10.4M120.6,550.3l5,8.8M125.4,558.7l-6.9-12.6M119.2,421.4l5-9.1M173,410l1.4-.9M178.1,406l.5-.3M189.4,402.6l.4-.9M192.7,401.3l.9-1.8M204.4,375.8l.8-1.6M208.3,376.3l-.6,1M207.7,384.6l-1.7,1M207.4,385.3l.8-1.4 1.6,.9M210,384.1l.9-.4 .6,.3M218,402.3l1.4,.6 .6-1M224.1,400.7l1.2,.6M179.4,557.7l2.4-1.3M200.2,550.8l2.5-1.5M204.5,548.3l.8-.4M208.9,546.2l.8,1.5 1.2-.7M212.2,549.6l1.5-.8M221.5,545.6l2.4-4.6M224.3,538.8l.6-.4M226,537.4l.8-1.5M236.9,516.1l1.6-2.9M240.2,508.6l-1.1,2.3M238.6,508.7l-1.9,3.4M235.9,503.1l-.6,.3M234.7,503.7l-.3,.2M229.4,502.1l.8-1.6M229.8,500.6l.3-.5M229.2,498.5l-.1-.3M226.8,499.1l.4-.6M219.1,497.8l-.5-.2 .3-.5M213.8,497.8l.3-.5M210,496l-2.2,1.1M205.9,499.4l.3,.2M207,499.8l-.8-.4M206.1,503.6l-.9,1.6M195.9,520.3l-.3,.5M193.1,523.8l.4,.2M188.8,528.9l-.7-.4M182.4,533.7l-.4,.9M182.2,534.8l-1,1.6M174.5,553.3l1.1,.5M174.7,555.7l.4,.7M162.4,519.9l-1.9-1.2M159.1,516.8l.9-1.5 1.7-1M162.1,502.7l1.1,.7M166.7,506.6l.7,1.2 3.5-1.9M174.1,504l1.2-.7 1-2M180.2,495.4l-.8-.4M180.4,490.9l1.4-.8M180.6,487.4l.6-.3-.2-.4M182.5,485.6l1.1-.6M191.1,487.5l-.8,.5 1.6,.8M191.7,490l-.5,1M191.6,492.9l-2.7,1.3M190,495l.2,.4M190,498.1l-.4,.8 .4,.2M185.7,503.6l.9,.5M201.4,494.3l.9-.5M215,483.9l-.6,.3M216.1,483.5l.7,.4M224.8,493.2l-.5,.3M214.6,495.7l-.3-.7 1.3-.6M211.8,493.7l-1.5,.8M208.2,493.3l-.3,.5M205.1,492.9l-1,.6-1.1,2.3M195.5,488.7l.8-.4M194.4,483.6l2.1-1M200.2,485.7l1.7,.9M202.4,487.8l-1,.5M201.3,489.1l-.6,.3 1.2,.6-3.7,2M199.1,492.6l-.5,.4M179.7,471.8l-.4-.7M178.4,466.5l.5-1M178.6,462.9l.8-.4M178.5,461l1.8-.9M184.7,456.4l1.1-1.9M193.6,461.3l-.2,.3M192.7,462.9l-.3,.1M183.9,468.9l.4,.7M194.3,449.6l-.8,.5M196.9,458.6l1,.6M199.2,450.7l-2.1-1.2M198.7,471.1l.4-.3M198.4,468.4l1.7-.9M198.5,466.1l-.1-.3M199.9,463.7l.5-.3-.3-.5M204.6,462.5l.1,.2M202.6,465.8l.5,1M187.4,473.7l.7-.5M193.3,476.1l-.6,.4M186.1,481.3l.1-.3M194.9,481.4l-.5,.3M158.7,497.3l.9-.5M158,491.9l-.7-.4M163.7,490.7l.3,.6M212.8,565.9l2,1.2M222.8,567.8l.2,.4M226.2,561.6l-1,.5M214.4,562.9l.5-.3M245.4,606.5l-1.4-.8M243,595.2l-.3-.5M242,594.8l-1.1-.6M233.8,601.8l.6,.4M236.7,618l-2.7,1.6-1.2,2.2M233.7,607.1l.9-1.5M232.8,602.8l-1.1-.6M242.8,626.5l-.8-.4M253.6,616.7l1,.6M259.6,610.6l.9-1.4M263.4,608.9l1.6-.8M264.3,601.1l-1.7-3.4M270.1,605.7l.6-1.4M274.1,604.1l1.6,.9M287.1,590.3l.7-1.3M291,585l.7,1.1M289.1,577.2l1.6,1M292.2,577.3l3.4-1.7M293.4,572.4l-.8-.4M292,573.2l-.8,.5M289.1,578.1l-.5-.3M286.3,578.6l-.9-1.4M282.5,575.9l-1.5-3M280.7,566.3l1.5-2.7M280.7,558.9l-.4-.3M276.7,569.1l-.5,.2M275.6,569.1l-.4,.8M274.9,572.4l-.4,.8M277,598.8l-.6-.3M275.2,599.3l-1.2-.7M262,591.4l-.4,.6M256.3,587l-1-1.8M257.4,576.2l1.5-2.7M262.5,568.3l1-1.7M264.8,557.8l.9-1.8M274.6,540.8l.6,.4M276.4,540.6l.9,.6M278.5,542.5l.2-.3M279.6,541.2l1.4,.7M299.4,554l.5-.2M300.5,546l.5-.8M302.2,534.6l1-.5-.8-1.4M304.2,532.1l.7-.4M311.1,512.6l-3.6-2.2M305.8,503.1l2.8,1.6M303.4,498.2l1.4-.7M305.4,497l.7-.5-1.2-.6M304.8,495.4l.6-.3M300.1,492.4l-.2-.3M301.9,488.5l-.5-.3 .1-.2M287.1,472.5l1.5-.8 .6-1M290.1,470.1l-.4-.7M287.9,468.6l1.7-1M297.1,462.9l-.3-.6M295.2,461.1l.4-.8M295.8,456.3l.3-.4M293.5,454.8l.6-1.2M293.4,453l.8-1.4M291.4,450.4l.7-1.3M291,439.8l-.3-.6-1.4,.6M288.3,438.5l-1.5,.8M287.4,437.8l-.4,.3M279.1,435l-1-.6M275.3,428.3l-.4,.1M256,416.6l-.5-.6-.5,.9M250.1,417.2l-.7,.4-1.2-2.1M249.5,398.1l.3,.6M251.4,399.2l.3,.5M254.5,391l.7-.4 .8-1.5M259.1,387.3l.3-.6M268.2,387.5l1.5-2.6M280.1,376l1.6-3.1M284.1,368.8l1.1-.6M290.4,365.2l2.5-1.4M297.6,360.8l.9,.5M273.4,391.2l-.3,.5M274.3,394.7l.9-.5M285.2,392.4l2.3-1.1M287.8,391.6l3.7-1.8M296,391.5l.5,1M306.1,398.4l1.1-.5 .9,1.6M309.2,400.5l.3,.6M324.4,400.2l.8,.4 1.3-.7M330.4,399.5l1.3-.8M331,395l-.6-1.1-1.1-.6M327,384.5l.8-1.5M331.4,381.1l1.1-2.1M364,404.6l8.5,14.3-6.2-10.7 5.8,9.9M373.4,548.4l-7.8,13.5M318.4,607l-9.4,5.1 8.9-4.7M317.4,607.6l-11.1,5.8M246.5,414.1l-.7-1.3M245,412.6l-.4,.6M241.6,413.3l-1.6-3.1-.5-.2M237.7,410.4l-1.3-2.6M233.5,407.4l-1.2-2.1 1.9-3.5M234.5,402.1l.6-.3M238.6,398.7l.3-.6M240.4,398.6l1,1.6M246.6,405.4l-.5,1.1M321.7,387.5l1.3-2.3M333.7,372.5l.8,.5M293,515.9l-1.1-2.1M287.8,510.2l.4-.6-.3-.5M284.5,504.7l.7,1.2M290.6,516.2l1.1,2.1M255.6,523.5l.4-.6M256.4,523.5l.2-.3M256.9,523.5l1.7,3.3M259.2,524.7l.6-.9M260.9,519.3l.4-.2M254.1,518.8l-.5-.8M258,517.2l.6,.9M260.6,512.5l-.6,.4M273.7,507.7l-1.9-3.2M274.5,503.8l.3-.2M273.9,498.1l-.4,.6M284.5,480l.2-.4M281.6,477.2l.5-.3M280.5,476.6l-.6,.4M280.1,477.3l-4.5,2.5M276.3,480.3l.4,.3-.5,.3M279.7,480.9l.3,.6-.3,.7M279.9,447.7l.8-1.4M281,441.5l-2.8,1.4M246.5,421.9l-.4-.6M245.7,421.7l-.8-1.5M243.8,421.7l1-2.1M233.7,397l-.4,.7M195.3,386.3l-.3,.5 .7-.4M198.1,382.5l.9,1.5M215.6,365l.7-1.3M235.1,577.5l.7,1.1M153.4,500.6l-.3,.5M152,502l1.1-1.9M120.7,502.6l1,1.9M173.2,502.9l2.2-1.1-.4-.7M194,495.1l-2,1.1M197.5,481.2l-1.1-.6M175.8,474.6l.4-.6M179,473.8l.3,.7 1.2,.7M177.1,477.2l-1.3-.7M209.1,469.4l.7-.4M202.5,461.7l.9-.5M208.9,465.5l-.3,.2M207.5,479.3l1.3-.8M209.1,479.2l-.3,.5M160.6,406.3l-2.7-1.3M157.3,403.7l.5-.8M165.6,403.8l-.8-.4M166.2,403.3l3.4,1.7M171,404.9l.7,1.3M163.6,407.8l-1.6-1M154.3,402.4l-3-1.6M213.8,366.6l1.3,.8M223.9,386.7l-.2,.4M191,398.3l.4-.3M177.9,435.6l-.4,.7M176.4,438.2l-.6,1M176.8,445.1l.8-.5M180.1,444.7l.6-1M180.7,440.1l-2.8-4.5M158.1,443.1l.5,.8M162.6,448.5l-.4-.7M373,448.1l-1.3-.7M369.9,447.2l-1.3-.7M298.5,571.3l.7-1.1" fill="none" stroke="#989aa4" stroke-width="0.92"/><path d="M225.5,408.7l-.6,1.2M229.6,415.8l-1,2M226.4,419.4l-.5,1M223.3,424.3l-.9-.4M218.4,427.6l-.4-.2M218,428.5l-2-.9M207.3,430.9l-.8-.2M200.1,432.8l-1.2-.5M198.2,434.4l-.6-.2M188.7,447.7l.4,.9M181.1,454.4l-1.4,.4M177.9,462.2l.3,.8M173.1,471.6l-.3,.6M173.6,473.2l.3,.8-.5,.2M176.2,485l-3.3,1.3M173.6,489.2l2.6,1.1M179.6,493.3l-4.4,2.1M166.9,490.3l.8-.3M155.8,483.7l-.9-.3M129.3,489l-.3,.8M129.4,490.8l.1,.4M120.6,502.2l-1.8,.7M138.8,510.4l.2-.6M141.7,507.2l1.7-.8M152.5,505.6l1.9-.7M154.5,505.6l-.1,.4 .9,.4M154.7,508.2l1.3,.5-.8,1.8M155.4,514.1l-.5,1.1M153.4,516.8l.7,.3M154.2,518.1l-2.6,1M149.9,532.3l-1.1,2.9M137.3,557.9l-1.3,.5M127.8,554.2l-.4-.9 1.1-2.4M126.6,547.4l-3.6-1.3M121,546.5l-.4-1.1M113.6,534.8l-1.2-3.5 2.8,7.4M118.3,545.7l-.7-1.4M117.7,544.5l-4.5-10.8M113,533.1l3.5,8.7 4.1,8.5M118.5,546.1l-5.5-12.9M111.4,440.6l2.9-8 3.2-7.7-4.9,12.2 2.4-6.3 4.2-9.4M151,404.8l3.8,1.3M171.7,409.4l1.3,.6M178.6,405.7l1,.3M180,405.5l.6,.3M181.5,405.1l1.1,.4M185.4,403.6l.5-1.2M188.1,402l1.3,.6M197.2,392.2l.6,1.4M198.8,394.7l.8,2.1-.3,.8-.4-.2-.9,2M198.9,396.4l.5-1.3M200.3,390.6l-1-2.8 1-2.3M200.9,385.4l.7-2M206.3,374l1.1,.4M214.5,366.8l-1.3,3M212.1,369.9l-.5,1.3M211,371.3l-1.6,4.6-1.1,.4M205.2,386.8l.7-1.5 .9-.4M211.5,384l1-.4M214.3,385.3l.8,2M223,392l.6,1.3M222.8,393.2l-.7,1.4M220.7,397.4l-.9,.4M221.3,401.7l1.3,.6M183,555.2l2.3-.9M205.3,547.9l.5,.2M207.3,546.7l1.6-.5M215.4,547.7l.4-.1M234.2,520.4l.7-.4 1.6-3.8M236.8,515.8l.1,.3M239.6,514.3l.9-2.6M234.3,508.3l1.7-4.9-.1-.3M234.4,503.9l.8-2.1M234.3,501.9l1.3-3.1M232.3,500.9l.3-1M230.1,500.1l-1.8,.7M229.1,498.2l-2.3,.9M227.2,498.5l-2.3,.9M224.5,499.5l-.1-.4-1.4,.6-.4-.7M210.4,496.9l-.4-.9M207.8,497.1l-.4,1.1M206.2,499.4l.1-.3M204.6,502.3l-.4,1M206,503.1l.1,.5M205.2,505.2l.2,.5M194.4,524.9l-1.1,2.6M188.1,528.5l-2.9,1.4-.8,1.8M178.5,538.9l-1,2.5M173.9,547.3l-.5,1.5M173.6,549.6l1.4,.6M175.6,553.8l-.9,1.9M172.5,506.2l-.1,.4 1.2,.5 2.3-1.1M176.3,501.3l2.5-1.1M179,498.8l1.6-.8M179.8,496.6l.4-1.2M181.9,488l-1.3-.6M191.2,491l1.6,.6M189.5,496.2l-1.7,.7M189.2,500l-1,.5M179.8,512.1l-.3,.9M178.1,514.1l.5,.1M179.4,516.5l-.4,.8M201.6,493.6l.3-.7M203.9,490.1l-.6-.3M203.4,489.2l-.4-.1M201.4,488.4l3.1-1.4M206.7,487.3l3.1-1.2-.9-.3 .8-.4M213.7,484l-1.4-.7M214.4,484.2l.9,.3M217.6,483l-1.5,.5M223.3,489.2l.2,.5M225.2,492l-.4,1.2M224.5,496.2l-1.7,.6M212.2,493.4l.1-.2M211.3,493.5l.5,.2M210.5,493.5l-.8-.3M207.9,493.8l-1.5,.7M196.5,492.2l.7-.3-2.7-.9M196.7,487l-1.9-.7 1.5-.7M199.6,483l-1.4,.6 1.9,.9M200.4,485l-.2,.7M179.3,471.1l-1.5-.6M177.4,469.2l2.3-1M179.2,464.1l-.6-1.2M183.9,459.3l-1.3-3M194.2,458.8l-.3,.5M192.5,461.7l-.3,.6M192.7,464.6l-.2,.5M184.4,468.7l-.5,.2M197.1,449.5l-1.3-.4-.9,.3M196.5,456.1l.4,1M202.4,457.8l-.3-.7 .3-.1M199.1,470.8l-.2-.3 .8-.3M202,463l.1-.4M202.8,470.1l-.4,.1M186.8,476.6l-1.6-.5M186,480.2l2.2-.8M192,479.5l1.5,.7M193.6,480.8l1.3,.6M198.2,478.6l-1.6-.6M196.2,476.7l1-.4M199.5,474.5l3.1,1.5M201.8,477l-.5,.2M203,478.4l-2.5,.9M210.6,485.1l-.4-.2M208.5,484.1l-.2-.5M216.2,481.9l1.1,.6-.8,.3M215.1,483.3l2.2,.9M161,498.8l-1.4-.6-.3-.8M159.6,496.8l.4-1.2M158.5,493.8l-.8-.3M159.9,489.7l-.3-.6 1.9,.7M164,491.3l2.1,.9M165.1,493l.2,.7M163.2,497l-1.8,.8-.4,1M216.5,566.9l1.1,3M226.3,562l-.1-.4M225,561.8l-.8-2.1M221.6,561l-.8,.4M217.4,560.9l-1.1,.4M213.5,564.3l-.7,1.6M245.3,618.6l2.9-1.1M250.3,612.7l-3.1-1.1M243.2,602.4l-1.7-3.6M240.9,594.2l-1.5,.6M238.6,594.6l1-3 1.1-.4-.9,.3M236.3,592.1l-.7,1.5M234.8,599.2l-1,2.6M236.4,610.1l.9,2.3M233.5,604.6l-.7-1.8M224.3,613l-1.5,.6M223.9,615.3l2.9-1.1M229.9,615.6l1.2-.4M248.3,622.7l1.8-.7M264.1,594.5l1.1,.4M266.5,594.7l.8,1.9M270.7,604.3l1.1-.4M275.7,605l2.3-1 .5-1.2M288,596.5l1.3-.4 .3-.6M288.7,594.5l-1.6-4.2M288.7,587.2l1-2M291.7,586.1l.8,.3M297.7,574.3l.3-.6M297.9,572.8l-1.5-.7-.3,.6-.9,.3M292.6,572l-.6,1.2M288.1,578.9l-1.5-.5M283.3,575.6l-.8,.3M277.8,563.7l-.9,1.8M277,568.4l-.3,.7M276.2,569.3l-.6-.2M274.6,575.7l1,2.7M277,579.7l.8-.3M277.9,585.8l-.4,1.3M278,589.8l-.2,.5M274,598.6l-1.4,.6-3.5-8.3M264.3,588.6l-1.2,2.8M261.6,592l-.6-.2-.4-.9M257.9,592.5l-1.7-4.3M255.3,585.2l.4-1M257,576l.4,.2M263.7,564.3l1.2-3.9M267.3,550.5l.6-1.9M273.4,541.6l.9,.4M278.7,542.2l.4,.2 .5-1.2M281.5,541.5l.5,.2M283.3,542.3l1.4,.5 .1-.3M297.4,544.8l-.8,.3M296.8,548.8l-3.4-1.2M299.9,553.8l-.7-1.8M300.9,551.6l-.4-.8M301.5,550.1l-.6-1.9M296.9,536.6l1-.3 1.3,.6M301.7,535.6l.5-1M305.4,526.5l1-.4M306.3,523.8l.8-.3M309,517.1l.5-1.5M307.5,510.4l-2.9-1M303.5,508.5l.1-.3M309.7,504.7l-.1-.4M315.7,505l1.7,.7M311.4,503.6l-3.3-1.4M303.8,499.3l-.4-1.1M304.9,495.9l-.1-.5M305.4,495.1l-1.1-.5M301,488.9l.9-.4M301.5,488l-1-.5M298.1,487.9l-2.1-.7M297.1,485.7l-3.2-1.5M293,483.8l-.3-.1M292.7,482.8l1.2-.4-1.1-.4 .6-.3-.3-.1M291.5,480l-.3-.6M289.9,475l.1-.4M289.6,467.6l-.1-.3M289.8,466.3l.2-.4M294.2,451.6l-.4-.2M291.7,449.3l-.2-.6M295,442.3l-1.6,.8M290.9,442.1l.9-2.5M289.3,439.8l-.1-.4M286.8,439.3l.6-1.5M279.6,438.1l-.7-2.1M278.1,433.6l-.6-.3M275.4,428.6l-.1-.3M274.8,427.7l-1.2,.5M273.4,426.9l-1.1,.4M264.1,420.3l-.5-.2M260.3,414.9l-.8-.3M258.1,415.2l-1.1,2.8M252.9,415.8l-1.9,.6-.5,1.3M247.2,415.7l-.7-1.6M249.1,398.3l.4-.2M250.6,396.6l-.8-1.8M261.3,387l.3-.7 .8-.3M264.9,385.4l.8,.3M269.7,384.9l.7,.2M274.5,387.2l2.5-.9M277.7,385.7l1.8-4.2M278.4,378.7l.8-1.9M285.2,368.2l2.6,1.1M289.5,367.8l.9-2.6M299.7,360.9l-.5,1.6M298.1,363.7l.4,1.3-2.6,7.5M295.8,375.3l-1.4,3.6M290.1,383l-1.3,.6M279.7,389.7l-.5,.2M278.3,394.6l.7-1.7M292.8,391.7l1.1,.3M310.2,401.8l2.2-1M314.6,400.7l.8,.3M316.7,400.2l2.8,1M326.1,386.7l-.5-1.3M372.1,418.1l5,10.4 3.3,8.5M379.5,534.6l-6.1,13.8M306.3,613.4l-14.8,5.9M244.6,413.2l-.4,.2M242.7,413.5l-.2,.4M236.4,399.1l.3-.6M330.3,369.8l.6,1.8M295.8,522.5l2,.7-.4-1M297.9,522.2l.2-.7M288.8,506.3l.2-.3M287.9,502.9l1-.4M287.5,501.1l-.4,.2M286.3,509.8l.4,1.1M288.4,513.8l.1,.4M254.3,522.6l.2-.4M261,514.2l.6,.2M259.3,513.5l-1-.4M255.8,518.2l-.6-.2M260.7,517.6l.7-.3M260,512.9l.3,.9M257.2,514.6l-.2,.4M273.5,508.4l-.3-.7M271.8,504.5l2.1,.9M274.5,504.9l2,.8M274.2,499.1l-2.4-.8M271.5,498.7l-2.1-.8M267.9,497.9l.5,1.3M269.6,504.7l-.9-.4-.2,.4M283,482.6l.9-.4M285.9,480.6l-1.4-.6M278.1,441.8l-.8,.3M277.8,442.8l-1.2,2.8M275.7,450l1.6-.6M274.5,443.8l.6-1.6-.3-.8M270.4,441.3l.4,1.1M271.2,444.8l.5,1.1M244.9,420.2l-.2,.4M244.3,420.3l-.5,1.4M230.8,394.8l1.6,.6M198.1,386.9l-.4,.1M216.2,363.4l-.6,1.6M218.3,361.8l-1.1,.5M279.2,441l.7-1.6M280,441.2l1.2-.5M281.2,441.7l-.9,.4M235.2,579.1l-.6-.3 .5-1.3M193.3,525.3l.2-.5M192.4,523.7l.4-.9M299.6,530.7l.4-.3-.5-1.1M305.1,519l-.9-.3-1.2,.5M283.5,476.7l-1.3-.4M283.6,475.2l.4,.2M156.2,497.5l-1.7,.7M175,501.1l-1.3-.5M190.9,497.8l-.4-.2M193.2,494.8l-1.6-.6M198.4,479.9l1.3,.5-1.9,.7 1.2,.4M174.8,476.3l.7-.2 .3-.7M204.6,464.5l.9-.4M203.4,461.2l-.1-.5M207.9,479.5l-.4-.2M208.5,475.4l.5-.2M210.2,477.2l1,.4M161.1,406.1l-.5,.2M157.9,405l-.6-1.3M160.8,402.9l1,2.2M156.9,400.6l-.7,1.6M220.3,363.5l-3.3,1.1M217.2,362.3l3.1,1.2M220.5,360l2,.8M262.3,356.1l.8,2M223.7,387.1l-1.1-.4M223.1,384.7l.8,2M175.8,439.2l.8,1.7M159,450.2l.4,.9M162.2,449.5l.4-1M363.2,446.4l-2.1-.8M358.2,446.5l3.2,1.3M365.6,448.1l1.2,.5M297.4,572.7l.5-1.3M300.1,568.6l-.9-2.4M295.8,569.1l1.6,3.6" fill="none" stroke="#989aa4" stroke-width="0.97"/><path d="M229.6,404.1l-.3,1.5-1.5,.2 0,.9M226.8,407.2l.1,.8M226.1,408.9l-.6-.2M224.9,409.9l0,.7 1,.4M229.9,413.6l-.3,2.2M228.6,417.8l.1,1.4M225.9,420.4l-.6-.1M224.6,419.5l-.3,4-.8-.1-.2,.9M222.4,423.9l0,1M221.6,425.7l.2,2.5-1,0 0,.4M218.6,426.8l-.2,.8M218,427.4l0,1.1M213.9,428.2l-2.1,.2M210.2,428.2l-.9-.1M207.9,427.6l.5,2.6-.5,.1-.1,.4-.5-.1 0,.3M206.5,430.7l-.3,1.3-2.7-.6M199.8,430.7l.3,2.1M198,433.4l.2,1M197.4,434.5l.4,2.5-1.1-.3M195.9,437.7l.1,.4-.9-.2M193.7,438.7l0,.7M195.5,442.1l.1,.4-.7,.3M195.4,443.4l-.1,1.1M192.7,443.2l-1.5,.2M190.7,444.4l.3,1.7-1.9,0 .4,1.3-.7-.1-.1,.4M189.1,448.6l-.4,2-4.5,0M183.7,452.8l.5,1.4M183.7,454.7l-2.6-.3M179.9,455.2l-1.7-.4-1.1,.3M179.2,458.3l-1.7,.3M177.9,459.7l0,1.1M177.7,465.5l-1.4,.2M175.4,467.1l.3,1.8M175.6,470.9l-2.5,.7M173.4,474.2l1,.3M175.2,477.2l5.5,1.6M182,479.4l0,.4 3.4,.4M182.5,482.4l-2,.1M179.4,483.1l-2.9,.6-.3,1.3M170.8,487.7l0,.4M171,488.5l2.1,0M176.2,490.3l2.9,.1M178.7,491.7l1.5,.4M175.2,495.4l-1.8,.3-2.8-.6M169.1,494.1l-1.7-.4M166.7,491.1l.2-.8M167.4,489.7l-5-.8M162,488.5l-1-.2 .2-1M158.1,485.6l-1.1-.1M155.9,484.7l-.1-1M149.9,479.6l.3-1M149,477.9l-2.4-.4M145,476.5l-4.3,.2M138.4,478.5l-2,.4M136.2,481.1l0,1.8M131.2,486.9l-.1,1.2M129,494.6l-.4,1.5M129.3,497.8l0,.9M128.3,499.6l-.2,.9-2,.3M124.5,501.8l-3.9,.4M116.5,508l-.3,1.8 3.9,.2 3.8-.6M125.1,508.2l2-.5M129.9,510.1l1.1-.1M133,511.1l2.4,.1 3.4-.8M141.8,507.8l-.1-.6M143.8,506.8l2.1,.1 3.8-1.2 2.8-.1M155.1,504.4l.1-.5-.2,.7M154.8,507.4l-.1,.8M155.5,511.1l-.4,1.4 .3,1.6M153.4,516.3l0,.5M154.1,517.1l.1,1M147.8,521.4l-.2,.6M148.4,522.8l-.1,.6M146.8,525.8l.7,.1-.2,1.4 2.3,.4 3.5-.6 2.5,.8M148.8,535.2l.2,1M144,543.7l-1.6,6.8M140.2,552.6l-.4,2.3 .2,.9M138.4,558.2l-1.1-.3M134.9,557l-4.6-.9M127.4,550.3l.1-1.2M123,546.1l-2,.4M118.8,543.5l-.2-1.2M119.5,541l.2-1.3-3.3-1-.1-1.5M116.9,540.8l.2,1.3M118.3,543.7l0,2M113.2,533.7l-3.6-11-2.6-11.1-1.7-11.6-.8-11 .1-11.9 1.2-12.1-1.1,9.9-.3,10.4 .5,10.3 .9,8.7 1.8,9.9 2.3,9.5 3.1,9.4M113,533.2l-4.2-13.5 3,9.9-3.2-10.9-2.2-10.8 1.5,7.9-2.6-15.7-.9-14.9 .4-10.6 1.3-11.9 2.2-11.4 3.1-10.7M128,406.8l1.6,.3M131.1,405.6l2.7,0M134.7,404.7l4-.8 2.1,.4M141.9,403.4l1.8,.5M145.3,405.1l1.8-.3 2.3,.5 1.6-.5M156.2,407.4l1.6,.2M158.5,406.7l1.1,.1M161.4,408l2-.1 .1-.4 .4-.1 1.5,.3M166.4,408.5l2.1-.3M169.9,409.2l1.8,.2M174.4,409.1l.1-.5 .6-.1-.1-2.3 3.1,.7 0-.9M183.6,404.5l2,0-.2-.9M185.9,402.4l2.2-.4M189.8,401.7l2.9-.4M193.6,399.5l-.3-1.8M193.8,397.2l.7,0-.2-1.1M195,395.4l.3-1.4 1.3,.4 .1-1.7M198,399.4l-.5-2 .6-.2 .2-.8 .6,0M199.4,395.1l.6,0M200.8,394l-.5-3.4M200.3,385.5l.6-.1M201.6,383.4l.2-.6-.4-2.1M201.9,380.2l0-1M204.2,377.4l.2-1.6M205.2,374.2l1.1-.2M208.3,373.6l-.1-.9M209.7,371.1l0-.7 .8-.1M212.2,368l1,.2M213.2,369.8l-1.1,.1M211.6,371.2l-.6,.1M207.7,377.3l.4,5-.4,2.3M209.8,384.8l.2-.7M218.1,386.7l.6,.1M222.1,394.6l.3,2.3M221.6,396.4l-.6,0-.3,1M219.8,397.8l-.1,.7-1.1,0 0,.6M217.8,400l.2,2.3M226.6,401.6l.5,2 .4,0M228.2,403.9l1.4,.2M177.4,557.8l.9-.2 .1,.4 1-.3M186.9,552.9l2-.6 1,.1M191.8,550.8l.9-.1M195.7,549.5l0,1.5M196.2,551.3l3.2-.8 .8,.3M202.7,549.3l.9,.1M210.9,547l-.1,1.3M215.3,547.3l.1,.4M216.6,546.8l.8,.2 0,.5M223.9,541l.2-2.5M226.8,535.9l.4,.1M231.2,530.4l3-10M238.5,513.2l.1,1.2M239.7,513.5l-.1,.8M240.5,511.7l-.3-3.1M239.1,510.9l0-1.3-.5,.1 0-1M236.7,512.1l-.2-1.6 .7-2.9M235.1,509.3l.1-1.8M234.8,504.1l-.1-.4M234.3,502.5l0-.6M230.2,500.5l-.4,.1M228.9,500l-1,.1M224.9,499.4l-.4,.1M223.1,497.3l-1.9,.6M222.1,496.9l-3,.9M218.9,497.1l-5.1,.7M214.1,497.3l-1.1,.1-.3-.1M213,497l-3.3,.4M205.5,500.1l1,.1M206.3,499.1l-1.4-.3M203.4,500.1l0,.7 .7,.2M202.9,501.9l.9-.1M203.6,502.1l1,.2M204.2,503.3l1.8-.2M205.4,505.7l1,.2M204.4,508.1l.7,0M201.4,513.6l.3,.1M200.7,514.9l.1,.4M195.6,520.8l.3,0-.2,1.6M195.2,523.2l-2.1,.6M193.5,524l0,.8 .9,.1M190.6,530.1l-1.9,.3 .1-1.5M175.9,543l-.6,2.8M173.4,548.8l.2,.8M175,550.2l-.1,.8M174.6,552.1l-.1,1.2M175.1,556.4l.5,0-.2,1.9M177.1,521.7l-2.8-.8-3.5,.9-1.1-.4 0-.6-.9,.1-3,.7M163.5,523.9l0-1-2.3-.4-.1-.9M160.5,518.7l-.2-1.2-1.2-.3 0-.4M161.7,514.3l-.1-.9M162.7,512.3l.1-.8M163.4,511l1.2-4.1M163.7,506l-1.2-.2M162.3,503.6l-.2-.9M163.2,503.4l3.3,.5M167.3,504.5l.1,1.1M170.9,505.9l1.6,.3M176.5,505.2l-.5-.1 0-.7-1.4,0M178.8,500.2l.2-1.4M181.3,493.4l0-.8M180.4,491.9l0-1M181,486.7l1.7-.4M183.6,485l4.8-.4 2.2,.5M191.5,486.3l-.4,1.2M190.7,489.7l1,.3M188.9,494.2l-.2,.5 1.3,.3M187.8,496.9l1.5,.2 .1,.5M189,497.9l1,.2M188.2,500.5l-.2,.8M186.1,502.5l.1,.6M186.6,504.1l-.1,.5M185.2,505.4l-.4,1.9M182.6,510.4l-.3,1.4-2.5,.3M178.6,514.2l.4,2.1 .4,.2M202.5,495.3l-.7,.1M201.9,494.4l-.5-.1M202.3,493.8l-.7-.2M201.9,492.9l-.6-.1M202.3,491.8l-.5-.1M203.3,489.8l.1-.6M203.3,488.9l-1.9-.5M204.5,487l-3-.9M201.9,484.9l3.9,1.1M206,487.1l.7,.2M209.7,485.4l1.9-.2M211.5,484.7l2-.4M213.2,484.1l.5-.1M212.3,483.3l2.7,.6M214.6,483.9l3-.9M216.8,483.9l-2,.4M214.2,484.9l6.5,.7M220.1,486.2l2.1,.5M220,488.3l-.1,.4 4,.1M223.5,489.7l3.8,.1M225.9,490.8l1,.1M224.7,493.8l-.1,.9 .3,0M224.6,495.1l.5,0M224.8,495.4l.8-.2M222.8,496.8l-2.3,.3M221.5,496.2l-.5-.1M221.7,495.2l-1.3,.4M220,495.1l-5.4,.6M215.6,494.4l-2.9-.3M213.1,493.6l-.9-.2M212.3,493.2l-.7,0M210.7,494.2l-.2-.7M209.7,493.2l-1.5,.1M206,494.1l-1.9,0M196.6,492.7l-.1-.5M196.3,488.3l.4-1.3M196.3,484.7l-1.8-.6-.1-.5M196.5,482.6l2.7-.2M199.8,484.8l.6,.2M201.2,487.4l1.2,.4M201.4,488.3l-.1,.8M198.6,493l-3,.5M177.3,469.8l.1-.6M177.8,464.5l1.4-.4M180.3,460.1l3.6-.8M182.6,456.3l2.1,.1M185.8,454.5l1.5-.1M187.7,453.9l4.4,1.2M193.9,459.3l-1.2,.1M193.4,461.6l-.9,.1M193.4,463.7l-1.2,.3M192.5,465.1l-1.5,.1M193.1,467.2l-2.5,.3M191.1,468.1l-6.7,.6M184.3,469.6l-1.4,.1-.2,1.8-3,.3M194.9,449.4l.1,.4-.7-.2M193.5,450.1l.6,2.8M195.4,454.2l-.1,.7M196.9,457.1l-.6,.1 0,.4M197.9,459.2l.9-.1M198.4,458.7l.8-.2-.1-.4 1.5,.4 0-.5 1.8-.2M202.4,457l2.1,.2M203.6,456.1l-.3-1.3M198.4,468.9l0-.5M198.4,465.8l.6-.1M197.7,464.7l-.2-.9M198.1,463.3l1.8,.4M200.1,462.9l1.9,.1M201.6,461.6l3,.9M204.7,462.7l-.3,0M205.7,464.1l.1,.8-3.2,.9M204.2,467.4l-.6,0 0,.3M204.4,468.4l-2.7,0M202.3,471.2l-2.1-.4-1.5,.3M185.2,476.1l-.4-1.9 2.6-.5M188.7,472l.8,0 .9,0M192.4,474l-.6,.1 .1,1M192.7,476.5l-.1,.7-1.8,.5M190.1,477.2l-3.3-.6M186.8,482.7l.1-.7M188.2,479.4l3.8,.1M193.5,480.2l.1,.6M194.9,482l-1.4,.5 .1,.3M191.8,484l-3.8,0M196.6,478l-.4-1.3M197.2,476.3l0-.5 2.9-.4M202.6,476l0,.4-.9,0 .1,.6M201.3,477.2l1.5,.5 .2,.7M200.5,479.3l-2.3-.7M211.3,486.7l1-.4 0-.3-1.7-.5 0-.4M210.2,484.9l-2.3-.4M208.3,483.6l-1.3-.3 1.9-.5M208.3,482.2l2.7-.8 3.1-.3 2.7,.7-.6,.1M216.5,482.8l.6,.1-2,.4M217.3,484.2l-2.3,.4M215.3,484.9l-1.8,.5M213.3,486l-2,.7M159.3,497.4l-.6-.1M158.1,493l-.1-1.1M161.5,489.8l2.7,.2M163.4,496.2l-.2,.8M214.8,567.1l1.7-.2M218.8,568.9l1.3,0M223,568.2l1.5,.2M226.2,566l.4,0M225.9,565.3l.4-3.3M220.8,561.4l-.2-.6-.4,.1M217.5,561.5l-.1-.6M216.3,561.3l-.5-1.4 .3-2.1M214.6,558.8l-.6-.1M213.1,559.6l-.1,2.3M214.9,562.6l-.4,.1-.5-1.8M212.1,561.8l.4-.1M213.1,562.5l.4,1.8M232.8,621.8l4.1,.8M238.1,621.4l1.7-.3M241.1,619.4l1.6-.5M249.5,618.7l.5-1.9 .3-4.1M247.2,611.6l-.9-3.7M244,605.7l-.8-3.3M241.5,598.8l0-1.3M242.7,594.7l-.7,.1M239.4,594.8l-.8-.2M238.1,591.4l-.5,.1M235.6,593.6l-.3,5.1M235.7,602.2l.7,2.4M237.1,605.7l1,.1M239.8,604.5l-1.1,4M239.1,609.2l-.9-.2M237.4,610l-1,.1M234.5,615.9l3.5,.2M237.8,618.1l-1.1-.1M232.9,613.9l.8-6.8M231.7,602.2l-.2-.6-.8,0M227.9,603.9l-1,.2M226.1,605.2l-.9,.2-.1,1.5 .6,2.9-.2,1.6M228.8,615.4l1.1,.2M232,613.8l.9,.1M232.6,625.9l-9.8-1.3 9.5,1.3 11.2,.6-8.4-.4 7.7,.4M242,626.1l-.1-2.2M243.6,625l3.4-.3M250.1,622l.6-3M254.6,617.3l.4-2.1M256.3,614.2l.8-3 2.5-.6M260.5,609.2l2.9-.3M265,608.1l0-1.8-.9-3.5 .2-1.7M262.6,597.7l.1-1.4M265.2,594.9l.4-1.6M266.6,592.7l-.1,2M268.3,597.5l.2,1.2-1.5,4.6M271.8,603.9l2.3,.2M278.5,602.8l.9,0M280.2,602.1l1.6,.4 2.9-.9M286.6,599.2l1.2,.1 .2-2.8M287.8,589l.2-1.8 .7,0M289.7,585.2l.6-.2 .7,0M291.9,585.6l-.5-1.9M289.1,579.8l-.3-2.3M291.4,577.2l.8,.1M295.6,575.6l1.2,.2 .3-1.5 .6,0M298,573.7l-.1-.9M291.2,573.7l-.1,1.1-.5,0-.4,2.4-.5,.1M288.1,578.1l0,.8M281,572.9l-.5-2.5M281.2,569.6l-.5-3.3M282.2,563.6l.4-1.8-.4-1.8M279.6,559.2l-1.5-.2-.1,.6-.4,.1 .2,4M276.9,565.5l.1,2.9M275.2,569.9l-.3,2.5M274.5,573.2l.1,2.5M279.3,580.9l-.1,1.1 .4,1.4-.3,2.2M277.5,587.1l.5,2.7M277.8,590.3l1,4-1.3,4.1M268,589.8l-.6,0-.3-1.1M265.4,586.4l-.6,1.9M263.1,591.4l-1.1,0M260.6,590.9l-1-.1M256.2,588.2l.1-1.2M255.7,584.2l-.8-3.6 .2-3.5M259.8,574.4l.7-.1 .4-1.9M262.2,570.5l.3-2.2M263.5,566.6l.2-2.3M264.9,560.4l-.1-2.6M265.7,556l.1-2 .3,0 .2-.8 .2-1.6 .3,0 .2-1.1 .3,0M267.9,548.6l.4,0 0-1.4 .7-.2-.1-1.7 .8-.1 0-1.1M270.7,544.9l1.2,.1 .4-1.3 .9-.2 .2-1.9M274.3,542l.3-1.2M275.2,541.2l.2-.7 1,.1M282,541.7l.1-.5M286.2,543l0-1.2 1.4,.5M292,543.1l1,.1M293.7,542.3l-.2-.7 2.4,.4M297.7,543.4l-.3,1.4M296.6,545.1l0,.5M297.2,546.5l.1,2M292.9,547.9l.8,3M295.8,554.7l1.2,.3M297.7,554.4l1.8,.4-.1-.8M299.2,552l1.7-.4M301,550.1l.5,0M300.9,548.2l0-1.4M301,545.2l0-1.9 .3,0M299,540.7l-.2-.8M297.3,538.1l-.4-1.5M299.2,536.9l.2-1.3 2.3,0M302.4,532.7l-.1-1 1.9,.4M304.9,531.7l-.3-1.6 .5,0M304.1,528.8l.1-1.6 .9-.1M306.4,526.1l-.1-2.3M307.2,522.1l.1-.7 .5-.1M306.3,519.8l-.6-1.8M306.2,517.5l2.2,0M309.4,514.8l-.2-.8 1.5-.2 .4-1.2M301.6,506.5l-.2-1M299.2,502.9l2.1-.2-.1-.4 4.6,.8M308.6,504.7l1.1,0M309.6,504.3l.5-.1 5.6,.8M318.5,506.7l.1,.5 .8,.2M320.8,506.4l0-.6M317.8,503.9l-3.4-.6-.1,.4-.8,.2-2.1-.3M304.8,497.5l1-.1M304.3,494.6l-.1-.4-2.8-.6M299.9,492.1l.7-.1-.1-.9M300.8,489.3l.2-.4M300.5,487.5l-2.4,.4M296,487.2l.2-1.3 .9-.2M293.9,484.2l-1.2-.1M292.7,483.7l0-.9M293.1,481.6l-.1-1.2-1.5-.4M291.2,479.4l-1.4-.2M291.4,477.6l-1.5-.3M290.5,475.2l-.6-.2M289.7,474.3l-3.6-.1M287,473.2l.1-.7M289.7,469.4l-2-.1 .2-.7M290,465.9l-.4-.1 4.4-1.2 2-.1M296.6,465l-.4,1.7 1.4,.2M298.5,466l-.9-.2 0-.8M299.3,463.7l-.3-.1 0-.5-1.9-.2M296.8,462.3l-2.1,0M296.8,459.2l-.1-.6M296.7,457.1l-.8,0M296.1,455.9l-1.3-.2M295.2,455.2l-1.2,.2 0-.6-.5,0M294.1,453.6l-.5,.1-.2-.7M293.8,451.4l-2.9,.6M292.1,450.5l-.7-.1M292.1,449.1l-.4,.2M293.7,446.1l.5-1.5M295.1,443.5l.2-.7M293.4,443.1l-1.9-.1M291.8,439.6l-.8,.2M289.2,439.4l-1-.2 .1-.7M287,438.1l-.1-.6M282.3,439.5l-.1-.4-1,.3 0-.6-.5,.2 .2-1.8M278.9,436l.2-1M278.1,434.4l0-.8M277.5,433.3l.2-.5-.6,.1 .2-1.7M276.8,430.8l-.1-3M274.9,428.4l-.1-.7M273.6,428.2l-.2-1.3M272.3,427.3l0-.9-.5-.1 0-1.5-1.7,.4M268.9,424.9l-.3-3.1 .2-1.9M267.7,419.1l-.2-2.2-.6,.1M263.3,420.6l-.9,.1M262.1,420.2l-.7-5.4-.9-.2M257,418l0-1.4M255,416.9l-.5-.1M248.2,415.5l-1,.2M246.5,414.1l-.2-1.6 .5-4.4-.3-6.1M249.8,398.7l1.6,.5M251.7,399.7l.3-1.4-.1-1.4-1.3-.3M249,394.4l-.2-2.4M248.2,391.3l2.4,.6M253.9,391.2l.6-.2M256,389.1l.8,.2M257.9,387.6l1.2-.3M260.1,387.2l1.2-.2M262.4,386l.5-1.5M263.7,383.8l.5,1.8M267.2,387.7l1-.2M270.4,385.1l1.5-.3M279.3,380l-.7,0M278.2,379.5l.2-.8M282.9,371.8l.9,0 .3-3M292.9,363.8l1.2-.2M296.4,361.1l1.2-.3M298.5,361.3l1.2-.4M295.9,372.5l-.1,2.8M293.8,379.6l-.3,1.8M291.9,382.6l-1.4-.2M288.8,383.6l-1.5-.1M286,384.3l-1.9,.2M278,389.8l-1-.2M273.1,391.7l.1,2.3M275.2,394.2l.2,.7M277.4,394.7l.9-.1M280.1,392.2l.6-.2M281.3,393l.1,.9M282.5,392.9l2.7-.5M291.5,389.8l0,.6M292.8,391.2l0,.5M293.9,392l2.1-.5M296.5,392.5l-.2,2.6 3.1,.4 .2,1.6M300.2,398.1l1.3-.3 1.6,.3 1.8-.6M308.1,399.5l.1,1 1,0M309.5,401.1l.6,0 .1,.7M312.4,400.8l2.2-.1M319.5,401.2l3.3-.9 1.6-.1M326.5,399.9l1,.2 2.9-.6M331.7,398.7l.4-1.6-.2-1.4M329.3,393.3l.2-1.7-1.8,.2M325.7,390l.4-3.3M327.8,383l1.9-.6M336.3,375.1l.7-.1M380.4,437l2.9,9.1-2-6.4 3.4,11.6 1.7,8.5-2.2-10.2 2.1,9.5 1.4,9.3 .7,8.4 .2,9.2-1.2,16.4-1.3,8.7-1.9,8.5-4.7,15M291.5,619.3l-14.7,4 14.8-4.1-9,2.7-12.2,2.6-12.5,1.6-12.6,.5-12.7-.7M243.8,413l-.2,.4-.9,.1M239.5,410l-1.8,.4M234.3,407.5l-.8-.1M235.7,402.4l.3-3.2 .4-.1M236.7,398.5l1.9,.2M241.4,400.2l0,.9M241.8,401.5l1.1,0M246.5,402l.1,3.4M246.1,406.5l-.3,2.4 0,2.5 .7,2.7M330.9,371.6l-.5,2.3M323,380.7l-.3,2M320.9,385l-.5,2.4 1.3,.1M323,385.2l1.6,.4M331.5,377l.4-2.2M297.4,522.2l.5,0M287.9,509.1l.5,0 0-.7M286.7,506.9l.1-.5 2-.1M286.8,503.7l.4,0 0-1 .7,.2M287.3,501.6l-.9-.2 .1,.5M287.4,504.2l-1.2-.2M285.4,504.7l-.9,0M286.5,507l-.6,.1M286.9,509.2l-.6,0 0,.6M288.4,512.6l.3,1.2-.3,0M258.6,526.8l.5,0 .1-2.1M259.8,523.8l-.3-1.5M260.6,522.7l-.5-2.1M260.9,520.3l0-1M261.3,519.1l-.5-1.8 .1-1.3 .3-.1-.2-1.7M258.6,511l.7,2.5M258.3,513.1l.2,3.1M255.9,513.7l-.3,1 .2,3.5M255.2,518l-.1,.4M253.6,518l.2,4.1M258.6,518.1l.3-1.5M260.6,518.3l.1-.7M261.4,517.3l.4-1.4-.3-2.5M260.3,513.8l-.4-.1M259.1,512.6l.1,1.3M258.5,513.1l-.7-.2 .3,1.8-.3-.1-.1,.7M257,515l.6,2.6M270.6,506.9l1.1,.3M273.2,507.7l.5,0M273.9,505.4l0-.5 .6,0M273.9,501.9l.6-.1M274,501.4l.8,0M273,499.7l1.4-.2M272,498.5l-.5,.2M269.4,497.9l-1.5,0M269.6,500.3l-.9-.1M268.5,501l-.4-.1M283.9,482.2l.2-.7 1.2-.4M284.7,479.6l-.5-.1 .1-.3-3.5-.7M281.7,477.8l-.1-.6M282.1,476.9l-1.4,.1-.4-.1M275.6,479.8l1.2,.2M276.2,480.9l3.5,0M279.7,482.2l3.3,.4M282.4,447.3l.1-.3-.8,0M280.7,447.7l-.8,0M280.7,446.3l.3-4.8M278.2,442.9l-.1-1.1M276.6,445.6l-.9,4.4M277.3,449.4l-.2,1.1M278.2,449.8l.1,.3M274.8,441.4l-.6,0 .2-.5M271.9,442.8l-.1-.6M271.2,442.7l.3-1.1M271.3,441.3l-.9,0M270.8,442.4l-.3,1.3M270.9,443.9l-.1,1 .4-.1M246.5,421.9l0-.6M248,421.3l.1,1.3M245.9,421.1l.6,.2 0,.6M233.3,397.7l-1.2-.2M229.9,394.8l.9,0M199,384l-.1,1.1M198,386.2l.1,.7M197.7,387l-2.4-.7M195.7,386.4l.1-2.8M196.6,382.9l.1-.7 1.4,.3M216.3,363.7l3.2-.8M279.8,441.9l.1-.8-.7-.1M279.9,439.4l.1,1.8M281.2,440.7l0,1M280.3,442.1l-.1-.3-.4,.1M190.6,524.4l-.2,.7M190.8,525.4l2.5-.1M299,530.9l.7,.1-.1-.3M299.5,529.3l.4,1.6-.9,0M303,519.2l2.1-.1-.3-1.5M305.5,518.6l-.4,.1 0,.3M285.2,477.7l-1.3-.1M283.4,477.3l.1-.6M284.1,476.3l1.9,.2M153.8,496.3l-.1-1M155.3,495.8l-.1,.8M154.5,498.2l-.1-.4-.8-.2 .2-.5M121.7,504.5l-1.3-.3M191.6,494.2l1.7,.2M191.5,496.8l.1-.9M196.4,480.6l.1-.3 1.3-.4 .1-.4 .5-.1 0,.5M199,481.5l-.1,.5-1.7-.5M175.8,475.4l.8,0M176.2,474l1.1-.3 1.7,.1M180.5,475.2l-.1,.6M179.8,476.6l-1.9,.4M177.1,477.6l0-.4M175.8,476.5l-1-.2M209.8,469l.9,.3M211.3,470.3l-2.1-.1M203.3,460.7l4.7,.2-.1-.7 .4,0M211.1,463.6l-1.7-.1-.1,.5-1.3,.4M208.6,465.7l-3.2-.3M206.9,479.6l1-.1M206.5,477.1l3.4-.3M211.3,476.6l-1.1,.3 0,.3M211.2,477.6l-.6,.1M210,478.3l-2.2,0M208.8,479.7l.7,.3-2.6-.4M162.6,405.7l-1.4-.2-.1,.6M157.8,402.9l1.3-.3 1.7,.3M171.7,406.2l-.2,1.5M171,408.2l-2.4-.6M164.8,403.4l1.4-.1M169.6,405l1.4-.1M169.9,408.5l-1.2-.3M165.8,406.6l.5,0M166.5,406.3l1.7,.5M164.8,407.2l-.8,.1M162,406.8l.1-.7M156.2,402.2l-1.9,.2M150,399.4l-.5-1.6 4.4,.7M215.1,367.4l-1-.2M213.4,367.9l-.9,.1M217,364.6l.2-2.3M221.4,362.1l-1.4-.1 .5-2M235.2,355.6l-3.4,0M263.1,358.1l-1.5,.3M221.5,387.6l-.2-2.1M222,384.5l1.1,.2M198.3,389.2l-1.2-.3M196.7,389.1l0-1.1M192.5,399.5l-1.5-.4 0-.8M177.5,436.3l0,1.6-1.1,.3M177.4,442.8l.1,1.6M177.6,444.6l2.5,.1M180.7,443.7l-.5-1.8M180.7,441.2l0-1.1M158.3,440.3l0,.7 .2,.8-.4,1.3M157.7,445l-.1,1.8M157.1,447.4l.4,1.6M159.4,451.1l1.4-.5M162.2,447.8l0-1.7M161.1,443.4l0-1.5M375,452.9l-.5-2.9M371.7,447.4l-1.8-.2M368.6,446.5l-5.4-.1M359.4,444.5l-1.4-.1-1.5,.5M358.1,445.9l.1,.6M361.4,447.8l4.2,.3M367.4,449.5l1.6,.1M371.2,451l1.6,.4M297.9,571.4l.6-.1M299.2,570.2l.7,0 .2-1.6M299.2,566.2l-1-.1M297.6,566.7l-1.9-.4 .1,2.8" fill="none" stroke="#989aa4" stroke-width="1.02"/>
</g><g clip-path="url(#nclip)">
<path d="M124.7,445l4.1-4.1M204.9,483.6l-15.7,16.1-6.7,6.1M174.2,487.5l-5.9,5.4M294.2,505.5l-8.8-7.8-8.8-9.1M251.9,433.7l4.6-5M303.3,499.4l-7.1-6.4-6.1-6.7M278.1,434.8l3.8-4.1M309.4,489.5l-5-5.2M298.4,437.8l3.5-3M363.7,480.4l-3.5,3.4M322.3,481.5l-4.1-4.1M315.5,447l3.1-2.8M361,446.9l3.3,3.7" fill="none" stroke="#ff0000" stroke-width="0.77"/><path d="M124.7,430.4l5.1-3.8M210,504.5l-16.1,12.5M128.8,440.9l4.8-4.1M288.3,513.9l-11.4-9.1-21.3-18.7-8.1-6.2M213,477.1l-8.1,6.5M128.7,510.5l-4-3.1M186.7,444.9l2.5,3.1M179.8,480.4l-5.6,7.1M134.8,493.4l-3.3-3.8M133.8,456.9l4.1-4.7 4-3.5M276.6,488.6l-9.3-11.2M256.5,428.7l5.2-4.1M290.1,486.3l-5.9-7.9M281.9,430.7l5.2-4M314.5,493.6l-5.1-4.1M304.4,484.3l-4.6-5.9M295.2,441.9l3.2-4.1M357.1,444l3.9,2.9" fill="none" stroke="#ff0000" stroke-width="0.82"/><path d="M124.7,419.3l6.1-3.9M129.8,426.6l6.3-4M292.6,529.2l-11.1-7.1-21.8-15.2M218.1,499.5l-8.1,5M193.9,517l-7.5,5.1M133.6,436.8l5.3-3.7M301.3,522.6l-13-8.7M182.5,505.8l-8.8,6.1M181.8,441.9l4.9,3M168.3,492.9l-6.1,3.8M138.9,496.4l-4.1-3M131.1,461.2l2.7-4.3M141.9,448.7l5.1-3.4M302.9,511.9l-8.7-6.4M267.3,477.4l-9-12.2-5.7-9.1M310.5,504.6l-7.2-5.2M275.5,438.8l2.6-4M320.9,497.7l-6.4-4.1M301.9,434.8l4.6-3.1M363.2,431.4l5.1,3.2M366.4,476.4l-2.7,4M360.2,483.8l-4.1,2.7M326.7,484.6l-4.4-3.1M318.2,477.4l-3.1-4.1M312.7,451l2.8-4M364.3,450.6l2.1,3.4" fill="none" stroke="#ff0000" stroke-width="0.87"/><path d="M124.7,401.4l8.1-4.1M124.7,409.9l7.1-4M130.8,415.4l7.1-3.8M296.2,543l-11.1-5.7-21.3-12.1-9.2-4.5M215,522.3l-17,9.9-8.2,4.1M136.1,422.6l5.8-3.1M304.4,535.4l-11.8-6.2M259.7,506.9l-9.1-5.5M186.4,522.1l-8.9,4.6M129.8,525.3l-5.1-2.8M138.9,433.1l5.1-2.8M313.5,528.8l-12.2-6.2M247.5,479.9l-5.1-3.1-4-2M217.1,474.8l-4.1,2.3M133.8,513.5l-5.1-3M185.3,471.3l-5.5,9.1M131.5,489.6l-2.2-4.1M147,445.3l5.1-2.4M311.5,517l-8.6-5.1M249.7,437.8l2.2-4.1M261.7,424.6l6.8-4.1M317.6,508.7l-7.1-4.1M284.2,478.4l-4.9-8.1M287.1,426.7l5.4-3.1M368.3,496.8l-5.1,3.1M299.8,478.4l-3.6-6.1M293.1,445.9l2.1-4M331.8,487.1l-5.1-2.5M315.1,473.3l-2.6-5M318.6,444.2l4-2.5M353.1,441.7l4,2.3" fill="none" stroke="#ff0000" stroke-width="0.92"/><path d="M131.7,606.3l-7-3.2M124.7,365.3l6.8-2.6M153,606.3l-14.1-5.1-14.2-6.2M124.7,372.1l14.2-5.3M155.1,598.4l-15.2-5.1-15.2-6.3M124.7,379l13.2-5.2M148,587.7l-12.1-4.1-11.2-4.6M124.7,386.2l10.1-4.4 11.2-4M135.9,575.3l-11.2-4.5M124.7,393.6l8.1-3.9 9.1-3.6 9.2-3M135.9,566.8l-11.2-4.4M132.8,397.3l8.1-3.5 9.2-3.3M300.3,569.3l-39.6-13.5M136.9,558.4l-12.2-4.7M131.8,405.9l7.5-3.6 7.7-3.1M309.4,559.9l-11.1-3.9-31.5-14-8.1-3.2M220.1,538.9l-18.7,7.5-8.7,3M135.9,548.9l-11.2-4.5M137.9,411.6l7.2-3.2 8-3M318.6,551.5l-11.2-3.6-11.2-4.9M254.6,520.7l-8.1-3M223.2,518.6l-8.2,3.7M189.8,536.3l-9.3,3.5M135.9,539l-11.2-4.8M141.9,419.5l7.1-3.2M316.5,540.4l-12.1-5M250.6,501.4l-8.2-3.5M222.1,497.7l-4,1.8M177.5,526.7l-9.2,3M134.8,527.5l-5-2.2M144,430.3l6.1-2.9 6.1-2.2M320.6,531.5l-7.1-2.7M238.4,474.8l-4.1-1.4M222.1,473l-5,1.8M173.7,511.9l-8.4,3.7M138.9,515.5l-5.1-2M189.2,448l1.4,4M188.9,463.2l-3.6,8.1M162.2,496.7l-6,2.1M143,498.2l-4.1-1.8M129.3,485.5l-1.3-4M128.9,466.2l2.2-5M152.1,442.9l6.1-2M327.7,523.5l-8.1-2.8-8.1-3.7M252.6,456.1l-3.1-7.1M268.5,420.5l8.7-4 8.9-3.3M360.2,409.4l8.1,2.9M368.3,510.5l-7.1,2.9M324.7,511.8l-7.1-3.1M279.3,470.3l-3.7-8.1M273.7,443.9l1.8-5.1M292.5,423.6l6.8-3 7.1-2.4M362.2,419.4l6.1,2.8M363.2,499.9l-5,2.1M327.4,500.7l-6.5-3M296.2,472.3l-2.7-6.1M306.5,431.7l6-2.8M352.1,426.9l6.1,2.1 5,2.4M368.3,471.6l-1.9,4.8M356.1,486.5l-4,1.7M311.2,455.1l1.5-4.1M322.6,441.7l4.9-1.9M348,439.8l5.1,1.9M366.4,454l1.9,4.8" fill="none" stroke="#ff0000" stroke-width="0.97"/><path d="M138.9,366.8l14.3-4.1M188.9,606.3l-17.5-3.6-16.3-4.3M137.9,373.8l15.2-4.6 15.2-3.5 18.2-3M368.3,603.5l-10.8,2.8M275,606.3l-33.6-5.1-47.7-4.6-21.3-3-12.2-2.6-12.2-3.3M146,377.8l11.2-3.1 13.2-3 13.2-2.2 16.2-2.2 47.9-4.6M368.3,592.7l-13.2,3.1-13.2,1.8-14.2,.6-15.2-.7-16.3-2.1-34.5-6.6-15.2-2.1-16.2-.9-38.6-.1-11.2-.7-10.1-1.2-12.2-2.1-11.2-2.8-11.1-3.6M151.1,383.1l10.1-2.7 22.4-4.3 29.4-3.6 62.9-5.8 37.6-2.1 15.2,0 14.2,.6 13.2,1.3 12.2,2.1M368.3,582.1l-11.2,2.6-11.1,1.4-12.2,.5-12.2-.7-10.1-1.3-11.2-2.1-39.6-10.1-9.1-1.5-8.1-.7-14.3,.4-26.3,3-11.2,.8-11.2,.2-10.1-.5-12.2-1.5-11.2-2.4-11.1-3.4M150.1,390.5l9.1-2.6 10.2-2.4 11.1-2 27.2-3.6 70.3-6.8 35.5-2.2 15.2-.2 14.2,.7 13.2,1.4 12.2,2.2M368.3,571.9l-11.2,2.4-11.1,1.2-12.2,0-12.2-1.3-10.1-1.9-11.2-3M260.7,555.8l-8.1-1.8-7.1-.9-7.1,0-8.1,.8-35.6,8.1-11.1,1.6-10.2,.5-12.2-.5-12.4-2-11.9-3.2M147,399.2l9.2-3 18.2-4.3 24.4-3.5 82.2-8.8 31.5-2.3 16.2-.2 14.2,.6 13.2,1.5 12.2,2.5M368.3,561.8l-11.2,2.4-12.1,1-12.2-.5-12.2-1.9-11.2-2.9M258.7,538.8l-8.1-2.4-8.2-1.3-7.1,.1-8.1,1.4-7.1,2.3M192.7,549.4l-10.2,2.6-10.1,1.4-12.2,.2-12.2-1.5-12.1-3.2M153.1,405.4l16.3-4.3 19.2-3.1 43.7-4.8 54.8-7 25.4-2.2 16.2-.4 14.2,.6 13.2,1.7 12.2,2.7M368.3,552l-12.2,2.5-12.1,.7-12.2-.9-13.2-2.8M246.5,517.7l-8.1-1.4-7.1,.2-8.1,2.1M180.5,539.8l-10.1,2.3-11.2,.8-6.1-.3-6.1-.8-11.1-2.8M149,416.3l14.3-4.5 16.2-3 47.7-4.9 58.3-9.7 14.8-2 13.2-1.2 15.2-.5 14.2,.6 13.2,1.8 12.2,3M368.3,542.2l-6.1,1.6-6.1,1-6.1,.6-7.1,.1-6.1-.5-7.1-1-13.2-3.6M242.4,497.9l-4-1.2-4.1-.6-4-.1-4.1,.6-4.1,1.1M168.3,529.7l-5,1-6.1,.5-5.1,0-6.1-.7-6-1.3-5.2-1.7M156.2,425.2l13.2-3.1 13.1-1.5 28.5-.7 13.2-1.3 13.2-2.8 29.8-8.4 14.8-3.7 16.3-3.2 15.2-1.9 15.2-.8 14.2,.5 13.2,2 12.2,3.4M368.3,532.3l-6.1,1.7-7.1,1.3-6.1,.5-7.1,0-7.1-.8-7.1-1.4-7.1-2.1M234.3,473.4l-4-.8-4.1-.2-4.1,.6M165.3,515.6l-5.1,1.4-5.1,.6-6.1,0-5-.7-5.1-1.4M163.5,439.8l6.9-.3 6.1,.7 5.3,1.7M190.6,452l-.1,5.1-1.6,6.1M156.2,498.8l-4.1,.6-3.1,0-6-1.2M128,481.5l-.7-5.1 .3-5.1 1.3-5.1M158.2,440.9l5.3-1.1M368.3,521.9l-8.1,2.5-8.1,1.4-8.1,.2-8.2-.7-8.1-1.8M249.5,449l-.7-3.1-.2-3 1.1-5.1M286.1,413.2l9.5-2.8 9.8-2.2 10.1-1.6 10.2-.8 9.1-.1 9.2,.6 8.1,1.2 8.1,1.9M361.2,513.4l-6.6,1.6-7.6,.7-7.1-.3-8.1-1.4-7.1-2.2M275.6,462.2l-2-7.1-.5-6.1 .6-5.1M306.4,418.2l8.1-1.9 8.1-1.3 9.2-.6 8.1,.2 8.1,1 7.1,1.5 7.1,2.3M358.2,502l-6.1,1.5-6.1,.6-6.1-.2-6.1-1.1-6.4-2.1M293.5,466.2l-1.6-6.1-.5-5 .5-5.1 1.2-4.1M312.5,428.9l6.1-2 6.1-1.3 7.1-.8 7.1,0 7.1,.8 6.1,1.3M352.1,488.2l-5.1,1.1-5.1,.1-5.1-.7-5-1.6M312.5,468.3l-1.5-5.1-.3-4.1 .5-4M327.5,439.8l5.3-1.1 5.1-.3 5,.3 5.1,1.1" fill="none" stroke="#ff0000" stroke-width="1.02"/>
<g stroke="#000" stroke-width="1" stroke-dasharray="1 3" fill="none"><line x1="246.5" y1="484.5" x2="246.5" y2="604.3"/><line x1="246.5" y1="484.5" x2="306.4" y2="588.3"/><line x1="246.5" y1="484.5" x2="350.3" y2="544.4"/><line x1="246.5" y1="484.5" x2="366.3" y2="484.5"/><line x1="246.5" y1="484.5" x2="350.3" y2="424.6"/><line x1="246.5" y1="484.5" x2="306.4" y2="380.7"/><line x1="246.5" y1="484.5" x2="246.5" y2="364.7"/><line x1="246.5" y1="484.5" x2="186.6" y2="380.7"/><line x1="246.5" y1="484.5" x2="142.7" y2="424.6"/><line x1="246.5" y1="484.5" x2="126.7" y2="484.5"/><line x1="246.5" y1="484.5" x2="142.7" y2="544.4"/><line x1="246.5" y1="484.5" x2="186.6" y2="588.3"/><circle cx="246.5" cy="484.5" r="101.8" fill="none"/><circle cx="246.5" cy="484.5" r="67" fill="none"/><circle cx="246.5" cy="484.5" r="33.2" fill="none"/></g>
</g>
<circle cx="610.5" cy="484.5" r="119.4" fill="none" stroke="#000" stroke-width="1.4"/>
<g clip-path="url(#sclip2)">
<path d="M610.5,503.4l-.9-2.9 0-5-1.5,3.9-.3,.5-.2-.4-.4,.9-.2-.5-.5,.9 .4-3.8-1.7,2.8 .2-1.3-.4,.6-.2-.6 .7-4.2-3.6,5.3 .4-1.4-2.7,3.1 0-.4-.9,.7-1,1.1-.5,.1 .3-.9-.8,.2-3.7,3.3 .4,0-.1,.5-1.8,2.9-.1,1.3 .3,0-.2,.9 1-.8 0,.6 .3-.1-1.1,5 1-.4-.5,2.7 .4,0-.7,2 .9-.7 .4,1 1.3-1.4-.4,1.8 .7,0-.4,1.7 .6-.3 0,.7-.3,0 0-1.5 .4-1.3-.5,.4-.5-.8-2.4,2.9-.9,.4-.5-.5-1.1,1.1-.1-.6-1.5,1.6-1.4,.7-.1-1.7-.4,.1 .3-1.4-1.2,.4 0-1.2-2.3,1.7 .4-1.9-1.1,.8-1-.3-.6,.6-.7-.2-2.1,.9-.1-1.7-2.5,1.3-.1-1.4-.5,.2 .4-1-.7,.1 0-.7-1.3,.4 .2-.8-1-.1-.2-.4-1.7,.7-.5-1.3-1.3,.6 .4-.9-.4-.1 .2-1-.5,0-.2-.7-1.1,.3 .3-1.4-1.1,.2 .1-1.2 .8-1.3-.2-.7-1.6-.1-.6-.8-2.2,.2 .2-.4-1-.4 2.3-2 .1-.4-.5,0 .3-.7 1.6-1.1 1.1-1.5-3.7-1.2 .5-1-2.2-.1-.7-.6 2.7-2.2-.4-.8 .3-.8-1-.1 .7-1.1-2-.6 0-.4 1.3-.9-4.7-.3-.4-.6-3.1-.6 1.2-1-.3-.6 1.7-1.1-.4-.5 .3-.8-.6-.3 1.1-.8-.4-.7 .9-1-2.3-.8-.4-1.3-2.2-.9 1.2-1.3-.3-.3 3.4-1.1 0-.6 .9-.6-2.4-1.5 1.9-1-1.1-.4-1-1.1 3-1.4-2.1-2.1 .8-.7 1.2,0-2.1-1.7 .6-1-1.6-1.1-.5-.7 .3-.7-2.4-1.6 .6-.7-1-1.2 0-.8-1.7-1.6-8.8-6-2-3.7-1.9-1.5 .7-1.1-2.3-1.9-.8-1.7 .2-.6-2-1.9-.1-1.3 .6-1-2.4-3.6 .1-.7 2.4-1.3 0-2.1-1-1.4 .2,3.4 .8,.7 2.5,4.6-.1,.5-.9,.5 .1,.6 2.1,2.6 .8,2.9 .8,1 6.7,5.8 2.2-.2 2,.9 1.7-.4 7.9,2.7 .7-.3-.2-.3 1,0 6.3,6.2 .3,.7-1.1-.1 0,.6-.9,.4 3.3,2.9-.3,.2 .5,1.2 3.4,2.4-1.7,.7 1.4,1.8 1.1,.6-2.9,.2 .5,.5 1.6,.1 3.5-1-.2-1-2.9-2.3 .9-.4 .1-.5 4.3,1 1.2-.5 1.4,.3 .4-.1-.9-.9 .7-.4-.4-.5 1.4,.3 .4-.2-.7-.7 .6-.1 4.5,1.1-.3-.5 .3-.2 1.5,.7-2.5-2.2-.3-.7 .5,.1-.9-1.3 3,1.7 .4-.2 1.2,.5 .2-.9 .9,.4-3.1-5.1-.4-1.9 1.9,1.6 .6-.1-2.5-6.8 0-.9 .8,.1-.2-.6 .4,.1-.7-2.9 1.4,.7 .5-2-1.8-7 .9,.2 .3-1.1 1.1,.5 0-1.2 .9,.4-.1-1.7 .5-.4 .4,.4-.5-2.4 .5-.9 .6,.6 .4-.4 0-1.9 1.2,1.3 .3-.6 .6,.6 0-.6 1.1,.6 1-.4 .3-2 .5,.5-.3-5.3 .6-2.8 1.5,0 .5-2.1 .6-.7 1.5,1.4 .3-1.2 1.1-1.1 .3,.6 .9-.2 1.2,1.3 .8-.4 .9,1.6 .5-1.2 .3,.4 .6-.5 .4-1.5 1.4-1.5 .6,.7 .9,0 1.4-3 .3,.5 .4-.4 .3,1.5 .4-.2 1.3,2 .6-.6 .2,.7 1.1-.5 .5-1.5 .6,.5 .7-.4 .5,.9 .8-.6 0,1.9 1,1.6 1.2-.9 1.1-2.1 2.4-1.3 .8,2.4 1.1-.7 .6,.5 .7-.7 1.5,.4 .6,1 .5-.4 .1,1.2 1.6,1.1 1.9-1.8 .1,1.8 1.2,.5-.2,1.7 .9-.1 .5-.6 0,2.4 .7,.1 1-1.1 .4-.1 .1,.5 1.8-.8 0,.5 1.1,.1-.1,1.2 .9-.5 .8,.5 4-1.6 .5,1.9 2.9,.1-.7,1.7 .4,1.1 3.7-1.3-.1,.5 .7,.1 .2,.6 2.6-.2 .3,.8 1.1,0 1.6-1 .4,.9 .5-.2 .2,.4 .2,1.3 1.7-.3 .5,1 .9-.3 .4,.9-.4,.6 2.8-.6 .4,.5 2.3-1 1.1,.7-.3,1.7 .8,.1-.1,.8 1.2-.4 1.1,.2-.5,2.7-1,1.4 .4,.4-.2,.8 .7,.2-.4,1.5 .7,.2-.6,3.7 .9,1 1.2,0 0,1.2 .9,.7 0,.8 1.5,.7-.3,.5 .4,.3-1.1,1.4 .2,1.2-1.5,1.1 .7,1.2-2.9,1.5-.3,.8-3.4,2.5-6,3.4-.2,.3 1,.7-.7,1.3 2.6-.5 7.6,.5 .4,.8 .7,0 .9,.9 2,.3-.2,.4 1.7,1-.1,.4 .8,.1 2.3,2.1 .7,0-.5,.3 .1,.9 1.9,1.2 .5,1 1,.3 0,1.4 1.3,.9-1.1,.8 2.1,1.1-.4,.9 .5,.5-.5,1.2-1.7,.6-1,1.8 1.7,1.8 .1,.6-1.7,1.2 1.2,1-.3,1.2 1.1,.5 0,.6-.8,.9-1.9,.7 .3,1.2 .9,.8 0,1.2-.5,.4 2.3,2.2 .3,1.3-3.1,.7 .9,1.6-2.8,3.3 .9,.7 0,.6-.9,.6 1.7,3-.6,0-.3,.8-1.3-.1-2.1,1.2 .1,1.3 1.2,1.9-.7,1.3-2.9,.1-.8,1.7 .7,1.5-3,1.6 1.3,2.4-.7,1-1.8,.3-.7,2.1-.9-.1 0,1.6-.8,.4-.1,.6-.7,0 0,.8-.7,.1 .9,2.8-.3,1-.9-.2-.6,1.3-1.3,.6-1.1-.4-.1,.7-.8-.1 0,.9-.9,.2 .5,2.2-2.4-.2-.2,1.4-2.9-.3-.7,1.3-1.1-.2-.5,1 0,1.7-.5,.3-2.5-1-1.3,.1-1.8-1.2-1-.1-.8,.2 0,1-.5,.1-.1,.8-2.3-1.8-1,.4 .1,1.6-.4-.2-.3,.6-1.3-.4-.4,.8-1.4-.7-.4,1.3-1.8-.2-.1,1.9-1-.1 0,.5-1.9-2-1.5-.6-.8-.9-.2,.7-.7-.3-.6,1.1-.5,0-1.4-1-.7-1.4-.4,.9-1.4,.4-1.5-2.1-.2,.5-1.3,.2-.4,1-1.4-.6-.6,1.4-2.6-1.7-.7-.2-.6,.6-.6-1.3-.3-3.9 .6-1.1 0-2.9 .6-1.1 .4,.4 .2-1.3 .3,.4 .4-.6 0-2.2 .6-1.3-.1-1.7 .3,.1 .3-1.1-.8-3.2-1.8-3-.4-1.8 .1-1.6 .6,.3 0-1-.8-5.2-1.6-4-1.2-1.1 0,.4-1.5-2.8 0,.3-.3-.1 .1,.7-.5-.3-.2,.5 .2,2-.7-1.6-.2,.7-.4-.4-1.3-3-.2,.6-.5-1.3-.1,.8-1-4.5-.2,.4-.2-.4-.1,1.9zM581.2,623.5l-10-2.5-9.8-3.2-9.3-3.8-9.3-4.6-8.6-5.1-8.8-6-7.9-6.4-7.9-7.4-7.1-7.7-6.5-8.2-5.7-8.3-5.2-9.1-4.6-9.4-3.9-9.7-3.1-9.8-2.3-9.7-1.9-12.6-.8-12.1 .2-12.6 1.4-12.3-1.6,16 .4,16.6-.5-11.1 .8-14.4 2.1-13.9 3.5-13.8 4.9-13.3 5.9-12.4 7.5-12.3-5.1,8.2-4.7,8.5-3.9,8.8-3.2,8.3 4.9-12.4 6-11.7-4.3,8.1-4.2,9.5-3.2,9-2.6,8.9-3.4,18.1-.8,9.3-.2,9.6 1.4,17.4-1.1-9.9-.3-10.4 .5-10.3 .9-8.7 1.8-9.9 2.3-9.5 3.1-9.4 3.5-8.7 4.1-8.5 5-8.8 5.1-7.7 6.2-8.1 6.5-7.4 6.9-6.8 7.1-6.1 7.8-5.8-8.3,6.2-7.5,6.6-7.1,7.2-6.7,7.7-6.3,8.5-5.5,8.6-4.7,8.8-4,8.8 1.7-3.9-1.3,2.9 .7,1.2 3.4,3.4 .2,1.9 1.3,1.1 1.7,.5 3.1-.8 .1,1.4-1.6,1.8 .4,1.1 1.5,2.1 2.9,.6-1.2,.9 0,1.4-2.2,1.9-3.3,1-4.2,.4-1.1,.6-4.1-1.6-4.1,.4-.2,.6 2.1-7.3 2.1-6.2-3.7,11.9-2.7,11.9 1.3-6.4-2.1,11.5-1.2,12.6-.2,9.2 .5,9.6 2.5,17.2 2.5,10.4 3.2,9.7 4,9.7-4.5-11.2 4.1,10.4 4.9,10 5.2,8.8 5.9,8.5 6.4,7.9 6.8,7.3 7.6,7.1 8,6.4 8.2,5.7 9,5.4 15,7 15.5,5.2-11.7-3.8-6.3-2.4 12.7,4.6zM495.2,421.1l.6-1.2-.4-3 .7-1.1 1.8-.4 .6-1.4 1.8,4.2-.4,1.2-1,.8zM534.5,387.2l1.1-.6 1.5,.7 .4-1.3 .9-.8 1.6,1.5-1.1,.1-1.6,1.2z" fill="#fff77e"/>
<path d="M596.7,502.1l-3.7,3.3M590.3,522.4l-1.1,1.1M589.1,522.9l-1.5,1.6M580.8,521.7l-.6,.6M569.9,519.6l-.4-.4M566.6,512.8l-.4-.3M561.2,510.6l2.3-2M563,502.9l-.1-.2M552,483.8l1.2-1.3-.3-.3M555.6,477l.2-.2M557.6,474.5l-.7-.7M553.9,467.2l.4-.4M551.4,462.2l-1.7-1.6M534.8,444.1l-2-1.9M570.1,473.6l.5,.5M580.9,469.7l-.9-.9M582.1,468l-.7-.7M588,468.3l-2.5-2.2M591.4,434.7l.6,.6 .4-.4M592.4,433l1.2,1.3M593.9,433.7l.6,.6M595.6,434.3l.5-.4M596.9,431.9l.5,.5M599.7,422.2l.6-.7M602.1,421.7l1.1-1.1M604.4,421l1.2,1.3M607.8,422.3l.3,.4M609.1,420.7l1.4-1.5M613.7,417.4l.4-.4M618.5,418.4l.6,.5M628,420.5l.7-.8M632.1,420.9l.5-.4M634.3,422.8l1.9-1.8M638.2,424.9l.5-.6M639.4,426.8l1-1.1M652.1,429.2l.5,.6M675.4,458.6l-.5,.5M665.7,465.3l-.2,.3M677.1,468.4l.9,.9M687.5,490.1l1.2,1M687.1,496.2l.9,.8M688,498.2l-.5,.4 2.3,2.2M679.9,520.2l-.5,.6M671.6,537.4l-.5,.6M667.6,541.9l-.2,.2M661.8,543.7l-.6,.6M640.8,550.7l-1.9-2M626.4,547.2l-.5-.6M622,546.1l-.6,.6M621.7,536.4l.4,.4M622.3,535.5l.3,.4M619.4,509.6l-1.2-1.1M615.1,508.3l-.4-.4M517.5,591.9l-7.9-7.4-7.1-7.7M500.9,394.1l6.5-7.4 6.9-6.8M513.4,380.8l-7.1,7.2M483.8,435.9l1.3,1.1M490,438.1l-1.6,1.8M503.1,577.5l6.8,7.3 7.6,7.1M537.5,386l.9-.8 1.6,1.5" fill="none" stroke="#989aa4" stroke-width="0.77"/><path d="M609.6,495.5l-.6,.7M608.1,499.4l-.3,.5M607.8,499.4l-.2,.1M602.3,498.2l-2.7,3.1M598.7,501.6l-1,1.1M591.5,511l1-.8M591.9,520l.9-.7M592.7,519.9l.5,.4 1.3-1.4M595.1,520l-.5,.4M594.1,519.6l-2.4,2.9M562.4,503.7l.6-.8M560.7,502.6l-.7-.6M562.4,498.5l.2-.3M553.4,493.6l1.2-1M555.8,476.8l-1.2-.9M555.5,472.4l.8-.7M557.5,471.7l-2.1-1.7M551.8,464.9l.6-.7-1-1.2M537.7,448.3l-2.3-1.9M532.2,435.3l1.2-1M532.6,434.2l.8,.7M535,441.1l2.1,2.6M537.9,446.6l.8,1M560.7,455.8l2.1,1.7M565.7,460.9l1.3,1.1M565.3,463.6l3.3,2.9M570.5,471l1.4,1.8M575.7,473.2l-.2-.3M575.5,472.2l-2.9-2.3M587.8,465.9l.4-.2M587,458.7l1.9,1.6M591,437.6l.4,.4M608.1,422.7l.6-.5M610.5,419.2l.6,.7M613.4,416.9l.3,.5M620.3,419.4l.8-.6M622.1,422.3l1.2-.9M624.4,419.3l1-.8M628.7,419.7l.6,.5 .7-.7M667.4,433.5l-.4,.6M676.3,436.1l.3,.3M674.8,440.2l.4,.4M675.4,447l.9,1M675.1,459.4l-3.4,2.5M689.5,479.6l-1.1,.8 .5,.6M690.1,482.4l.5,.5M689.5,493.4l-.8,.9M687.9,504.4l-2.8,3.3 .9,.7M678.4,526.3l-.7,1M651.1,547l-2.3-1.8M637.4,548.1l-.8-.9M630.7,547.6l-1.5-2.1M628.5,545.8l-.5,.7M627.3,547.2l-.3-.3M525.4,598.3l-7.9-6.4M502.5,576.8l-6.5-8.2M494.7,402.2l6.2-8.1M514.3,379.9l7.1-6.1M529.2,368l-8.3,6.2-7.5,6.6M506.3,388l-6.7,7.7M480.2,430.6l1.9,1.5 1.5,1.9M493.2,443.7l-1.2,.9M492,446l-2.2,1.9M496.7,569.6l6.4,7.9M517.5,591.9l8,6.4M499.9,419.4l-1,.8" fill="none" stroke="#989aa4" stroke-width="0.82"/><path d="M605.4,498.5l-.4,.6M605.5,494.3l-3.6,5.3M599.6,500.9l-.9,.7M594.6,520.4l-.5-.8M584.8,521.4l-2.3,1.7M582.9,521.2l-1.1,.8M577.4,523l-.3-.4M571.8,519.3l-.2-.4M565.8,514.1l.8-1.3M564.8,512l-.6-.8M563.4,507.5l1.6-1.1 1.1-1.5M560,502l2.4-1.6M562.3,499l.4-.3M560.3,496l1.3-.9M556.9,494.8l-.4-.6M554.3,492l1.7-1.1M555.3,489.3l1.1-.8M557.2,479.9l-2.4-1.5M556.9,473.4l-1.4-1M555.4,470l.6-1-1.6-1.1M554.2,466.5l-2.4-1.6M549.7,460.6l-8.8-6M538.9,450.9l-1.9-1.5 .7-1.1M533.3,439.9l-2.4-3.6M533.4,432.2l-1-1.4M538.7,447.6l2.7,2.1 1.2,1.7 2.8,2M563.5,458.8l2.3,1.6M568.6,466.5l-.3,.2M568.8,467.9l3.4,2.4M575.8,472.8l-.6-.4M580.7,468.4l-.4-.5M585.7,465.5l-.9-1.3M587.4,440.9l.5,.4M590.5,438l.5-.4M594.5,433.7l1.1,.6M601.1,421.9l.7,1M614.8,418.3l1.3,2M631.5,419.9l.6,1M632.7,421.7l1.6,1.1M663.5,430.5l.2,.4M670.2,434l1.3-.8M675.8,438.8l-1,1.4M677.5,449.2l.9,.7M680,452.2l-1.1,1.4M679.1,454.8l-1.5,1.1M668.7,463.3l-3,2M680,469.6l-.2,.4M682.5,472.2l2,1.4M684.8,474.8l1.9,1.2M687.9,477.8l.3,.3M688.2,478.7l1.3,.9M687.4,486.5l.9,1.3M689.2,488.9l-1.7,1.2M686,509l-.9,.6M682.6,515.8l1.2,1.9M680.2,519.1l-.5,.7 .2,.4M657.5,546.8l-.9-.7M655.3,546.2l-1.8-1.2M647.5,547l-.3,.6M641.8,550.3l-.4-.3M635.7,547.6l-.6,.5M634.6,548.7l-1.4-1M628,546.5l-.3-.3M625.3,548l-2.6-1.7M622.6,535.9l.4-.6M616.5,507l-.5-.3M611.1,502.4l-.6,1M534.2,604.3l-8.8-6M496,568.6l-5.7-8.3M493.1,404.4l-5.1,8.2M489.6,409.9l5.1-7.7M521.4,373.8l7.8-5.8M499.6,395.7l-6.3,8.5-5.5,8.6M488.8,441l1.5,2.1M493.7,565.4l-2.9-4.3 5.9,8.5M525.5,598.3l8.2,5.7M538.9,386.8l-1.6,1.2" fill="none" stroke="#989aa4" stroke-width="0.87"/><path d="M607.6,499.5l-.4,.9M607,499.9l-.5,.9M606.9,497l-1.7,2.8M593.3,505.9l-1.8,2.9M577.3,521.3l-2.5,1.3M569.5,519.2l.4-.6M562.4,500.4l.3-.6M561.6,498.1l.7-1.1M554.6,492.6l-.3-.6M556,490.9l-.4-.5M556.4,488.5l-.4-.7 .8-.5M552.9,482.2l1.7-.8M556.3,480.5l.9-.6M554.8,478.4l1.9-1M554.4,467.9l-.5-.7M554.3,466.8l-.1-.3M540.9,454.6l-2-3.7M532.8,442.2l.3-.6M532.7,440.9l.6-1M533.4,434.9l2.5,4.6M535.8,440l-.9,.5M559.9,456.1l-.2-.3M562.8,457.5l.7,1.3M571.9,472.8l1.1,.6M575.2,472.4l.3-.2M580,468.8l.7-.4M586.5,468.3l-.3-.5M585.5,466.1l-.3-.7M584.8,464.2l3,1.7M589.6,465.3l.9,.4-3.1-5.1M589.7,439.3l.9,.4M590.9,435.6l.5-.9M603.2,420.6l.3,.6M606.4,421.9l.9,1.6M614.4,418.5l.4-.2M616.4,420.4l.3-.7M616.9,420.4l1.1-.5M619.1,418.9l.7-.4 .5,.9M621.1,420.7l1,1.6M623.3,421.4l1.1-2.1M630,419.5l1.1,.6 .4-.2M640.9,426.1l1.8-.8M643.7,427.1l.9-.5 .8,.5M650.9,427.2l.6,.4M661,430.8l1.6-1M665.6,431.9l.5,1M672.5,433l.4,.6M678.4,450.7l1.5,.7-.3,.5 .4,.3M677.6,455.9l.7,1.2-2.9,1.5M674.9,459.1l.2,.3M666.5,466.3l-.7,1.3M679.8,470l1.7,1M682.2,471.5l.3,.7M685.2,473.6l-.5,.3M686.7,476l.5,1M688.2,477.3l-.3,.5M688.4,484.7l-1,1.8M688.3,487.8l.8,.5M688.4,492.3l1.1,.5M688,497l-.3,.6M687,502.8l.9,1.6M685.1,509.6l1.7,3M684.6,513.3l-2.1,1.2M680.1,522.3l-3,1.6 1.3,2.4M672,533.1l.5,.9M672.3,534.9l.6,1M671.1,538l-1.3,.6M662.4,543.4l-.5-.4M659.6,546.8l-.5,.3M645.9,547.2l-.4,.8-1.4-.7M627,546.9l-.6,.3M621.4,546.7l-.6-1.3M620.5,541.5l.6-1.1M621.1,537.5l.6-1.1M623,533.1l.4-.3M623.3,525.9l-1.8-3M621.2,519.5l.6,.3M618.2,508.9l-1.5-2.8M616,506.7l-.2,.5M552.1,614l-9.3-4.6-8.6-5.1M490.3,560.3l-5.2-9.1-4.6-9.4M485.6,416.7l7.5-12.3M488,412.6l-4.7,8.5M481.1,425.8l6-11.7-4.3,8.1M484.6,418.7l5-8.8M487.8,412.8l-4.7,8.8M479.5,429.4l.7,1.2M488,448.2l-1.5,.7M482.3,449.3l-1.1,.6M480.7,542.3l4.9,10 8.1,13.1M533.7,604l9,5.4M495.2,421.1l.6-1.2M495.4,416.9l.7-1.1M534.5,387.2l1.1-.6" fill="none" stroke="#989aa4" stroke-width="0.92"/><path d="M592.5,510.8l.3-.1M591.7,515.7l1-.4M592.6,518l-.7,2M594.4,522.4l.6-.3M591.7,522.5l-.9,.4M587.6,524.5l-1.4,.7M579.5,522.1l-2.1,.9M574.7,521.2l-.5,.2 .4-1M571.6,518.9l-1.7,.7M569.4,518.3l-1.3,.6 .4-.9M567.8,516.9l-.2-.7M566.2,512.5l.2-.4M562,511.4l.2-.4-1-.4M563.5,508.6l.1-.4M563.1,508.2l.3-.7M562.7,499.8l-.4-.8M562.7,498.7l-.3-.2M555.3,494.2l-1.9-.6M555.6,490.4l.3-.8-.6-.3M556.9,486.8l-2.3-.8M554.2,484.7l-2.2-.9M556.7,477.4l-1.1-.4M554.6,475.9l3-1.4M535.4,446.4l-.8-1.7M533.1,441.6l-.4-.7M547.6,453.2l2,.9M555.2,454.7l4,1.7 .7-.3M567,462l.3,.7M565.4,463.3l-.1,.3M568.3,466.7l.5,1.2M572.2,470.3l-1.7,.7M575.5,472.9l.3-.1M572.6,469.9l.9-.4M577.9,470l1.2-.5M581.7,468.2l.4-.2M586.2,467.8l.3-.2 1.5,.7M588.2,465.7l1.2,.5M587.4,460.6l-.2-.4M587.6,460.2l-.6-1.5M589.5,460.2l-2.5-6.8M587.6,452l.4,.1M587.3,449.2l1.4,.7M588.6,440l1.1,.5M593.6,434.3l.3-.6M600.3,421.5l.8,.4M605.6,422.3l.8-.4M607.3,423.5l.5-1.2M612,419.9l1.4-3M618,419.9l.5-1.5M626.8,418l.8,2.4 .4,.1M636.3,422.8l1.2,.5M645.4,427.1l4-1.6M652.8,427.5l-.7,1.7M652.5,430.3l3.7-1.3M656.8,429.6l.2,.6M659.6,430l.3,.8M662.6,429.8l.4,.9M667,432.6l.4,.9M674,436.3l1.2-.4 .1,.3M675,441.4l.7,.2M671.7,461.9l-3,1.4M666.3,465.8l.2,.5M676,467.6l.4,.8M687.2,477l1,.3M688.9,481l1.6,.5-.4,.9M690.6,482.9l-.5,1.2-1.7,.6M688.7,494.3l-1.9,.7M687.7,497.6l.3,.6M690.1,502.1l-1.3,.5M683.8,517.7l-.4,.1M679.4,520.8l.7,1.5M674.3,531.2l-.8,.4M669.8,538.6l-1.1-.4M666.9,539.9l.7,2M663.5,542.9l-1.1,.5M660.1,544.1l-.5,1M648.8,545.2l-1,.4M647.6,546.4l.3,.8-.4-.2M641.4,550l-.6,.2M638.9,548.7l-1.5-.6M636.4,547.9l-.7-.3M633.2,547.7l-.7-1.4-.4,.9M627.7,546.2l-.4,1M625.9,546.6l-.6,1.4M623.5,530.1l.3,.1 .3-1.1M621,513.6l-1.6-4M616.7,506.4l-.3-.1M616,509.2l-.7-1.6M614.7,507.9l-1.3-3M613.2,505.5l-.5-1.3M611.4,500.9l-.2-.4M561.4,617.8l-9.3-3.8M480.5,541.8l-3.9-9.7M474.8,442.4l4.9-13.3 5.9-12.4M483.3,421.1l-3.9,8.8-3.2,8.3 4.9-12.4M482.8,422.2l-4.2,9.5-3.2,9M477,435.9l3.5-8.7 4.1-8.5M483.1,421.6l-4,8.8 1.7-3.9-1.3,2.9M488.4,439.9l.4,1.1M490.3,443.1l1.5,.6M481.2,449.9l-4.1-1.6M474.9,442l2.1-6.2M477.1,533.4l4,9.7-4.5-11.2 4.1,10.4M542.7,609.4l15,7 15.5,5.2M561.5,617.8l-6.3-2.4 12.7,4.6M497.9,415.4l.6-1.4 1.8,4.2-.4,1.2M535.6,386.6l1.5,.7" fill="none" stroke="#989aa4" stroke-width="0.97"/><path d="M610.5,503.4l-.9-2.9 0-5M609,496.2l-.9,3.2M607.8,499.9l0-.5M607.2,500.4l-.2-.5M606.5,500.8l.4-3.8M605.2,499.8l.2-1.3M605,499.1l-.2-.6 .7-4.2M601.9,499.6l.4-1.4M599.6,501.3l0-.4M597.7,502.7l-.5,.1 .3-.9-.8,.2M593,505.4l.4,0-.1,.5M591.5,508.8l-.1,1.3 .3,0-.2,.9M592.5,510.2l0,.6M592.8,510.7l-1.1,5M592.7,515.3l-.5,2.7 .4,0M592.8,519.3l-.1,.6M594.5,518.9l-.4,1.8 .7,0-.4,1.7M595,522.1l0,.7-.3,0 0-1.5 .4-1.3M590.8,522.9l0-.4-.5-.1M589.2,523.5l-.1-.6M586.2,525.2l-.1-1.7-.4,.1 .3-1.4-1.2,.4 0-1.2M582.5,523.1l.4-1.9M581.8,522l-1-.3M580.2,522.3l-.7-.2M577.1,522.6l.2-1.3M574.8,522.6l-.1-1.4M574.6,520.4l-.7,.1 0-.7-1.3,.4 .2-.8-1-.1M569.9,518.6l-.5,.1 0-.4M568.5,518l-.4-.1 .2-1-.5,0M567.6,516.2l-1.1,.3 .3-1.4-1.1,.2 .1-1.2M566.4,512.1l-1.6-.1M564.2,511.2l-1.4,.4-.8-.2M563.6,508.2l-.5,0M566.1,504.9l-3.7-1.2M562.9,502.7l-2.2-.1M562.6,498.2l-1-.1M562.3,497l-2-.6 0-.4M561.6,495.1l-4.7-.3M556.5,494.2l-1.2,0M556.8,487.3l.1-.5M554.6,486l-.4-1.3M554.6,481.4l1.7-.3 0-.6M556.9,473.8l0-.4M556.3,471.7l1.2,0M551.4,463l0-.8M534.6,444.7l.2-.6M530.9,436.3l.1-.7 1.2-.3M533.4,434.3l0-2.1M532.4,430.8l.2,3.4M535.9,439.5l-.1,.5M534.9,440.5l.1,.6M537.1,443.7l.8,2.9M545.4,453.4l2.2-.2M549.6,454.1l1.6-.1 .1-.3 3.9,1M559.7,455.8l1,0M565.8,460.4l-.1,.5M567.3,462.7l-1.1-.1 0,.6-.8,.1M573,473.4l-2.9,.2M570.6,474.1l1.6,.1 3.4-.7 .1-.3M573.5,469.5l.1-.5 1.1,0 3.2,1M579.1,469.5l1.4,.3 .4-.1M580.3,467.9l1.4,.3M581.4,467.3l.6-.1 4.5,1.1M585.2,465.4l.5,.1M589.4,466.2l.2-.9M587.2,460.2l.4,0M588.9,460.3l.6-.1M587,453.4l0-.9 .8,.1-.2-.6M588,452.1l-.7-2.9M588.7,449.9l.5-2-1.8-7M587.9,441.3l0-.3 .4,.1 .3-1.1M589.7,440.5l0-1.2M590.6,439.7l-.1-1.7M591.4,438l-.5-2.4M592.4,434.9l0-1.9M594.5,434.3l0-.6M596.1,433.9l.5,0 .3-2M597.4,432.4l-.3-5.3 .6-2.8 1.5,0 .5-2.1M601.8,422.9l.3-1.2M603.5,421.2l.9-.2M608.7,422.2l.4-1.5M611.1,419.9l.9,0M614.1,417l.3,1.5M616.1,420.3l.3,.1M616.7,419.7l.2,.7M621.1,418.8l0,1.9M625.4,418.5l1.4-.5M632.6,420.5l.1,1.2M636.2,421l.1,1.8M637.5,423.3l-.2,1.7 .9-.1M638.7,424.3l0,2.4 .7,.1M640.4,425.7l.4-.1 .1,.5M642.7,425.3l0,.5 1.1,.1-.1,1.2M649.4,425.5l.5,1.9 1-.2M651.5,427.6l1.3-.1M652.6,429.8l-.1,.5M656.2,429l-.1,.5 .7,.1M657,430.2l1.4-.2 0,.3 1.2-.3M659.9,430.8l1.1,0M663,430.7l.5-.2M663.7,430.9l.2,1.3 1.7-.3M666.1,432.9l.9-.3M667,434.1l2.8-.6 0,.5 .4,0M671.5,433.2l1-.2M672.9,433.6l.7,.1-.3,1.7 .8,.1-.1,.8M675.3,436.2l1-.1M676.6,436.4l-.8,2.4M675.2,440.6l-.2,.8M675.7,441.6l-.4,1.5 .7,.2-.6,3.7M676.3,448l1.2,0 0,1.2M678.4,449.9l0,.8M678.9,453.6l.2,1.2M665.5,465.6l.8,.2M665.8,467.6l2.6-.5 2.3,.4 3.5-.4 1.8,.5M676.4,468.4l.7,0M678,469.3l2,.3M681.5,471l-.1,.4 .8,.1M684.5,473.6l.7,0M684.7,473.9l.1,.9M688.2,478.1l0,.6M689.1,488.3l.1,.6M688.7,491.1l-.3,1.2M689.5,492.8l0,.6M686.8,495l.3,1.2M689.8,500.8l.3,1.3M688.8,502.6l-1.8,.2M686,508.4l0,.6M686.8,512.6l-.6,0-.3,.8-1.3-.1M682.5,514.5l.1,1.3M683.4,517.8l-.3,1.2-2.9,.1M677.7,527.3l-1.8,.3-.7,2.1-.9-.1 0,1.6M673.5,531.6l-.1,.6-.7,0 0,.8-.7,.1M672.5,534l-.2,.9M672.9,535.9l-.3,1-.9-.2-.1,.7M668.7,538.2l-.1,.7-.8-.1 0,.9-.9,.2M667.4,542.1l-2.4-.2-.2,1.4-1.3-.4M661.9,543l-.1,.7M661.2,544.3l-1.1-.2M659.6,545.1l0,1.7M659.1,547.1l-1.6-.3M656.6,546.1l-1.3,.1M653.5,545l-1-.1-.8,.2 0,1-.5,.1-.1,.8M647.8,545.6l-.2,.8M647.2,547.6l-1.3-.4M644.1,547.3l-.4,1.3-1.8-.2-.1,1.9M640.8,550.2l0,.5M636.6,547.2l-.2,.7M635.1,548.1l0,.6-.5,0M632.1,547.2l-1.4,.4M629.2,545.5l-.2,.5-.5-.2M622.7,546.3l-.7-.2M620.8,545.4l-.3-3.9M621.1,540.4l0-2.9M622.1,536.8l.2-1.3M623,535.3l0-2.2M623.4,532.8l.2-1-.1-1.7M624.1,529.1l-.8-3.2M621.5,522.9l-.4-1.8 .1-1.6M621.8,519.8l0-1-.8-5.2M618.2,508.5l0,.4M616.7,506.1l0,.3M616.4,506.3l.1,.7M615.8,507.2l.2,2M615.3,507.6l-.3,0 .1,.7M613.4,504.9l-.2,.6M612.7,504.2l-.1,.8-1-4.5-.2,.4M611.2,500.5l-.1,1.9M581.2,623.5l-10-2.5-9.8-3.2M476.6,532.1l-3.1-9.8-2.3-9.7-1.9-12.6-.8-12.1 .2-12.6 1.4-12.3-1.6,16 .4,16.6-.5-11.1 .8-14.4 2.1-13.9 3.5-13.8M475.4,440.7l-2.6,8.9-2,9-1.4,9.1-.8,9.3-.2,9.6 .5,9 .9,8.4-1.1-9.9-.3-10.4 .5-10.3 .9-8.7 1.8-9.9 2.3-9.5 3.1-9.4M483.6,434l.2,1.9M485.1,437l1.7,.5 3.1-.8 .1,1.4M491.8,443.7l1.4,0M492,444.6l0,1.4M489.8,447.9l-1.8,.3M486.5,448.9l-4.2,.4M477.1,448.3l-4.1,.4-.2,.6 2.1-7.3M477,435.8l-3.7,11.9-2.7,11.9 1.3-6.4-2.1,11.5-1.2,12.6-.2,9.2 .5,9.6 .9,8.1 1.6,9.1 2.5,10.4 3.2,9.7M573.2,621.6l-11.7-3.8M567.9,620l8,2.3-11.9-3.5 8.7,2.7 8.5,2M495.8,419.9l-.4-1.6 0-1.4M496.1,415.8l1.8-.4M498.9,420.2l-3.7,.9M537.1,387.3l.4-1.3M540,386.7l-1.1,.1M537.3,388l-2.8-.8" fill="none" stroke="#989aa4" stroke-width="1.02"/>
</g><g clip-path="url(#sclip)">
<path d="M488.7,367.9l4.7-5.2M488.7,464.2l19.3-17.1M488.7,470.8l19.3-17.8M488.7,477.4l19.1-18.3M488.7,484.1l19.3-19.3 9.1-8.2M488.7,491.1l9.6-10.7 9-9.1 9.8-9.1M497.8,487.5l9.4-10.1 9.3-9.1 9.7-8.6M506.4,484.5l9.7-10.1 9.1-8.6M505,492.6l9.1-10.2 10.1-10.2M513.2,489.6l10-10.8 10.2-9.5M520.2,487.9l10.2-10.5M525.1,488.6l11.1-11.2M525.3,494.7l7-7.9 7.1-7M529,496.7l6.3-7.1 7.2-7.1M538.4,492.3l6.8-6.8M541.9,494.7l6-6.1M545.5,496.9l6.1-6.1M548.8,499.7l5.9-6M552,502.8l5.7-6 6.1-5.4M555.7,505.4l5.3-5.7 5.9-5.2M610.5,484.1l-.4,.4 .4,.3 .4-.3-.4-.4M559.7,507.8l4.8-5 5.5-5.1M610.5,483.7l-.8,.8 .8,.7 .7-.7-.7-.8M563.8,510.5l5.1-5.5 5.1-4.6M567.4,513.9l4.5-5 5.5-5.1M572.5,516l4.5-5 4.5-4.2M581.1,514.4l4.8-4.5M586.1,517.1l4.1-3.8M590.2,521.4l4.5-4.4M607.7,606.3l-4.6-5.1M596.3,524.1l4-4.1M618.2,606.3l-5.3-5.1-4.6-5M601.7,528.1l3.8-4M624.7,601.8l-5-4.6-4.8-5.1M607.9,532.2l3.6-4.1 4.6-4M628.8,594.5l-4.6-4.4M618.4,532.2l4.4-4.1M636.9,589.7l-5.1-4.7M627.7,535.3l4.5-4.1M724.2,580l-6.1,5.5M644.8,583l-6.1-6.1M724.6,534.2l4.7,5.1M654.2,573.8l-4.5-5M649.5,546.4l3.9-4" fill="none" stroke="#ff0000" stroke-width="0.77"/><path d="M488.7,388.3l18.3-15.2M488.7,401.6l19.3-15M488.7,412.1l16.2-12.5M488.7,421.2l18.3-14.1M488.7,429.3l18.3-14.2M488.7,436.9l19.3-15.3M488.7,444l19.3-15.6M488.7,450.9l19.5-16.1M488.7,457.6l19.6-16.7 15.9-12.1M508,447.1l16.2-12.6M508,453l17.2-13.8M507.8,459.1l17.4-14.5M517.1,456.6l9.1-7.5M517.1,462.2l9.1-7.8 9.2-6.9M488.7,498.3l9.1-10.8M526.2,459.7l9.2-7.2M488.7,506.1l8.1-10.4 9.6-11.2M525.2,465.8l9.2-7.5M496.2,503.8l8.8-11.2M524.2,472.2l9.2-8 10.1-7.8M504.1,500.7l9.1-11.1M533.4,469.3l10.1-8M510.4,499.7l9.8-11.8M530.4,477.4l10.4-9.1M514.3,501.8l10.8-13.2M536.2,477.4l11.4-9.4M518.9,502.8l6.4-8.1M539.4,479.8l7.7-6.5M522.8,504.8l6.2-8.1M542.5,482.5l7.1-6.1M526.7,506.8l5.6-7.5 6.1-7M545.2,485.5l7-6.1M535.8,501.8l6.1-7.1M547.9,488.6l7-6.1M539.7,503.8l5.8-6.9M551.6,490.8l6.1-5.3M543.7,505.8l5.1-6.1M554.7,493.7l6.1-5.3M547.1,508.9l4.9-6.1M550.6,511.8l5.1-6.4M555,513.9l4.7-6.1M559.5,516l4.3-5.5M577,519l4.1-4.6M585.9,509.9l5.2-4.1M581.9,522.1l4.2-5M590.2,513.3l5.1-4M598.2,606.3l-8.4-11.2M586.4,526.1l3.8-4.7M594.7,517l4.6-3.8M603.1,601.2l-4.8-6M593,528.1l3.3-4M600.3,520l5.1-4M608.3,596.2l-3.9-5.1M598.6,532.2l3.1-4.1M605.5,524.1l4.8-4.1M630.4,606.3l-5.7-4.5M614.9,592.1l-4-5.1M634.5,599.2l-5.7-4.7M624.2,590.1l-4.4-5.1M615.1,536.3l3.3-4.1M732.3,588.3l-8.1,6.7M642,593.6l-5.1-3.9M631.8,585l-4.3-5.1M624.3,539.3l3.4-4M729,573.8l-4.8,6.2M633.8,544.7l4.1-5.3 5.1-4.4M708.9,539.3l3.6,3.1 2.5,3M713.8,569.8l-3.6,4-3.7,3.1" fill="none" stroke="#ff0000" stroke-width="0.82"/><path d="M507,373.1l8.1-6 6.8-4.4M508,386.6l8.1-5.6M504.9,399.6l13.2-9.2M507,407.1l14.2-9.7M507,415.1l15.2-10.5M508,421.6l15.2-10.6M508,428.4l15.2-10.9M508.2,434.8l16-11.8M524.2,428.8l15.2-9.5M524.2,434.5l8.1-5.6M525.2,439.2l15.3-10M525.2,444.6l8.2-5.8 8.1-5.2M526.2,449.1l8.2-5.9 8.2-5.4M535.4,447.5l8.5-5.6M535.4,452.5l9.1-6.3M534.4,458.3l9.1-6.6M488.7,514.7l7.5-10.9M543.5,456.4l10.2-6.4M495.6,512.9l8.5-12.2M543.5,461.3l10.2-6.8M501.8,511.9l8.6-12.2M540.8,468.3l10.8-7.9M505.4,515l8.9-13.2M547.6,468l12.1-8M513.3,510.9l5.6-8.1M547.1,473.3l9.9-7.1M517.3,512.9l5.5-8.1M549.6,476.4l10.1-7.3M521.4,515l5.3-8.2M552.2,479.4l9.9-7.1M526.1,516l4.5-7.1 5.2-7.1M554.9,482.5l9.9-7.2M534.6,510.9l5.1-7.1M557.7,485.5l9.8-7.1M538.7,512.9l5-7.1M560.8,488.4l9.6-6.9M542.5,515.5l4.6-6.6M563.8,491.4l9.6-6.9M546.5,518l4.1-6.2M566.9,494.5l9.6-7M551,520l4-6.1M570,497.7l10-7.2M555.6,522.1l3.9-6.1M574,500.4l10.1-7.2M563.6,519l3.8-5.1M577.4,503.8l9.8-7.1M568.7,521l3.8-5M581.5,506.8l9.8-7.1M581.2,606.3l-4.2-6.4M573.3,524.1l3.7-5.1M591.1,505.8l5.2-3.3M589.4,606.3l-4.4-6.1M578.3,527.1l3.6-5M595.3,509.3l5-3.3M583.2,531.2l3.2-5.1M599.3,513.2l5.1-3.5M598.3,595.2l-4-6.1M589.7,533.2l3.3-5.1M605.4,516l4.5-3.1M604.4,591.1l-4.1-6.1M610.3,520l5.3-3.6M610.9,587l-3.3-5M605.1,536.3l2.8-4.1M616.1,524.1l5.6-3.9M732.3,601.4l-7.7,4.9M639.9,602.9l-5.4-3.7M619.8,585l-3.6-5.1M612.5,540.3l2.6-4M622.8,528.1l5-3.5M648.1,597.4l-6.1-3.8M627.5,579.9l-3.4-5.1M632.2,531.2l5.7-3.8M727.2,523l5.1,3.2M718.1,585.5l-7.1,4.6M652.1,588.1l-7.3-5.1M638.7,576.9l-4.8-7.1M719,530.2l5.6,4M661.3,578.8l-7.1-5M653.4,542.4l6.1-4.1" fill="none" stroke="#ff0000" stroke-width="0.87"/><path d="M516.1,381l8.1-5.1 7.1-3.8M518.1,390.4l12.2-7.1M521.2,397.4l14.2-8M522.2,404.6l14.2-8.1M523.2,411l14.2-8.3M523.2,417.5l14.2-8.5M681.1,367.8l10-5.1M524.2,423l15.2-9.3M691.7,368.8l11.2-6.1M539.4,419.3l15.3-7.5M687.6,376.7l14.1-6.9 12.5-7.1M532.3,428.9l8.2-4.9 15.2-7.5M696.8,378.1l14.4-7.3 13.8-8.1M540.5,429.2l8.1-4.5M701.9,381.3l14.9-7.4 15.5-9M541.5,433.6l8.1-4.5M717.1,379.5l15.2-8.1M542.6,437.8l8-4.5M717.2,385l15.1-7.5M543.9,441.9l8.7-5M544.5,446.2l9.2-5.3 9.1-4.5M543.5,451.7l9.3-5.8 10-5.1M553.7,450l10.1-5.4M488.7,524.5l6.9-11.6M553.7,454.5l10.1-5.5M494.6,524.1l7.2-12.2M551.6,460.4l11.2-6.6M498.2,528.1l7.2-13.1M559.7,460l8.2-4.4M503.7,528.1l4.1-8.1 5.5-9.1M557,466.2l10.9-6.2M508.6,529.2l4-8.2 4.7-8.1M559.7,469.1l10.4-5.9M516.9,523.1l4.5-8.1M562.1,472.3l10.8-6.1M521.7,524.1l4.4-8.1M564.8,475.3l10.7-6M526,526.1l4.2-8.1 4.4-7.1M567.5,478.4l10.9-6.1M530.4,528.1l4-8.1 4.3-7.1M570.4,481.5l10.9-6.1M538.7,522.1l3.8-6.6M573.4,484.5l11-6.1M543.2,524.1l3.3-6.1M576.5,487.5l11.2-6M547.7,526.1l3.3-6.1M580,490.5l11.2-6M558.4,606.3l-3.5-7.1M552.5,528.1l3.1-6M584.1,493.2l11.2-5.9M565.8,606.3l-3.9-7.1M559.9,525.1l3.7-6.1M587.2,496.7l12.1-6.4M573.3,606.3l-4.2-7.1-3.3-6.5M565,527.1l3.7-6.1M591.3,499.7l12.1-6.2M577,599.9l-3.8-6.8M569.9,530.1l3.4-6M596.3,502.5l12.2-6.2M585,600.2l-3.9-6.4-3.6-6.8M575.6,532.2l2.7-5.1M600.3,506l12.3-6.3M589.8,595.1l-3.6-6-3.1-6.2M604.4,509.7l6.1-3.4M594.3,589.1l-3.1-5.5M609.9,512.9l5.7-3.2M600.3,585l-3-5.6M596.2,536.3l2.4-4.1M615.6,516.4l6.3-3.5M607.6,582l-2.8-5.1M602.9,540.3l2.2-4M621.7,520.2l5.6-3.2M645.9,606.3l-6-3.4M616.2,579.9l-2.9-5.1M627.8,524.6l6.1-3.6M724.2,595l-9,5.2M654.1,600.4l-6-3M624.1,574.8l-2.6-5M621.8,543.4l2.5-4.1M637.9,527.4l6.3-3.3M732.3,567.4l-3.3,6.4M660.2,592.1l-8.1-4M643,535l7.1-4.3M712,526.8l7,3.4M729.3,539.3l3,5.3M703.9,536.4l5,2.9M715,545.4l2.1,4.1M716.2,565.7l-2.4,4.1M706.5,576.9l-6.7,3.8M649.7,568.8l-2.7-5.1M646.7,551.5l2.8-5.1" fill="none" stroke="#ff0000" stroke-width="0.92"/><path d="M531.3,372.1l8.1-3.7 8.2-3M530.3,383.3l13.2-6.1 13.2-4.6M535.4,389.4l13.2-5.8 11.1-3.7M536.4,396.5l14.2-6.4 12.2-4.1M649.5,367.8l13.7-5.1M537.4,402.7l15.2-6.9 12.2-4.1M660.2,370.4l9.1-3.7 8.8-4M537.4,409l15.2-7.2 12.2-4.3M659.2,376.6l11.2-4.1 10.7-4.7M539.4,413.7l14.3-6.7 12.1-4.5M666.3,379.7l12.4-4.8 13-6.1M554.7,411.8l13.2-4.8M660.2,387l14.3-4.9 13.1-5.4M555.7,416.5l13.2-5M666.2,390.1l15.4-5.5 15.2-6.5M548.6,424.7l8.1-3.8 13.2-5M669.4,393.9l16.5-5.8 16-6.8M549.6,429.1l9.1-4.4 13.2-5M670.5,398.2l15.1-5.1 16.3-6.5 15.2-7.1M550.6,433.3l9.1-4.4 13.2-5.1M687.6,397.2l15.3-5.9 14.3-6.3M552.6,436.9l9.2-4.5 13.2-5M688.7,401.5l14.4-5.3 14.8-6.1 14.4-6.7M562.8,436.4l13.2-5.1M688.7,406l14.2-4.9 15.2-5.9 14.2-6.2M562.8,440.8l14.2-5.7M704.1,405.3l13.8-5.1 14.4-5.8M563.8,444.6l14.2-5.7M705.6,409.4l26.7-9.7M563.8,449l13.2-5.6M702.9,414.7l29.4-9.9M488.7,536.6l5.9-12.5M562.8,453.8l14.2-6.3M492.6,541.3l5.6-13.2M567.9,455.6l8.1-3.6 9.1-3.3M497,545.4l2.8-8.1 3.9-9.2M567.9,460l11.1-5 13.2-4.5M505,538.3l3.6-9.1M570.1,463.2l11.4-5.1 12.8-4.2M510.1,539.3l3-8.1 3.8-8.1M572.9,466.2l11.5-5M515.2,540.3l2.9-8.1 3.6-8.1M575.5,469.3l11.7-5M520.3,541.3l2.7-8.1 3-7.1M578.4,472.3l11.8-5M530.4,606.3l-2.8-8.1M527.6,535.3l2.8-7.2M581.3,475.4l11.9-5M537.3,606.3l-3.1-8.1M532.7,536.3l2.7-7.1 3.3-7.1M584.4,478.4l11.9-4.9M544.2,606.3l-3.4-8.1-2.7-8.1M537.5,538.3l2.5-7.1 3.2-7.1M587.7,481.5l12.5-5.1M551.3,606.3l-3.7-8.1-2.7-7.1M544.7,533.2l3-7.1M591.2,484.5l12.7-5.1M554.9,599.2l-3.3-7.8-2.5-7.4M549.6,535.3l2.9-7.2M595.3,487.3l13.2-5.1M561.9,599.2l-3.3-7.1-2.6-7.1M554.8,537.3l2.2-6.1 2.9-6.1M599.3,490.3l13.2-5M565.8,592.7l-2.8-6.7-2.4-7.1M560.1,539.3l2.1-6.1 2.8-6.1M603.4,493.5l14.2-5.3M573.2,593.1l-3.3-7.1-2.3-6.1M567.7,535.3l2.2-5.2M608.5,496.3l14.2-5.1M577.5,587l-2.5-6.1-2.1-6.1M573.4,537.3l2.2-5.1M612.6,499.7l15.2-5.4M583.1,582.9l-2.4-6M579,541.3l1.7-5 2.5-5.1M610.5,506.3l7.1-3.3 15.2-5.4M591.2,583.6l-2.6-5.7-2.2-6.1M585.6,543.4l1.7-5.1 2.4-5.1M615.6,509.7l7.1-3.3 16.2-5.6M597.3,579.4l-2.4-5.6M594,541.3l2.2-5M621.9,512.9l6.6-3 15.5-5.3M604.8,576.9l-2.4-5.9M601.1,545.4l1.8-5.1M627.3,517l6.5-3.1 15.3-5.2M613.3,574.8l-2.2-5M610.7,544.4l1.8-4.1M633.9,521l6.6-3 7.6-2.8M725.6,512.9l6.7,2.7M715.2,600.2l-10.3,4M661.3,603.2l-7.2-2.8M621.5,569.8l-1.9-5.6M619.8,548.5l2-5.1M644.2,524.1l6.9-2.8M714,517.7l6.9,2.3 6.3,3M711,590.1l-8.1,3.5M668.4,594.8l-8.2-2.7M633.9,569.8l-2.7-7.1M631.4,550.5l2.4-5.8M650.1,530.7l8.1-3.4M698.8,534.5l5.1,1.9M717.7,561.6l-1.5,4.1M699.8,580.7l-7.1,2.3M668.4,581.9l-7.1-3.1M659.5,538.3l7.3-3" fill="none" stroke="#ff0000" stroke-width="0.97"/><path d="M547.6,365.4l9-2.7M556.7,372.6l13.2-3.2 13.2-2.4 29-4.3M559.7,379.9l12.2-3.1 13.2-2.6 36.6-5.9 11.5-2.6 10.9-3M562.8,386l13.2-3.3 12.2-2.4 31.4-5.2 15.5-3.3 14.4-4M564.8,391.7l13.2-3.4 13.2-2.6 32.5-5.5 18.3-4.1 18.2-5.7M564.8,397.5l14.2-3.8 14.2-2.9 34.6-5.9 20.7-5 10.7-3.3M565.8,402.5l14.2-3.9 14.3-2.9 37.5-6.5 11.2-2.5 11.1-3 12.2-4M567.9,407l14.2-3.9 13.2-2.7 40.6-7.2 13.2-3.1 11.1-3.1M568.9,411.5l14.2-3.9 14.2-3 41.6-7.4 14.2-3.3 13.1-3.8M569.9,415.9l14.2-4 14.2-3 42.9-7.6 14-3.3 14.2-4.1M571.9,419.7l14.2-3.9 14.2-3 42.4-7.5 14.5-3.3 13.3-3.8M572.9,423.8l15.3-4.3 14.2-2.9 41.6-7.3 14.2-3.2 13.8-3.8 15.6-5.1M575,427.4l15.2-4.2 14.2-2.9 40.6-7.1 14.2-3.2 13.9-3.7 15.6-4.8M576,431.3l15.2-4.3 14.2-2.9 41.6-7.3 14.3-3.1 13.2-3.5 14.2-4.2M577,435.1l15.2-4.3 14.2-3 42.7-7.4 27.4-6.5 27.6-8.6M578,438.9l16.3-4.6 14.2-3 42.6-7.5 27.4-6.3 27.1-8.1M577,443.4l14.2-4.4 17.3-3.8 43.6-7.7 21.3-4.7 29.5-8.1M577,447.5l16.2-5.1 15.3-3.4 41.2-7.3 24-5.1 29.2-7.6 29.4-9.2M488.7,555.2l3.9-13.9M585.1,448.7l9.2-2.7 16.2-3.6 40.6-7.2 23.4-4.9 28.4-7 29.4-8.5M489.3,606.3l-.6-3.1M496.3,606.3l-2-9.1-1.3-9.2-.5-9.1 .1-8.1 .9-9.2 1.4-8.1 2.1-8.1M592.2,450.5l19.3-4.6 41.6-7.4 23.4-4.8 27.4-6.5 28.4-7.6M503.2,606.3l-2.2-9.1-1.4-8.1-.8-9.2-.1-8.1 .6-9.1 1.2-8.2 1.9-8.1 2.6-8.1M594.3,453.9l19.2-4.6 41.7-7.5 23.3-4.7 25.4-5.7 28.4-7M510,606.3l-2.4-9.1-1.6-8.1-1-9.2-.3-8.1 .3-8.1 1.1-8.1 1.6-8.2 2.4-8.1M584.4,461.2l12.9-4.3 19.3-4.5 63.9-11.9 51.8-11.4M516.8,606.3l-2.7-9.1-1.7-8.1-1.2-8.2-.5-8.1 .1-8.1 .8-8.1 1.4-8.1 2.2-8.2M587.2,464.3l13.1-4.3 18.3-4.2 54.8-10.1 58.9-12M523.6,606.3l-2.9-9.1-2-8.1-1.3-8.2-.7-8.1-.1-8.1 .6-8.1 1.4-8.1 1.7-7.2M590.2,467.3l13.2-4.2 22.3-5 106.6-19.7M527.6,598.2l-2.3-8.1-1.6-8.1-1-8.2-.3-8.1 .3-7.1 1-8.1 1.5-7.1 2.4-8.1M593.2,470.4l14.3-4.4 12.1-2.9 17.3-3.4 63.9-11.5 31.5-5.2M534.2,598.2l-2.5-8.1-1.9-8.1-1.1-7.2-.5-8.1 .1-7.1 .8-8.1 1.3-7.1 2.3-8.1M596.3,473.5l14.2-4.3 20.3-4.6 35.8-6.5 37.3-6.3 28.4-4.1M538.1,590.1l-2.1-8.1-1.2-7.2-.8-8.1 0-7.1 .5-7.1 1.2-7.1 1.8-7.1M600.2,476.4l14.4-4.3 22.3-4.9 39.6-7 29.4-4.6 26.4-3.3M544.9,591.1l-2.4-8.1-1.5-7.1-.9-7.1-.4-7.2 .3-7.1 .9-7.1 1.5-7.1 2.3-7.1M603.9,479.4l14.7-4.3 24.4-5.2 36.5-6.4 28.5-4 24.3-2.5M549.1,584l-1.7-7.1-1.2-7.1-.6-7.1 .1-7.1 .7-7.1 1.4-7.2 1.8-6M608.5,482.2l16.2-4.5 25.7-5.4 32.2-5.4 26.4-3.3 23.3-1.8M556,585l-2.1-7.1-1.4-7.1-.9-7.1-.1-7.1 .4-6.1 1.2-7.1 1.7-6.1M612.5,485.3l17.3-4.7 26.4-5.4 29.4-4.7 24.4-2.7 22.3-1.2M560.6,578.9l-1.7-7.1-.9-6.1-.5-7.1 .2-6.1 .9-7.1 1.5-6.1M617.6,488.2l17.5-4.7 25.1-5.1 27.4-4.1 23.4-2.2 21.3-.5M567.6,579.9l-1.8-6.2-1.3-7-.7-7.1 0-6.1 .7-6.1 1.2-6.1 2-6M622.7,491.2l18.3-4.8 24.3-4.8 24.4-3.3 22.3-1.6 20.3,0M572.9,574.8l-1.7-7.1-.8-6.1-.2-6 .4-6.1 1-6.1 1.8-6.1M627.8,494.3l18.2-4.7 23.4-4.4 22.3-2.8 21.3-1 19.3,.7M580.7,576.9l-1.9-6.1-1.2-6.1-.7-6.1 .1-6.1 .6-5.1 1.4-6.1M632.8,497.6l19.3-4.9 21.3-3.7 21.4-2.2 19.2-.5 18.3,1.4M586.4,571.8l-1.5-6.1-.8-6.1-.1-6.1 .5-5 1.1-5.1M638.9,500.8l18.3-4.5 20.3-3.3 20.3-1.6 18.3,.3 16.2,1.9M594.9,573.8l-1.7-5.3-1.2-5.8-.5-6.1 .2-5.1 .8-5.1 1.5-5.1M644,504.6l18.3-4.3 19.3-2.8 18.2-1 17.3,.9 15.2,2.7M602.4,571l-1.6-5.3-.9-5.1-.3-5 .4-5.1 1.1-5.1M649.1,508.7l17.2-3.9 18.3-2.3 17.3-.3 8.1,.5 8.1,1.1 7.1,1.4 7.1,2M611.1,569.8l-1.5-5.1-.8-5.1-.2-5.1 .6-5 1.5-5.1M648.1,515.2l7.6-2.3 16.7-3.3 16.3-1.5 8.1,0 8.1,.5 7.1,.9 7.1,1.5 6.5,1.9M704.9,604.2l-9.8,2.1M674.5,606.3l-6.1-1.1-7.1-2M619.6,564.2l-.9-5.6 .1-5.1 1-5M651.1,521.3l7.2-2.3 8.5-2 8.7-1.4 8.1-.7 8.1-.2 8.1,.4 7.1,1 7.1,1.6M702.9,593.6l-8.1,2.1-8.2,1-9.1-.3-9.1-1.6M631.2,562.7l-.7-6.1 .9-6.1M658.2,527.3l9.1-2.6 9.2-1.6 10.1-.6 9.2,.4 8.1,1.4 8.1,2.5M675.5,533.2l6.1-.6 6,0 5.6,.6 5.6,1.3M717.1,549.5l1.1,4 .2,4.1-.7,4M692.7,583l-8.1,1.2-8.1-.4-8.1-1.9M647,563.7l-.9-3.1-.3-3 .2-3.1 .7-3M666.8,535.3l8.7-2.1" fill="none" stroke="#ff0000" stroke-width="1.02"/>
<g stroke="#000" stroke-width="1" stroke-dasharray="1 3" fill="none"><line x1="610.5" y1="484.5" x2="610.5" y2="364.7"/><line x1="610.5" y1="484.5" x2="670.4" y2="380.7"/><line x1="610.5" y1="484.5" x2="714.3" y2="424.6"/><line x1="610.5" y1="484.5" x2="730.3" y2="484.5"/><line x1="610.5" y1="484.5" x2="714.3" y2="544.4"/><line x1="610.5" y1="484.5" x2="670.4" y2="588.3"/><line x1="610.5" y1="484.5" x2="610.5" y2="604.3"/><line x1="610.5" y1="484.5" x2="550.6" y2="588.3"/><line x1="610.5" y1="484.5" x2="506.7" y2="544.4"/><line x1="610.5" y1="484.5" x2="490.7" y2="484.5"/><line x1="610.5" y1="484.5" x2="506.7" y2="424.6"/><line x1="610.5" y1="484.5" x2="550.6" y2="380.7"/><circle cx="610.5" cy="484.5" r="101.8" fill="none"/><circle cx="610.5" cy="484.5" r="67" fill="none"/><circle cx="610.5" cy="484.5" r="33.2" fill="none"/></g>
</g>
<g class="cl"><text x="199.5" y="98.1" transform="rotate(7 214 95)" textLength="29" lengthAdjust="spacingAndGlyphs">50000</text><text x="219.5" y="136.7" transform="rotate(8.4 234 133.6)" textLength="29" lengthAdjust="spacingAndGlyphs">40000</text><text x="207.2" y="149.4" transform="rotate(6.7 221.7 146.3)" textLength="29" lengthAdjust="spacingAndGlyphs">35000</text><text x="328.9" y="90.5" transform="rotate(-35 343.4 87.4)" textLength="29" lengthAdjust="spacingAndGlyphs">55000</text><text x="337.1" y="112" transform="rotate(-19 351.6 108.9)" textLength="29" lengthAdjust="spacingAndGlyphs">50000</text><text x="334.7" y="130" transform="rotate(-13 349.2 126.9)" textLength="29" lengthAdjust="spacingAndGlyphs">45000</text><text x="360.5" y="136.2" transform="rotate(-6 375 133.1)" textLength="29" lengthAdjust="spacingAndGlyphs">40000</text><text x="348.8" y="151.5" transform="rotate(-8 363.3 148.4)" textLength="29" lengthAdjust="spacingAndGlyphs">35000</text><text x="242.1" y="214.1" transform="rotate(19 256.6 211)" textLength="29" lengthAdjust="spacingAndGlyphs">35000</text><text x="217.5" y="279.1" transform="rotate(38 232 276)" textLength="29" lengthAdjust="spacingAndGlyphs">55000</text><text x="242.1" y="273.7" transform="rotate(35 256.6 270.6)" textLength="29" lengthAdjust="spacingAndGlyphs">50000</text><text x="265.9" y="274.1" transform="rotate(36 280.4 271)" textLength="29" lengthAdjust="spacingAndGlyphs">45000</text><text x="296.3" y="281.1" transform="rotate(32 310.8 278)" textLength="29" lengthAdjust="spacingAndGlyphs">40000</text><text x="297.6" y="177.9" transform="rotate(-7 312.1 174.8)" textLength="29" lengthAdjust="spacingAndGlyphs">30000</text><text x="342.2" y="187" transform="rotate(6 356.7 183.9)" textLength="29" lengthAdjust="spacingAndGlyphs">25000</text><text x="433" y="201.2" transform="rotate(5 447.5 198.1)" textLength="29" lengthAdjust="spacingAndGlyphs">30000</text><text x="398.4" y="254.1" transform="rotate(1 412.9 251)" textLength="29" lengthAdjust="spacingAndGlyphs">25000</text><text x="368.4" y="275.9" transform="rotate(7 382.9 272.8)" textLength="29" lengthAdjust="spacingAndGlyphs">30000</text><text x="371.1" y="298" transform="rotate(6.7 385.6 294.9)" textLength="29" lengthAdjust="spacingAndGlyphs">35000</text><text x="476.4" y="81.1" transform="rotate(46.6 490.9 78)" textLength="29" lengthAdjust="spacingAndGlyphs">55000</text><text x="523.4" y="93.7" transform="rotate(33 537.9 90.6)" textLength="29" lengthAdjust="spacingAndGlyphs">60000</text><text x="474.1" y="119.1" transform="rotate(20 488.6 116)" textLength="29" lengthAdjust="spacingAndGlyphs">50000</text><text x="474.5" y="139.6" transform="rotate(12 489 136.5)" textLength="29" lengthAdjust="spacingAndGlyphs">45000</text><text x="500.2" y="162.4" transform="rotate(31 514.7 159.3)" textLength="29" lengthAdjust="spacingAndGlyphs">40000</text><text x="474.1" y="199.6" transform="rotate(81 488.6 196.5)" textLength="29" lengthAdjust="spacingAndGlyphs">35000</text><text x="496.7" y="239.3" transform="rotate(-74 511.2 236.2)" textLength="29" lengthAdjust="spacingAndGlyphs">45000</text><text x="506.5" y="257.2" transform="rotate(-73 521 254.1)" textLength="29" lengthAdjust="spacingAndGlyphs">50000</text><text x="605.7" y="89.8" transform="rotate(-24 620.2 86.7)" textLength="29" lengthAdjust="spacingAndGlyphs">55000</text><text x="612.5" y="108.5" transform="rotate(-20.6 627 105.4)" textLength="29" lengthAdjust="spacingAndGlyphs">50000</text><text x="613.4" y="123.2" transform="rotate(-18 627.9 120.1)" textLength="29" lengthAdjust="spacingAndGlyphs">45000</text><text x="620.9" y="170.5" transform="rotate(41.6 635.4 167.4)" textLength="29" lengthAdjust="spacingAndGlyphs">35000</text><text x="603.8" y="184.1" transform="rotate(9 618.3 181)" textLength="29" lengthAdjust="spacingAndGlyphs">40000</text><text x="619.3" y="198.8" transform="rotate(9 633.8 195.7)" textLength="29" lengthAdjust="spacingAndGlyphs">45000</text><text x="626.9" y="212.5" transform="rotate(14 641.4 209.4)" textLength="29" lengthAdjust="spacingAndGlyphs">50000</text><text x="603" y="217.9" transform="rotate(9 617.5 214.8)" textLength="29" lengthAdjust="spacingAndGlyphs">55000</text><text x="609.6" y="234.8" transform="rotate(14 624.1 231.7)" textLength="29" lengthAdjust="spacingAndGlyphs">60000</text><text x="602.1" y="256.1" transform="rotate(19 616.6 253)" textLength="29" lengthAdjust="spacingAndGlyphs">65000</text><text x="201.9" y="398.2" transform="rotate(-7 216.4 395.1)" textLength="29" lengthAdjust="spacingAndGlyphs">55000</text><text x="270.5" y="389.7" transform="rotate(-7 285 386.6)" textLength="29" lengthAdjust="spacingAndGlyphs">55000</text><text x="286.7" y="483.7" transform="rotate(38.7 301.2 480.6)" textLength="29" lengthAdjust="spacingAndGlyphs">60000</text><text x="279.5" y="544.1" transform="rotate(17 294 541)" textLength="29" lengthAdjust="spacingAndGlyphs">55000</text><text x="153.6" y="545.2" transform="rotate(-5 168.1 542.1)" textLength="29" lengthAdjust="spacingAndGlyphs">55000</text><text x="597.4" y="385.3" transform="rotate(-5 611.9 382.2)" textLength="29" lengthAdjust="spacingAndGlyphs">30000</text><text x="514.8" y="439.1" transform="rotate(-22 529.3 436)" textLength="29" lengthAdjust="spacingAndGlyphs">35000</text><text x="528.8" y="454" transform="rotate(-19 543.3 450.9)" textLength="29" lengthAdjust="spacingAndGlyphs">40000</text><text x="539.6" y="469.5" transform="rotate(-23.5 554.1 466.4)" textLength="29" lengthAdjust="spacingAndGlyphs">45000</text><text x="549" y="489.6" transform="rotate(-21 563.5 486.5)" textLength="29" lengthAdjust="spacingAndGlyphs">50000</text><text x="563.5" y="505.3" transform="rotate(-22 578 502.2)" textLength="29" lengthAdjust="spacingAndGlyphs">55000</text><text x="572.8" y="541.4" transform="rotate(-58 587.3 538.3)" textLength="29" lengthAdjust="spacingAndGlyphs">60000</text><text x="641.2" y="400.5" transform="rotate(-8 655.7 397.4)" textLength="29" lengthAdjust="spacingAndGlyphs">35000</text><text x="655.7" y="418.5" transform="rotate(-6 670.2 415.4)" textLength="29" lengthAdjust="spacingAndGlyphs">40000</text><text x="667.9" y="435.4" transform="rotate(-5 682.4 432.3)" textLength="29" lengthAdjust="spacingAndGlyphs">45000</text><text x="676.6" y="453.7" transform="rotate(-4 691.1 450.6)" textLength="29" lengthAdjust="spacingAndGlyphs">50000</text><text x="678.7" y="471.7" transform="rotate(-2 693.2 468.6)" textLength="29" lengthAdjust="spacingAndGlyphs">55000</text><text x="678.7" y="494" transform="rotate(0 693.2 490.9)" textLength="29" lengthAdjust="spacingAndGlyphs">60000</text><text x="672.3" y="525.4" transform="rotate(0 686.8 522.3)" textLength="29" lengthAdjust="spacingAndGlyphs">65000</text></g>
<g class="tk"><text x="164.6" y="79.2" textLength="11.9" lengthAdjust="spacingAndGlyphs">60</text><circle cx="178.9" cy="71.4" r="1"/><text x="164.5" y="138.1" textLength="12" lengthAdjust="spacingAndGlyphs">30</text><circle cx="178.9" cy="130.3" r="1"/><text x="170.9" y="179.3" textLength="5.6" lengthAdjust="spacingAndGlyphs">0</text><circle cx="178.9" cy="171.5" r="1"/><text x="160.4" y="221" textLength="15.3" lengthAdjust="spacingAndGlyphs">-30</text><circle cx="178.1" cy="213.2" r="1"/><text x="160.4" y="280" textLength="15.3" lengthAdjust="spacingAndGlyphs">-60</text><circle cx="178.1" cy="272.2" r="1"/><text x="174.4" y="330" textLength="21.4" lengthAdjust="spacingAndGlyphs">-180</text><circle cx="198.2" cy="322.2" r="1"/><text x="253.6" y="330" textLength="21.1" lengthAdjust="spacingAndGlyphs">-120</text><circle cx="277.1" cy="322.2" r="1"/><text x="335.3" y="330" textLength="18.4" lengthAdjust="spacingAndGlyphs">- 60</text><circle cx="356.1" cy="322.2" r="1"/><text x="426.6" y="330" textLength="6.2" lengthAdjust="spacingAndGlyphs">0</text><circle cx="435.2" cy="322.2" r="1"/><text x="500.4" y="330" textLength="12.8" lengthAdjust="spacingAndGlyphs">60</text><circle cx="515.6" cy="322.2" r="1"/><text x="576.9" y="330" textLength="17.6" lengthAdjust="spacingAndGlyphs">120</text><circle cx="596.9" cy="322.2" r="1"/><text x="655.8" y="330" textLength="17.2" lengthAdjust="spacingAndGlyphs">180</text><circle cx="675.4" cy="322.2" r="1"/></g>
<text class="ti" x="253.3" y="36.9" textLength="344.6" lengthAdjust="spacingAndGlyphs">Epoch: 2020 Decyear: 2020 Contour interval: 1000 nT</text>
<text class="ti" x="187.5" y="358" textLength="116.5" lengthAdjust="spacingAndGlyphs">North Polar Region</text>
<text class="ti" x="551.6" y="358" textLength="116.4" lengthAdjust="spacingAndGlyphs">South Polar Region</text>
</svg></body></html>
